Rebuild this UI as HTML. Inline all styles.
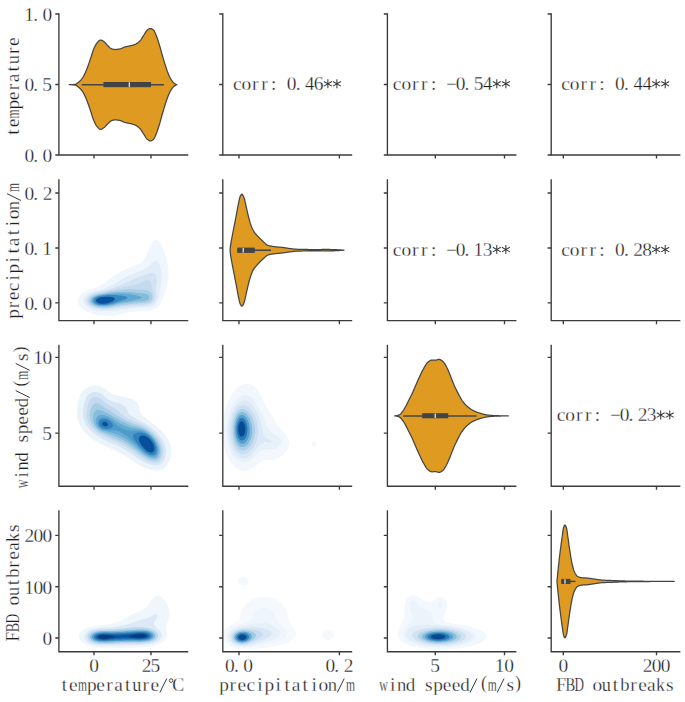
<!DOCTYPE html>
<html><head><meta charset="utf-8"><style>
html,body{margin:0;padding:0;background:#fff;width:685px;height:702px;overflow:hidden}
svg{display:block}
text{font-family:"Liberation Serif",serif;font-size:18.0px;fill:#1e1e1e;stroke:#fff;stroke-width:0.25px}
</style></head><body>
<svg width="685" height="702" viewBox="0 0 685 702">
<rect width="685" height="702" fill="#fff"/>
<defs><clipPath id="clip00"><rect x="58.9" y="14.0" width="128.7" height="141.0"/></clipPath><clipPath id="clip01"><rect x="222.8" y="14.0" width="128.7" height="141.0"/></clipPath><clipPath id="clip02"><rect x="387.4" y="14.0" width="128.30000000000007" height="141.0"/></clipPath><clipPath id="clip03"><rect x="551.2" y="14.0" width="128.5" height="141.0"/></clipPath><clipPath id="clip10"><rect x="58.9" y="180.0" width="128.7" height="140.60000000000002"/></clipPath><clipPath id="clip11"><rect x="222.8" y="180.0" width="128.7" height="140.60000000000002"/></clipPath><clipPath id="clip12"><rect x="387.4" y="180.0" width="128.30000000000007" height="140.60000000000002"/></clipPath><clipPath id="clip13"><rect x="551.2" y="180.0" width="128.5" height="140.60000000000002"/></clipPath><clipPath id="clip20"><rect x="58.9" y="345.4" width="128.7" height="140.8"/></clipPath><clipPath id="clip21"><rect x="222.8" y="345.4" width="128.7" height="140.8"/></clipPath><clipPath id="clip22"><rect x="387.4" y="345.4" width="128.30000000000007" height="140.8"/></clipPath><clipPath id="clip23"><rect x="551.2" y="345.4" width="128.5" height="140.8"/></clipPath><clipPath id="clip30"><rect x="58.9" y="510.9" width="128.7" height="140.80000000000007"/></clipPath><clipPath id="clip31"><rect x="222.8" y="510.9" width="128.7" height="140.80000000000007"/></clipPath><clipPath id="clip32"><rect x="387.4" y="510.9" width="128.30000000000007" height="140.80000000000007"/></clipPath><clipPath id="clip33"><rect x="551.2" y="510.9" width="128.5" height="140.80000000000007"/></clipPath></defs>
<g clip-path="url(#clip10)">
<path d="M154.9 240.5 155.4 240.4 155.9 240.3 156.4 240.4 156.9 240.4 157.1 240.5 157.4 240.6 157.9 240.8 158.2 241.0 158.4 241.1 158.9 241.5 158.9 241.5 159.4 242.0 159.4 242.0 159.9 242.5 159.9 242.5 160.3 243.0 160.4 243.1 160.7 243.5 160.9 243.8 161.0 244.0 161.3 244.5 161.4 244.7 161.6 245.0 161.9 245.5 161.9 245.6 162.1 246.0 162.3 246.5 162.4 246.6 162.6 247.0 162.8 247.5 162.9 247.8 163.0 248.0 163.2 248.5 163.4 249.0 163.4 249.1 163.5 249.5 163.7 250.0 163.9 250.5 163.9 250.6 164.0 251.0 164.2 251.5 164.4 252.0 164.4 252.1 164.5 252.5 164.7 253.0 164.8 253.5 164.9 253.8 165.0 254.0 165.1 254.5 165.2 255.0 165.4 255.5 165.4 255.6 165.5 256.0 165.6 256.5 165.8 257.0 165.9 257.5 165.9 257.5 166.0 258.0 166.2 258.5 166.3 259.0 166.4 259.5 166.4 259.5 166.5 260.0 166.7 260.5 166.8 261.0 166.9 261.5 166.9 261.5 167.0 262.0 167.1 262.5 167.2 263.0 167.3 263.5 167.4 263.8 167.5 264.0 167.6 264.5 167.7 265.0 167.7 265.5 167.8 266.0 167.9 266.4 167.9 266.5 168.0 267.0 168.1 267.5 168.1 268.0 168.2 268.5 168.3 269.0 168.3 269.5 168.4 270.0 168.4 270.5 168.4 270.5 168.4 271.0 168.5 271.5 168.5 272.0 168.5 272.5 168.5 273.0 168.5 273.5 168.5 274.0 168.5 274.5 168.5 275.0 168.4 275.5 168.4 276.0 168.4 276.2 168.4 276.5 168.3 277.0 168.3 277.5 168.2 278.0 168.2 278.5 168.1 279.0 168.1 279.5 168.0 280.0 167.9 280.5 167.9 280.6 167.8 281.0 167.8 281.5 167.7 282.0 167.6 282.5 167.5 283.0 167.4 283.3 167.4 283.5 167.3 284.0 167.2 284.5 167.0 285.0 166.9 285.5 166.9 285.6 166.8 286.0 166.7 286.5 166.5 287.0 166.4 287.5 166.4 287.5 166.3 288.0 166.1 288.5 166.0 289.0 165.9 289.3 165.8 289.5 165.7 290.0 165.5 290.5 165.4 290.9 165.4 291.0 165.2 291.5 165.1 292.0 164.9 292.5 164.9 292.5 164.7 293.0 164.6 293.5 164.4 294.0 164.4 294.0 164.2 294.5 164.1 295.0 163.9 295.5 163.9 295.5 163.8 296.0 163.6 296.5 163.4 297.0 163.4 297.1 163.3 297.5 163.1 298.0 162.9 298.5 162.9 298.5 162.7 299.0 162.5 299.5 162.4 299.9 162.3 300.0 162.1 300.5 161.9 301.0 161.9 301.0 161.7 301.5 161.4 302.0 161.4 302.0 161.2 302.5 160.9 302.9 160.9 303.0 160.6 303.5 160.4 303.7 160.2 304.0 159.9 304.4 159.8 304.5 159.5 305.0 159.4 305.1 159.0 305.5 158.9 305.6 158.5 306.0 158.4 306.1 158.0 306.5 157.9 306.6 157.4 307.0 157.4 307.0 156.9 307.4 156.8 307.5 156.4 307.8 156.1 308.0 155.9 308.1 155.4 308.4 155.2 308.5 154.9 308.7 154.4 308.9 154.2 309.0 153.9 309.1 153.4 309.3 152.9 309.5 152.9 309.5 152.4 309.7 151.9 309.8 151.4 310.0 151.3 310.0 150.9 310.1 150.4 310.2 149.9 310.3 149.4 310.4 148.9 310.5 148.5 310.5 148.4 310.5 147.9 310.6 147.4 310.6 146.9 310.7 146.4 310.7 145.9 310.7 145.4 310.8 144.9 310.8 144.4 310.8 143.9 310.8 143.4 310.9 142.9 310.9 142.4 310.9 141.9 310.9 141.4 311.0 140.9 311.0 140.8 311.0 140.4 311.0 139.9 311.1 139.4 311.1 138.9 311.1 138.4 311.2 137.9 311.2 137.4 311.3 136.9 311.3 136.4 311.4 135.9 311.4 135.4 311.5 135.3 311.5 134.9 311.6 134.4 311.6 133.9 311.7 133.4 311.8 132.9 311.8 132.4 311.9 131.9 312.0 131.8 312.0 131.4 312.1 130.9 312.2 130.4 312.2 129.9 312.3 129.4 312.4 128.9 312.5 128.9 312.5 128.4 312.6 127.9 312.7 127.4 312.8 126.9 312.9 126.4 313.0 126.3 313.0 125.9 313.1 125.4 313.2 124.9 313.3 124.4 313.4 123.9 313.5 123.8 313.5 123.4 313.6 122.9 313.7 122.4 313.8 121.9 313.9 121.4 314.0 121.3 314.0 120.9 314.1 120.4 314.2 119.9 314.3 119.4 314.4 118.9 314.5 118.7 314.5 118.4 314.6 117.9 314.7 117.4 314.8 116.9 314.8 116.4 314.9 115.9 315.0 115.9 315.0 115.4 315.1 114.9 315.2 114.4 315.2 113.9 315.3 113.4 315.4 112.9 315.4 112.4 315.5 112.1 315.5 111.9 315.5 111.4 315.6 110.9 315.6 110.4 315.7 109.9 315.7 109.4 315.7 108.9 315.8 108.4 315.8 107.9 315.8 107.4 315.8 106.9 315.8 106.4 315.8 105.9 315.8 105.4 315.8 104.9 315.8 104.4 315.8 103.9 315.7 103.4 315.7 102.9 315.7 102.4 315.7 101.9 315.6 101.4 315.6 100.9 315.5 100.8 315.5 100.4 315.5 99.9 315.4 99.4 315.3 98.9 315.3 98.4 315.2 97.9 315.1 97.5 315.0 97.4 315.0 96.9 314.9 96.4 314.8 95.9 314.7 95.4 314.6 95.1 314.5 94.9 314.5 94.4 314.3 93.9 314.2 93.4 314.1 93.2 314.0 92.9 313.9 92.4 313.8 91.9 313.6 91.6 313.5 91.4 313.4 90.9 313.3 90.4 313.1 90.2 313.0 89.9 312.9 89.4 312.7 89.0 312.5 88.9 312.5 88.4 312.3 87.9 312.0 87.8 312.0 87.4 311.8 86.9 311.6 86.8 311.5 86.4 311.3 85.9 311.0 85.8 311.0 85.4 310.8 85.0 310.5 84.9 310.5 84.4 310.2 84.2 310.0 83.9 309.8 83.4 309.5 83.4 309.5 82.9 309.1 82.7 309.0 82.4 308.7 82.1 308.5 81.9 308.3 81.5 308.0 81.4 307.9 81.0 307.5 80.9 307.4 80.5 307.0 80.4 306.8 80.1 306.5 79.9 306.2 79.7 306.0 79.4 305.5 79.4 305.5 79.1 305.0 78.9 304.7 78.8 304.5 78.5 304.0 78.4 303.6 78.4 303.5 78.2 303.0 78.1 302.5 78.0 302.0 77.9 301.5 77.9 301.0 77.9 300.5 78.0 300.0 78.1 299.5 78.2 299.0 78.4 298.5 78.4 298.4 78.6 298.0 78.8 297.5 78.9 297.4 79.1 297.0 79.4 296.5 79.4 296.5 79.8 296.0 79.9 295.9 80.2 295.5 80.4 295.3 80.7 295.0 80.9 294.8 81.2 294.5 81.4 294.3 81.8 294.0 81.9 293.9 82.4 293.5 82.4 293.5 82.9 293.1 83.1 293.0 83.4 292.8 83.8 292.5 83.9 292.5 84.4 292.1 84.6 292.0 84.9 291.9 85.4 291.6 85.6 291.5 85.9 291.3 86.4 291.1 86.6 291.0 86.9 290.8 87.4 290.6 87.6 290.5 87.9 290.4 88.4 290.2 88.9 290.0 88.9 290.0 89.4 289.8 89.9 289.6 90.2 289.5 90.4 289.4 90.9 289.2 91.4 289.1 91.6 289.0 91.9 288.9 92.4 288.7 92.9 288.6 93.1 288.5 93.4 288.4 93.9 288.2 94.4 288.1 94.6 288.0 94.9 287.9 95.4 287.7 95.9 287.5 96.0 287.5 96.4 287.4 96.9 287.2 97.4 287.0 97.4 287.0 97.9 286.8 98.4 286.6 98.5 286.5 98.9 286.3 99.4 286.1 99.6 286.0 99.9 285.8 100.4 285.6 100.5 285.5 100.9 285.3 101.3 285.0 101.4 285.0 101.9 284.6 102.1 284.5 102.4 284.3 102.9 284.0 102.9 284.0 103.4 283.6 103.6 283.5 103.9 283.3 104.3 283.0 104.4 282.9 104.9 282.6 105.0 282.5 105.4 282.2 105.7 282.0 105.9 281.8 106.3 281.5 106.4 281.5 106.9 281.1 107.0 281.0 107.4 280.7 107.7 280.5 107.9 280.3 108.3 280.0 108.4 279.9 108.9 279.6 109.0 279.5 109.4 279.2 109.6 279.0 109.9 278.8 110.3 278.5 110.4 278.4 110.9 278.1 111.0 278.0 111.4 277.7 111.7 277.5 111.9 277.3 112.4 277.0 112.4 277.0 112.9 276.6 113.1 276.5 113.4 276.3 113.8 276.0 113.9 275.9 114.4 275.6 114.6 275.5 114.9 275.3 115.3 275.0 115.4 274.9 115.9 274.6 116.1 274.5 116.4 274.3 116.9 274.0 116.9 274.0 117.4 273.7 117.7 273.5 117.9 273.4 118.4 273.1 118.5 273.0 118.9 272.8 119.4 272.5 119.4 272.5 119.9 272.2 120.3 272.0 120.4 271.9 120.9 271.7 121.2 271.5 121.4 271.4 121.9 271.1 122.2 271.0 122.4 270.9 122.9 270.6 123.1 270.5 123.4 270.4 123.9 270.1 124.1 270.0 124.4 269.9 124.9 269.6 125.2 269.5 125.4 269.4 125.9 269.2 126.2 269.0 126.4 268.9 126.9 268.7 127.3 268.5 127.4 268.5 127.9 268.3 128.4 268.0 128.5 268.0 128.9 267.8 129.4 267.6 129.7 267.5 129.9 267.4 130.4 267.2 130.9 267.0 130.9 267.0 131.4 266.8 131.9 266.6 132.1 266.5 132.4 266.4 132.9 266.2 133.4 266.0 133.4 266.0 133.9 265.8 134.4 265.6 134.7 265.5 134.9 265.4 135.4 265.2 135.9 265.0 136.0 265.0 136.4 264.8 136.9 264.6 137.2 264.5 137.4 264.4 137.9 264.2 138.4 264.0 138.4 264.0 138.9 263.7 139.4 263.5 139.4 263.5 139.9 263.2 140.3 263.0 140.4 263.0 140.9 262.7 141.1 262.5 141.4 262.3 141.8 262.0 141.9 262.0 142.4 261.6 142.5 261.5 142.9 261.1 143.0 261.0 143.4 260.6 143.5 260.5 143.9 260.0 143.9 260.0 144.3 259.5 144.4 259.3 144.6 259.0 144.9 258.6 144.9 258.5 145.2 258.0 145.4 257.7 145.5 257.5 145.7 257.0 145.9 256.7 146.0 256.5 146.2 256.0 146.4 255.5 146.4 255.5 146.6 255.0 146.8 254.5 146.9 254.2 147.0 254.0 147.1 253.5 147.3 253.0 147.4 252.7 147.5 252.5 147.7 252.0 147.8 251.5 147.9 251.3 148.0 251.0 148.2 250.5 148.3 250.0 148.4 249.8 148.5 249.5 148.7 249.0 148.9 248.5 148.9 248.5 149.1 248.0 149.3 247.5 149.4 247.2 149.5 247.0 149.7 246.5 149.9 246.1 149.9 246.0 150.2 245.5 150.4 245.1 150.5 245.0 150.7 244.5 150.9 244.2 151.0 244.0 151.4 243.5 151.4 243.4 151.7 243.0 151.9 242.8 152.1 242.5 152.4 242.2 152.6 242.0 152.9 241.7 153.1 241.5 153.4 241.3 153.8 241.0 153.9 241.0 154.4 240.7 154.9 240.5 154.9 240.5Z" fill="#f0f6fd" fill-rule="evenodd"/>
<path d="M154.4 261.0 154.4 261.0 154.9 260.7 155.4 260.6 155.9 260.6 156.4 260.8 156.9 261.0 156.9 261.0 157.4 261.4 157.5 261.5 157.9 262.0 157.9 262.0 158.2 262.5 158.4 262.7 158.6 263.0 158.8 263.5 158.9 263.6 159.1 264.0 159.3 264.5 159.4 264.7 159.5 265.0 159.7 265.5 159.9 266.0 159.9 266.1 160.0 266.5 160.2 267.0 160.3 267.5 160.4 267.7 160.5 268.0 160.6 268.5 160.7 269.0 160.8 269.5 160.9 269.8 160.9 270.0 161.0 270.5 161.1 271.0 161.2 271.5 161.3 272.0 161.3 272.5 161.4 272.9 161.4 273.0 161.5 273.5 161.5 274.0 161.5 274.5 161.6 275.0 161.6 275.5 161.6 276.0 161.6 276.5 161.6 277.0 161.6 277.5 161.6 278.0 161.6 278.5 161.6 279.0 161.6 279.5 161.5 280.0 161.5 280.5 161.4 281.0 161.4 281.4 161.4 281.5 161.3 282.0 161.3 282.5 161.2 283.0 161.1 283.5 161.0 284.0 160.9 284.5 160.9 284.6 160.8 285.0 160.7 285.5 160.6 286.0 160.5 286.5 160.4 286.9 160.4 287.0 160.3 287.5 160.1 288.0 160.0 288.5 159.9 289.0 159.9 289.0 159.8 289.5 159.7 290.0 159.6 290.5 159.5 291.0 159.4 291.5 159.4 291.8 159.4 292.0 159.3 292.5 159.3 293.0 159.2 293.5 159.2 294.0 159.1 294.5 159.0 295.0 159.0 295.5 158.9 296.0 158.9 296.2 158.9 296.5 158.8 297.0 158.7 297.5 158.6 298.0 158.4 298.5 158.4 298.6 158.3 299.0 158.1 299.5 157.9 300.0 157.9 300.1 157.7 300.5 157.5 301.0 157.4 301.2 157.2 301.5 156.9 302.0 156.9 302.0 156.6 302.5 156.4 302.7 156.2 303.0 155.9 303.3 155.8 303.5 155.4 303.9 155.3 304.0 154.9 304.3 154.7 304.5 154.4 304.7 154.0 305.0 153.9 305.1 153.4 305.4 153.2 305.5 152.9 305.7 152.4 305.9 152.2 306.0 151.9 306.1 151.4 306.3 150.9 306.5 150.9 306.5 150.4 306.7 149.9 306.8 149.4 306.9 149.0 307.0 148.9 307.0 148.4 307.1 147.9 307.2 147.4 307.3 146.9 307.3 146.4 307.4 145.9 307.4 145.4 307.4 144.9 307.5 144.5 307.5 144.4 307.5 143.9 307.5 143.4 307.6 142.9 307.6 142.4 307.6 141.9 307.6 141.4 307.7 140.9 307.7 140.4 307.7 139.9 307.7 139.4 307.8 138.9 307.8 138.4 307.8 137.9 307.9 137.4 307.9 136.9 307.9 136.4 308.0 136.0 308.0 135.9 308.0 135.4 308.0 134.9 308.1 134.4 308.1 133.9 308.2 133.4 308.2 132.9 308.3 132.4 308.3 131.9 308.4 131.4 308.4 130.9 308.5 130.9 308.5 130.4 308.6 129.9 308.6 129.4 308.7 128.9 308.7 128.4 308.8 127.9 308.8 127.4 308.9 126.9 309.0 126.6 309.0 126.4 309.0 125.9 309.1 125.4 309.2 124.9 309.2 124.4 309.3 123.9 309.4 123.4 309.4 122.9 309.5 122.7 309.5 122.4 309.5 121.9 309.6 121.4 309.7 120.9 309.7 120.4 309.8 119.9 309.9 119.4 309.9 119.0 310.0 118.9 310.0 118.4 310.1 117.9 310.2 117.4 310.2 116.9 310.3 116.4 310.4 115.9 310.4 115.4 310.5 115.3 310.5 114.9 310.5 114.4 310.6 113.9 310.7 113.4 310.7 112.9 310.8 112.4 310.8 111.9 310.9 111.4 310.9 110.9 311.0 110.4 311.0 110.3 311.0 109.9 311.0 109.4 311.1 108.9 311.1 108.4 311.1 107.9 311.1 107.4 311.1 106.9 311.2 106.4 311.2 105.9 311.2 105.4 311.2 104.9 311.2 104.4 311.1 103.9 311.1 103.4 311.1 102.9 311.1 102.4 311.1 101.9 311.1 101.4 311.0 101.2 311.0 100.9 311.0 100.4 310.9 99.9 310.9 99.4 310.9 98.9 310.8 98.4 310.7 97.9 310.7 97.4 310.6 97.0 310.5 96.9 310.5 96.4 310.4 95.9 310.3 95.4 310.2 94.9 310.1 94.6 310.0 94.4 310.0 93.9 309.8 93.4 309.7 92.9 309.5 92.9 309.5 92.4 309.4 91.9 309.2 91.4 309.0 91.4 309.0 90.9 308.8 90.4 308.6 90.3 308.5 89.9 308.3 89.4 308.1 89.2 308.0 88.9 307.8 88.4 307.5 88.4 307.5 87.9 307.2 87.6 307.0 87.4 306.9 86.9 306.5 86.9 306.5 86.4 306.1 86.3 306.0 85.9 305.6 85.8 305.5 85.4 305.1 85.3 305.0 84.9 304.5 84.9 304.5 84.5 304.0 84.4 303.7 84.3 303.5 84.0 303.0 83.9 302.7 83.8 302.5 83.7 302.0 83.6 301.5 83.5 301.0 83.5 300.5 83.6 300.0 83.7 299.5 83.8 299.0 83.9 298.8 84.0 298.5 84.3 298.0 84.4 297.8 84.5 297.5 84.9 297.0 84.9 297.0 85.3 296.5 85.4 296.4 85.8 296.0 85.9 295.9 86.3 295.5 86.4 295.4 86.9 295.0 86.9 295.0 87.4 294.6 87.6 294.5 87.9 294.3 88.4 294.0 88.4 294.0 88.9 293.7 89.3 293.5 89.4 293.4 89.9 293.2 90.3 293.0 90.4 292.9 90.9 292.7 91.4 292.5 91.5 292.5 91.9 292.3 92.4 292.1 92.8 292.0 92.9 292.0 93.4 291.8 93.9 291.6 94.4 291.5 94.4 291.5 94.9 291.4 95.4 291.2 95.9 291.1 96.3 291.0 96.4 291.0 96.9 290.8 97.4 290.7 97.9 290.6 98.4 290.5 98.4 290.5 98.9 290.4 99.4 290.2 99.9 290.1 100.4 290.0 100.4 290.0 100.9 289.8 101.4 289.7 101.9 289.5 102.0 289.5 102.4 289.4 102.9 289.2 103.4 289.0 103.5 289.0 103.9 288.8 104.4 288.6 104.7 288.5 104.9 288.4 105.4 288.2 105.9 288.0 105.9 288.0 106.4 287.8 106.9 287.5 107.0 287.5 107.4 287.3 107.9 287.1 108.1 287.0 108.4 286.8 108.9 286.6 109.1 286.5 109.4 286.4 109.9 286.1 110.2 286.0 110.4 285.9 110.9 285.7 111.2 285.5 111.4 285.4 111.9 285.2 112.2 285.0 112.4 284.9 112.9 284.7 113.2 284.5 113.4 284.4 113.9 284.1 114.1 284.0 114.4 283.8 114.9 283.5 115.0 283.5 115.4 283.2 115.8 283.0 115.9 282.9 116.4 282.6 116.6 282.5 116.9 282.3 117.4 282.0 117.4 282.0 117.9 281.7 118.2 281.5 118.4 281.4 118.9 281.1 119.0 281.0 119.4 280.7 119.8 280.5 119.9 280.4 120.4 280.1 120.6 280.0 120.9 279.8 121.4 279.5 121.4 279.5 121.9 279.2 122.3 279.0 122.4 278.9 122.9 278.6 123.1 278.5 123.4 278.3 123.9 278.1 124.0 278.0 124.4 277.8 124.9 277.5 125.0 277.5 125.4 277.3 125.9 277.0 125.9 277.0 126.4 276.8 126.9 276.5 127.0 276.5 127.4 276.3 127.9 276.1 128.0 276.0 128.4 275.8 128.9 275.6 129.1 275.5 129.4 275.4 129.9 275.2 130.3 275.0 130.4 275.0 130.9 274.7 131.4 274.5 131.5 274.5 131.9 274.3 132.4 274.1 132.7 274.0 132.9 273.9 133.4 273.7 133.9 273.5 134.0 273.5 134.4 273.3 134.9 273.1 135.3 273.0 135.4 273.0 135.9 272.8 136.4 272.6 136.6 272.5 136.9 272.4 137.4 272.2 137.9 272.0 137.9 272.0 138.4 271.8 138.9 271.6 139.2 271.5 139.4 271.4 139.9 271.2 140.4 271.1 140.5 271.0 140.9 270.8 141.4 270.6 141.7 270.5 141.9 270.4 142.4 270.2 142.9 270.0 142.9 270.0 143.4 269.8 143.9 269.5 143.9 269.5 144.4 269.3 144.9 269.0 144.9 269.0 145.4 268.7 145.8 268.5 145.9 268.4 146.4 268.1 146.6 268.0 146.9 267.8 147.3 267.5 147.4 267.4 147.9 267.0 147.9 267.0 148.4 266.6 148.5 266.5 148.9 266.2 149.1 266.0 149.4 265.7 149.7 265.5 149.9 265.3 150.2 265.0 150.4 264.8 150.7 264.5 150.9 264.2 151.1 264.0 151.4 263.7 151.6 263.5 151.9 263.2 152.1 263.0 152.4 262.6 152.5 262.5 152.9 262.1 153.1 262.0 153.4 261.7 153.6 261.5 153.9 261.3 154.4 261.0Z" fill="#e1edf8" fill-rule="evenodd"/>
<path d="M150.1 273.0 150.4 272.9 150.9 272.8 151.4 272.8 151.9 272.7 152.4 272.7 152.9 272.8 153.4 272.9 153.6 273.0 153.9 273.1 154.4 273.4 154.5 273.5 154.9 273.9 155.0 274.0 155.4 274.5 155.4 274.6 155.6 275.0 155.9 275.5 155.9 275.5 156.1 276.0 156.3 276.5 156.4 277.0 156.4 277.0 156.5 277.5 156.6 278.0 156.7 278.5 156.7 279.0 156.8 279.5 156.8 280.0 156.8 280.5 156.8 281.0 156.8 281.5 156.8 282.0 156.7 282.5 156.7 283.0 156.6 283.5 156.6 284.0 156.5 284.5 156.4 285.0 156.4 285.1 156.3 285.5 156.2 286.0 156.2 286.5 156.1 287.0 156.0 287.5 156.0 288.0 155.9 288.5 155.9 289.0 155.9 289.5 155.9 290.0 155.9 290.5 156.0 291.0 156.0 291.5 156.1 292.0 156.1 292.5 156.2 293.0 156.2 293.5 156.3 294.0 156.3 294.5 156.3 295.0 156.3 295.5 156.3 296.0 156.3 296.5 156.3 297.0 156.2 297.5 156.1 298.0 156.0 298.5 155.9 298.8 155.8 299.0 155.7 299.5 155.5 300.0 155.4 300.1 155.2 300.5 154.9 301.0 154.9 301.0 154.6 301.5 154.4 301.7 154.2 302.0 153.9 302.3 153.7 302.5 153.4 302.8 153.2 303.0 152.9 303.2 152.5 303.5 152.4 303.6 151.9 303.9 151.7 304.0 151.4 304.1 150.9 304.4 150.6 304.5 150.4 304.6 149.9 304.8 149.4 304.9 149.0 305.0 148.9 305.0 148.4 305.2 147.9 305.3 147.4 305.3 146.9 305.4 146.4 305.5 146.1 305.5 145.9 305.5 145.4 305.6 144.9 305.6 144.4 305.6 143.9 305.7 143.4 305.7 142.9 305.7 142.4 305.8 141.9 305.8 141.4 305.8 140.9 305.8 140.4 305.9 139.9 305.9 139.4 305.9 138.9 305.9 138.4 306.0 138.0 306.0 137.9 306.0 137.4 306.0 136.9 306.1 136.4 306.1 135.9 306.2 135.4 306.2 134.9 306.2 134.4 306.3 133.9 306.3 133.4 306.4 132.9 306.4 132.4 306.5 132.1 306.5 131.9 306.5 131.4 306.6 130.9 306.6 130.4 306.7 129.9 306.7 129.4 306.8 128.9 306.8 128.4 306.9 127.9 306.9 127.4 307.0 127.2 307.0 126.9 307.0 126.4 307.1 125.9 307.2 125.4 307.2 124.9 307.3 124.4 307.3 123.9 307.4 123.4 307.4 122.9 307.5 122.8 307.5 122.4 307.6 121.9 307.6 121.4 307.7 120.9 307.7 120.4 307.8 119.9 307.9 119.4 307.9 119.0 308.0 118.9 308.0 118.4 308.1 117.9 308.2 117.4 308.2 116.9 308.3 116.4 308.4 115.9 308.4 115.5 308.5 115.4 308.5 114.9 308.6 114.4 308.7 113.9 308.7 113.4 308.8 112.9 308.9 112.4 308.9 111.9 309.0 111.7 309.0 111.4 309.0 110.9 309.1 110.4 309.1 109.9 309.2 109.4 309.2 108.9 309.3 108.4 309.3 107.9 309.3 107.4 309.4 106.9 309.4 106.4 309.4 105.9 309.4 105.4 309.4 104.9 309.4 104.4 309.4 103.9 309.4 103.4 309.4 102.9 309.4 102.4 309.4 101.9 309.4 101.4 309.4 100.9 309.3 100.4 309.3 99.9 309.2 99.4 309.2 98.9 309.1 98.4 309.1 98.0 309.0 97.9 309.0 97.4 308.9 96.9 308.8 96.4 308.7 95.9 308.6 95.5 308.5 95.4 308.5 94.9 308.4 94.4 308.2 93.9 308.1 93.7 308.0 93.4 307.9 92.9 307.7 92.4 307.5 92.4 307.5 91.9 307.3 91.4 307.1 91.3 307.0 90.9 306.8 90.4 306.5 90.3 306.5 89.9 306.2 89.5 306.0 89.4 305.9 88.9 305.5 88.9 305.5 88.4 305.1 88.3 305.0 87.9 304.6 87.8 304.5 87.4 304.0 87.4 304.0 87.0 303.5 86.9 303.3 86.7 303.0 86.5 302.5 86.4 302.3 86.3 302.0 86.2 301.5 86.1 301.0 86.1 300.5 86.2 300.0 86.3 299.5 86.4 299.1 86.4 299.0 86.6 298.5 86.9 298.0 86.9 298.0 87.2 297.5 87.4 297.3 87.6 297.0 87.9 296.7 88.1 296.5 88.4 296.2 88.7 296.0 88.9 295.8 89.3 295.5 89.4 295.4 89.9 295.1 90.1 295.0 90.4 294.8 90.9 294.5 90.9 294.5 91.4 294.3 91.9 294.0 92.0 294.0 92.4 293.8 92.9 293.6 93.2 293.5 93.4 293.4 93.9 293.2 94.4 293.1 94.6 293.0 94.9 292.9 95.4 292.8 95.9 292.6 96.4 292.5 96.5 292.5 96.9 292.4 97.4 292.3 97.9 292.2 98.4 292.1 98.7 292.0 98.9 292.0 99.4 291.8 99.9 291.7 100.4 291.6 100.9 291.5 101.1 291.5 101.4 291.4 101.9 291.3 102.4 291.2 102.9 291.1 103.1 291.0 103.4 290.9 103.9 290.8 104.4 290.6 104.9 290.5 104.9 290.5 105.4 290.3 105.9 290.2 106.4 290.0 106.4 290.0 106.9 289.8 107.4 289.7 107.9 289.5 107.9 289.5 108.4 289.3 108.9 289.2 109.4 289.0 109.4 289.0 109.9 288.8 110.4 288.7 110.9 288.5 111.0 288.5 111.4 288.4 111.9 288.2 112.4 288.0 112.5 288.0 112.9 287.9 113.4 287.7 113.9 287.6 114.1 287.5 114.4 287.4 114.9 287.3 115.4 287.1 115.7 287.0 115.9 286.9 116.4 286.8 116.9 286.6 117.1 286.5 117.4 286.4 117.9 286.2 118.4 286.0 118.5 286.0 118.9 285.8 119.4 285.6 119.7 285.5 119.9 285.4 120.4 285.2 120.9 285.0 120.9 285.0 121.4 284.8 121.9 284.5 122.0 284.5 122.4 284.3 122.9 284.1 123.1 284.0 123.4 283.8 123.9 283.6 124.1 283.5 124.4 283.4 124.9 283.1 125.2 283.0 125.4 282.9 125.9 282.6 126.2 282.5 126.4 282.4 126.9 282.2 127.3 282.0 127.4 281.9 127.9 281.7 128.4 281.5 128.4 281.5 128.9 281.3 129.4 281.0 129.5 281.0 129.9 280.8 130.4 280.6 130.7 280.5 130.9 280.4 131.4 280.2 131.9 280.0 131.9 280.0 132.4 279.8 132.9 279.6 133.1 279.5 133.4 279.4 133.9 279.2 134.3 279.0 134.4 279.0 134.9 278.8 135.4 278.6 135.6 278.5 135.9 278.4 136.4 278.2 136.8 278.0 136.9 278.0 137.4 277.8 137.9 277.6 138.0 277.5 138.4 277.4 138.9 277.2 139.3 277.0 139.4 277.0 139.9 276.8 140.4 276.5 140.5 276.5 140.9 276.4 141.4 276.2 141.8 276.0 141.9 276.0 142.4 275.8 142.9 275.6 143.1 275.5 143.4 275.4 143.9 275.2 144.4 275.0 144.4 275.0 144.9 274.8 145.4 274.6 145.7 274.5 145.9 274.4 146.4 274.2 146.9 274.0 147.0 274.0 147.4 273.9 147.9 273.7 148.4 273.5 148.4 273.5 148.9 273.3 149.4 273.2 149.9 273.1 150.1 273.0Z" fill="#d3e3f3" fill-rule="evenodd"/>
<path d="M146.1 280.5 146.4 280.4 146.9 280.3 147.4 280.3 147.9 280.2 148.4 280.3 148.9 280.4 149.4 280.5 149.4 280.5 149.9 280.8 150.1 281.0 150.4 281.3 150.6 281.5 150.9 282.0 150.9 282.1 151.1 282.5 151.2 283.0 151.3 283.5 151.3 284.0 151.4 284.5 151.4 284.6 151.4 285.0 151.5 285.5 151.5 286.0 151.6 286.5 151.7 287.0 151.8 287.5 151.9 288.0 151.9 288.0 152.0 288.5 152.2 289.0 152.4 289.5 152.4 289.5 152.6 290.0 152.8 290.5 152.9 290.7 153.0 291.0 153.2 291.5 153.4 291.9 153.4 292.0 153.6 292.5 153.8 293.0 153.9 293.4 153.9 293.5 154.1 294.0 154.2 294.5 154.3 295.0 154.4 295.5 154.4 296.0 154.4 296.2 154.4 296.5 154.4 296.8 154.4 297.0 154.3 297.5 154.3 298.0 154.2 298.5 154.0 299.0 153.9 299.2 153.8 299.5 153.5 300.0 153.4 300.2 153.2 300.5 152.9 301.0 152.9 301.0 152.4 301.5 152.4 301.5 151.9 302.0 151.9 302.0 151.4 302.3 151.2 302.5 150.9 302.7 150.4 302.9 150.2 303.0 149.9 303.2 149.4 303.4 149.0 303.5 148.9 303.5 148.4 303.7 147.9 303.8 147.4 303.9 146.9 304.0 146.8 304.0 146.4 304.1 145.9 304.1 145.4 304.2 144.9 304.2 144.4 304.3 143.9 304.3 143.4 304.3 142.9 304.4 142.4 304.4 141.9 304.4 141.4 304.5 140.9 304.5 140.6 304.5 140.4 304.5 139.9 304.5 139.4 304.6 138.9 304.6 138.4 304.6 137.9 304.7 137.4 304.7 136.9 304.8 136.4 304.8 135.9 304.8 135.4 304.9 134.9 304.9 134.4 305.0 134.0 305.0 133.9 305.0 133.4 305.1 132.9 305.1 132.4 305.2 131.9 305.2 131.4 305.3 130.9 305.3 130.4 305.4 129.9 305.4 129.4 305.5 129.0 305.5 128.9 305.5 128.4 305.6 127.9 305.6 127.4 305.7 126.9 305.7 126.4 305.8 125.9 305.8 125.4 305.9 124.9 305.9 124.4 306.0 124.4 306.0 123.9 306.1 123.4 306.1 122.9 306.2 122.4 306.2 121.9 306.3 121.4 306.4 120.9 306.4 120.4 306.5 120.4 306.5 119.9 306.6 119.4 306.6 118.9 306.7 118.4 306.8 117.9 306.9 117.4 307.0 117.1 307.0 116.9 307.0 116.4 307.1 115.9 307.2 115.4 307.3 114.9 307.4 114.4 307.4 114.0 307.5 113.9 307.5 113.4 307.6 112.9 307.7 112.4 307.8 111.9 307.8 111.4 307.9 110.9 308.0 110.5 308.0 110.4 308.0 109.9 308.1 109.4 308.1 108.9 308.2 108.4 308.2 107.9 308.3 107.4 308.3 106.9 308.3 106.4 308.3 105.9 308.4 105.4 308.4 104.9 308.4 104.4 308.4 103.9 308.4 103.4 308.4 102.9 308.4 102.4 308.4 101.9 308.4 101.4 308.4 100.9 308.3 100.4 308.3 99.9 308.2 99.4 308.2 98.9 308.1 98.4 308.1 98.1 308.0 97.9 308.0 97.4 307.9 96.9 307.8 96.4 307.7 95.9 307.6 95.7 307.5 95.4 307.4 94.9 307.3 94.4 307.1 94.1 307.0 93.9 306.9 93.4 306.7 92.9 306.5 92.8 306.5 92.4 306.3 91.9 306.0 91.8 306.0 91.4 305.8 91.0 305.5 90.9 305.4 90.4 305.1 90.3 305.0 89.9 304.7 89.7 304.5 89.4 304.2 89.2 304.0 88.9 303.6 88.8 303.5 88.5 303.0 88.4 302.9 88.2 302.5 88.0 302.0 87.9 301.7 87.9 301.5 87.8 301.0 87.8 300.5 87.8 300.0 87.9 299.6 87.9 299.5 88.1 299.0 88.3 298.5 88.4 298.4 88.6 298.0 88.9 297.6 89.0 297.5 89.4 297.1 89.5 297.0 89.9 296.6 90.0 296.5 90.4 296.2 90.6 296.0 90.9 295.8 91.4 295.5 91.4 295.5 91.9 295.2 92.3 295.0 92.4 295.0 92.9 294.7 93.4 294.5 93.4 294.5 93.9 294.3 94.4 294.1 94.7 294.0 94.9 293.9 95.4 293.8 95.9 293.6 96.4 293.5 96.4 293.5 96.9 293.4 97.4 293.2 97.9 293.1 98.4 293.0 98.6 293.0 98.9 292.9 99.4 292.8 99.9 292.7 100.4 292.6 100.9 292.5 101.1 292.5 101.4 292.4 101.9 292.3 102.4 292.2 102.9 292.1 103.4 292.0 103.6 292.0 103.9 291.9 104.4 291.8 104.9 291.7 105.4 291.6 105.6 291.5 105.9 291.4 106.4 291.3 106.9 291.1 107.4 291.0 107.5 291.0 107.9 290.9 108.4 290.7 108.9 290.6 109.3 290.5 109.4 290.5 109.9 290.3 110.4 290.2 110.9 290.1 111.2 290.0 111.4 290.0 111.9 289.8 112.4 289.7 112.9 289.6 113.4 289.5 113.4 289.5 113.9 289.4 114.4 289.3 114.9 289.2 115.4 289.1 115.7 289.0 115.9 289.0 116.4 288.9 116.9 288.7 117.4 288.6 117.9 288.5 118.1 288.5 118.4 288.4 118.9 288.3 119.4 288.2 119.9 288.1 120.3 288.0 120.4 288.0 120.9 287.9 121.4 287.7 121.9 287.6 122.4 287.5 122.4 287.5 122.9 287.4 123.4 287.3 123.9 287.2 124.4 287.0 124.6 287.0 124.9 286.9 125.4 286.8 125.9 286.7 126.4 286.6 126.8 286.5 126.9 286.5 127.4 286.4 127.9 286.3 128.4 286.2 128.9 286.1 129.2 286.0 129.4 286.0 129.9 285.9 130.4 285.8 130.9 285.7 131.4 285.6 131.9 285.5 132.0 285.5 132.4 285.4 132.9 285.3 133.4 285.2 133.9 285.2 134.4 285.1 134.7 285.0 134.9 285.0 135.4 284.9 135.9 284.7 136.4 284.6 136.8 284.5 136.9 284.5 137.4 284.3 137.9 284.1 138.3 284.0 138.4 284.0 138.9 283.7 139.4 283.5 139.5 283.5 139.9 283.3 140.4 283.0 140.5 283.0 140.9 282.8 141.4 282.5 141.4 282.5 141.9 282.3 142.4 282.0 142.4 282.0 142.9 281.8 143.4 281.5 143.4 281.5 143.9 281.3 144.4 281.1 144.6 281.0 144.9 280.9 145.4 280.7 145.9 280.5 146.1 280.5Z" fill="#c4daee" fill-rule="evenodd"/>
<path d="M125.0 289.5 125.4 289.5 125.9 289.4 126.4 289.4 126.9 289.4 127.4 289.3 127.9 289.3 128.4 289.3 128.9 289.3 129.4 289.3 129.9 289.3 130.4 289.3 130.9 289.3 131.4 289.3 131.9 289.4 132.4 289.4 132.9 289.4 133.4 289.4 133.9 289.5 134.2 289.5 134.4 289.5 134.9 289.5 135.4 289.6 135.9 289.6 136.4 289.6 136.9 289.7 137.4 289.7 137.9 289.7 138.4 289.7 138.9 289.8 139.4 289.8 139.9 289.8 140.4 289.8 140.9 289.8 141.4 289.8 141.9 289.8 142.4 289.8 142.9 289.8 143.4 289.9 143.9 289.9 144.4 289.9 144.9 290.0 145.3 290.0 145.4 290.0 145.9 290.1 146.4 290.2 146.9 290.3 147.4 290.5 147.4 290.5 147.9 290.7 148.4 290.9 148.5 291.0 148.9 291.2 149.3 291.5 149.4 291.5 149.9 291.9 150.0 292.0 150.4 292.4 150.5 292.5 150.9 293.0 150.9 293.0 151.3 293.5 151.4 293.7 151.6 294.0 151.9 294.5 151.9 294.6 152.1 295.0 152.2 295.5 152.3 296.0 152.4 296.5 152.4 296.8 152.4 297.0 152.4 297.1 152.4 297.5 152.3 298.0 152.2 298.5 152.0 299.0 151.9 299.2 151.7 299.5 151.4 300.0 151.4 300.0 150.9 300.5 150.9 300.5 150.4 301.0 150.4 301.0 149.9 301.3 149.6 301.5 149.4 301.6 148.9 301.9 148.6 302.0 148.4 302.1 147.9 302.2 147.4 302.4 146.9 302.5 146.9 302.5 146.4 302.6 145.9 302.7 145.4 302.7 144.9 302.8 144.4 302.9 143.9 302.9 143.4 302.9 142.9 303.0 142.6 303.0 142.4 303.0 141.9 303.0 141.4 303.1 140.9 303.1 140.4 303.1 139.9 303.2 139.4 303.2 138.9 303.3 138.4 303.3 137.9 303.3 137.4 303.4 136.9 303.4 136.4 303.5 136.1 303.5 135.9 303.5 135.4 303.6 134.9 303.6 134.4 303.7 133.9 303.7 133.4 303.8 132.9 303.8 132.4 303.9 131.9 303.9 131.4 304.0 131.1 304.0 130.9 304.0 130.4 304.1 129.9 304.1 129.4 304.2 128.9 304.2 128.4 304.3 127.9 304.4 127.4 304.4 126.9 304.5 126.6 304.5 126.4 304.5 125.9 304.6 125.4 304.6 124.9 304.7 124.4 304.8 123.9 304.8 123.4 304.9 122.9 304.9 122.4 305.0 122.4 305.0 121.9 305.1 121.4 305.1 120.9 305.2 120.4 305.3 119.9 305.4 119.4 305.4 119.0 305.5 118.9 305.5 118.4 305.6 117.9 305.7 117.4 305.8 116.9 305.9 116.4 306.0 116.2 306.0 115.9 306.1 115.4 306.2 114.9 306.3 114.4 306.4 113.9 306.4 113.6 306.5 113.4 306.5 112.9 306.6 112.4 306.7 111.9 306.8 111.4 306.9 110.9 307.0 110.6 307.0 110.4 307.0 109.9 307.1 109.4 307.2 108.9 307.2 108.4 307.3 107.9 307.3 107.4 307.4 106.9 307.4 106.4 307.4 105.9 307.5 105.4 307.5 105.0 307.5 104.9 307.5 104.4 307.5 103.9 307.5 103.4 307.5 102.9 307.5 102.4 307.5 101.9 307.5 101.9 307.5 101.4 307.5 100.9 307.4 100.4 307.4 99.9 307.4 99.4 307.3 98.9 307.2 98.4 307.2 97.9 307.1 97.5 307.0 97.4 307.0 96.9 306.9 96.4 306.8 95.9 306.6 95.5 306.5 95.4 306.5 94.9 306.3 94.4 306.1 94.1 306.0 93.9 305.9 93.4 305.7 93.1 305.5 92.9 305.4 92.4 305.1 92.2 305.0 91.9 304.8 91.5 304.5 91.4 304.4 90.9 304.0 90.9 304.0 90.4 303.5 90.4 303.5 90.0 303.0 89.9 302.8 89.7 302.5 89.5 302.0 89.4 301.7 89.3 301.5 89.3 301.0 89.2 300.5 89.3 300.0 89.4 299.5 89.4 299.5 89.6 299.0 89.8 298.5 89.9 298.4 90.2 298.0 90.4 297.7 90.6 297.5 90.9 297.2 91.1 297.0 91.4 296.8 91.8 296.5 91.9 296.4 92.4 296.1 92.5 296.0 92.9 295.8 93.4 295.5 93.5 295.5 93.9 295.3 94.4 295.1 94.6 295.0 94.9 294.9 95.4 294.7 95.9 294.5 96.0 294.5 96.4 294.4 96.9 294.3 97.4 294.1 97.9 294.0 97.9 294.0 98.4 293.9 98.9 293.8 99.4 293.7 99.9 293.6 100.4 293.5 100.5 293.5 100.9 293.4 101.4 293.3 101.9 293.2 102.4 293.2 102.9 293.1 103.3 293.0 103.4 293.0 103.9 292.9 104.4 292.8 104.9 292.7 105.4 292.6 105.8 292.5 105.9 292.5 106.4 292.4 106.9 292.2 107.4 292.1 107.9 292.0 108.0 292.0 108.4 291.9 108.9 291.8 109.4 291.7 109.9 291.6 110.3 291.5 110.4 291.5 110.9 291.4 111.4 291.3 111.9 291.2 112.4 291.1 112.9 291.0 113.0 291.0 113.4 290.9 113.9 290.8 114.4 290.8 114.9 290.7 115.4 290.6 115.9 290.6 116.4 290.5 116.4 290.5 116.9 290.4 117.4 290.4 117.9 290.3 118.4 290.2 118.9 290.2 119.4 290.1 119.9 290.0 120.3 290.0 120.4 290.0 120.9 289.9 121.4 289.9 121.9 289.8 122.4 289.7 122.9 289.7 123.4 289.6 123.9 289.6 124.4 289.5 124.9 289.5 125.0 289.5Z" fill="#a8cee4" fill-rule="evenodd"/>
<path d="M120.4 292.0 120.9 292.0 121.4 292.0 121.9 291.9 122.4 291.9 122.9 291.9 123.4 291.9 123.9 291.9 124.4 291.9 124.9 291.9 125.4 291.9 125.9 291.9 126.4 291.9 126.9 291.9 127.4 291.9 127.9 291.9 128.4 292.0 128.8 292.0 128.9 292.0 129.4 292.0 129.9 292.1 130.4 292.1 130.9 292.2 131.4 292.2 131.9 292.3 132.4 292.3 132.9 292.4 133.4 292.4 133.9 292.5 133.9 292.5 134.4 292.6 134.9 292.6 135.4 292.7 135.9 292.8 136.4 292.8 136.9 292.9 137.4 292.9 137.9 293.0 138.0 293.0 138.4 293.0 138.9 293.1 139.4 293.1 139.9 293.2 140.4 293.2 140.9 293.3 141.4 293.3 141.9 293.4 142.4 293.4 142.9 293.5 143.4 293.5 143.4 293.5 143.9 293.6 144.4 293.6 144.9 293.7 145.4 293.8 145.9 293.9 146.1 294.0 146.4 294.1 146.9 294.3 147.3 294.5 147.4 294.6 147.9 294.9 148.0 295.0 148.4 295.3 148.6 295.5 148.9 296.0 148.9 296.0 149.1 296.5 149.2 297.0 149.2 297.5 149.1 298.0 148.9 298.5 148.9 298.6 148.6 299.0 148.4 299.2 148.0 299.5 147.9 299.6 147.4 299.9 147.2 300.0 146.9 300.1 146.4 300.3 145.9 300.5 145.8 300.5 145.4 300.6 144.9 300.7 144.4 300.8 143.9 300.9 143.4 300.9 142.9 301.0 142.7 301.0 142.4 301.0 141.9 301.1 141.4 301.1 140.9 301.2 140.4 301.2 139.9 301.3 139.4 301.3 138.9 301.4 138.4 301.4 137.9 301.5 137.9 301.5 137.4 301.6 136.9 301.6 136.4 301.7 135.9 301.7 135.4 301.8 134.9 301.9 134.4 301.9 133.9 302.0 133.9 302.0 133.4 302.1 132.9 302.1 132.4 302.2 131.9 302.3 131.4 302.3 130.9 302.4 130.4 302.4 130.0 302.5 129.9 302.5 129.4 302.6 128.9 302.6 128.4 302.7 127.9 302.8 127.4 302.8 126.9 302.9 126.4 303.0 126.1 303.0 125.9 303.0 125.4 303.1 124.9 303.1 124.4 303.2 123.9 303.3 123.4 303.4 122.9 303.4 122.4 303.5 122.4 303.5 121.9 303.6 121.4 303.7 120.9 303.7 120.4 303.8 119.9 303.9 119.4 304.0 119.4 304.0 118.9 304.1 118.4 304.2 117.9 304.3 117.4 304.4 117.0 304.5 116.9 304.5 116.4 304.6 115.9 304.8 115.4 304.9 114.9 305.0 114.9 305.0 114.4 305.1 113.9 305.2 113.4 305.3 112.9 305.4 112.6 305.5 112.4 305.5 111.9 305.7 111.4 305.7 110.9 305.8 110.4 305.9 110.0 306.0 109.9 306.0 109.4 306.1 108.9 306.2 108.4 306.2 107.9 306.3 107.4 306.3 106.9 306.4 106.4 306.4 105.9 306.5 105.5 306.5 105.4 306.5 104.9 306.5 104.4 306.6 103.9 306.6 103.4 306.6 102.9 306.6 102.4 306.6 101.9 306.5 101.4 306.5 101.0 306.5 100.9 306.5 100.4 306.5 99.9 306.4 99.4 306.3 98.9 306.3 98.4 306.2 97.9 306.1 97.5 306.0 97.4 306.0 96.9 305.8 96.4 305.7 95.9 305.5 95.8 305.5 95.4 305.3 94.9 305.1 94.6 305.0 94.4 304.9 93.9 304.6 93.7 304.5 93.4 304.3 92.9 304.0 92.9 304.0 92.4 303.6 92.3 303.5 91.9 303.1 91.8 303.0 91.5 302.5 91.4 302.4 91.2 302.0 91.0 301.5 90.9 301.0 90.9 300.7 90.9 300.5 90.9 300.4 90.9 300.0 91.1 299.5 91.3 299.0 91.4 298.8 91.6 298.5 91.9 298.1 92.0 298.0 92.4 297.6 92.5 297.5 92.9 297.2 93.1 297.0 93.4 296.8 93.9 296.5 93.9 296.5 94.4 296.2 94.9 296.0 94.9 296.0 95.4 295.8 95.9 295.6 96.2 295.5 96.4 295.4 96.9 295.3 97.4 295.1 97.9 295.0 97.9 295.0 98.4 294.9 98.9 294.8 99.4 294.7 99.9 294.6 100.2 294.5 100.4 294.5 100.9 294.4 101.4 294.3 101.9 294.2 102.4 294.1 102.9 294.1 103.4 294.0 103.4 294.0 103.9 293.9 104.4 293.8 104.9 293.7 105.4 293.7 105.9 293.6 106.4 293.5 106.4 293.5 106.9 293.4 107.4 293.3 107.9 293.2 108.4 293.1 108.9 293.1 109.2 293.0 109.4 293.0 109.9 292.9 110.4 292.8 110.9 292.7 111.4 292.7 111.9 292.6 112.4 292.6 112.9 292.5 112.9 292.5 113.4 292.4 113.9 292.4 114.4 292.4 114.9 292.3 115.4 292.3 115.9 292.2 116.4 292.2 116.9 292.2 117.4 292.2 117.9 292.1 118.4 292.1 118.9 292.1 119.4 292.0 119.9 292.0 120.4 292.0 120.4 292.0Z" fill="#84bcdb" fill-rule="evenodd"/>
<path d="M108.8 294.0 108.9 294.0 109.4 293.9 109.9 293.9 110.4 293.8 110.9 293.8 111.4 293.7 111.9 293.7 112.4 293.7 112.9 293.6 113.4 293.6 113.9 293.6 114.4 293.6 114.9 293.6 115.4 293.5 115.9 293.5 116.4 293.5 116.9 293.5 117.4 293.5 117.9 293.5 118.4 293.5 118.9 293.5 119.4 293.5 119.9 293.5 120.4 293.5 120.9 293.6 121.4 293.6 121.9 293.6 122.4 293.6 122.9 293.6 123.4 293.6 123.9 293.6 124.4 293.6 124.9 293.7 125.4 293.7 125.9 293.7 126.4 293.8 126.9 293.8 127.4 293.9 127.9 293.9 128.4 294.0 128.7 294.0 128.9 294.0 129.4 294.1 129.9 294.2 130.4 294.2 130.9 294.3 131.4 294.4 131.9 294.5 132.0 294.5 132.4 294.6 132.9 294.7 133.4 294.8 133.9 294.9 134.4 295.0 134.5 295.0 134.9 295.1 135.4 295.2 135.9 295.3 136.4 295.4 136.7 295.5 136.9 295.6 137.4 295.7 137.9 295.8 138.4 296.0 138.6 296.0 138.9 296.1 139.4 296.3 139.9 296.4 140.2 296.5 140.4 296.6 140.9 296.8 141.3 297.0 141.4 297.2 141.6 297.5 141.4 297.9 141.3 298.0 140.9 298.2 140.4 298.4 140.3 298.5 139.9 298.6 139.4 298.8 138.9 298.9 138.7 299.0 138.4 299.1 137.9 299.2 137.4 299.3 136.9 299.5 136.8 299.5 136.4 299.6 135.9 299.7 135.4 299.8 134.9 299.9 134.7 300.0 134.4 300.1 133.9 300.2 133.4 300.3 132.9 300.4 132.4 300.5 132.3 300.5 131.9 300.6 131.4 300.7 130.9 300.8 130.4 300.8 129.9 300.9 129.6 301.0 129.4 301.0 128.9 301.1 128.4 301.2 127.9 301.3 127.4 301.4 126.9 301.4 126.5 301.5 126.4 301.5 125.9 301.6 125.4 301.7 124.9 301.8 124.4 301.8 123.9 301.9 123.4 302.0 123.4 302.0 122.9 302.1 122.4 302.2 121.9 302.3 121.4 302.4 120.9 302.5 120.7 302.5 120.4 302.6 119.9 302.7 119.4 302.8 118.9 302.9 118.5 303.0 118.4 303.0 117.9 303.1 117.4 303.3 116.9 303.4 116.6 303.5 116.4 303.5 115.9 303.7 115.4 303.8 114.9 304.0 114.8 304.0 114.4 304.1 113.9 304.2 113.4 304.4 112.9 304.5 112.9 304.5 112.4 304.6 111.9 304.7 111.4 304.9 110.9 305.0 110.8 305.0 110.4 305.1 109.9 305.2 109.4 305.3 108.9 305.4 108.4 305.4 107.9 305.5 107.9 305.5 107.4 305.6 106.9 305.6 106.4 305.7 105.9 305.7 105.4 305.8 104.9 305.8 104.4 305.8 103.9 305.8 103.4 305.8 102.9 305.9 102.4 305.8 101.9 305.8 101.4 305.8 100.9 305.8 100.4 305.7 99.9 305.7 99.4 305.6 98.9 305.5 98.8 305.5 98.4 305.4 97.9 305.3 97.4 305.2 96.9 305.0 96.8 305.0 96.4 304.9 95.9 304.7 95.5 304.5 95.4 304.4 94.9 304.2 94.6 304.0 94.4 303.9 93.9 303.5 93.9 303.5 93.4 303.1 93.3 303.0 92.9 302.5 92.9 302.5 92.5 302.0 92.4 301.7 92.3 301.5 92.2 301.0 92.2 300.5 92.2 300.0 92.4 299.5 92.4 299.5 92.6 299.0 92.9 298.6 93.0 298.5 93.4 298.0 93.4 298.0 93.9 297.6 94.0 297.5 94.4 297.2 94.8 297.0 94.9 296.9 95.4 296.7 95.8 296.5 95.9 296.4 96.4 296.2 96.9 296.1 97.1 296.0 97.4 295.9 97.9 295.8 98.4 295.6 98.9 295.5 98.9 295.5 99.4 295.4 99.9 295.3 100.4 295.2 100.9 295.1 101.4 295.0 101.7 295.0 101.9 295.0 102.4 294.9 102.9 294.8 103.4 294.7 103.9 294.7 104.4 294.6 104.9 294.5 105.2 294.5 105.4 294.5 105.9 294.4 106.4 294.3 106.9 294.3 107.4 294.2 107.9 294.1 108.4 294.1 108.8 294.0Z" fill="#60a7d2" fill-rule="evenodd"/>
<path d="M109.2 295.0 109.4 295.0 109.9 295.0 110.4 294.9 110.9 294.9 111.4 294.9 111.9 294.9 112.4 294.9 112.9 294.9 113.4 294.9 113.9 294.9 114.4 295.0 114.9 295.0 115.1 295.0 115.4 295.0 115.9 295.1 116.4 295.1 116.9 295.2 117.4 295.2 117.9 295.3 118.4 295.3 118.9 295.4 119.4 295.4 119.9 295.5 120.0 295.5 120.4 295.6 120.9 295.6 121.4 295.7 121.9 295.8 122.4 295.8 122.9 295.9 123.4 296.0 123.4 296.0 123.9 296.1 124.4 296.2 124.9 296.3 125.4 296.5 125.5 296.5 125.9 296.6 126.4 296.8 126.8 297.0 126.9 297.1 127.4 297.5 127.4 298.0 126.9 298.5 126.9 298.5 126.4 298.8 126.0 299.0 125.9 299.0 125.4 299.2 124.9 299.4 124.6 299.5 124.4 299.6 123.9 299.7 123.4 299.9 123.0 300.0 122.9 300.0 122.4 300.2 121.9 300.3 121.4 300.5 121.3 300.5 120.9 300.6 120.4 300.8 119.9 300.9 119.8 301.0 119.4 301.1 118.9 301.3 118.4 301.5 118.3 301.5 117.9 301.6 117.4 301.8 116.9 302.0 116.9 302.0 116.4 302.2 115.9 302.3 115.5 302.5 115.4 302.5 114.9 302.7 114.4 302.9 114.1 303.0 113.9 303.1 113.4 303.2 112.9 303.4 112.6 303.5 112.4 303.5 111.9 303.7 111.4 303.8 110.9 304.0 110.8 304.0 110.4 304.1 109.9 304.2 109.4 304.3 108.9 304.4 108.6 304.5 108.4 304.5 107.9 304.6 107.4 304.7 106.9 304.8 106.4 304.8 105.9 304.9 105.4 304.9 104.9 305.0 104.6 305.0 104.4 305.0 103.9 305.0 103.4 305.0 102.9 305.1 102.4 305.0 101.9 305.0 101.4 305.0 101.3 305.0 100.9 305.0 100.4 304.9 99.9 304.8 99.4 304.8 98.9 304.7 98.4 304.6 98.2 304.5 97.9 304.4 97.4 304.3 96.9 304.1 96.7 304.0 96.4 303.9 95.9 303.6 95.7 303.5 95.4 303.3 95.0 303.0 94.9 302.9 94.5 302.5 94.4 302.4 94.1 302.0 93.9 301.7 93.8 301.5 93.7 301.0 93.6 300.5 93.7 300.0 93.9 299.5 93.9 299.4 94.1 299.0 94.4 298.7 94.6 298.5 94.9 298.2 95.1 298.0 95.4 297.8 95.9 297.5 95.9 297.5 96.4 297.2 96.9 297.0 96.9 297.0 97.4 296.8 97.9 296.6 98.3 296.5 98.4 296.5 98.9 296.3 99.4 296.2 99.9 296.1 100.4 296.0 100.5 296.0 100.9 295.9 101.4 295.8 101.9 295.8 102.4 295.7 102.9 295.6 103.4 295.6 103.9 295.5 104.1 295.5 104.4 295.5 104.9 295.4 105.4 295.4 105.9 295.3 106.4 295.2 106.9 295.2 107.4 295.1 107.9 295.1 108.4 295.1 108.9 295.0 109.2 295.0Z" fill="#3787c0" fill-rule="evenodd"/>
<path d="M102.4 297.0 102.4 297.0 102.9 296.9 103.4 296.9 103.9 296.8 104.4 296.8 104.9 296.8 105.4 296.7 105.9 296.7 106.4 296.7 106.9 296.7 107.4 296.7 107.9 296.7 108.4 296.7 108.9 296.7 109.4 296.7 109.9 296.8 110.4 296.8 110.9 296.9 111.4 296.9 111.7 297.0 111.9 297.0 112.4 297.2 112.9 297.3 113.4 297.5 113.4 297.5 113.9 297.8 114.3 298.0 114.4 298.2 114.7 298.5 114.8 299.0 114.7 299.5 114.4 299.9 114.3 300.0 113.9 300.4 113.8 300.5 113.4 300.8 113.2 301.0 112.9 301.2 112.4 301.5 112.4 301.5 111.9 301.7 111.4 302.0 111.4 302.0 110.9 302.2 110.4 302.4 110.1 302.5 109.9 302.6 109.4 302.8 108.9 302.9 108.6 303.0 108.4 303.0 107.9 303.2 107.4 303.3 106.9 303.4 106.4 303.5 106.3 303.5 105.9 303.6 105.4 303.6 104.9 303.7 104.4 303.7 103.9 303.8 103.4 303.8 102.9 303.8 102.4 303.8 101.9 303.8 101.4 303.7 100.9 303.7 100.4 303.6 99.9 303.5 99.9 303.5 99.4 303.4 98.9 303.2 98.4 303.1 98.2 303.0 97.9 302.8 97.4 302.6 97.3 302.5 96.9 302.2 96.7 302.0 96.4 301.7 96.3 301.5 96.1 301.0 96.0 300.5 96.1 300.0 96.3 299.5 96.4 299.4 96.7 299.0 96.9 298.9 97.4 298.5 97.4 298.5 97.9 298.2 98.3 298.0 98.4 298.0 98.9 297.8 99.4 297.6 99.7 297.5 99.9 297.5 100.4 297.3 100.9 297.2 101.4 297.1 101.9 297.1 102.4 297.0Z" fill="#08509b" fill-rule="evenodd"/>
</g>
<g clip-path="url(#clip20)">
<path d="M92.1 385.9 92.4 385.8 92.9 385.8 93.4 385.7 93.9 385.7 94.4 385.6 94.9 385.6 95.4 385.6 95.9 385.7 96.4 385.7 96.9 385.8 97.4 385.8 97.9 385.9 97.9 385.9 98.4 386.0 98.9 386.1 99.4 386.2 99.9 386.4 99.9 386.4 100.4 386.5 100.9 386.7 101.4 386.9 101.4 386.9 101.9 387.1 102.4 387.4 102.5 387.4 102.9 387.6 103.4 387.9 103.5 387.9 103.9 388.2 104.3 388.4 104.4 388.5 104.9 388.8 105.1 388.9 105.4 389.1 105.8 389.4 105.9 389.5 106.4 389.8 106.5 389.9 106.9 390.2 107.2 390.4 107.4 390.6 107.8 390.9 107.9 391.0 108.4 391.4 108.5 391.4 108.9 391.7 109.1 391.9 109.4 392.1 109.8 392.4 109.9 392.5 110.4 392.8 110.5 392.9 110.9 393.2 111.2 393.4 111.4 393.5 111.9 393.8 112.1 393.9 112.4 394.1 112.9 394.3 113.1 394.4 113.4 394.6 113.9 394.8 114.2 394.9 114.4 395.0 114.9 395.1 115.4 395.3 115.8 395.4 115.9 395.4 116.4 395.6 116.9 395.7 117.4 395.8 117.9 395.9 117.9 395.9 118.4 396.0 118.9 396.1 119.4 396.2 119.9 396.3 120.4 396.3 120.9 396.4 120.9 396.4 121.4 396.5 121.9 396.6 122.4 396.6 122.9 396.7 123.4 396.8 123.9 396.9 124.0 396.9 124.4 397.0 124.9 397.1 125.4 397.1 125.9 397.2 126.4 397.4 126.6 397.4 126.9 397.5 127.4 397.6 127.9 397.7 128.4 397.9 128.6 397.9 128.9 398.0 129.4 398.1 129.9 398.3 130.2 398.4 130.4 398.5 130.9 398.7 131.4 398.9 131.5 398.9 131.9 399.1 132.4 399.3 132.6 399.4 132.9 399.5 133.4 399.8 133.6 399.9 133.9 400.1 134.4 400.4 134.5 400.4 134.9 400.7 135.2 400.9 135.4 401.0 135.9 401.4 135.9 401.4 136.4 401.9 136.4 401.9 136.9 402.3 137.0 402.4 137.4 402.9 137.4 402.9 137.8 403.4 137.9 403.6 138.1 403.9 138.4 404.4 138.4 404.4 138.7 404.9 138.9 405.4 138.9 405.5 139.1 405.9 139.2 406.4 139.3 406.9 139.4 407.4 139.4 407.4 139.5 407.9 139.5 408.4 139.6 408.9 139.6 409.4 139.7 409.9 139.8 410.4 139.9 410.9 139.9 411.1 140.0 411.4 140.1 411.9 140.3 412.4 140.4 412.7 140.5 412.9 140.8 413.4 140.9 413.6 141.1 413.9 141.4 414.3 141.5 414.4 141.9 414.9 141.9 414.9 142.3 415.4 142.4 415.5 142.8 415.9 142.9 415.9 143.4 416.4 143.4 416.4 143.9 416.8 144.0 416.9 144.4 417.2 144.6 417.4 144.9 417.6 145.3 417.9 145.4 418.0 145.9 418.4 145.9 418.4 146.4 418.7 146.6 418.9 146.9 419.1 147.3 419.4 147.4 419.5 147.9 419.8 148.0 419.9 148.4 420.2 148.7 420.4 148.9 420.5 149.4 420.9 149.4 420.9 149.9 421.2 150.1 421.4 150.4 421.6 150.8 421.9 150.9 422.0 151.4 422.3 151.5 422.4 151.9 422.7 152.2 422.9 152.4 423.1 152.8 423.4 152.9 423.4 153.4 423.8 153.5 423.9 153.9 424.2 154.2 424.4 154.4 424.6 154.8 424.9 154.9 425.0 155.4 425.4 155.4 425.4 155.9 425.8 156.1 425.9 156.4 426.2 156.7 426.4 156.9 426.6 157.3 426.9 157.4 427.0 157.9 427.4 157.9 427.4 158.4 427.9 158.4 427.9 158.9 428.3 159.0 428.4 159.4 428.7 159.6 428.9 159.9 429.2 160.1 429.4 160.4 429.7 160.6 429.9 160.9 430.2 161.2 430.4 161.4 430.6 161.7 430.9 161.9 431.2 162.1 431.4 162.4 431.7 162.6 431.9 162.9 432.2 163.1 432.4 163.4 432.8 163.5 432.9 163.9 433.3 164.0 433.4 164.4 433.9 164.4 433.9 164.8 434.4 164.9 434.5 165.2 434.9 165.4 435.2 165.6 435.4 165.9 435.9 165.9 435.9 166.3 436.4 166.4 436.6 166.6 436.9 166.9 437.3 167.0 437.4 167.3 437.9 167.4 438.1 167.6 438.4 167.9 438.9 167.9 439.0 168.1 439.4 168.4 439.9 168.4 439.9 168.7 440.4 168.9 440.9 168.9 440.9 169.1 441.4 169.3 441.9 169.4 442.1 169.5 442.4 169.7 442.9 169.9 443.4 169.9 443.4 170.1 443.9 170.2 444.4 170.4 444.9 170.4 445.0 170.5 445.4 170.6 445.9 170.7 446.4 170.8 446.9 170.9 447.2 170.9 447.4 171.0 447.9 171.1 448.4 171.1 448.9 171.2 449.4 171.2 449.9 171.2 450.4 171.3 450.9 171.3 451.4 171.2 451.9 171.2 452.4 171.2 452.9 171.2 453.4 171.1 453.9 171.0 454.4 171.0 454.9 170.9 455.2 170.9 455.4 170.8 455.9 170.7 456.4 170.6 456.9 170.4 457.4 170.4 457.5 170.3 457.9 170.1 458.4 170.0 458.9 169.9 459.1 169.8 459.4 169.6 459.9 169.4 460.4 169.4 460.5 169.2 460.9 169.0 461.4 168.9 461.6 168.8 461.9 168.5 462.4 168.4 462.6 168.3 462.9 168.0 463.4 167.9 463.5 167.7 463.9 167.4 464.4 167.4 464.4 167.0 464.9 166.9 465.1 166.7 465.4 166.4 465.8 166.3 465.9 165.9 466.4 165.9 466.4 165.4 466.9 165.4 466.9 164.9 467.4 164.9 467.4 164.4 467.8 164.3 467.9 163.9 468.2 163.7 468.4 163.4 468.6 162.9 468.9 162.9 468.9 162.4 469.2 161.9 469.4 161.9 469.4 161.4 469.6 160.9 469.8 160.6 469.9 160.4 470.0 159.9 470.1 159.4 470.2 158.9 470.3 158.4 470.4 158.2 470.4 157.9 470.4 157.4 470.5 156.9 470.5 156.4 470.5 155.9 470.5 155.4 470.5 154.9 470.4 154.4 470.4 154.4 470.4 153.9 470.3 153.4 470.3 152.9 470.2 152.4 470.1 151.9 470.0 151.4 469.9 151.3 469.9 150.9 469.8 150.4 469.7 149.9 469.6 149.4 469.4 149.3 469.4 148.9 469.3 148.4 469.1 147.9 469.0 147.7 468.9 147.4 468.8 146.9 468.6 146.4 468.5 146.3 468.4 145.9 468.3 145.4 468.1 145.0 467.9 144.9 467.9 144.4 467.7 143.9 467.4 143.8 467.4 143.4 467.2 142.9 467.0 142.8 466.9 142.4 466.7 141.9 466.5 141.8 466.4 141.4 466.2 140.9 466.0 140.8 465.9 140.4 465.7 139.9 465.4 139.9 465.4 139.4 465.1 139.0 464.9 138.9 464.8 138.4 464.5 138.2 464.4 137.9 464.2 137.4 463.9 137.3 463.9 136.9 463.6 136.5 463.4 136.4 463.3 135.9 463.0 135.8 462.9 135.4 462.7 135.0 462.4 134.9 462.3 134.4 462.0 134.2 461.9 133.9 461.7 133.5 461.4 133.4 461.3 132.9 461.0 132.7 460.9 132.4 460.7 132.0 460.4 131.9 460.3 131.4 460.0 131.3 459.9 130.9 459.7 130.5 459.4 130.4 459.3 129.9 459.0 129.8 458.9 129.4 458.6 129.1 458.4 128.9 458.3 128.4 458.0 128.3 457.9 127.9 457.6 127.6 457.4 127.4 457.3 126.9 457.0 126.8 456.9 126.4 456.6 126.0 456.4 125.9 456.3 125.4 456.0 125.2 455.9 124.9 455.7 124.5 455.4 124.4 455.4 123.9 455.1 123.6 454.9 123.4 454.8 122.9 454.5 122.8 454.4 122.4 454.2 121.9 453.9 121.9 453.9 121.4 453.6 121.1 453.4 120.9 453.3 120.4 453.0 120.2 452.9 119.9 452.8 119.4 452.5 119.2 452.4 118.9 452.2 118.4 452.0 118.2 451.9 117.9 451.7 117.4 451.5 117.2 451.4 116.9 451.2 116.4 451.0 116.2 450.9 115.9 450.8 115.4 450.5 115.1 450.4 114.9 450.3 114.4 450.1 114.0 449.9 113.9 449.9 113.4 449.6 112.9 449.4 112.9 449.4 112.4 449.2 111.9 449.0 111.7 448.9 111.4 448.8 110.9 448.5 110.6 448.4 110.4 448.3 109.9 448.1 109.4 447.9 109.4 447.9 108.9 447.7 108.4 447.5 108.2 447.4 107.9 447.3 107.4 447.1 107.1 446.9 106.9 446.8 106.4 446.6 105.9 446.4 105.9 446.4 105.4 446.2 104.9 445.9 104.8 445.9 104.4 445.7 103.9 445.5 103.7 445.4 103.4 445.3 102.9 445.0 102.7 444.9 102.4 444.8 101.9 444.5 101.7 444.4 101.4 444.3 100.9 444.0 100.7 443.9 100.4 443.8 99.9 443.5 99.7 443.4 99.4 443.2 98.9 442.9 98.8 442.9 98.4 442.7 97.9 442.4 97.9 442.4 97.4 442.1 97.1 441.9 96.9 441.8 96.4 441.5 96.2 441.4 95.9 441.2 95.4 440.9 95.4 440.9 94.9 440.6 94.7 440.4 94.4 440.2 93.9 439.9 93.9 439.9 93.4 439.5 93.2 439.4 92.9 439.2 92.5 438.9 92.4 438.8 91.9 438.5 91.8 438.4 91.4 438.1 91.1 437.9 90.9 437.7 90.5 437.4 90.4 437.3 89.9 436.9 89.9 436.9 89.4 436.5 89.3 436.4 88.9 436.1 88.7 435.9 88.4 435.7 88.1 435.4 87.9 435.2 87.5 434.9 87.4 434.8 87.0 434.4 86.9 434.3 86.5 433.9 86.4 433.8 86.0 433.4 85.9 433.3 85.5 432.9 85.4 432.8 85.0 432.4 84.9 432.3 84.6 431.9 84.4 431.7 84.1 431.4 83.9 431.1 83.7 430.9 83.4 430.5 83.3 430.4 82.9 429.9 82.9 429.9 82.5 429.4 82.4 429.2 82.2 428.9 81.9 428.5 81.8 428.4 81.5 427.9 81.4 427.8 81.2 427.4 80.9 427.0 80.9 426.9 80.6 426.4 80.4 426.1 80.3 425.9 80.0 425.4 79.9 425.1 79.8 424.9 79.5 424.4 79.4 424.1 79.3 423.9 79.1 423.4 78.9 422.9 78.9 422.9 78.7 422.4 78.5 421.9 78.4 421.5 78.4 421.4 78.2 420.9 78.1 420.4 77.9 419.9 77.9 419.8 77.8 419.4 77.7 418.9 77.6 418.4 77.5 417.9 77.4 417.4 77.4 417.3 77.3 416.9 77.3 416.4 77.2 415.9 77.2 415.4 77.1 414.9 77.1 414.4 77.1 413.9 77.1 413.4 77.1 412.9 77.1 412.4 77.1 411.9 77.1 411.4 77.1 410.9 77.1 410.4 77.2 409.9 77.2 409.4 77.2 408.9 77.3 408.4 77.3 407.9 77.4 407.4 77.4 407.1 77.4 406.9 77.5 406.4 77.5 405.9 77.6 405.4 77.7 404.9 77.7 404.4 77.8 403.9 77.9 403.4 77.9 403.4 78.0 402.9 78.1 402.4 78.2 401.9 78.3 401.4 78.4 400.9 78.4 400.7 78.5 400.4 78.6 399.9 78.7 399.4 78.8 398.9 78.9 398.7 79.0 398.4 79.1 397.9 79.3 397.4 79.4 397.1 79.5 396.9 79.7 396.4 79.9 395.9 79.9 395.8 80.1 395.4 80.3 394.9 80.4 394.8 80.6 394.4 80.9 393.9 80.9 393.8 81.1 393.4 81.4 393.0 81.5 392.9 81.8 392.4 81.9 392.3 82.2 391.9 82.4 391.6 82.6 391.4 82.9 391.0 83.0 390.9 83.4 390.5 83.5 390.4 83.9 390.0 84.0 389.9 84.4 389.5 84.6 389.4 84.9 389.1 85.2 388.9 85.4 388.7 85.9 388.4 85.9 388.4 86.4 388.1 86.7 387.9 86.9 387.8 87.4 387.5 87.6 387.4 87.9 387.2 88.4 387.0 88.7 386.9 88.9 386.8 89.4 386.6 89.9 386.4 90.0 386.4 90.4 386.3 90.9 386.1 91.4 386.0 91.9 385.9 92.1 385.9Z" fill="#ecf4fb" fill-rule="evenodd"/>
<path d="M92.2 392.4 92.4 392.3 92.9 392.2 93.4 392.1 93.9 392.0 94.4 392.0 94.9 392.0 95.4 392.0 95.9 392.0 96.4 392.0 96.9 392.1 97.4 392.2 97.9 392.3 98.1 392.4 98.4 392.5 98.9 392.7 99.4 392.9 99.5 392.9 99.9 393.1 100.4 393.4 100.5 393.4 100.9 393.6 101.4 393.9 101.4 393.9 101.9 394.3 102.1 394.4 102.4 394.6 102.8 394.9 102.9 395.0 103.4 395.4 103.4 395.4 103.9 395.8 104.1 395.9 104.4 396.2 104.7 396.4 104.9 396.6 105.3 396.9 105.4 397.0 105.9 397.4 105.9 397.4 106.4 397.8 106.5 397.9 106.9 398.2 107.1 398.4 107.4 398.6 107.8 398.9 107.9 399.0 108.4 399.3 108.5 399.4 108.9 399.7 109.3 399.9 109.4 400.0 109.9 400.2 110.2 400.4 110.4 400.5 110.9 400.8 111.2 400.9 111.4 401.0 111.9 401.2 112.4 401.4 112.4 401.4 112.9 401.6 113.4 401.8 113.8 401.9 113.9 401.9 114.4 402.1 114.9 402.2 115.4 402.4 115.4 402.4 115.9 402.5 116.4 402.7 116.9 402.8 117.3 402.9 117.4 402.9 117.9 403.1 118.4 403.2 118.9 403.3 119.1 403.4 119.4 403.5 119.9 403.7 120.4 403.8 120.6 403.9 120.9 404.0 121.4 404.2 121.9 404.4 121.9 404.4 122.4 404.6 122.9 404.9 122.9 404.9 123.4 405.2 123.7 405.4 123.9 405.5 124.4 405.9 124.4 405.9 124.9 406.4 124.9 406.4 125.4 406.9 125.4 406.9 125.8 407.4 125.9 407.6 126.1 407.9 126.4 408.4 126.4 408.5 126.6 408.9 126.8 409.4 126.9 409.5 127.1 409.9 127.3 410.4 127.4 410.7 127.5 410.9 127.7 411.4 127.9 411.7 128.0 411.9 128.3 412.4 128.4 412.6 128.6 412.9 128.9 413.3 129.0 413.4 129.4 413.9 129.4 413.9 129.9 414.4 129.9 414.4 130.4 414.9 130.4 414.9 130.9 415.4 130.9 415.4 131.4 415.8 131.5 415.9 131.9 416.2 132.2 416.4 132.4 416.5 132.9 416.9 132.9 416.9 133.4 417.2 133.7 417.4 133.9 417.5 134.4 417.8 134.6 417.9 134.9 418.1 135.4 418.4 135.5 418.4 135.9 418.6 136.4 418.9 136.4 418.9 136.9 419.1 137.4 419.4 137.4 419.4 137.9 419.7 138.4 419.9 138.4 419.9 138.9 420.2 139.4 420.4 139.4 420.4 139.9 420.7 140.4 420.9 140.4 420.9 140.9 421.2 141.3 421.4 141.4 421.4 141.9 421.7 142.3 421.9 142.4 422.0 142.9 422.2 143.2 422.4 143.4 422.5 143.9 422.8 144.1 422.9 144.4 423.1 144.9 423.4 144.9 423.4 145.4 423.7 145.7 423.9 145.9 424.0 146.4 424.3 146.5 424.4 146.9 424.6 147.3 424.9 147.4 425.0 147.9 425.3 148.0 425.4 148.4 425.7 148.7 425.9 148.9 426.0 149.4 426.4 149.4 426.4 149.9 426.7 150.1 426.9 150.4 427.1 150.8 427.4 150.9 427.5 151.4 427.9 151.4 427.9 151.9 428.3 152.0 428.4 152.4 428.7 152.6 428.9 152.9 429.1 153.2 429.4 153.4 429.6 153.8 429.9 153.9 430.0 154.4 430.4 154.4 430.4 154.9 430.9 154.9 430.9 155.4 431.3 155.5 431.4 155.9 431.8 156.0 431.9 156.4 432.3 156.5 432.4 156.9 432.8 157.0 432.9 157.4 433.3 157.5 433.4 157.9 433.8 158.0 433.9 158.4 434.4 158.4 434.4 158.9 434.9 158.9 434.9 159.3 435.4 159.4 435.5 159.7 435.9 159.9 436.1 160.1 436.4 160.4 436.8 160.5 436.9 160.9 437.4 160.9 437.4 161.3 437.9 161.4 438.1 161.6 438.4 161.9 438.8 161.9 438.9 162.3 439.4 162.4 439.6 162.6 439.9 162.9 440.4 162.9 440.5 163.2 440.9 163.4 441.4 163.4 441.4 163.7 441.9 163.9 442.4 163.9 442.4 164.1 442.9 164.4 443.4 164.4 443.5 164.6 443.9 164.7 444.4 164.9 444.9 164.9 444.9 165.1 445.4 165.2 445.9 165.3 446.4 165.4 446.6 165.5 446.9 165.6 447.4 165.7 447.9 165.8 448.4 165.8 448.9 165.9 449.4 165.9 449.7 165.9 449.9 166.0 450.4 166.0 450.9 166.0 451.4 166.0 451.9 166.0 452.4 165.9 452.9 165.9 453.2 165.9 453.4 165.8 453.9 165.8 454.4 165.7 454.9 165.6 455.4 165.5 455.9 165.4 456.2 165.4 456.4 165.2 456.9 165.1 457.4 164.9 457.9 164.9 457.9 164.7 458.4 164.5 458.9 164.4 459.2 164.3 459.4 164.1 459.9 163.9 460.2 163.8 460.4 163.5 460.9 163.4 461.1 163.2 461.4 162.9 461.8 162.8 461.9 162.4 462.4 162.4 462.4 162.0 462.9 161.9 463.0 161.4 463.4 161.4 463.4 160.9 463.8 160.8 463.9 160.4 464.1 160.0 464.4 159.9 464.4 159.4 464.7 158.9 464.9 158.8 464.9 158.4 465.0 157.9 465.2 157.4 465.3 156.9 465.4 156.4 465.4 156.4 465.4 155.9 465.4 155.4 465.4 154.9 465.4 154.5 465.4 154.4 465.4 153.9 465.3 153.4 465.3 152.9 465.2 152.4 465.1 151.9 465.0 151.5 464.9 151.4 464.9 150.9 464.7 150.4 464.6 149.9 464.4 149.8 464.4 149.4 464.3 148.9 464.1 148.4 463.9 148.4 463.9 147.9 463.7 147.4 463.5 147.2 463.4 146.9 463.3 146.4 463.1 146.0 462.9 145.9 462.8 145.4 462.6 145.0 462.4 144.9 462.4 144.4 462.1 144.0 461.9 143.9 461.9 143.4 461.6 143.1 461.4 142.9 461.3 142.4 461.0 142.2 460.9 141.9 460.8 141.4 460.5 141.3 460.4 140.9 460.2 140.4 459.9 140.4 459.9 139.9 459.6 139.6 459.4 139.4 459.3 138.9 458.9 138.8 458.9 138.4 458.6 138.1 458.4 137.9 458.3 137.4 458.0 137.3 457.9 136.9 457.6 136.5 457.4 136.4 457.3 135.9 457.0 135.8 456.9 135.4 456.6 135.1 456.4 134.9 456.3 134.4 456.0 134.3 455.9 133.9 455.6 133.6 455.4 133.4 455.3 132.9 454.9 132.9 454.9 132.4 454.6 132.1 454.4 131.9 454.2 131.4 453.9 131.4 453.9 130.9 453.5 130.7 453.4 130.4 453.2 130.0 452.9 129.9 452.9 129.4 452.5 129.2 452.4 128.9 452.2 128.5 451.9 128.4 451.9 127.9 451.5 127.7 451.4 127.4 451.2 126.9 450.9 126.9 450.9 126.4 450.6 126.1 450.4 125.9 450.3 125.4 449.9 125.3 449.9 124.9 449.6 124.5 449.4 124.4 449.3 123.9 449.0 123.7 448.9 123.4 448.8 122.9 448.5 122.8 448.4 122.4 448.2 121.9 447.9 121.9 447.9 121.4 447.6 120.9 447.4 120.9 447.4 120.4 447.1 120.0 446.9 119.9 446.9 119.4 446.6 119.0 446.4 118.9 446.4 118.4 446.1 117.9 445.9 117.9 445.9 117.4 445.7 116.9 445.4 116.9 445.4 116.4 445.2 115.9 445.0 115.8 444.9 115.4 444.7 114.9 444.5 114.6 444.4 114.4 444.3 113.9 444.1 113.5 443.9 113.4 443.9 112.9 443.7 112.4 443.4 112.3 443.4 111.9 443.2 111.4 443.0 111.1 442.9 110.9 442.8 110.4 442.6 109.9 442.4 109.9 442.4 109.4 442.2 108.9 442.0 108.8 441.9 108.4 441.7 107.9 441.5 107.6 441.4 107.4 441.3 106.9 441.1 106.5 440.9 106.4 440.8 105.9 440.6 105.5 440.4 105.4 440.4 104.9 440.1 104.4 439.9 104.4 439.9 103.9 439.6 103.4 439.4 103.4 439.4 102.9 439.1 102.5 438.9 102.4 438.9 101.9 438.6 101.5 438.4 101.4 438.3 100.9 438.1 100.6 437.9 100.4 437.8 99.9 437.5 99.7 437.4 99.4 437.2 98.9 436.9 98.9 436.9 98.4 436.6 98.1 436.4 97.9 436.3 97.4 436.0 97.3 435.9 96.9 435.6 96.6 435.4 96.4 435.3 95.9 434.9 95.8 434.9 95.4 434.6 95.1 434.4 94.9 434.2 94.5 433.9 94.4 433.8 93.9 433.5 93.8 433.4 93.4 433.0 93.2 432.9 92.9 432.6 92.6 432.4 92.4 432.2 92.1 431.9 91.9 431.8 91.5 431.4 91.4 431.3 91.0 430.9 90.9 430.8 90.5 430.4 90.4 430.3 90.0 429.9 89.9 429.8 89.6 429.4 89.4 429.2 89.1 428.9 88.9 428.7 88.7 428.4 88.4 428.1 88.3 427.9 87.9 427.4 87.9 427.4 87.5 426.9 87.4 426.7 87.2 426.4 86.9 426.0 86.8 425.9 86.5 425.4 86.4 425.3 86.2 424.9 85.9 424.4 85.9 424.4 85.6 423.9 85.4 423.5 85.4 423.4 85.1 422.9 84.9 422.5 84.9 422.4 84.7 421.9 84.5 421.4 84.4 421.3 84.3 420.9 84.1 420.4 83.9 419.9 83.9 419.8 83.8 419.4 83.6 418.9 83.5 418.4 83.4 417.9 83.4 417.8 83.3 417.4 83.2 416.9 83.2 416.4 83.1 415.9 83.1 415.4 83.0 414.9 83.0 414.4 83.0 413.9 83.0 413.4 83.0 412.9 83.0 412.4 83.0 411.9 83.0 411.4 83.1 410.9 83.1 410.4 83.1 409.9 83.2 409.4 83.2 408.9 83.3 408.4 83.4 407.9 83.4 407.7 83.4 407.4 83.5 406.9 83.6 406.4 83.7 405.9 83.7 405.4 83.8 404.9 83.9 404.6 83.9 404.4 84.0 403.9 84.1 403.4 84.2 402.9 84.4 402.4 84.4 402.2 84.5 401.9 84.6 401.4 84.8 400.9 84.9 400.5 84.9 400.4 85.1 399.9 85.3 399.4 85.4 399.1 85.5 398.9 85.7 398.4 85.9 398.0 85.9 397.9 86.2 397.4 86.4 397.1 86.5 396.9 86.8 396.4 86.9 396.3 87.2 395.9 87.4 395.7 87.6 395.4 87.9 395.1 88.1 394.9 88.4 394.6 88.6 394.4 88.9 394.2 89.2 393.9 89.4 393.8 89.9 393.4 90.0 393.4 90.4 393.2 90.9 392.9 90.9 392.9 91.4 392.7 91.9 392.5 92.2 392.4Z" fill="#d7e6f5" fill-rule="evenodd"/>
<path d="M94.5 396.9 94.9 396.8 95.4 396.8 95.9 396.8 96.4 396.9 96.4 396.9 96.9 397.0 97.4 397.1 97.9 397.3 98.1 397.4 98.4 397.5 98.9 397.8 99.2 397.9 99.4 398.0 99.9 398.3 100.0 398.4 100.4 398.7 100.7 398.9 100.9 399.0 101.4 399.4 101.4 399.4 101.9 399.8 102.0 399.9 102.4 400.3 102.6 400.4 102.9 400.7 103.2 400.9 103.4 401.1 103.7 401.4 103.9 401.5 104.3 401.9 104.4 402.0 104.9 402.4 105.0 402.4 105.4 402.8 105.6 402.9 105.9 403.1 106.3 403.4 106.4 403.5 106.9 403.9 107.0 403.9 107.4 404.2 107.7 404.4 107.9 404.5 108.4 404.9 108.5 404.9 108.9 405.2 109.3 405.4 109.4 405.5 109.9 405.7 110.2 405.9 110.4 406.0 110.9 406.3 111.1 406.4 111.4 406.6 111.9 406.9 112.0 406.9 112.4 407.1 112.9 407.4 112.9 407.4 113.4 407.7 113.8 407.9 113.9 408.0 114.4 408.3 114.6 408.4 114.9 408.6 115.4 408.9 115.4 408.9 115.9 409.3 116.1 409.4 116.4 409.6 116.8 409.9 116.9 410.0 117.4 410.4 117.4 410.4 117.9 410.8 118.0 410.9 118.4 411.2 118.6 411.4 118.9 411.7 119.2 411.9 119.4 412.1 119.7 412.4 119.9 412.5 120.3 412.9 120.4 413.0 120.9 413.4 120.9 413.4 121.4 413.9 121.4 413.9 121.9 414.3 122.0 414.4 122.4 414.7 122.7 414.9 122.9 415.1 123.3 415.4 123.4 415.5 123.9 415.8 124.0 415.9 124.4 416.2 124.7 416.4 124.9 416.5 125.4 416.9 125.4 416.9 125.9 417.2 126.2 417.4 126.4 417.5 126.9 417.8 127.0 417.9 127.4 418.1 127.9 418.4 127.9 418.4 128.4 418.7 128.8 418.9 128.9 418.9 129.4 419.2 129.8 419.4 129.9 419.5 130.4 419.7 130.8 419.9 130.9 419.9 131.4 420.2 131.9 420.4 131.9 420.4 132.4 420.6 132.9 420.8 133.0 420.9 133.4 421.0 133.9 421.2 134.3 421.4 134.4 421.5 134.9 421.6 135.4 421.8 135.5 421.9 135.9 422.0 136.4 422.2 136.8 422.4 136.9 422.4 137.4 422.6 137.9 422.8 138.1 422.9 138.4 423.0 138.9 423.2 139.4 423.4 139.4 423.4 139.9 423.6 140.4 423.8 140.6 423.9 140.9 424.0 141.4 424.3 141.7 424.4 141.9 424.5 142.4 424.7 142.7 424.9 142.9 425.0 143.4 425.3 143.7 425.4 143.9 425.5 144.4 425.8 144.6 425.9 144.9 426.1 145.4 426.4 145.4 426.4 145.9 426.7 146.3 426.9 146.4 427.0 146.9 427.3 147.0 427.4 147.4 427.6 147.8 427.9 147.9 428.0 148.4 428.3 148.5 428.4 148.9 428.7 149.1 428.9 149.4 429.1 149.8 429.4 149.9 429.5 150.4 429.9 150.4 429.9 150.9 430.3 151.0 430.4 151.4 430.7 151.6 430.9 151.9 431.1 152.2 431.4 152.4 431.6 152.8 431.9 152.9 432.0 153.3 432.4 153.4 432.5 153.8 432.9 153.9 433.0 154.3 433.4 154.4 433.5 154.8 433.9 154.9 434.0 155.3 434.4 155.4 434.5 155.8 434.9 155.9 435.0 156.2 435.4 156.4 435.6 156.7 435.9 156.9 436.2 157.1 436.4 157.4 436.8 157.5 436.9 157.9 437.4 157.9 437.4 158.3 437.9 158.4 438.1 158.6 438.4 158.9 438.8 159.0 438.9 159.3 439.4 159.4 439.5 159.7 439.9 159.9 440.3 160.0 440.4 160.3 440.9 160.4 441.1 160.6 441.4 160.8 441.9 160.9 442.1 161.1 442.4 161.3 442.9 161.4 443.1 161.5 443.4 161.8 443.9 161.9 444.2 162.0 444.4 162.2 444.9 162.3 445.4 162.4 445.6 162.5 445.9 162.6 446.4 162.8 446.9 162.9 447.4 162.9 447.5 163.0 447.9 163.1 448.4 163.2 448.9 163.2 449.4 163.3 449.9 163.3 450.4 163.3 450.9 163.3 451.4 163.3 451.9 163.3 452.4 163.3 452.9 163.2 453.4 163.2 453.9 163.1 454.4 163.0 454.9 162.9 455.4 162.9 455.4 162.8 455.9 162.6 456.4 162.5 456.9 162.4 457.1 162.3 457.4 162.1 457.9 161.9 458.2 161.8 458.4 161.5 458.9 161.4 459.1 161.2 459.4 160.9 459.9 160.9 459.9 160.4 460.4 160.4 460.5 159.9 460.9 159.9 460.9 159.4 461.3 159.3 461.4 158.9 461.7 158.5 461.9 158.4 462.0 157.9 462.2 157.4 462.4 157.3 462.4 156.9 462.5 156.4 462.6 155.9 462.7 155.4 462.7 154.9 462.8 154.4 462.8 153.9 462.7 153.4 462.7 152.9 462.6 152.4 462.5 151.9 462.4 151.9 462.4 151.4 462.3 150.9 462.1 150.4 462.0 150.2 461.9 149.9 461.8 149.4 461.6 148.9 461.4 148.8 461.4 148.4 461.2 147.9 461.0 147.7 460.9 147.4 460.8 146.9 460.5 146.6 460.4 146.4 460.3 145.9 460.0 145.6 459.9 145.4 459.8 144.9 459.5 144.7 459.4 144.4 459.2 143.9 458.9 143.8 458.9 143.4 458.6 143.0 458.4 142.9 458.3 142.4 458.0 142.2 457.9 141.9 457.7 141.4 457.4 141.4 457.4 140.9 457.1 140.6 456.9 140.4 456.8 139.9 456.4 139.9 456.4 139.4 456.1 139.1 455.9 138.9 455.8 138.4 455.4 138.4 455.4 137.9 455.1 137.7 454.9 137.4 454.7 136.9 454.4 136.9 454.4 136.4 454.0 136.2 453.9 135.9 453.7 135.5 453.4 135.4 453.3 134.9 453.0 134.8 452.9 134.4 452.6 134.1 452.4 133.9 452.3 133.4 451.9 133.4 451.9 132.9 451.5 132.7 451.4 132.4 451.2 132.0 450.9 131.9 450.8 131.4 450.5 131.3 450.4 130.9 450.2 130.5 449.9 130.4 449.8 129.9 449.5 129.8 449.4 129.4 449.1 129.1 448.9 128.9 448.8 128.4 448.5 128.3 448.4 127.9 448.1 127.5 447.9 127.4 447.8 126.9 447.5 126.7 447.4 126.4 447.2 125.9 446.9 125.9 446.9 125.4 446.6 125.1 446.4 124.9 446.3 124.4 446.0 124.3 445.9 123.9 445.7 123.4 445.4 123.4 445.4 122.9 445.1 122.5 444.9 122.4 444.9 121.9 444.6 121.5 444.4 121.4 444.3 120.9 444.1 120.6 443.9 120.4 443.8 119.9 443.6 119.6 443.4 119.4 443.3 118.9 443.1 118.5 442.9 118.4 442.8 117.9 442.6 117.4 442.4 117.4 442.4 116.9 442.2 116.4 441.9 116.3 441.9 115.9 441.7 115.4 441.5 115.2 441.4 114.9 441.3 114.4 441.1 114.0 440.9 113.9 440.9 113.4 440.6 112.9 440.4 112.8 440.4 112.4 440.2 111.9 440.0 111.7 439.9 111.4 439.8 110.9 439.6 110.5 439.4 110.4 439.4 109.9 439.2 109.4 438.9 109.3 438.9 108.9 438.7 108.4 438.5 108.2 438.4 107.9 438.3 107.4 438.0 107.1 437.9 106.9 437.8 106.4 437.6 106.0 437.4 105.9 437.4 105.4 437.1 104.9 436.9 104.9 436.9 104.4 436.6 103.9 436.4 103.9 436.4 103.4 436.1 102.9 435.9 102.9 435.9 102.4 435.6 101.9 435.4 101.9 435.4 101.4 435.1 101.0 434.9 100.9 434.8 100.4 434.6 100.1 434.4 99.9 434.3 99.4 434.0 99.3 433.9 98.9 433.7 98.5 433.4 98.4 433.4 97.9 433.0 97.7 432.9 97.4 432.7 97.0 432.4 96.9 432.4 96.4 432.0 96.3 431.9 95.9 431.6 95.6 431.4 95.4 431.2 95.0 430.9 94.9 430.8 94.5 430.4 94.4 430.3 93.9 429.9 93.9 429.9 93.4 429.4 93.4 429.4 93.0 428.9 92.9 428.8 92.5 428.4 92.4 428.3 92.1 427.9 91.9 427.7 91.7 427.4 91.4 427.1 91.3 426.9 90.9 426.4 90.9 426.4 90.5 425.9 90.4 425.7 90.2 425.4 89.9 424.9 89.9 424.9 89.6 424.4 89.4 424.1 89.3 423.9 89.0 423.4 88.9 423.2 88.8 422.9 88.5 422.4 88.4 422.2 88.3 421.9 88.1 421.4 87.9 421.0 87.9 420.9 87.7 420.4 87.5 419.9 87.4 419.5 87.4 419.4 87.2 418.9 87.1 418.4 87.0 417.9 86.9 417.5 86.9 417.4 86.8 416.9 86.7 416.4 86.7 415.9 86.6 415.4 86.6 414.9 86.6 414.4 86.6 413.9 86.6 413.4 86.6 412.9 86.7 412.4 86.7 411.9 86.7 411.4 86.8 410.9 86.9 410.4 86.9 410.2 86.9 409.9 87.0 409.4 87.1 408.9 87.2 408.4 87.3 407.9 87.4 407.4 87.4 407.4 87.5 406.9 87.6 406.4 87.7 405.9 87.9 405.4 87.9 405.3 88.0 404.9 88.1 404.4 88.3 403.9 88.4 403.5 88.4 403.4 88.6 402.9 88.8 402.4 88.9 402.2 89.0 401.9 89.2 401.4 89.4 401.1 89.5 400.9 89.8 400.4 89.9 400.2 90.1 399.9 90.4 399.4 90.4 399.4 90.9 398.9 90.9 398.9 91.4 398.4 91.4 398.4 91.9 398.0 92.0 397.9 92.4 397.6 92.9 397.4 92.9 397.4 93.4 397.2 93.9 397.0 94.4 396.9 94.5 396.9Z" fill="#c4daee" fill-rule="evenodd"/>
<path d="M94.7 403.4 94.9 403.3 95.4 403.1 95.9 403.1 96.4 403.0 96.9 403.1 97.4 403.2 97.9 403.3 98.1 403.4 98.4 403.5 98.9 403.7 99.2 403.9 99.4 404.0 99.9 404.3 100.1 404.4 100.4 404.6 100.9 404.9 100.9 404.9 101.4 405.2 101.7 405.4 101.9 405.6 102.4 405.9 102.4 405.9 102.9 406.2 103.1 406.4 103.4 406.6 103.9 406.9 103.9 406.9 104.4 407.2 104.6 407.4 104.9 407.6 105.4 407.9 105.4 407.9 105.9 408.2 106.2 408.4 106.4 408.5 106.9 408.9 107.0 408.9 107.4 409.2 107.8 409.4 107.9 409.5 108.4 409.8 108.6 409.9 108.9 410.1 109.4 410.4 109.4 410.4 109.9 410.7 110.1 410.9 110.4 411.1 110.9 411.4 110.9 411.4 111.4 411.7 111.7 411.9 111.9 412.0 112.4 412.3 112.5 412.4 112.9 412.7 113.3 412.9 113.4 413.0 113.9 413.3 114.0 413.4 114.4 413.7 114.8 413.9 114.9 414.0 115.4 414.3 115.5 414.4 115.9 414.6 116.3 414.9 116.4 415.0 116.9 415.3 117.0 415.4 117.4 415.6 117.8 415.9 117.9 416.0 118.4 416.3 118.6 416.4 118.9 416.6 119.4 416.9 119.4 416.9 119.9 417.2 120.2 417.4 120.4 417.5 120.9 417.8 121.0 417.9 121.4 418.1 121.9 418.4 121.9 418.4 122.4 418.7 122.8 418.9 122.9 419.0 123.4 419.2 123.7 419.4 123.9 419.5 124.4 419.8 124.6 419.9 124.9 420.0 125.4 420.3 125.6 420.4 125.9 420.5 126.4 420.8 126.6 420.9 126.9 421.0 127.4 421.3 127.7 421.4 127.9 421.5 128.4 421.7 128.8 421.9 128.9 421.9 129.4 422.1 129.9 422.4 130.0 422.4 130.4 422.6 130.9 422.8 131.3 422.9 131.4 423.0 131.9 423.1 132.4 423.3 132.6 423.4 132.9 423.5 133.4 423.7 133.9 423.8 134.1 423.9 134.4 424.0 134.9 424.2 135.4 424.3 135.7 424.4 135.9 424.5 136.4 424.6 136.9 424.8 137.3 424.9 137.4 424.9 137.9 425.1 138.4 425.2 138.9 425.4 138.9 425.4 139.4 425.6 139.9 425.8 140.3 425.9 140.4 425.9 140.9 426.1 141.4 426.3 141.6 426.4 141.9 426.5 142.4 426.8 142.7 426.9 142.9 427.0 143.4 427.2 143.7 427.4 143.9 427.5 144.4 427.7 144.7 427.9 144.9 428.0 145.4 428.3 145.6 428.4 145.9 428.6 146.4 428.9 146.4 428.9 146.9 429.2 147.1 429.4 147.4 429.6 147.9 429.9 147.9 429.9 148.4 430.3 148.6 430.4 148.9 430.7 149.2 430.9 149.4 431.0 149.8 431.4 149.9 431.4 150.4 431.9 150.4 431.9 150.9 432.3 151.0 432.4 151.4 432.7 151.6 432.9 151.9 433.2 152.1 433.4 152.4 433.7 152.6 433.9 152.9 434.2 153.1 434.4 153.4 434.7 153.6 434.9 153.9 435.2 154.1 435.4 154.4 435.7 154.6 435.9 154.9 436.3 155.0 436.4 155.4 436.9 155.4 436.9 155.8 437.4 155.9 437.5 156.2 437.9 156.4 438.1 156.6 438.4 156.9 438.8 157.0 438.9 157.3 439.4 157.4 439.5 157.7 439.9 157.9 440.3 158.0 440.4 158.3 440.9 158.4 441.1 158.6 441.4 158.9 441.9 158.9 442.0 159.1 442.4 159.4 442.9 159.4 443.0 159.6 443.4 159.8 443.9 159.9 444.1 160.0 444.4 160.2 444.9 160.4 445.3 160.4 445.4 160.6 445.9 160.7 446.4 160.9 446.9 160.9 447.0 161.0 447.4 161.1 447.9 161.2 448.4 161.3 448.9 161.4 449.4 161.4 449.8 161.4 449.9 161.4 450.4 161.5 450.9 161.5 451.4 161.5 451.9 161.4 452.4 161.4 452.9 161.4 452.9 161.3 453.4 161.3 453.9 161.2 454.4 161.1 454.9 160.9 455.4 160.9 455.5 160.8 455.9 160.6 456.4 160.4 456.8 160.3 456.9 160.1 457.4 159.9 457.7 159.8 457.9 159.4 458.4 159.4 458.4 158.9 458.9 158.9 458.9 158.4 459.4 158.4 459.4 157.9 459.8 157.7 459.9 157.4 460.0 156.9 460.3 156.6 460.4 156.4 460.5 155.9 460.6 155.4 460.7 154.9 460.7 154.4 460.8 153.9 460.8 153.4 460.7 152.9 460.7 152.4 460.6 151.9 460.5 151.5 460.4 151.4 460.4 150.9 460.2 150.4 460.1 149.9 459.9 149.9 459.9 149.4 459.7 148.9 459.5 148.7 459.4 148.4 459.3 147.9 459.1 147.6 458.9 147.4 458.8 146.9 458.5 146.6 458.4 146.4 458.3 145.9 458.0 145.7 457.9 145.4 457.7 144.9 457.4 144.9 457.4 144.4 457.1 144.1 456.9 143.9 456.8 143.4 456.5 143.3 456.4 142.9 456.1 142.5 455.9 142.4 455.8 141.9 455.5 141.8 455.4 141.4 455.1 141.1 454.9 140.9 454.8 140.4 454.4 140.4 454.4 139.9 454.1 139.7 453.9 139.4 453.7 139.0 453.4 138.9 453.3 138.4 453.0 138.3 452.9 137.9 452.6 137.6 452.4 137.4 452.2 137.0 451.9 136.9 451.9 136.4 451.5 136.3 451.4 135.9 451.1 135.6 450.9 135.4 450.7 134.9 450.4 134.9 450.4 134.4 450.0 134.3 449.9 133.9 449.6 133.6 449.4 133.4 449.3 132.9 448.9 132.9 448.9 132.4 448.5 132.2 448.4 131.9 448.2 131.5 447.9 131.4 447.8 130.9 447.5 130.8 447.4 130.4 447.1 130.1 446.9 129.9 446.8 129.4 446.4 129.4 446.4 128.9 446.1 128.6 445.9 128.4 445.8 127.9 445.4 127.8 445.4 127.4 445.1 127.1 444.9 126.9 444.8 126.4 444.5 126.3 444.4 125.9 444.2 125.4 443.9 125.4 443.9 124.9 443.6 124.6 443.4 124.4 443.3 123.9 443.0 123.7 442.9 123.4 442.7 122.9 442.5 122.8 442.4 122.4 442.2 121.9 441.9 121.9 441.9 121.4 441.7 120.9 441.4 120.9 441.4 120.4 441.2 119.9 440.9 119.9 440.9 119.4 440.7 118.9 440.4 118.8 440.4 118.4 440.2 117.9 440.0 117.7 439.9 117.4 439.8 116.9 439.5 116.6 439.4 116.4 439.3 115.9 439.1 115.4 438.9 115.4 438.9 114.9 438.7 114.4 438.5 114.2 438.4 113.9 438.3 113.4 438.0 113.0 437.9 112.9 437.8 112.4 437.6 111.9 437.4 111.9 437.4 111.4 437.2 110.9 437.0 110.7 436.9 110.4 436.8 109.9 436.6 109.5 436.4 109.4 436.4 108.9 436.2 108.4 435.9 108.3 435.9 107.9 435.7 107.4 435.5 107.1 435.4 106.9 435.3 106.4 435.1 105.9 434.9 105.9 434.9 105.4 434.7 104.9 434.5 104.7 434.4 104.4 434.3 103.9 434.0 103.6 433.9 103.4 433.8 102.9 433.6 102.5 433.4 102.4 433.4 101.9 433.1 101.5 432.9 101.4 432.9 100.9 432.6 100.5 432.4 100.4 432.4 99.9 432.1 99.6 431.9 99.4 431.8 98.9 431.5 98.8 431.4 98.4 431.1 98.1 430.9 97.9 430.8 97.4 430.4 97.4 430.4 96.9 430.0 96.8 429.9 96.4 429.6 96.2 429.4 95.9 429.1 95.7 428.9 95.4 428.6 95.2 428.4 94.9 428.1 94.7 427.9 94.4 427.5 94.3 427.4 93.9 426.9 93.9 426.8 93.6 426.4 93.4 426.1 93.2 425.9 92.9 425.4 92.9 425.4 92.6 424.9 92.4 424.5 92.3 424.4 92.1 423.9 91.9 423.5 91.8 423.4 91.6 422.9 91.4 422.4 91.4 422.4 91.2 421.9 91.0 421.4 90.9 421.2 90.8 420.9 90.6 420.4 90.5 419.9 90.4 419.6 90.3 419.4 90.2 418.9 90.1 418.4 90.0 417.9 89.9 417.4 89.9 417.1 89.9 416.9 89.8 416.4 89.8 415.9 89.8 415.4 89.8 414.9 89.8 414.4 89.8 413.9 89.9 413.4 89.9 413.2 89.9 412.9 90.0 412.4 90.1 411.9 90.2 411.4 90.3 410.9 90.4 410.6 90.5 410.4 90.6 409.9 90.8 409.4 90.9 409.0 90.9 408.9 91.1 408.4 91.3 407.9 91.4 407.7 91.5 407.4 91.8 406.9 91.9 406.6 92.0 406.4 92.3 405.9 92.4 405.7 92.6 405.4 92.9 405.0 93.0 404.9 93.4 404.4 93.4 404.4 93.9 403.9 94.0 403.9 94.4 403.6 94.7 403.4Z" fill="#a8cee4" fill-rule="evenodd"/>
<path d="M97.4 409.9 97.4 409.9 97.9 409.8 98.4 409.8 98.9 409.8 99.4 409.9 99.4 409.9 99.9 410.0 100.4 410.1 100.9 410.3 101.3 410.4 101.4 410.4 101.9 410.6 102.4 410.8 102.6 410.9 102.9 411.0 103.4 411.3 103.7 411.4 103.9 411.5 104.4 411.7 104.8 411.9 104.9 412.0 105.4 412.2 105.8 412.4 105.9 412.4 106.4 412.7 106.8 412.9 106.9 412.9 107.4 413.2 107.8 413.4 107.9 413.5 108.4 413.7 108.7 413.9 108.9 414.0 109.4 414.2 109.7 414.4 109.9 414.5 110.4 414.8 110.6 414.9 110.9 415.1 111.4 415.4 111.5 415.4 111.9 415.7 112.3 415.9 112.4 415.9 112.9 416.2 113.2 416.4 113.4 416.5 113.9 416.8 114.0 416.9 114.4 417.1 114.8 417.4 114.9 417.4 115.4 417.7 115.7 417.9 115.9 418.0 116.4 418.3 116.5 418.4 116.9 418.6 117.3 418.9 117.4 418.9 117.9 419.2 118.2 419.4 118.4 419.5 118.9 419.8 119.1 419.9 119.4 420.1 119.9 420.3 120.0 420.4 120.4 420.6 120.9 420.9 121.0 420.9 121.4 421.1 121.9 421.4 122.0 421.4 122.4 421.6 122.9 421.9 123.0 421.9 123.4 422.1 123.9 422.3 124.0 422.4 124.4 422.6 124.9 422.8 125.1 422.9 125.4 423.0 125.9 423.3 126.2 423.4 126.4 423.5 126.9 423.7 127.4 423.9 127.4 423.9 127.9 424.1 128.4 424.3 128.6 424.4 128.9 424.5 129.4 424.7 129.9 424.9 129.9 424.9 130.4 425.1 130.9 425.2 131.4 425.4 131.4 425.4 131.9 425.6 132.4 425.7 132.9 425.9 133.1 425.9 133.4 426.0 133.9 426.1 134.4 426.2 134.9 426.4 135.0 426.4 135.4 426.5 135.9 426.6 136.4 426.7 136.9 426.8 137.2 426.9 137.4 426.9 137.9 427.1 138.4 427.2 138.9 427.3 139.2 427.4 139.4 427.5 139.9 427.6 140.4 427.7 140.9 427.9 140.9 427.9 141.4 428.1 141.9 428.3 142.2 428.4 142.4 428.5 142.9 428.7 143.4 428.9 143.4 428.9 143.9 429.1 144.4 429.4 144.4 429.4 144.9 429.6 145.3 429.9 145.4 429.9 145.9 430.2 146.2 430.4 146.4 430.5 146.9 430.8 147.0 430.9 147.4 431.2 147.7 431.4 147.9 431.5 148.4 431.9 148.4 431.9 148.9 432.3 149.0 432.4 149.4 432.7 149.7 432.9 149.9 433.1 150.3 433.4 150.4 433.5 150.8 433.9 150.9 434.0 151.4 434.4 151.4 434.4 151.9 434.9 151.9 434.9 152.4 435.4 152.4 435.4 152.8 435.9 152.9 436.0 153.3 436.4 153.4 436.5 153.7 436.9 153.9 437.1 154.2 437.4 154.4 437.7 154.6 437.9 154.9 438.3 155.0 438.4 155.4 438.9 155.4 439.0 155.7 439.4 155.9 439.7 156.1 439.9 156.4 440.4 156.4 440.4 156.7 440.9 156.9 441.2 157.0 441.4 157.3 441.9 157.4 442.1 157.6 442.4 157.8 442.9 157.9 443.0 158.1 443.4 158.3 443.9 158.4 444.1 158.5 444.4 158.7 444.9 158.9 445.4 158.9 445.4 159.1 445.9 159.2 446.4 159.4 446.9 159.4 447.0 159.5 447.4 159.6 447.9 159.7 448.4 159.8 448.9 159.9 449.4 159.9 449.9 159.9 449.9 159.9 450.4 160.0 450.9 159.9 451.4 159.9 451.9 159.9 452.2 159.9 452.4 159.8 452.9 159.7 453.4 159.6 453.9 159.5 454.4 159.4 454.7 159.3 454.9 159.1 455.4 158.9 455.9 158.9 455.9 158.6 456.4 158.4 456.7 158.3 456.9 157.9 457.3 157.8 457.4 157.4 457.8 157.3 457.9 156.9 458.2 156.5 458.4 156.4 458.5 155.9 458.7 155.4 458.8 155.2 458.9 154.9 459.0 154.4 459.0 153.9 459.1 153.4 459.1 152.9 459.0 152.4 459.0 152.0 458.9 151.9 458.9 151.4 458.8 150.9 458.6 150.4 458.5 150.2 458.4 149.9 458.3 149.4 458.1 148.9 457.9 148.9 457.9 148.4 457.7 147.9 457.4 147.9 457.4 147.4 457.2 146.9 456.9 146.9 456.9 146.4 456.6 146.1 456.4 145.9 456.3 145.4 456.0 145.3 455.9 144.9 455.7 144.5 455.4 144.4 455.3 143.9 455.0 143.8 454.9 143.4 454.6 143.1 454.4 142.9 454.3 142.4 453.9 142.4 453.9 141.9 453.5 141.7 453.4 141.4 453.2 141.1 452.9 140.9 452.8 140.4 452.4 140.4 452.4 139.9 452.0 139.8 451.9 139.4 451.6 139.1 451.4 138.9 451.2 138.5 450.9 138.4 450.8 137.9 450.4 137.9 450.4 137.4 450.0 137.3 449.9 136.9 449.6 136.6 449.4 136.4 449.2 136.0 448.9 135.9 448.8 135.4 448.4 135.4 448.4 134.9 448.0 134.8 447.9 134.4 447.6 134.1 447.4 133.9 447.2 133.5 446.9 133.4 446.8 132.9 446.5 132.8 446.4 132.4 446.1 132.2 445.9 131.9 445.7 131.5 445.4 131.4 445.3 130.9 445.0 130.8 444.9 130.4 444.6 130.1 444.4 129.9 444.3 129.4 443.9 129.4 443.9 128.9 443.6 128.6 443.4 128.4 443.2 127.9 442.9 127.9 442.9 127.4 442.6 127.1 442.4 126.9 442.3 126.4 441.9 126.3 441.9 125.9 441.6 125.5 441.4 125.4 441.3 124.9 441.0 124.7 440.9 124.4 440.7 123.9 440.5 123.8 440.4 123.4 440.2 122.9 439.9 122.9 439.9 122.4 439.7 121.9 439.4 121.9 439.4 121.4 439.1 120.9 438.9 120.9 438.9 120.4 438.6 119.9 438.4 119.9 438.4 119.4 438.2 118.9 437.9 118.8 437.9 118.4 437.7 117.9 437.5 117.7 437.4 117.4 437.3 116.9 437.1 116.5 436.9 116.4 436.8 115.9 436.6 115.4 436.4 115.3 436.4 114.9 436.2 114.4 436.0 114.1 435.9 113.9 435.8 113.4 435.6 112.9 435.4 112.9 435.4 112.4 435.2 111.9 435.0 111.6 434.9 111.4 434.8 110.9 434.6 110.4 434.4 110.3 434.4 109.9 434.3 109.4 434.1 108.9 433.9 108.9 433.9 108.4 433.7 107.9 433.6 107.4 433.4 107.4 433.4 106.9 433.2 106.4 433.1 105.9 432.9 105.9 432.9 105.4 432.7 104.9 432.6 104.4 432.4 104.4 432.4 103.9 432.2 103.4 432.0 103.1 431.9 102.9 431.8 102.4 431.6 101.9 431.4 101.9 431.4 101.4 431.2 100.9 430.9 100.9 430.9 100.4 430.6 100.0 430.4 99.9 430.3 99.4 430.0 99.2 429.9 98.9 429.7 98.5 429.4 98.4 429.3 97.9 428.9 97.9 428.9 97.4 428.4 97.3 428.4 96.9 427.9 96.9 427.9 96.4 427.4 96.4 427.4 96.0 426.9 95.9 426.7 95.7 426.4 95.4 426.0 95.3 425.9 95.0 425.4 94.9 425.1 94.8 424.9 94.5 424.4 94.4 424.1 94.3 423.9 94.1 423.4 94.0 422.9 93.9 422.7 93.8 422.4 93.6 421.9 93.5 421.4 93.4 420.9 93.4 420.8 93.3 420.4 93.2 419.9 93.2 419.4 93.1 418.9 93.1 418.4 93.0 417.9 93.0 417.4 93.0 416.9 93.1 416.4 93.1 415.9 93.2 415.4 93.3 414.9 93.4 414.4 93.4 414.4 93.5 413.9 93.7 413.4 93.9 413.0 93.9 412.9 94.2 412.4 94.4 412.1 94.5 411.9 94.9 411.4 94.9 411.4 95.4 410.9 95.4 410.9 95.9 410.5 96.1 410.4 96.4 410.2 96.9 410.0 97.4 409.9Z" fill="#87bddc" fill-rule="evenodd"/>
<path d="M99.7 414.9 99.9 414.8 100.4 414.8 100.9 414.7 101.4 414.7 101.9 414.7 102.4 414.8 102.9 414.9 103.1 414.9 103.4 414.9 103.9 415.0 104.4 415.2 104.9 415.3 105.2 415.4 105.4 415.4 105.9 415.6 106.4 415.8 106.7 415.9 106.9 416.0 107.4 416.2 107.9 416.4 108.0 416.4 108.4 416.6 108.9 416.8 109.1 416.9 109.4 417.0 109.9 417.3 110.1 417.4 110.4 417.6 110.9 417.8 111.0 417.9 111.4 418.1 111.8 418.4 111.9 418.4 112.4 418.7 112.6 418.9 112.9 419.1 113.4 419.4 113.4 419.4 113.9 419.7 114.2 419.9 114.4 420.1 114.9 420.4 114.9 420.4 115.4 420.7 115.7 420.9 115.9 421.1 116.4 421.4 116.4 421.4 116.9 421.7 117.2 421.9 117.4 422.0 117.9 422.3 118.1 422.4 118.4 422.6 118.9 422.9 119.0 422.9 119.4 423.1 119.9 423.4 119.9 423.4 120.4 423.7 120.9 423.9 120.9 423.9 121.4 424.2 121.9 424.4 121.9 424.4 122.4 424.6 122.9 424.9 123.0 424.9 123.4 425.1 123.9 425.3 124.1 425.4 124.4 425.5 124.9 425.7 125.3 425.9 125.4 425.9 125.9 426.1 126.4 426.3 126.6 426.4 126.9 426.5 127.4 426.7 127.9 426.9 127.9 426.9 128.4 427.1 128.9 427.2 129.4 427.4 129.4 427.4 129.9 427.6 130.4 427.7 130.9 427.8 131.1 427.9 131.4 428.0 131.9 428.1 132.4 428.2 132.9 428.3 133.4 428.4 133.5 428.4 133.9 428.5 134.4 428.5 134.9 428.6 135.4 428.7 135.9 428.7 136.4 428.8 136.9 428.9 137.1 428.9 137.4 428.9 137.9 429.0 138.4 429.1 138.9 429.2 139.4 429.3 139.9 429.4 140.1 429.4 140.4 429.5 140.9 429.6 141.4 429.7 141.9 429.9 141.9 429.9 142.4 430.1 142.9 430.2 143.3 430.4 143.4 430.5 143.9 430.7 144.4 430.9 144.4 430.9 144.9 431.1 145.4 431.4 145.4 431.4 145.9 431.7 146.2 431.9 146.4 432.0 146.9 432.3 147.0 432.4 147.4 432.7 147.7 432.9 147.9 433.0 148.4 433.4 148.4 433.4 148.9 433.8 149.1 433.9 149.4 434.2 149.7 434.4 149.9 434.6 150.2 434.9 150.4 435.1 150.8 435.4 150.9 435.5 151.3 435.9 151.4 436.0 151.8 436.4 151.9 436.5 152.2 436.9 152.4 437.1 152.7 437.4 152.9 437.6 153.1 437.9 153.4 438.2 153.5 438.4 153.9 438.9 153.9 438.9 154.3 439.4 154.4 439.5 154.7 439.9 154.9 440.2 155.0 440.4 155.3 440.9 155.4 441.0 155.6 441.4 155.9 441.8 155.9 441.9 156.2 442.4 156.4 442.7 156.5 442.9 156.7 443.4 156.9 443.7 157.0 443.9 157.2 444.4 157.4 444.9 157.4 444.9 157.6 445.4 157.8 445.9 157.9 446.4 157.9 446.4 158.1 446.9 158.2 447.4 158.3 447.9 158.4 448.4 158.4 448.6 158.5 448.9 158.5 449.4 158.5 449.9 158.6 450.4 158.6 450.9 158.5 451.4 158.5 451.9 158.4 452.4 158.4 452.6 158.3 452.9 158.2 453.4 158.0 453.9 157.9 454.3 157.8 454.4 157.6 454.9 157.4 455.2 157.3 455.4 156.9 455.9 156.9 455.9 156.4 456.4 156.4 456.4 155.9 456.7 155.6 456.9 155.4 457.0 154.9 457.2 154.4 457.3 154.1 457.4 153.9 457.4 153.4 457.5 152.9 457.5 152.4 457.4 152.2 457.4 151.9 457.4 151.4 457.3 150.9 457.1 150.4 457.0 150.1 456.9 149.9 456.8 149.4 456.6 148.9 456.4 148.9 456.4 148.4 456.2 147.9 455.9 147.9 455.9 147.4 455.6 147.0 455.4 146.9 455.3 146.4 455.0 146.2 454.9 145.9 454.7 145.4 454.4 145.4 454.4 144.9 454.0 144.7 453.9 144.4 453.7 144.0 453.4 143.9 453.3 143.4 452.9 143.4 452.9 142.9 452.5 142.7 452.4 142.4 452.1 142.1 451.9 141.9 451.7 141.5 451.4 141.4 451.3 140.9 450.9 140.9 450.9 140.4 450.5 140.3 450.4 139.9 450.0 139.8 449.9 139.4 449.6 139.2 449.4 138.9 449.1 138.6 448.9 138.4 448.7 138.1 448.4 137.9 448.3 137.5 447.9 137.4 447.8 136.9 447.4 136.9 447.4 136.4 446.9 136.4 446.9 135.9 446.5 135.8 446.4 135.4 446.0 135.2 445.9 134.9 445.6 134.7 445.4 134.4 445.2 134.1 444.9 133.9 444.7 133.5 444.4 133.4 444.3 132.9 443.9 132.9 443.9 132.4 443.5 132.3 443.4 131.9 443.1 131.7 442.9 131.4 442.7 131.0 442.4 130.9 442.3 130.4 441.9 130.4 441.9 129.9 441.5 129.7 441.4 129.4 441.2 129.0 440.9 128.9 440.8 128.4 440.5 128.3 440.4 127.9 440.1 127.6 439.9 127.4 439.8 126.9 439.4 126.8 439.4 126.4 439.1 126.0 438.9 125.9 438.8 125.4 438.5 125.2 438.4 124.9 438.2 124.4 437.9 124.4 437.9 123.9 437.6 123.5 437.4 123.4 437.3 122.9 437.1 122.6 436.9 122.4 436.8 121.9 436.6 121.6 436.4 121.4 436.3 120.9 436.1 120.6 435.9 120.4 435.8 119.9 435.6 119.5 435.4 119.4 435.4 118.9 435.1 118.4 434.9 118.4 434.9 117.9 434.7 117.4 434.5 117.2 434.4 116.9 434.3 116.4 434.1 116.0 433.9 115.9 433.9 115.4 433.7 114.9 433.5 114.6 433.4 114.4 433.3 113.9 433.1 113.4 433.0 113.2 432.9 112.9 432.8 112.4 432.7 111.9 432.5 111.5 432.4 111.4 432.4 110.9 432.3 110.4 432.1 109.9 432.0 109.4 431.9 109.2 431.9 108.9 431.8 108.4 431.7 107.9 431.6 107.4 431.5 106.9 431.4 106.7 431.4 106.4 431.3 105.9 431.2 105.4 431.1 104.9 431.0 104.6 430.9 104.4 430.9 103.9 430.7 103.4 430.5 103.0 430.4 102.9 430.4 102.4 430.2 101.9 429.9 101.8 429.9 101.4 429.7 100.9 429.4 100.8 429.4 100.4 429.1 100.0 428.9 99.9 428.8 99.4 428.4 99.4 428.4 98.9 428.0 98.8 427.9 98.4 427.5 98.3 427.4 97.9 427.0 97.8 426.9 97.5 426.4 97.4 426.3 97.1 425.9 96.9 425.5 96.8 425.4 96.6 424.9 96.4 424.4 96.4 424.4 96.2 423.9 96.1 423.4 96.0 422.9 95.9 422.5 95.9 422.4 95.8 421.9 95.8 421.4 95.8 420.9 95.8 420.4 95.9 419.9 95.9 419.7 96.0 419.4 96.1 418.9 96.2 418.4 96.4 417.9 96.4 417.9 96.6 417.4 96.9 416.9 96.9 416.9 97.3 416.4 97.4 416.2 97.7 415.9 97.9 415.8 98.4 415.4 98.4 415.4 98.9 415.1 99.4 415.0 99.7 414.9Z" fill="#66abd4" fill-rule="evenodd"/>
<path d="M101.5 417.4 101.9 417.3 102.4 417.3 102.9 417.2 103.4 417.2 103.9 417.3 104.4 417.3 104.9 417.4 104.9 417.4 105.4 417.5 105.9 417.6 106.4 417.7 106.9 417.9 106.9 417.9 107.4 418.1 107.9 418.3 108.2 418.4 108.4 418.5 108.9 418.7 109.2 418.9 109.4 419.0 109.9 419.3 110.1 419.4 110.4 419.6 110.9 419.9 110.9 419.9 111.4 420.3 111.6 420.4 111.9 420.7 112.2 420.9 112.4 421.1 112.8 421.4 112.9 421.5 113.4 421.9 113.4 421.9 113.9 422.4 113.9 422.4 114.4 422.9 114.4 422.9 114.9 423.4 114.9 423.4 115.4 423.8 115.5 423.9 115.9 424.3 116.0 424.4 116.4 424.8 116.5 424.9 116.9 425.2 117.1 425.4 117.4 425.6 117.8 425.9 117.9 426.0 118.4 426.4 118.4 426.4 118.9 426.7 119.2 426.9 119.4 427.0 119.9 427.3 120.1 427.4 120.4 427.6 120.9 427.8 121.1 427.9 121.4 428.1 121.9 428.3 122.2 428.4 122.4 428.5 122.9 428.7 123.4 428.9 123.5 428.9 123.9 429.1 124.4 429.2 124.9 429.4 124.9 429.4 125.4 429.6 125.9 429.7 126.4 429.8 126.6 429.9 126.9 430.0 127.4 430.1 127.9 430.2 128.4 430.3 128.9 430.4 128.9 430.4 129.4 430.5 129.9 430.6 130.4 430.6 130.9 430.7 131.4 430.8 131.9 430.8 132.4 430.8 132.9 430.8 133.4 430.8 133.9 430.8 134.4 430.8 134.9 430.8 135.4 430.8 135.9 430.8 136.4 430.8 136.9 430.8 137.4 430.8 137.9 430.8 138.4 430.8 138.9 430.8 139.4 430.9 139.9 430.9 139.9 430.9 140.4 431.0 140.9 431.1 141.4 431.2 141.9 431.3 142.3 431.4 142.4 431.4 142.9 431.6 143.4 431.8 143.8 431.9 143.9 432.0 144.4 432.2 144.9 432.4 144.9 432.4 145.4 432.7 145.8 432.9 145.9 432.9 146.4 433.2 146.7 433.4 146.9 433.5 147.4 433.9 147.4 433.9 147.9 434.2 148.1 434.4 148.4 434.6 148.8 434.9 148.9 435.0 149.4 435.4 149.4 435.4 149.9 435.9 149.9 435.9 150.4 436.3 150.5 436.4 150.9 436.8 151.0 436.9 151.4 437.3 151.5 437.4 151.9 437.9 151.9 437.9 152.4 438.4 152.4 438.5 152.8 438.9 152.9 439.1 153.2 439.4 153.4 439.7 153.5 439.9 153.9 440.4 153.9 440.4 154.2 440.9 154.4 441.2 154.6 441.4 154.9 441.9 154.9 442.0 155.1 442.4 155.4 442.9 155.4 442.9 155.7 443.4 155.9 443.9 155.9 443.9 156.1 444.4 156.3 444.9 156.4 445.1 156.5 445.4 156.7 445.9 156.8 446.4 156.9 446.6 157.0 446.9 157.1 447.4 157.2 447.9 157.3 448.4 157.4 448.9 157.4 449.4 157.4 449.4 157.4 449.9 157.4 450.4 157.4 450.9 157.4 451.0 157.4 451.4 157.3 451.9 157.2 452.4 157.0 452.9 156.9 453.2 156.8 453.4 156.6 453.9 156.4 454.2 156.3 454.4 155.9 454.8 155.8 454.9 155.4 455.3 155.2 455.4 154.9 455.6 154.4 455.8 154.2 455.9 153.9 456.0 153.4 456.1 152.9 456.1 152.4 456.1 151.9 456.1 151.4 456.0 150.9 455.9 150.9 455.9 150.4 455.8 149.9 455.6 149.4 455.4 149.4 455.4 148.9 455.2 148.4 454.9 148.3 454.9 147.9 454.7 147.4 454.4 147.4 454.4 146.9 454.1 146.6 453.9 146.4 453.8 145.9 453.4 145.9 453.4 145.4 453.1 145.2 452.9 144.9 452.7 144.5 452.4 144.4 452.3 143.9 451.9 143.9 451.9 143.4 451.5 143.3 451.4 142.9 451.1 142.7 450.9 142.4 450.6 142.1 450.4 141.9 450.2 141.6 449.9 141.4 449.7 141.0 449.4 140.9 449.3 140.5 448.9 140.4 448.8 140.0 448.4 139.9 448.3 139.5 447.9 139.4 447.8 139.0 447.4 138.9 447.3 138.5 446.9 138.4 446.8 138.0 446.4 137.9 446.3 137.5 445.9 137.4 445.8 137.0 445.4 136.9 445.3 136.5 444.9 136.4 444.8 136.0 444.4 135.9 444.3 135.5 443.9 135.4 443.8 135.0 443.4 134.9 443.3 134.5 442.9 134.4 442.8 134.0 442.4 133.9 442.3 133.5 441.9 133.4 441.8 133.0 441.4 132.9 441.3 132.5 440.9 132.4 440.8 132.0 440.4 131.9 440.3 131.4 439.9 131.4 439.9 130.9 439.4 130.9 439.4 130.4 438.9 130.4 438.9 129.9 438.5 129.8 438.4 129.4 438.0 129.2 437.9 128.9 437.6 128.6 437.4 128.4 437.2 128.0 436.9 127.9 436.8 127.4 436.4 127.4 436.4 126.9 436.0 126.8 435.9 126.4 435.6 126.1 435.4 125.9 435.2 125.4 434.9 125.4 434.9 124.9 434.5 124.7 434.4 124.4 434.2 123.9 433.9 123.9 433.9 123.4 433.6 123.1 433.4 122.9 433.3 122.4 433.0 122.2 432.9 121.9 432.7 121.4 432.5 121.2 432.4 120.9 432.2 120.4 432.0 120.2 431.9 119.9 431.8 119.4 431.6 119.0 431.4 118.9 431.4 118.4 431.2 117.9 431.0 117.5 430.9 117.4 430.9 116.9 430.7 116.4 430.6 115.9 430.5 115.4 430.4 115.3 430.4 114.9 430.3 114.4 430.3 113.9 430.2 113.4 430.2 112.9 430.2 112.4 430.2 111.9 430.2 111.4 430.2 110.9 430.2 110.4 430.2 109.9 430.2 109.4 430.2 108.9 430.2 108.4 430.2 107.9 430.1 107.4 430.1 106.9 430.1 106.4 430.0 105.9 429.9 105.6 429.9 105.4 429.9 104.9 429.8 104.4 429.7 103.9 429.5 103.5 429.4 103.4 429.4 102.9 429.2 102.4 429.0 102.2 428.9 101.9 428.8 101.4 428.5 101.2 428.4 100.9 428.2 100.5 427.9 100.4 427.8 99.9 427.4 99.9 427.4 99.4 427.0 99.3 426.9 98.9 426.4 98.9 426.4 98.6 425.9 98.4 425.6 98.3 425.4 98.0 424.9 97.9 424.6 97.8 424.4 97.7 423.9 97.6 423.4 97.5 422.9 97.5 422.4 97.5 421.9 97.6 421.4 97.7 420.9 97.9 420.4 97.9 420.4 98.1 419.9 98.4 419.5 98.4 419.4 98.8 418.9 98.9 418.8 99.4 418.4 99.4 418.4 99.9 418.0 100.1 417.9 100.4 417.8 100.9 417.6 101.4 417.4 101.5 417.4Z" fill="#4e9acb" fill-rule="evenodd"/>
<path d="M103.2 418.9 103.4 418.9 103.9 418.9 104.4 418.9 104.6 418.9 104.9 418.9 105.4 419.0 105.9 419.1 106.4 419.2 106.9 419.4 106.9 419.4 107.4 419.6 107.9 419.8 108.1 419.9 108.4 420.1 108.9 420.4 109.0 420.4 109.4 420.7 109.7 420.9 109.9 421.1 110.3 421.4 110.4 421.5 110.8 421.9 110.9 422.0 111.3 422.4 111.4 422.5 111.7 422.9 111.9 423.2 112.0 423.4 112.3 423.9 112.4 424.2 112.5 424.4 112.7 424.9 112.7 425.4 112.7 425.9 112.6 426.4 112.4 426.8 112.3 426.9 111.9 427.4 111.9 427.4 111.4 427.7 111.1 427.9 110.9 428.0 110.4 428.2 109.9 428.4 109.9 428.4 109.4 428.5 108.9 428.6 108.4 428.7 107.9 428.8 107.4 428.8 106.9 428.9 106.4 428.8 105.9 428.8 105.4 428.8 104.9 428.7 104.4 428.6 103.9 428.5 103.6 428.4 103.4 428.3 102.9 428.1 102.4 427.9 102.4 427.9 101.9 427.6 101.5 427.4 101.4 427.3 100.9 427.0 100.8 426.9 100.4 426.5 100.3 426.4 99.9 425.9 99.9 425.9 99.6 425.4 99.4 425.1 99.3 424.9 99.1 424.4 99.0 423.9 98.9 423.4 98.9 422.9 99.0 422.4 99.1 421.9 99.3 421.4 99.4 421.2 99.6 420.9 99.9 420.5 100.0 420.4 100.4 420.0 100.5 419.9 100.9 419.6 101.3 419.4 101.4 419.4 101.9 419.2 102.4 419.0 102.9 418.9 103.2 418.9ZM136.7 432.9 136.9 432.8 137.4 432.7 137.9 432.6 138.4 432.5 138.9 432.5 139.4 432.4 139.9 432.4 140.4 432.4 140.9 432.5 141.4 432.5 141.9 432.6 142.4 432.7 142.9 432.8 143.2 432.9 143.4 433.0 143.9 433.1 144.4 433.3 144.6 433.4 144.9 433.5 145.4 433.8 145.6 433.9 145.9 434.0 146.4 434.3 146.5 434.4 146.9 434.6 147.3 434.9 147.4 435.0 147.9 435.3 148.0 435.4 148.4 435.7 148.7 435.9 148.9 436.1 149.2 436.4 149.4 436.5 149.8 436.9 149.9 437.0 150.3 437.4 150.4 437.5 150.8 437.9 150.9 438.0 151.3 438.4 151.4 438.5 151.7 438.9 151.9 439.1 152.1 439.4 152.4 439.7 152.5 439.9 152.9 440.4 152.9 440.4 153.3 440.9 153.4 441.1 153.6 441.4 153.9 441.9 153.9 441.9 154.2 442.4 154.4 442.8 154.5 442.9 154.7 443.4 154.9 443.8 155.0 443.9 155.2 444.4 155.4 444.9 155.4 444.9 155.6 445.4 155.8 445.9 155.9 446.4 155.9 446.4 156.0 446.9 156.2 447.4 156.2 447.9 156.3 448.4 156.4 448.9 156.4 449.4 156.4 449.4 156.4 449.9 156.4 450.0 156.4 450.4 156.3 450.9 156.2 451.4 156.1 451.9 155.9 452.4 155.9 452.5 155.7 452.9 155.4 453.4 155.4 453.4 154.9 453.9 154.9 453.9 154.4 454.3 154.3 454.4 153.9 454.6 153.4 454.8 152.9 454.9 152.5 454.9 152.4 454.9 152.0 454.9 151.9 454.9 151.4 454.8 150.9 454.8 150.4 454.6 149.9 454.5 149.7 454.4 149.4 454.3 148.9 454.1 148.6 453.9 148.4 453.8 147.9 453.6 147.6 453.4 147.4 453.3 146.9 453.0 146.8 452.9 146.4 452.6 146.1 452.4 145.9 452.3 145.4 451.9 145.4 451.9 144.9 451.5 144.8 451.4 144.4 451.1 144.2 450.9 143.9 450.7 143.6 450.4 143.4 450.2 143.1 449.9 142.9 449.7 142.5 449.4 142.4 449.3 142.0 448.9 141.9 448.8 141.5 448.4 141.4 448.3 141.0 447.9 140.9 447.7 140.6 447.4 140.4 447.2 140.1 446.9 139.9 446.7 139.7 446.4 139.4 446.1 139.2 445.9 138.9 445.5 138.8 445.4 138.4 444.9 138.4 444.9 137.9 444.4 137.9 444.3 137.5 443.9 137.4 443.7 137.1 443.4 136.9 443.1 136.7 442.9 136.4 442.5 136.4 442.4 136.0 441.9 135.9 441.8 135.6 441.4 135.4 441.1 135.2 440.9 134.9 440.4 134.9 440.4 134.6 439.9 134.4 439.6 134.2 439.4 133.9 438.9 133.9 438.8 133.7 438.4 133.4 437.9 133.4 437.9 133.2 437.4 133.0 436.9 132.9 436.4 132.9 435.9 133.0 435.4 133.2 434.9 133.4 434.7 133.6 434.4 133.9 434.2 134.3 433.9 134.4 433.9 134.9 433.6 135.3 433.4 135.4 433.4 135.9 433.2 136.4 433.0 136.7 432.9Z" fill="#3080bd" fill-rule="evenodd"/>
<path d="M103.5 421.9 103.9 421.8 104.4 421.7 104.9 421.8 105.4 421.8 105.6 421.9 105.9 422.0 106.4 422.2 106.7 422.4 106.9 422.5 107.3 422.9 107.4 423.0 107.7 423.4 107.9 423.8 107.9 423.9 108.0 424.4 107.9 424.9 107.9 425.0 107.7 425.4 107.4 425.7 107.1 425.9 106.9 426.0 106.4 426.2 105.9 426.3 105.4 426.4 104.9 426.3 104.4 426.2 103.9 426.1 103.4 425.9 103.4 425.9 102.9 425.5 102.7 425.4 102.4 425.0 102.3 424.9 102.1 424.4 102.0 423.9 102.0 423.4 102.2 422.9 102.4 422.6 102.6 422.4 102.9 422.2 103.4 421.9 103.5 421.9ZM140.5 435.9 140.9 435.7 141.4 435.5 141.9 435.4 142.4 435.4 142.9 435.4 143.4 435.5 143.9 435.6 144.4 435.7 144.9 435.8 145.1 435.9 145.4 436.0 145.9 436.3 146.2 436.4 146.4 436.5 146.9 436.8 147.0 436.9 147.4 437.1 147.8 437.4 147.9 437.5 148.4 437.9 148.4 437.9 148.9 438.3 149.0 438.4 149.4 438.8 149.5 438.9 149.9 439.2 150.0 439.4 150.4 439.8 150.5 439.9 150.9 440.4 150.9 440.4 151.3 440.9 151.4 441.0 151.7 441.4 151.9 441.7 152.0 441.9 152.3 442.4 152.4 442.5 152.6 442.9 152.9 443.4 152.9 443.4 153.2 443.9 153.4 444.4 153.4 444.4 153.6 444.9 153.8 445.4 153.9 445.8 153.9 445.9 154.1 446.4 154.2 446.9 154.3 447.4 154.3 447.9 154.4 448.4 154.4 448.9 154.3 449.4 154.2 449.9 154.1 450.4 153.9 450.9 153.9 450.9 153.6 451.4 153.4 451.6 153.0 451.9 152.9 452.0 152.4 452.2 151.9 452.4 151.8 452.4 151.4 452.4 150.9 452.4 150.7 452.4 150.4 452.4 149.9 452.2 149.4 452.1 149.0 451.9 148.9 451.9 148.4 451.6 148.0 451.4 147.9 451.4 147.4 451.0 147.2 450.9 146.9 450.7 146.5 450.4 146.4 450.3 145.9 450.0 145.8 449.9 145.4 449.5 145.3 449.4 144.9 449.1 144.7 448.9 144.4 448.6 144.2 448.4 143.9 448.1 143.7 447.9 143.4 447.5 143.3 447.4 142.9 447.0 142.8 446.9 142.4 446.4 142.4 446.4 142.0 445.9 141.9 445.7 141.7 445.4 141.4 445.0 141.3 444.9 141.0 444.4 140.9 444.3 140.7 443.9 140.4 443.4 140.4 443.4 140.1 442.9 139.9 442.5 139.8 442.4 139.6 441.9 139.4 441.4 139.4 441.4 139.2 440.9 139.1 440.4 139.0 439.9 138.9 439.6 138.9 439.4 138.8 438.9 138.9 438.4 138.9 438.2 139.0 437.9 139.1 437.4 139.4 436.9 139.4 436.9 139.8 436.4 139.9 436.3 140.4 436.0 140.5 435.9Z" fill="#084f99" fill-rule="evenodd"/>
</g>
<g clip-path="url(#clip30)">
<path d="M155.7 596.4 155.9 596.3 156.4 596.1 156.9 596.0 157.4 595.9 157.9 595.9 158.4 595.9 158.9 596.0 159.4 596.1 159.9 596.2 160.4 596.4 160.4 596.4 160.9 596.6 161.4 596.9 161.4 596.9 161.9 597.2 162.1 597.4 162.4 597.6 162.7 597.9 162.9 598.1 163.2 598.4 163.4 598.6 163.7 598.9 163.9 599.1 164.2 599.4 164.4 599.7 164.5 599.9 164.9 600.4 164.9 600.4 165.3 600.9 165.4 601.1 165.6 601.4 165.9 601.9 165.9 601.9 166.2 602.4 166.4 602.8 166.5 602.9 166.7 603.4 166.9 603.7 167.0 603.9 167.2 604.4 167.4 604.8 167.5 604.9 167.7 605.4 167.9 605.9 167.9 605.9 168.1 606.4 168.3 606.9 168.4 607.2 168.5 607.4 168.6 607.9 168.8 608.4 168.9 608.9 168.9 608.9 169.0 609.4 169.2 609.9 169.3 610.4 169.3 610.9 169.4 611.3 169.4 611.4 169.5 611.9 169.5 612.4 169.5 612.9 169.6 613.4 169.6 613.9 169.5 614.4 169.5 614.9 169.5 615.4 169.4 615.8 169.4 615.9 169.3 616.4 169.2 616.9 169.1 617.4 169.0 617.9 168.9 618.2 168.9 618.4 168.7 618.9 168.5 619.4 168.4 619.8 168.4 619.9 168.2 620.4 168.0 620.9 167.9 621.1 167.8 621.4 167.6 621.9 167.4 622.3 167.4 622.4 167.1 622.9 166.9 623.4 166.9 623.5 166.7 623.9 166.5 624.4 166.4 624.8 166.4 624.9 166.2 625.4 166.1 625.9 165.9 626.4 165.9 626.7 165.9 626.9 165.8 627.4 165.8 627.9 165.9 628.4 165.9 628.4 166.0 628.9 166.1 629.4 166.2 629.9 166.4 630.4 166.4 630.5 166.5 630.9 166.7 631.4 166.9 631.9 166.9 632.1 167.0 632.4 167.1 632.9 167.2 633.4 167.3 633.9 167.3 634.4 167.3 634.9 167.3 635.4 167.2 635.9 167.1 636.4 167.0 636.9 166.9 637.1 166.8 637.4 166.5 637.9 166.4 638.1 166.3 638.4 165.9 638.9 165.9 638.9 165.5 639.4 165.4 639.6 165.1 639.9 164.9 640.1 164.6 640.4 164.4 640.6 164.1 640.9 163.9 641.1 163.5 641.4 163.4 641.5 162.9 641.9 162.8 641.9 162.4 642.2 162.1 642.4 161.9 642.5 161.4 642.8 161.3 642.9 160.9 643.1 160.4 643.4 160.4 643.4 159.9 643.7 159.4 643.9 159.4 643.9 158.9 644.1 158.4 644.3 158.2 644.4 157.9 644.5 157.4 644.7 156.9 644.9 156.8 644.9 156.4 645.1 155.9 645.2 155.4 645.4 155.2 645.4 154.9 645.5 154.4 645.6 153.9 645.8 153.4 645.9 153.3 645.9 152.9 646.0 152.4 646.1 151.9 646.2 151.4 646.3 150.9 646.4 150.7 646.4 150.4 646.4 149.9 646.5 149.4 646.6 148.9 646.7 148.4 646.7 147.9 646.8 147.4 646.8 146.9 646.9 146.9 646.9 146.4 647.0 145.9 647.0 145.4 647.1 144.9 647.1 144.4 647.1 143.9 647.2 143.4 647.2 142.9 647.3 142.4 647.3 141.9 647.3 141.4 647.4 140.9 647.4 140.6 647.4 140.4 647.4 139.9 647.4 139.4 647.5 138.9 647.5 138.4 647.5 137.9 647.6 137.4 647.6 136.9 647.6 136.4 647.6 135.9 647.7 135.4 647.7 134.9 647.7 134.4 647.7 133.9 647.8 133.4 647.8 132.9 647.8 132.4 647.8 131.9 647.8 131.4 647.9 130.9 647.9 130.5 647.9 130.4 647.9 129.9 647.9 129.4 647.9 128.9 648.0 128.4 648.0 127.9 648.0 127.4 648.0 126.9 648.0 126.4 648.1 125.9 648.1 125.4 648.1 124.9 648.1 124.4 648.1 123.9 648.1 123.4 648.1 122.9 648.1 122.4 648.2 121.9 648.2 121.4 648.2 120.9 648.2 120.4 648.2 119.9 648.2 119.4 648.2 118.9 648.2 118.4 648.2 117.9 648.2 117.4 648.2 116.9 648.2 116.4 648.2 115.9 648.2 115.4 648.2 114.9 648.2 114.4 648.2 113.9 648.2 113.4 648.2 112.9 648.2 112.4 648.2 111.9 648.2 111.4 648.2 110.9 648.2 110.4 648.2 109.9 648.2 109.4 648.2 108.9 648.2 108.4 648.2 107.9 648.1 107.4 648.1 106.9 648.1 106.4 648.1 105.9 648.1 105.4 648.1 104.9 648.1 104.4 648.1 103.9 648.0 103.4 648.0 102.9 648.0 102.4 648.0 101.9 648.0 101.4 647.9 100.9 647.9 100.9 647.9 100.4 647.9 99.9 647.8 99.4 647.8 98.9 647.8 98.4 647.7 97.9 647.7 97.4 647.6 96.9 647.6 96.4 647.5 95.9 647.5 95.6 647.4 95.4 647.4 94.9 647.3 94.4 647.2 93.9 647.1 93.4 647.0 92.9 646.9 92.7 646.9 92.4 646.8 91.9 646.7 91.4 646.6 90.9 646.5 90.7 646.4 90.4 646.3 89.9 646.2 89.4 646.0 89.1 645.9 88.9 645.8 88.4 645.6 87.9 645.4 87.8 645.4 87.4 645.2 86.9 645.0 86.7 644.9 86.4 644.8 85.9 644.5 85.7 644.4 85.4 644.2 84.9 644.0 84.8 643.9 84.4 643.7 84.0 643.4 83.9 643.3 83.4 643.0 83.3 642.9 82.9 642.6 82.6 642.4 82.4 642.2 82.0 641.9 81.9 641.8 81.5 641.4 81.4 641.3 81.0 640.9 80.9 640.8 80.6 640.4 80.4 640.2 80.2 639.9 79.9 639.5 79.8 639.4 79.5 638.9 79.4 638.7 79.2 638.4 79.0 637.9 78.9 637.5 78.9 637.4 78.7 636.9 78.7 636.4 78.7 635.9 78.7 635.4 78.8 634.9 78.9 634.6 79.0 634.4 79.2 633.9 79.4 633.5 79.4 633.4 79.8 632.9 79.9 632.7 80.2 632.4 80.4 632.1 80.6 631.9 80.9 631.6 81.2 631.4 81.4 631.2 81.7 630.9 81.9 630.8 82.4 630.4 82.4 630.4 82.9 630.1 83.2 629.9 83.4 629.8 83.9 629.5 84.0 629.4 84.4 629.2 84.9 628.9 84.9 628.9 85.4 628.7 85.9 628.4 86.0 628.4 86.4 628.2 86.9 628.0 87.2 627.9 87.4 627.8 87.9 627.6 88.4 627.4 88.5 627.4 88.9 627.3 89.4 627.1 89.9 627.0 90.2 626.9 90.4 626.8 90.9 626.7 91.4 626.6 91.9 626.5 92.2 626.4 92.4 626.3 92.9 626.2 93.4 626.1 93.9 626.0 94.4 626.0 94.8 625.9 94.9 625.9 95.4 625.8 95.9 625.7 96.4 625.6 96.9 625.6 97.4 625.5 97.9 625.5 98.4 625.4 98.5 625.4 98.9 625.3 99.4 625.3 99.9 625.2 100.4 625.2 100.9 625.1 101.4 625.1 101.9 625.0 102.4 625.0 102.9 624.9 103.4 624.9 103.4 624.9 103.9 624.8 104.4 624.8 104.9 624.7 105.4 624.7 105.9 624.6 106.4 624.6 106.9 624.5 107.4 624.4 107.6 624.4 107.9 624.4 108.4 624.3 108.9 624.2 109.4 624.1 109.9 624.0 110.4 623.9 110.7 623.9 110.9 623.9 111.4 623.7 111.9 623.6 112.4 623.5 112.9 623.4 113.0 623.4 113.4 623.3 113.9 623.2 114.4 623.0 114.8 622.9 114.9 622.9 115.4 622.7 115.9 622.6 116.4 622.4 116.4 622.4 116.9 622.2 117.4 622.0 117.7 621.9 117.9 621.8 118.4 621.6 118.9 621.4 118.9 621.4 119.4 621.2 119.9 621.0 120.0 620.9 120.4 620.7 120.9 620.5 121.1 620.4 121.4 620.2 121.9 620.0 122.0 619.9 122.4 619.7 122.9 619.4 123.0 619.4 123.4 619.2 123.9 618.9 123.9 618.9 124.4 618.6 124.8 618.4 124.9 618.3 125.4 618.0 125.7 617.9 125.9 617.8 126.4 617.5 126.5 617.4 126.9 617.2 127.4 616.9 127.4 616.9 127.9 616.6 128.3 616.4 128.4 616.4 128.9 616.1 129.3 615.9 129.4 615.8 129.9 615.6 130.2 615.4 130.4 615.3 130.9 615.1 131.2 614.9 131.4 614.8 131.9 614.6 132.2 614.4 132.4 614.3 132.9 614.1 133.3 613.9 133.4 613.9 133.9 613.6 134.4 613.4 134.4 613.4 134.9 613.2 135.4 613.0 135.6 612.9 135.9 612.8 136.4 612.5 136.7 612.4 136.9 612.3 137.4 612.1 137.9 611.9 137.9 611.9 138.4 611.7 138.9 611.5 139.1 611.4 139.4 611.3 139.9 611.1 140.3 610.9 140.4 610.8 140.9 610.6 141.3 610.4 141.4 610.4 141.9 610.1 142.3 609.9 142.4 609.8 142.9 609.6 143.2 609.4 143.4 609.3 143.9 608.9 144.0 608.9 144.4 608.6 144.6 608.4 144.9 608.2 145.3 607.9 145.4 607.8 145.8 607.4 145.9 607.3 146.4 606.9 146.4 606.9 146.8 606.4 146.9 606.3 147.3 605.9 147.4 605.7 147.7 605.4 147.9 605.1 148.1 604.9 148.4 604.4 148.4 604.4 148.8 603.9 148.9 603.7 149.1 603.4 149.4 603.0 149.5 602.9 149.8 602.4 149.9 602.3 150.2 601.9 150.4 601.6 150.5 601.4 150.9 600.9 150.9 600.8 151.2 600.4 151.4 600.2 151.6 599.9 151.9 599.5 152.0 599.4 152.4 598.9 152.4 598.9 152.9 598.4 152.9 598.4 153.4 597.9 153.4 597.9 153.9 597.5 154.0 597.4 154.4 597.1 154.8 596.9 154.9 596.8 155.4 596.5 155.7 596.4Z" fill="#eff6fc" fill-rule="evenodd"/>
<path d="M154.5 614.4 154.9 614.2 155.4 614.1 155.9 614.0 156.4 614.1 156.9 614.4 156.9 614.4 157.2 614.9 157.4 615.4 157.4 615.6 157.4 615.9 157.4 616.4 157.4 616.4 157.3 616.9 157.2 617.4 157.0 617.9 156.9 618.1 156.7 618.4 156.5 618.9 156.4 619.0 156.2 619.4 155.9 619.8 155.8 619.9 155.5 620.4 155.4 620.5 155.1 620.9 154.9 621.3 154.8 621.4 154.5 621.9 154.4 622.1 154.3 622.4 154.1 622.9 154.0 623.4 153.9 623.9 154.0 624.4 154.2 624.9 154.4 625.3 154.4 625.4 154.8 625.9 154.9 626.0 155.2 626.4 155.4 626.6 155.7 626.9 155.9 627.1 156.2 627.4 156.4 627.5 156.8 627.9 156.9 628.0 157.3 628.4 157.4 628.4 157.9 628.9 157.9 628.9 158.4 629.4 158.4 629.4 158.9 629.9 158.9 629.9 159.4 630.4 159.4 630.5 159.8 630.9 159.9 631.1 160.2 631.4 160.4 631.8 160.5 631.9 160.8 632.4 160.9 632.6 161.1 632.9 161.3 633.4 161.4 633.8 161.4 633.9 161.6 634.4 161.6 634.9 161.7 635.4 161.7 635.9 161.6 636.4 161.5 636.9 161.4 637.1 161.3 637.4 161.1 637.9 160.9 638.2 160.8 638.4 160.5 638.9 160.4 639.0 160.1 639.4 159.9 639.6 159.6 639.9 159.4 640.1 159.1 640.4 158.9 640.5 158.4 640.9 158.4 640.9 157.9 641.3 157.7 641.4 157.4 641.6 156.9 641.8 156.8 641.9 156.4 642.1 155.9 642.3 155.8 642.4 155.4 642.6 154.9 642.8 154.5 642.9 154.4 643.0 153.9 643.1 153.4 643.3 153.0 643.4 152.9 643.4 152.4 643.6 151.9 643.7 151.4 643.8 151.0 643.9 150.9 643.9 150.4 644.0 149.9 644.1 149.4 644.2 148.9 644.3 148.4 644.4 148.2 644.4 147.9 644.4 147.4 644.5 146.9 644.6 146.4 644.6 145.9 644.7 145.4 644.7 144.9 644.8 144.4 644.8 143.9 644.8 143.4 644.9 143.0 644.9 142.9 644.9 142.4 644.9 141.9 645.0 141.4 645.0 140.9 645.0 140.4 645.0 139.9 645.1 139.4 645.1 138.9 645.1 138.4 645.1 137.9 645.1 137.4 645.2 136.9 645.2 136.4 645.2 135.9 645.2 135.4 645.2 134.9 645.2 134.4 645.3 133.9 645.3 133.4 645.3 132.9 645.3 132.4 645.3 131.9 645.3 131.4 645.3 130.9 645.3 130.4 645.3 129.9 645.4 129.4 645.4 128.9 645.4 128.4 645.4 128.0 645.4 127.9 645.4 127.4 645.4 126.9 645.4 126.4 645.4 125.9 645.4 125.4 645.5 124.9 645.5 124.4 645.5 123.9 645.5 123.4 645.5 122.9 645.5 122.4 645.5 121.9 645.5 121.4 645.5 120.9 645.6 120.4 645.6 119.9 645.6 119.4 645.6 118.9 645.6 118.4 645.6 117.9 645.6 117.4 645.6 116.9 645.6 116.4 645.6 115.9 645.6 115.4 645.7 114.9 645.7 114.4 645.7 113.9 645.7 113.4 645.7 112.9 645.7 112.4 645.7 111.9 645.7 111.4 645.7 110.9 645.7 110.4 645.7 109.9 645.7 109.4 645.7 108.9 645.8 108.4 645.8 107.9 645.8 107.4 645.8 106.9 645.8 106.4 645.8 105.9 645.8 105.4 645.8 104.9 645.8 104.4 645.8 103.9 645.8 103.4 645.7 102.9 645.7 102.4 645.7 101.9 645.7 101.4 645.7 100.9 645.7 100.4 645.6 99.9 645.6 99.4 645.6 98.9 645.5 98.4 645.5 97.9 645.4 97.7 645.4 97.4 645.4 96.9 645.3 96.4 645.2 95.9 645.2 95.4 645.1 94.9 645.0 94.5 644.9 94.4 644.9 93.9 644.8 93.4 644.7 92.9 644.5 92.5 644.4 92.4 644.4 91.9 644.2 91.4 644.0 91.0 643.9 90.9 643.9 90.4 643.7 89.9 643.4 89.8 643.4 89.4 643.2 88.9 642.9 88.8 642.9 88.4 642.6 88.0 642.4 87.9 642.3 87.4 642.0 87.3 641.9 86.9 641.6 86.7 641.4 86.4 641.1 86.2 640.9 85.9 640.6 85.7 640.4 85.4 640.0 85.3 639.9 85.0 639.4 84.9 639.2 84.7 638.9 84.5 638.4 84.4 637.9 84.4 637.9 84.3 637.4 84.2 636.9 84.2 636.4 84.3 635.9 84.4 635.4 84.4 635.4 84.6 634.9 84.8 634.4 84.9 634.2 85.1 633.9 85.4 633.4 85.4 633.4 85.8 632.9 85.9 632.8 86.3 632.4 86.4 632.3 86.9 631.9 86.9 631.9 87.4 631.5 87.6 631.4 87.9 631.2 88.3 630.9 88.4 630.9 88.9 630.6 89.3 630.4 89.4 630.3 89.9 630.1 90.4 629.9 90.4 629.9 90.9 629.7 91.4 629.5 91.7 629.4 91.9 629.3 92.4 629.2 92.9 629.0 93.4 628.9 93.5 628.9 93.9 628.8 94.4 628.7 94.9 628.6 95.4 628.5 95.9 628.4 95.9 628.4 96.4 628.3 96.9 628.2 97.4 628.2 97.9 628.1 98.4 628.1 98.9 628.0 99.4 628.0 99.9 627.9 100.1 627.9 100.4 627.9 100.9 627.8 101.4 627.8 101.9 627.8 102.4 627.7 102.9 627.7 103.4 627.7 103.9 627.6 104.4 627.6 104.9 627.6 105.4 627.6 105.9 627.6 106.4 627.5 106.9 627.5 107.4 627.5 107.9 627.5 108.4 627.4 108.8 627.4 108.9 627.4 109.4 627.4 109.9 627.3 110.4 627.3 110.9 627.2 111.4 627.2 111.9 627.2 112.4 627.1 112.9 627.1 113.4 627.0 113.9 627.0 114.4 626.9 114.6 626.9 114.9 626.9 115.4 626.8 115.9 626.7 116.4 626.7 116.9 626.6 117.4 626.5 117.9 626.4 118.2 626.4 118.4 626.4 118.9 626.3 119.4 626.2 119.9 626.1 120.4 626.0 120.9 625.9 121.0 625.9 121.4 625.8 121.9 625.7 122.4 625.6 122.9 625.5 123.4 625.4 123.4 625.4 123.9 625.3 124.4 625.1 124.9 625.0 125.4 624.9 125.4 624.9 125.9 624.8 126.4 624.6 126.9 624.5 127.2 624.4 127.4 624.3 127.9 624.2 128.4 624.0 128.8 623.9 128.9 623.9 129.4 623.7 129.9 623.5 130.3 623.4 130.4 623.4 130.9 623.2 131.4 623.0 131.7 622.9 131.9 622.8 132.4 622.7 132.9 622.5 133.1 622.4 133.4 622.3 133.9 622.1 134.4 621.9 134.5 621.9 134.9 621.7 135.4 621.6 135.9 621.4 135.9 621.4 136.4 621.2 136.9 621.1 137.4 620.9 137.4 620.9 137.9 620.7 138.4 620.6 138.9 620.4 138.9 620.4 139.4 620.3 139.9 620.1 140.4 620.0 140.7 619.9 140.9 619.8 141.4 619.7 141.9 619.6 142.4 619.5 142.6 619.4 142.9 619.3 143.4 619.2 143.9 619.1 144.4 619.0 144.6 618.9 144.9 618.8 145.4 618.7 145.9 618.6 146.4 618.4 146.5 618.4 146.9 618.3 147.4 618.1 147.9 617.9 148.0 617.9 148.4 617.8 148.9 617.5 149.2 617.4 149.4 617.3 149.9 617.1 150.3 616.9 150.4 616.8 150.9 616.6 151.2 616.4 151.4 616.3 151.9 616.0 152.0 615.9 152.4 615.7 152.8 615.4 152.9 615.3 153.4 615.0 153.6 614.9 153.9 614.7 154.4 614.5 154.5 614.4Z" fill="#dce9f6" fill-rule="evenodd"/>
<path d="M133.9 627.4 133.9 627.4 134.4 627.4 134.9 627.3 135.4 627.3 135.9 627.3 136.4 627.2 136.9 627.2 137.4 627.2 137.9 627.2 138.4 627.2 138.9 627.2 139.4 627.2 139.9 627.2 140.4 627.2 140.9 627.2 141.4 627.2 141.9 627.2 142.4 627.3 142.9 627.3 143.4 627.4 143.9 627.4 143.9 627.4 144.4 627.5 144.9 627.5 145.4 627.6 145.9 627.6 146.4 627.7 146.9 627.8 147.3 627.9 147.4 627.9 147.9 628.0 148.4 628.1 148.9 628.3 149.4 628.4 149.4 628.4 149.9 628.5 150.4 628.7 150.9 628.8 151.1 628.9 151.4 629.0 151.9 629.2 152.4 629.4 152.4 629.4 152.9 629.6 153.4 629.9 153.4 629.9 153.9 630.1 154.4 630.4 154.4 630.4 154.9 630.7 155.1 630.9 155.4 631.1 155.8 631.4 155.9 631.5 156.4 631.9 156.4 631.9 156.9 632.4 156.9 632.5 157.3 632.9 157.4 633.1 157.6 633.4 157.8 633.9 157.9 634.0 158.0 634.4 158.2 634.9 158.2 635.4 158.2 635.9 158.2 636.4 158.1 636.9 157.9 637.3 157.9 637.4 157.6 637.9 157.4 638.2 157.3 638.4 156.9 638.8 156.9 638.9 156.4 639.3 156.3 639.4 155.9 639.8 155.7 639.9 155.4 640.1 155.0 640.4 154.9 640.4 154.4 640.7 154.0 640.9 153.9 641.0 153.4 641.2 152.9 641.4 152.9 641.4 152.4 641.6 151.9 641.8 151.4 641.9 151.4 641.9 150.9 642.1 150.4 642.2 149.9 642.3 149.5 642.4 149.4 642.4 148.9 642.5 148.4 642.6 147.9 642.7 147.4 642.8 146.9 642.8 146.4 642.9 146.4 642.9 145.9 643.0 145.4 643.0 144.9 643.1 144.4 643.1 143.9 643.1 143.4 643.2 142.9 643.2 142.4 643.2 141.9 643.3 141.4 643.3 140.9 643.3 140.4 643.3 139.9 643.3 139.4 643.4 138.9 643.4 138.4 643.4 137.9 643.4 137.8 643.4 137.4 643.4 136.9 643.4 136.4 643.4 135.9 643.4 135.4 643.5 134.9 643.5 134.4 643.5 133.9 643.5 133.4 643.5 132.9 643.5 132.4 643.5 131.9 643.5 131.4 643.5 130.9 643.5 130.4 643.5 129.9 643.5 129.4 643.5 128.9 643.6 128.4 643.6 127.9 643.6 127.4 643.6 126.9 643.6 126.4 643.6 125.9 643.6 125.4 643.6 124.9 643.6 124.4 643.6 123.9 643.6 123.4 643.6 122.9 643.7 122.4 643.7 121.9 643.7 121.4 643.7 120.9 643.7 120.4 643.7 119.9 643.7 119.4 643.7 118.9 643.7 118.4 643.8 117.9 643.8 117.4 643.8 116.9 643.8 116.4 643.8 115.9 643.8 115.4 643.8 114.9 643.8 114.4 643.9 113.9 643.9 113.4 643.9 113.0 643.9 112.9 643.9 112.4 643.9 111.9 643.9 111.4 644.0 110.9 644.0 110.4 644.0 109.9 644.0 109.4 644.0 108.9 644.0 108.4 644.0 107.9 644.1 107.4 644.1 106.9 644.1 106.4 644.1 105.9 644.1 105.4 644.1 104.9 644.1 104.4 644.1 103.9 644.1 103.4 644.1 102.9 644.1 102.4 644.1 101.9 644.0 101.4 644.0 100.9 644.0 100.4 644.0 99.9 643.9 99.5 643.9 99.4 643.9 98.9 643.9 98.4 643.8 97.9 643.7 97.4 643.7 96.9 643.6 96.4 643.5 95.9 643.4 95.8 643.4 95.4 643.3 94.9 643.2 94.4 643.1 93.9 642.9 93.8 642.9 93.4 642.8 92.9 642.6 92.4 642.4 92.4 642.4 91.9 642.2 91.4 641.9 91.4 641.9 90.9 641.7 90.5 641.4 90.4 641.3 89.9 641.0 89.8 640.9 89.4 640.6 89.2 640.4 88.9 640.1 88.7 639.9 88.4 639.5 88.3 639.4 88.0 638.9 87.9 638.7 87.7 638.4 87.6 637.9 87.5 637.4 87.4 636.9 87.4 636.4 87.5 635.9 87.7 635.4 87.9 634.9 87.9 634.9 88.2 634.4 88.4 634.1 88.6 633.9 88.9 633.6 89.1 633.4 89.4 633.1 89.6 632.9 89.9 632.7 90.3 632.4 90.4 632.3 90.9 632.0 91.2 631.9 91.4 631.8 91.9 631.5 92.2 631.4 92.4 631.3 92.9 631.1 93.4 631.0 93.6 630.9 93.9 630.8 94.4 630.6 94.9 630.5 95.4 630.4 95.4 630.4 95.9 630.3 96.4 630.2 96.9 630.1 97.4 630.0 97.9 630.0 98.4 629.9 98.4 629.9 98.9 629.8 99.4 629.8 99.9 629.7 100.4 629.7 100.9 629.7 101.4 629.6 101.9 629.6 102.4 629.6 102.9 629.6 103.4 629.5 103.9 629.5 104.4 629.5 104.9 629.5 105.4 629.5 105.9 629.5 106.4 629.5 106.9 629.4 107.4 629.4 107.9 629.4 108.4 629.4 108.9 629.4 109.1 629.4 109.4 629.4 109.9 629.4 110.4 629.4 110.9 629.3 111.4 629.3 111.9 629.3 112.4 629.3 112.9 629.3 113.4 629.2 113.9 629.2 114.4 629.2 114.9 629.1 115.4 629.1 115.9 629.1 116.4 629.1 116.9 629.0 117.4 629.0 117.9 628.9 118.4 628.9 118.4 628.9 118.9 628.9 119.4 628.8 119.9 628.8 120.4 628.7 120.9 628.7 121.4 628.6 121.9 628.6 122.4 628.5 122.9 628.5 123.4 628.4 123.7 628.4 123.9 628.4 124.4 628.3 124.9 628.3 125.4 628.2 125.9 628.2 126.4 628.1 126.9 628.1 127.4 628.0 127.9 628.0 128.4 627.9 128.6 627.9 128.9 627.9 129.4 627.8 129.9 627.8 130.4 627.7 130.9 627.7 131.4 627.6 131.9 627.6 132.4 627.5 132.9 627.5 133.4 627.4 133.9 627.4Z" fill="#bcd7eb" fill-rule="evenodd"/>
<path d="M131.4 629.9 131.4 629.9 131.9 629.9 132.4 629.8 132.9 629.8 133.4 629.8 133.9 629.7 134.4 629.7 134.9 629.7 135.4 629.7 135.9 629.6 136.4 629.6 136.9 629.6 137.4 629.6 137.9 629.6 138.4 629.5 138.9 629.5 139.4 629.5 139.9 629.5 140.4 629.5 140.9 629.5 141.4 629.5 141.9 629.5 142.4 629.6 142.9 629.6 143.4 629.6 143.9 629.7 144.4 629.7 144.9 629.7 145.4 629.8 145.9 629.9 146.1 629.9 146.4 629.9 146.9 630.0 147.4 630.1 147.9 630.2 148.4 630.3 148.7 630.4 148.9 630.5 149.4 630.6 149.9 630.7 150.3 630.9 150.4 630.9 150.9 631.1 151.4 631.3 151.6 631.4 151.9 631.6 152.4 631.8 152.5 631.9 152.9 632.1 153.3 632.4 153.4 632.5 153.9 632.9 153.9 632.9 154.4 633.4 154.4 633.4 154.8 633.9 154.9 634.1 155.0 634.4 155.2 634.9 155.3 635.4 155.4 635.9 155.3 636.4 155.2 636.9 154.9 637.4 154.9 637.4 154.6 637.9 154.4 638.1 154.1 638.4 153.9 638.6 153.6 638.9 153.4 639.0 152.9 639.4 152.8 639.4 152.4 639.6 151.9 639.9 151.9 639.9 151.4 640.1 150.9 640.3 150.7 640.4 150.4 640.5 149.9 640.7 149.4 640.8 149.0 640.9 148.9 640.9 148.4 641.1 147.9 641.2 147.4 641.3 146.9 641.3 146.5 641.4 146.4 641.4 145.9 641.5 145.4 641.5 144.9 641.6 144.4 641.6 143.9 641.7 143.4 641.7 142.9 641.8 142.4 641.8 141.9 641.8 141.4 641.8 140.9 641.9 140.4 641.9 139.9 641.9 139.5 641.9 139.4 641.9 138.9 641.9 138.4 641.9 137.9 641.9 137.4 641.9 136.9 641.9 136.4 641.9 135.9 642.0 135.4 642.0 134.9 642.0 134.4 642.0 133.9 642.0 133.4 642.0 132.9 642.0 132.4 642.0 131.9 642.0 131.4 642.0 130.9 642.0 130.4 642.0 129.9 642.0 129.4 642.0 128.9 642.0 128.4 642.0 127.9 642.0 127.4 642.0 126.9 642.0 126.4 642.0 125.9 642.0 125.4 642.0 124.9 642.0 124.4 642.1 123.9 642.1 123.4 642.1 122.9 642.1 122.4 642.1 121.9 642.1 121.4 642.1 120.9 642.1 120.4 642.1 119.9 642.1 119.4 642.2 118.9 642.2 118.4 642.2 117.9 642.2 117.4 642.2 116.9 642.2 116.4 642.3 115.9 642.3 115.4 642.3 114.9 642.3 114.4 642.3 113.9 642.3 113.4 642.4 112.9 642.4 112.7 642.4 112.4 642.4 111.9 642.4 111.4 642.5 110.9 642.5 110.4 642.5 109.9 642.5 109.4 642.5 108.9 642.6 108.4 642.6 107.9 642.6 107.4 642.6 106.9 642.6 106.4 642.6 105.9 642.7 105.4 642.7 104.9 642.7 104.4 642.7 103.9 642.7 103.4 642.7 102.9 642.7 102.4 642.7 101.9 642.6 101.4 642.6 100.9 642.6 100.4 642.6 99.9 642.5 99.4 642.5 98.9 642.4 98.9 642.4 98.4 642.3 97.9 642.3 97.4 642.2 96.9 642.1 96.4 642.0 96.1 641.9 95.9 641.9 95.4 641.7 94.9 641.6 94.5 641.4 94.4 641.4 93.9 641.2 93.4 641.0 93.3 640.9 92.9 640.7 92.4 640.4 92.4 640.4 91.9 640.0 91.7 639.9 91.4 639.6 91.2 639.4 90.9 639.0 90.8 638.9 90.5 638.4 90.4 638.2 90.3 637.9 90.1 637.4 90.1 636.9 90.1 636.4 90.2 635.9 90.4 635.5 90.5 635.4 90.8 634.9 90.9 634.7 91.2 634.4 91.4 634.2 91.7 633.9 91.9 633.8 92.4 633.4 92.4 633.4 92.9 633.1 93.3 632.9 93.4 632.8 93.9 632.6 94.4 632.4 94.4 632.4 94.9 632.2 95.4 632.1 95.9 631.9 96.0 631.9 96.4 631.8 96.9 631.7 97.4 631.6 97.9 631.5 98.4 631.4 98.6 631.4 98.9 631.4 99.4 631.3 99.9 631.2 100.4 631.2 100.9 631.2 101.4 631.1 101.9 631.1 102.4 631.1 102.9 631.1 103.4 631.0 103.9 631.0 104.4 631.0 104.9 631.0 105.4 631.0 105.9 631.0 106.4 631.0 106.9 631.0 107.4 631.0 107.9 631.0 108.4 631.0 108.9 631.0 109.4 631.0 109.9 631.0 110.4 631.0 110.9 631.0 111.4 631.0 111.9 631.0 112.4 631.0 112.9 631.0 113.4 630.9 113.9 630.9 114.4 630.9 114.9 630.9 115.1 630.9 115.4 630.9 115.9 630.9 116.4 630.8 116.9 630.8 117.4 630.8 117.9 630.8 118.4 630.7 118.9 630.7 119.4 630.7 119.9 630.7 120.4 630.6 120.9 630.6 121.4 630.6 121.9 630.5 122.4 630.5 122.9 630.5 123.4 630.4 123.9 630.4 124.0 630.4 124.4 630.4 124.9 630.3 125.4 630.3 125.9 630.3 126.4 630.2 126.9 630.2 127.4 630.2 127.9 630.1 128.4 630.1 128.9 630.1 129.4 630.0 129.9 630.0 130.4 630.0 130.9 629.9 131.4 629.9Z" fill="#85bcdc" fill-rule="evenodd"/>
<path d="M139.7 630.9 139.9 630.9 140.4 630.9 140.9 630.9 141.4 630.9 141.5 630.9 141.9 630.9 142.4 630.9 142.9 630.9 143.4 631.0 143.9 631.0 144.4 631.0 144.9 631.1 145.4 631.2 145.9 631.2 146.4 631.3 146.9 631.4 146.9 631.4 147.4 631.5 147.9 631.6 148.4 631.8 148.8 631.9 148.9 631.9 149.4 632.1 149.9 632.3 150.1 632.4 150.4 632.5 150.9 632.8 151.0 632.9 151.4 633.1 151.8 633.4 151.9 633.5 152.3 633.9 152.4 634.0 152.7 634.4 152.9 634.8 152.9 634.9 153.1 635.4 153.1 635.9 153.1 636.4 152.9 636.8 152.9 636.9 152.6 637.4 152.4 637.6 152.1 637.9 151.9 638.1 151.5 638.4 151.4 638.5 150.9 638.8 150.7 638.9 150.4 639.1 149.9 639.3 149.6 639.4 149.4 639.5 148.9 639.7 148.4 639.8 148.1 639.9 147.9 639.9 147.4 640.1 146.9 640.2 146.4 640.3 145.9 640.3 145.5 640.4 145.4 640.4 144.9 640.5 144.4 640.5 143.9 640.6 143.4 640.6 142.9 640.7 142.4 640.7 141.9 640.7 141.4 640.8 140.9 640.8 140.4 640.8 139.9 640.8 139.4 640.8 138.9 640.8 138.4 640.8 137.9 640.8 137.4 640.8 136.9 640.8 136.4 640.8 135.9 640.8 135.4 640.8 134.9 640.8 134.4 640.8 133.9 640.8 133.4 640.8 132.9 640.8 132.4 640.8 131.9 640.8 131.4 640.8 130.9 640.8 130.4 640.8 129.9 640.8 129.4 640.8 128.9 640.8 128.4 640.8 127.9 640.8 127.4 640.8 126.9 640.8 126.4 640.8 125.9 640.8 125.4 640.8 124.9 640.8 124.4 640.8 123.9 640.9 123.4 640.9 122.9 640.9 122.4 640.9 121.9 640.9 121.6 640.9 121.4 640.9 120.9 640.9 120.4 640.9 119.9 640.9 119.4 641.0 118.9 641.0 118.4 641.0 117.9 641.0 117.4 641.0 116.9 641.0 116.4 641.1 115.9 641.1 115.4 641.1 114.9 641.1 114.4 641.2 113.9 641.2 113.4 641.2 112.9 641.2 112.4 641.3 111.9 641.3 111.4 641.3 110.9 641.4 110.4 641.4 110.1 641.4 109.9 641.4 109.4 641.4 108.9 641.5 108.4 641.5 107.9 641.5 107.4 641.5 106.9 641.6 106.4 641.6 105.9 641.6 105.4 641.6 104.9 641.6 104.4 641.6 103.9 641.6 103.4 641.6 102.9 641.6 102.4 641.6 101.9 641.6 101.4 641.5 100.9 641.5 100.4 641.5 99.9 641.4 99.7 641.4 99.4 641.4 98.9 641.3 98.4 641.2 97.9 641.1 97.4 641.0 96.9 640.9 96.9 640.9 96.4 640.8 95.9 640.6 95.4 640.4 95.4 640.4 94.9 640.2 94.4 639.9 94.4 639.9 93.9 639.6 93.6 639.4 93.4 639.2 93.0 638.9 92.9 638.7 92.6 638.4 92.4 638.0 92.4 637.9 92.2 637.4 92.1 636.9 92.2 636.4 92.4 635.9 92.4 635.8 92.6 635.4 92.9 635.1 93.1 634.9 93.4 634.6 93.6 634.4 93.9 634.2 94.4 633.9 94.4 633.9 94.9 633.6 95.4 633.4 95.5 633.4 95.9 633.2 96.4 633.1 96.9 632.9 97.0 632.9 97.4 632.8 97.9 632.7 98.4 632.6 98.9 632.5 99.4 632.4 99.7 632.4 99.9 632.4 100.4 632.3 100.9 632.3 101.4 632.2 101.9 632.2 102.4 632.2 102.9 632.2 103.4 632.1 103.9 632.1 104.4 632.1 104.9 632.1 105.4 632.1 105.9 632.1 106.4 632.1 106.9 632.1 107.4 632.1 107.9 632.1 108.4 632.2 108.9 632.2 109.4 632.2 109.9 632.2 110.4 632.2 110.9 632.2 111.4 632.2 111.9 632.2 112.4 632.2 112.9 632.2 113.4 632.2 113.9 632.2 114.4 632.2 114.9 632.2 115.4 632.2 115.9 632.1 116.4 632.1 116.9 632.1 117.4 632.1 117.9 632.1 118.4 632.1 118.9 632.0 119.4 632.0 119.9 632.0 120.4 632.0 120.9 632.0 121.4 631.9 121.9 631.9 121.9 631.9 122.4 631.9 122.9 631.8 123.4 631.8 123.9 631.8 124.4 631.8 124.9 631.7 125.4 631.7 125.9 631.7 126.4 631.6 126.9 631.6 127.4 631.6 127.9 631.5 128.4 631.5 128.9 631.5 129.4 631.5 129.9 631.4 130.3 631.4 130.4 631.4 130.9 631.4 131.4 631.3 131.9 631.3 132.4 631.3 132.9 631.2 133.4 631.2 133.9 631.2 134.4 631.1 134.9 631.1 135.4 631.1 135.9 631.0 136.4 631.0 136.9 631.0 137.4 631.0 137.9 630.9 138.4 630.9 138.9 630.9 139.4 630.9 139.7 630.9Z" fill="#529dcc" fill-rule="evenodd"/>
<path d="M132.2 632.4 132.4 632.4 132.9 632.3 133.4 632.3 133.9 632.3 134.4 632.2 134.9 632.2 135.4 632.2 135.9 632.1 136.4 632.1 136.9 632.1 137.4 632.0 137.9 632.0 138.4 632.0 138.9 632.0 139.4 632.0 139.9 631.9 140.4 631.9 140.9 631.9 141.4 631.9 141.9 631.9 142.4 632.0 142.9 632.0 143.4 632.0 143.9 632.1 144.4 632.1 144.9 632.2 145.4 632.2 145.9 632.3 146.3 632.4 146.4 632.4 146.9 632.5 147.4 632.7 147.9 632.8 148.1 632.9 148.4 633.0 148.9 633.2 149.2 633.4 149.4 633.5 149.9 633.8 150.0 633.9 150.4 634.3 150.6 634.4 150.9 634.9 150.9 634.9 151.1 635.4 151.2 635.9 151.1 636.4 150.9 636.8 150.9 636.9 150.5 637.4 150.4 637.5 149.9 637.9 149.9 637.9 149.4 638.2 149.0 638.4 148.9 638.4 148.4 638.7 147.9 638.8 147.7 638.9 147.4 639.0 146.9 639.1 146.4 639.3 145.9 639.4 145.7 639.4 145.4 639.5 144.9 639.5 144.4 639.6 143.9 639.7 143.4 639.7 142.9 639.8 142.4 639.8 141.9 639.8 141.4 639.8 140.9 639.9 140.4 639.9 139.9 639.9 139.5 639.9 139.4 639.9 138.9 639.9 138.4 639.9 137.9 639.9 137.4 639.9 136.9 639.9 136.4 639.9 136.4 639.9 135.9 639.9 135.4 639.9 134.9 639.9 134.4 639.9 133.9 639.9 133.4 639.9 132.9 639.8 132.4 639.8 131.9 639.8 131.4 639.8 130.9 639.8 130.4 639.8 129.9 639.8 129.4 639.8 128.9 639.8 128.4 639.8 127.9 639.8 127.4 639.8 126.9 639.8 126.4 639.8 125.9 639.8 125.4 639.8 124.9 639.8 124.4 639.8 123.9 639.8 123.4 639.8 122.9 639.8 122.4 639.8 121.9 639.8 121.4 639.9 120.9 639.9 120.4 639.9 119.9 639.9 119.8 639.9 119.4 639.9 118.9 639.9 118.4 639.9 117.9 640.0 117.4 640.0 116.9 640.0 116.4 640.0 115.9 640.1 115.4 640.1 114.9 640.1 114.4 640.2 113.9 640.2 113.4 640.2 112.9 640.3 112.4 640.3 111.9 640.3 111.4 640.4 110.9 640.4 110.8 640.4 110.4 640.4 109.9 640.5 109.4 640.5 108.9 640.5 108.4 640.6 107.9 640.6 107.4 640.6 106.9 640.6 106.4 640.7 105.9 640.7 105.4 640.7 104.9 640.7 104.4 640.7 103.9 640.7 103.4 640.7 102.9 640.7 102.4 640.7 101.9 640.7 101.4 640.6 100.9 640.6 100.4 640.6 99.9 640.5 99.4 640.4 99.2 640.4 98.9 640.3 98.4 640.2 97.9 640.1 97.4 640.0 97.2 639.9 96.9 639.8 96.4 639.6 95.9 639.4 95.9 639.4 95.4 639.1 95.1 638.9 94.9 638.7 94.6 638.4 94.4 638.2 94.2 637.9 94.0 637.4 93.9 636.9 94.0 636.4 94.2 635.9 94.4 635.7 94.6 635.4 94.9 635.1 95.2 634.9 95.4 634.8 95.9 634.5 96.0 634.4 96.4 634.2 96.9 634.0 97.3 633.9 97.4 633.9 97.9 633.7 98.4 633.6 98.9 633.5 99.4 633.4 99.4 633.4 99.9 633.3 100.4 633.3 100.9 633.2 101.4 633.2 101.9 633.1 102.4 633.1 102.9 633.1 103.4 633.1 103.9 633.1 104.4 633.1 104.9 633.0 105.4 633.1 105.9 633.1 106.4 633.1 106.9 633.1 107.4 633.1 107.9 633.1 108.4 633.1 108.9 633.1 109.4 633.1 109.9 633.2 110.4 633.2 110.9 633.2 111.4 633.2 111.9 633.2 112.4 633.2 112.9 633.2 113.4 633.2 113.9 633.2 114.4 633.2 114.9 633.2 115.4 633.2 115.9 633.2 116.4 633.2 116.9 633.2 117.4 633.2 117.9 633.2 118.4 633.2 118.9 633.2 119.4 633.1 119.9 633.1 120.4 633.1 120.9 633.1 121.4 633.1 121.9 633.0 122.4 633.0 122.9 633.0 123.4 633.0 123.9 632.9 124.4 632.9 124.5 632.9 124.9 632.9 125.4 632.8 125.9 632.8 126.4 632.8 126.9 632.8 127.4 632.7 127.9 632.7 128.4 632.7 128.9 632.6 129.4 632.6 129.9 632.6 130.4 632.5 130.9 632.5 131.4 632.5 131.9 632.4 132.2 632.4Z" fill="#2e7ebc" fill-rule="evenodd"/>
<path d="M138.7 632.9 138.9 632.9 139.4 632.9 139.9 632.9 140.4 632.8 140.9 632.8 141.4 632.8 141.9 632.9 142.4 632.9 142.9 632.9 142.9 632.9 143.4 632.9 143.9 633.0 144.4 633.1 144.9 633.1 145.4 633.2 145.9 633.3 146.1 633.4 146.4 633.5 146.9 633.6 147.4 633.8 147.5 633.9 147.9 634.1 148.4 634.4 148.4 634.4 148.9 634.9 148.9 634.9 149.2 635.4 149.3 635.9 149.2 636.4 148.9 636.8 148.9 636.9 148.4 637.3 148.3 637.4 147.9 637.6 147.4 637.9 147.4 637.9 146.9 638.1 146.4 638.3 146.0 638.4 145.9 638.4 145.4 638.5 144.9 638.6 144.4 638.7 143.9 638.8 143.4 638.9 143.0 638.9 142.9 638.9 142.4 639.0 141.9 639.0 141.4 639.0 140.9 639.0 140.4 639.0 139.9 639.1 139.4 639.1 138.9 639.1 138.4 639.1 137.9 639.1 137.4 639.1 136.9 639.0 136.4 639.0 135.9 639.0 135.4 639.0 134.9 639.0 134.4 639.0 133.9 639.0 133.4 638.9 132.9 638.9 132.4 638.9 132.4 638.9 131.9 638.9 131.4 638.9 130.9 638.8 130.4 638.8 129.9 638.8 129.4 638.8 128.9 638.8 128.4 638.8 127.9 638.8 127.4 638.8 126.9 638.8 126.4 638.8 125.9 638.8 125.4 638.8 124.9 638.8 124.4 638.8 123.9 638.8 123.4 638.8 122.9 638.8 122.4 638.8 121.9 638.8 121.4 638.8 120.9 638.8 120.4 638.8 119.9 638.8 119.4 638.9 118.9 638.9 118.6 638.9 118.4 638.9 117.9 638.9 117.4 639.0 116.9 639.0 116.4 639.0 115.9 639.1 115.4 639.1 114.9 639.1 114.4 639.2 113.9 639.2 113.4 639.3 112.9 639.3 112.4 639.3 111.9 639.4 111.8 639.4 111.4 639.4 110.9 639.5 110.4 639.5 109.9 639.6 109.4 639.6 108.9 639.7 108.4 639.7 107.9 639.7 107.4 639.8 106.9 639.8 106.4 639.8 105.9 639.9 105.4 639.9 105.1 639.9 104.9 639.9 104.4 639.9 103.9 639.9 103.4 639.9 102.9 639.9 102.6 639.9 102.4 639.9 101.9 639.9 101.4 639.8 100.9 639.8 100.4 639.7 99.9 639.6 99.4 639.5 98.9 639.4 98.8 639.4 98.4 639.3 97.9 639.1 97.4 638.9 97.4 638.9 96.9 638.6 96.6 638.4 96.4 638.2 96.1 637.9 95.9 637.6 95.8 637.4 95.7 636.9 95.8 636.4 95.9 636.2 96.1 635.9 96.4 635.6 96.6 635.4 96.9 635.2 97.4 635.0 97.5 634.9 97.9 634.7 98.4 634.6 98.9 634.4 99.0 634.4 99.4 634.3 99.9 634.2 100.4 634.1 100.9 634.1 101.4 634.0 101.9 634.0 102.4 633.9 102.9 633.9 103.0 633.9 103.4 633.9 103.9 633.9 104.4 633.9 104.9 633.9 105.4 633.9 105.9 633.9 106.0 633.9 106.4 633.9 106.9 633.9 107.4 634.0 107.9 634.0 108.4 634.0 108.9 634.0 109.4 634.1 109.9 634.1 110.4 634.1 110.9 634.1 111.4 634.2 111.9 634.2 112.4 634.2 112.9 634.2 113.4 634.2 113.9 634.3 114.4 634.3 114.9 634.3 115.4 634.3 115.9 634.3 116.4 634.3 116.9 634.3 117.4 634.3 117.9 634.3 118.4 634.3 118.9 634.3 119.4 634.2 119.9 634.2 120.4 634.2 120.9 634.2 121.4 634.2 121.9 634.1 122.4 634.1 122.9 634.1 123.4 634.1 123.9 634.0 124.4 634.0 124.9 634.0 125.4 633.9 125.9 633.9 126.1 633.9 126.4 633.9 126.9 633.8 127.4 633.8 127.9 633.8 128.4 633.7 128.9 633.7 129.4 633.7 129.9 633.6 130.4 633.6 130.9 633.5 131.4 633.5 131.9 633.4 132.4 633.4 132.4 633.4 132.9 633.4 133.4 633.3 133.9 633.3 134.4 633.2 134.9 633.2 135.4 633.1 135.9 633.1 136.4 633.1 136.9 633.0 137.4 633.0 137.9 632.9 138.4 632.9 138.7 632.9Z" fill="#1663aa" fill-rule="evenodd"/>
<path d="M136.0 633.9 136.4 633.9 136.9 633.8 137.4 633.8 137.9 633.7 138.4 633.7 138.9 633.7 139.4 633.6 139.9 633.6 140.4 633.6 140.9 633.6 141.4 633.6 141.9 633.6 142.4 633.6 142.9 633.7 143.4 633.7 143.9 633.8 144.4 633.9 144.5 633.9 144.9 634.0 145.4 634.1 145.9 634.3 146.2 634.4 146.4 634.5 146.9 634.8 147.0 634.9 147.4 635.4 147.4 635.4 147.6 635.9 147.4 636.4 147.4 636.4 147.0 636.9 146.9 637.0 146.4 637.3 146.1 637.4 145.9 637.5 145.4 637.7 144.9 637.8 144.6 637.9 144.4 637.9 143.9 638.0 143.4 638.1 142.9 638.2 142.4 638.2 141.9 638.3 141.4 638.3 140.9 638.3 140.4 638.3 139.9 638.3 139.4 638.3 138.9 638.3 138.4 638.3 137.9 638.3 137.4 638.3 136.9 638.3 136.4 638.3 135.9 638.2 135.4 638.2 134.9 638.2 134.4 638.1 133.9 638.1 133.4 638.1 132.9 638.1 132.4 638.0 131.9 638.0 131.4 638.0 130.9 637.9 130.4 637.9 130.4 637.9 129.9 637.9 129.4 637.8 128.9 637.8 128.4 637.8 127.9 637.7 127.4 637.7 126.9 637.7 126.4 637.7 125.9 637.7 125.4 637.7 124.9 637.6 124.4 637.6 123.9 637.6 123.4 637.6 122.9 637.6 122.4 637.6 121.9 637.6 121.4 637.6 120.9 637.7 120.4 637.7 119.9 637.7 119.4 637.7 118.9 637.7 118.4 637.8 117.9 637.8 117.4 637.9 117.1 637.9 116.9 637.9 116.4 638.0 115.9 638.0 115.4 638.1 114.9 638.1 114.4 638.2 113.9 638.2 113.4 638.3 112.9 638.4 112.8 638.4 112.4 638.4 111.9 638.5 111.4 638.6 110.9 638.6 110.4 638.7 109.9 638.8 109.4 638.8 108.9 638.9 108.8 638.9 108.4 638.9 107.9 639.0 107.4 639.0 106.9 639.1 106.4 639.1 105.9 639.2 105.4 639.2 104.9 639.2 104.4 639.2 103.9 639.2 103.4 639.2 102.9 639.2 102.4 639.2 101.9 639.2 101.4 639.1 100.9 639.0 100.4 639.0 100.1 638.9 99.9 638.9 99.4 638.7 98.9 638.5 98.6 638.4 98.4 638.3 97.9 638.0 97.8 637.9 97.4 637.4 97.4 637.4 97.3 636.9 97.4 636.4 97.4 636.4 97.8 635.9 97.9 635.9 98.4 635.6 98.7 635.4 98.9 635.3 99.4 635.1 99.9 635.0 100.3 634.9 100.4 634.9 100.9 634.8 101.4 634.7 101.9 634.7 102.4 634.6 102.9 634.6 103.4 634.6 103.9 634.6 104.4 634.6 104.9 634.6 105.4 634.6 105.9 634.6 106.4 634.6 106.9 634.7 107.4 634.7 107.9 634.7 108.4 634.8 108.9 634.8 109.4 634.9 109.9 634.9 110.0 634.9 110.4 634.9 110.9 635.0 111.4 635.0 111.9 635.1 112.4 635.1 112.9 635.2 113.4 635.2 113.9 635.2 114.4 635.3 114.9 635.3 115.4 635.3 115.9 635.4 116.4 635.4 116.9 635.4 117.4 635.4 117.8 635.4 117.9 635.4 118.4 635.4 118.9 635.4 119.1 635.4 119.4 635.4 119.9 635.4 120.4 635.4 120.9 635.4 121.4 635.3 121.9 635.3 122.4 635.3 122.9 635.3 123.4 635.2 123.9 635.2 124.4 635.2 124.9 635.1 125.4 635.1 125.9 635.0 126.4 635.0 126.9 634.9 127.2 634.9 127.4 634.9 127.9 634.8 128.4 634.8 128.9 634.7 129.4 634.7 129.9 634.6 130.4 634.6 130.9 634.5 131.4 634.4 131.7 634.4 131.9 634.4 132.4 634.3 132.9 634.3 133.4 634.2 133.9 634.1 134.4 634.1 134.9 634.0 135.4 634.0 135.9 633.9 136.0 633.9Z" fill="#08509b" fill-rule="evenodd"/>
<path d="M137.4 634.4 137.4 634.4 137.9 634.4 138.4 634.3 138.9 634.3 139.4 634.2 139.9 634.2 140.4 634.2 140.9 634.2 141.4 634.2 141.9 634.2 142.4 634.3 142.9 634.3 143.4 634.4 143.6 634.4 143.9 634.5 144.4 634.6 144.9 634.8 145.2 634.9 145.4 635.0 145.9 635.4 145.9 635.4 146.1 635.9 145.9 636.4 145.9 636.4 145.4 636.8 145.3 636.9 144.9 637.1 144.4 637.2 143.9 637.4 143.9 637.4 143.4 637.5 142.9 637.6 142.4 637.6 141.9 637.7 141.4 637.7 140.9 637.8 140.4 637.8 139.9 637.8 139.4 637.8 138.9 637.8 138.4 637.7 137.9 637.7 137.4 637.7 136.9 637.7 136.4 637.6 135.9 637.6 135.4 637.5 134.9 637.5 134.4 637.4 134.0 637.4 133.9 637.4 133.4 637.3 132.9 637.2 132.4 637.2 131.9 637.1 131.4 637.0 130.9 636.9 130.8 636.9 130.4 636.8 129.9 636.6 129.4 636.4 129.3 636.4 129.4 636.2 129.7 635.9 129.9 635.8 130.4 635.7 130.9 635.6 131.4 635.4 131.4 635.4 131.9 635.3 132.4 635.2 132.9 635.1 133.4 635.0 133.9 634.9 133.9 634.9 134.4 634.8 134.9 634.8 135.4 634.7 135.9 634.6 136.4 634.5 136.9 634.5 137.4 634.4ZM100.9 635.4 100.9 635.4 101.4 635.3 101.9 635.2 102.4 635.2 102.9 635.2 103.4 635.1 103.9 635.1 104.4 635.1 104.9 635.1 105.4 635.2 105.9 635.2 106.4 635.2 106.9 635.3 107.4 635.3 107.9 635.4 108.3 635.4 108.4 635.4 108.9 635.5 109.4 635.6 109.9 635.6 110.4 635.7 110.9 635.8 111.4 635.9 111.5 635.9 111.9 636.0 112.4 636.1 112.9 636.3 113.4 636.4 113.4 636.4 113.7 636.9 113.4 637.0 112.9 637.3 112.6 637.4 112.4 637.5 111.9 637.6 111.4 637.7 110.9 637.8 110.7 637.9 110.4 637.9 109.9 638.0 109.4 638.1 108.9 638.2 108.4 638.3 107.9 638.4 107.8 638.4 107.4 638.4 106.9 638.5 106.4 638.6 105.9 638.6 105.4 638.6 104.9 638.7 104.4 638.7 103.9 638.7 103.4 638.7 102.9 638.7 102.4 638.6 101.9 638.6 101.4 638.5 100.9 638.4 100.7 638.4 100.4 638.3 99.9 638.1 99.4 637.9 99.3 637.9 98.9 637.5 98.7 637.4 98.6 636.9 98.8 636.4 98.9 636.3 99.4 635.9 99.4 635.9 99.9 635.7 100.4 635.5 100.9 635.4Z" fill="#083b7c" fill-rule="evenodd"/>
</g>
<g clip-path="url(#clip21)">
<path d="M243.8 383.9 243.8 383.9 244.3 383.8 244.8 383.7 245.3 383.7 245.8 383.6 246.3 383.6 246.8 383.6 247.3 383.7 247.8 383.7 248.3 383.8 248.7 383.9 248.8 383.9 249.3 384.0 249.8 384.2 250.3 384.4 250.4 384.4 250.8 384.5 251.3 384.8 251.6 384.9 251.8 385.0 252.3 385.3 252.5 385.4 252.8 385.6 253.3 385.9 253.3 385.9 253.8 386.3 254.0 386.4 254.3 386.7 254.6 386.9 254.8 387.1 255.1 387.4 255.3 387.6 255.6 387.9 255.8 388.1 256.1 388.4 256.3 388.6 256.6 388.9 256.8 389.2 257.0 389.4 257.3 389.8 257.4 389.9 257.7 390.4 257.8 390.5 258.1 390.9 258.3 391.2 258.4 391.4 258.8 391.9 258.8 392.0 259.1 392.4 259.3 392.8 259.4 392.9 259.7 393.4 259.8 393.7 259.9 393.9 260.2 394.4 260.3 394.6 260.5 394.9 260.7 395.4 260.8 395.5 261.0 395.9 261.3 396.4 261.3 396.5 261.5 396.9 261.8 397.4 261.8 397.5 262.0 397.9 262.3 398.4 262.3 398.5 262.5 398.9 262.8 399.4 262.8 399.5 263.0 399.9 263.3 400.4 263.3 400.5 263.5 400.9 263.8 401.4 263.8 401.4 264.0 401.9 264.3 402.4 264.3 402.4 264.6 402.9 264.8 403.4 264.8 403.4 265.1 403.9 265.3 404.3 265.4 404.4 265.6 404.9 265.8 405.2 265.9 405.4 266.2 405.9 266.3 406.1 266.5 406.4 266.8 406.9 266.8 407.0 267.0 407.4 267.3 407.8 267.3 407.9 267.6 408.4 267.8 408.7 267.9 408.9 268.2 409.4 268.3 409.5 268.5 409.9 268.8 410.4 268.8 410.4 269.1 410.9 269.3 411.2 269.4 411.4 269.7 411.9 269.8 412.0 270.0 412.4 270.3 412.9 270.3 412.9 270.6 413.4 270.8 413.7 270.9 413.9 271.2 414.4 271.3 414.6 271.5 414.9 271.8 415.4 271.8 415.4 272.1 415.9 272.3 416.2 272.4 416.4 272.7 416.9 272.8 417.1 273.0 417.4 273.3 417.9 273.3 418.0 273.6 418.4 273.8 418.8 273.8 418.9 274.1 419.4 274.3 419.7 274.4 419.9 274.7 420.4 274.8 420.6 275.0 420.9 275.3 421.4 275.3 421.5 275.5 421.9 275.8 422.4 275.8 422.4 276.1 422.9 276.3 423.2 276.4 423.4 276.7 423.9 276.8 424.1 277.0 424.4 277.3 424.9 277.3 424.9 277.6 425.4 277.8 425.7 278.0 425.9 278.3 426.4 278.3 426.4 278.7 426.9 278.8 427.1 279.1 427.4 279.3 427.7 279.5 427.9 279.8 428.3 279.9 428.4 280.3 428.9 280.3 428.9 280.8 429.4 280.8 429.4 281.3 429.9 281.3 429.9 281.8 430.4 281.8 430.4 282.3 430.9 282.3 430.9 282.8 431.4 282.8 431.4 283.3 431.9 283.3 431.9 283.8 432.4 283.8 432.4 284.3 432.9 284.3 432.9 284.8 433.4 284.8 433.4 285.3 433.9 285.3 433.9 285.7 434.4 285.8 434.5 286.2 434.9 286.3 435.1 286.6 435.4 286.8 435.7 286.9 435.9 287.3 436.4 287.3 436.4 287.6 436.9 287.8 437.2 287.9 437.4 288.2 437.9 288.3 438.1 288.4 438.4 288.6 438.9 288.8 439.4 288.8 439.4 289.0 439.9 289.1 440.4 289.2 440.9 289.3 441.4 289.3 441.5 289.3 441.9 289.4 442.4 289.4 442.9 289.3 443.4 289.3 443.8 289.3 443.9 289.2 444.4 289.1 444.9 289.0 445.4 288.9 445.9 288.8 446.1 288.7 446.4 288.5 446.9 288.3 447.4 288.3 447.4 288.0 447.9 287.8 448.4 287.8 448.4 287.5 448.9 287.3 449.3 287.2 449.4 286.9 449.9 286.8 450.1 286.6 450.4 286.3 450.8 286.2 450.9 285.8 451.4 285.8 451.5 285.5 451.9 285.3 452.1 285.1 452.4 284.8 452.7 284.6 452.9 284.3 453.3 284.2 453.4 283.8 453.9 283.8 453.9 283.3 454.4 283.3 454.4 282.8 454.9 282.8 454.9 282.3 455.4 282.3 455.4 281.8 455.9 281.8 455.9 281.3 456.3 281.2 456.4 280.8 456.7 280.6 456.9 280.3 457.1 279.9 457.4 279.8 457.5 279.3 457.8 279.1 457.9 278.8 458.1 278.3 458.4 278.3 458.4 277.8 458.6 277.3 458.9 277.2 458.9 276.8 459.1 276.3 459.2 275.8 459.4 275.8 459.4 275.3 459.5 274.8 459.6 274.3 459.7 273.8 459.8 273.3 459.9 273.2 459.9 272.8 459.9 272.3 460.0 271.8 460.0 271.3 460.0 270.8 460.1 270.3 460.1 269.8 460.1 269.3 460.1 268.8 460.1 268.3 460.1 267.8 460.1 267.3 460.1 266.8 460.2 266.3 460.2 265.8 460.3 265.3 460.3 264.8 460.4 264.8 460.4 264.3 460.5 263.8 460.6 263.3 460.8 263.0 460.9 262.8 461.0 262.3 461.2 261.9 461.4 261.8 461.4 261.3 461.7 260.9 461.9 260.8 462.0 260.3 462.3 260.1 462.4 259.8 462.6 259.4 462.9 259.3 463.0 258.8 463.3 258.7 463.4 258.3 463.7 258.1 463.9 257.8 464.1 257.5 464.4 257.3 464.5 256.8 464.9 256.8 464.9 256.3 465.3 256.2 465.4 255.8 465.7 255.6 465.9 255.3 466.1 255.0 466.4 254.8 466.5 254.3 466.9 254.3 466.9 253.8 467.3 253.6 467.4 253.3 467.6 252.9 467.9 252.8 468.0 252.3 468.3 252.1 468.4 251.8 468.6 251.3 468.9 251.3 468.9 250.8 469.2 250.3 469.4 250.3 469.4 249.8 469.6 249.3 469.9 249.2 469.9 248.8 470.0 248.3 470.2 247.8 470.4 247.7 470.4 247.3 470.5 246.8 470.6 246.3 470.7 245.8 470.8 245.3 470.9 244.8 470.9 244.8 470.9 244.3 470.9 243.8 470.9 243.5 470.9 243.3 470.9 242.8 470.8 242.3 470.8 241.8 470.7 241.3 470.6 240.8 470.5 240.6 470.4 240.3 470.3 239.8 470.1 239.3 469.9 239.2 469.9 238.8 469.7 238.3 469.5 238.1 469.4 237.8 469.2 237.3 468.9 237.2 468.9 236.8 468.6 236.5 468.4 236.3 468.3 235.8 467.9 235.8 467.9 235.3 467.5 235.1 467.4 234.8 467.1 234.5 466.9 234.3 466.7 234.0 466.4 233.8 466.2 233.5 465.9 233.3 465.7 233.0 465.4 232.8 465.2 232.6 464.9 232.3 464.6 232.1 464.4 231.8 464.0 231.7 463.9 231.3 463.4 231.3 463.3 231.0 462.9 230.8 462.7 230.6 462.4 230.3 461.9 230.3 461.9 230.0 461.4 229.8 461.2 229.6 460.9 229.3 460.4 229.3 460.3 229.0 459.9 228.8 459.4 228.8 459.4 228.5 458.9 228.3 458.5 228.2 458.4 228.0 457.9 227.8 457.5 227.7 457.4 227.5 456.9 227.3 456.4 227.3 456.4 227.1 455.9 226.8 455.4 226.8 455.3 226.6 454.9 226.4 454.4 226.3 454.0 226.2 453.9 226.1 453.4 225.9 452.9 225.8 452.7 225.7 452.4 225.5 451.9 225.4 451.4 225.3 451.2 225.2 450.9 225.1 450.4 224.9 449.9 224.8 449.5 224.8 449.4 224.6 448.9 224.5 448.4 224.4 447.9 224.3 447.7 224.2 447.4 224.1 446.9 224.0 446.4 223.9 445.9 223.8 445.5 223.8 445.4 223.7 444.9 223.6 444.4 223.5 443.9 223.4 443.4 223.3 442.9 223.3 442.9 223.2 442.4 223.1 441.9 223.1 441.4 223.0 440.9 222.9 440.4 222.9 439.9 222.8 439.4 222.8 439.4 222.7 438.9 222.7 438.4 222.6 437.9 222.6 437.4 222.5 436.9 222.5 436.4 222.5 435.9 222.4 435.4 222.4 434.9 222.4 434.4 222.4 433.9 222.3 433.4 222.3 432.9 222.3 432.4 222.3 431.9 222.3 431.9 222.3 431.4 222.3 430.9 222.3 430.4 222.3 429.9 222.3 429.6 222.3 429.4 222.3 428.9 222.3 428.4 222.3 427.9 222.4 427.4 222.4 426.9 222.4 426.4 222.4 425.9 222.5 425.4 222.5 424.9 222.5 424.4 222.6 423.9 222.6 423.4 222.7 422.9 222.7 422.4 222.8 422.0 222.8 421.9 222.9 421.4 222.9 420.9 223.0 420.4 223.1 419.9 223.1 419.4 223.2 418.9 223.3 418.5 223.3 418.4 223.4 417.9 223.5 417.4 223.6 416.9 223.7 416.4 223.8 415.9 223.8 415.8 223.9 415.4 224.0 414.9 224.1 414.4 224.2 413.9 224.3 413.5 224.3 413.4 224.4 412.9 224.6 412.4 224.7 411.9 224.8 411.5 224.8 411.4 225.0 410.9 225.1 410.4 225.3 409.9 225.3 409.8 225.4 409.4 225.6 408.9 225.7 408.4 225.8 408.2 225.9 407.9 226.0 407.4 226.2 406.9 226.3 406.7 226.4 406.4 226.6 405.9 226.7 405.4 226.8 405.3 226.9 404.9 227.1 404.4 227.3 403.9 227.3 403.9 227.5 403.4 227.7 402.9 227.8 402.7 227.9 402.4 228.1 401.9 228.3 401.5 228.3 401.4 228.5 400.9 228.8 400.4 228.8 400.3 229.0 399.9 229.2 399.4 229.3 399.2 229.4 398.9 229.7 398.4 229.8 398.2 229.9 397.9 230.2 397.4 230.3 397.2 230.4 396.9 230.7 396.4 230.8 396.2 230.9 395.9 231.2 395.4 231.3 395.3 231.5 394.9 231.8 394.4 231.8 394.4 232.1 393.9 232.3 393.5 232.4 393.4 232.7 392.9 232.8 392.7 233.0 392.4 233.3 392.0 233.4 391.9 233.7 391.4 233.8 391.3 234.1 390.9 234.3 390.6 234.5 390.4 234.8 390.0 234.8 389.9 235.3 389.4 235.3 389.4 235.7 388.9 235.8 388.8 236.2 388.4 236.3 388.3 236.7 387.9 236.8 387.8 237.2 387.4 237.3 387.3 237.8 386.9 237.8 386.9 238.3 386.5 238.4 386.4 238.8 386.1 239.2 385.9 239.3 385.8 239.8 385.5 240.0 385.4 240.3 385.2 240.8 384.9 240.9 384.9 241.3 384.7 241.8 384.5 242.1 384.4 242.3 384.3 242.8 384.2 243.3 384.0 243.8 383.9ZM312.8 441.9 313.3 441.7 313.8 441.6 314.3 441.6 314.8 441.7 315.2 441.9 315.3 442.0 315.8 442.4 315.8 442.4 316.1 442.9 316.3 443.3 316.3 443.4 316.4 443.9 316.4 444.4 316.3 444.7 316.2 444.9 316.0 445.4 315.8 445.6 315.5 445.9 315.3 446.0 314.8 446.3 314.3 446.4 313.8 446.4 313.3 446.3 312.8 446.1 312.5 445.9 312.3 445.7 312.0 445.4 311.8 445.0 311.8 444.9 311.6 444.4 311.6 443.9 311.7 443.4 311.8 443.0 311.9 442.9 312.2 442.4 312.3 442.3 312.8 441.9 312.8 441.9Z" fill="#f2f7fd" fill-rule="evenodd"/>
<path d="M244.8 394.9 244.8 394.9 245.3 394.9 245.8 394.9 245.8 394.9 246.3 394.9 246.8 395.0 247.3 395.1 247.8 395.3 248.1 395.4 248.3 395.5 248.8 395.7 249.2 395.9 249.3 396.0 249.8 396.3 250.0 396.4 250.3 396.6 250.7 396.9 250.8 397.0 251.3 397.4 251.3 397.4 251.8 397.9 251.8 397.9 252.3 398.4 252.3 398.4 252.8 398.9 252.8 399.0 253.2 399.4 253.3 399.5 253.6 399.9 253.8 400.2 254.0 400.4 254.3 400.8 254.3 400.9 254.7 401.4 254.8 401.5 255.1 401.9 255.3 402.3 255.4 402.4 255.7 402.9 255.8 403.0 256.0 403.4 256.3 403.8 256.3 403.9 256.7 404.4 256.8 404.6 257.0 404.9 257.3 405.4 257.3 405.5 257.5 405.9 257.8 406.3 257.8 406.4 258.1 406.9 258.3 407.2 258.4 407.4 258.7 407.9 258.8 408.1 258.9 408.4 259.2 408.9 259.3 409.1 259.5 409.4 259.8 409.9 259.8 410.0 260.0 410.4 260.3 410.9 260.3 411.0 260.5 411.4 260.8 411.9 260.8 411.9 261.0 412.4 261.3 412.9 261.3 412.9 261.5 413.4 261.8 413.9 261.8 413.9 262.0 414.4 262.3 414.9 262.3 415.0 262.5 415.4 262.7 415.9 262.8 416.1 263.0 416.4 263.2 416.9 263.3 417.1 263.4 417.4 263.6 417.9 263.8 418.3 263.9 418.4 264.1 418.9 264.3 419.4 264.3 419.4 264.5 419.9 264.7 420.4 264.8 420.6 264.9 420.9 265.1 421.4 265.3 421.8 265.3 421.9 265.6 422.4 265.8 422.9 265.8 423.0 266.0 423.4 266.2 423.9 266.3 424.3 266.4 424.4 266.6 424.9 266.8 425.4 266.8 425.5 267.0 425.9 267.2 426.4 267.3 426.6 267.4 426.9 267.7 427.4 267.8 427.6 267.9 427.9 268.2 428.4 268.3 428.6 268.5 428.9 268.8 429.3 268.8 429.4 269.2 429.9 269.3 430.0 269.6 430.4 269.8 430.6 270.1 430.9 270.3 431.1 270.6 431.4 270.8 431.6 271.2 431.9 271.3 432.0 271.8 432.4 271.9 432.4 272.3 432.7 272.6 432.9 272.8 433.1 273.3 433.4 273.3 433.4 273.8 433.7 274.1 433.9 274.3 434.0 274.8 434.4 274.9 434.4 275.3 434.7 275.6 434.9 275.8 435.0 276.3 435.3 276.4 435.4 276.8 435.7 277.1 435.9 277.3 436.1 277.7 436.4 277.8 436.5 278.3 436.9 278.3 436.9 278.8 437.4 278.8 437.4 279.3 437.9 279.3 437.9 279.7 438.4 279.8 438.5 280.1 438.9 280.3 439.3 280.4 439.4 280.6 439.9 280.8 440.3 280.8 440.4 281.0 440.9 281.1 441.4 281.1 441.9 281.2 442.4 281.1 442.9 281.0 443.4 280.9 443.9 280.8 444.1 280.7 444.4 280.4 444.9 280.3 445.1 280.1 445.4 279.8 445.8 279.7 445.9 279.3 446.4 279.3 446.4 278.8 446.8 278.7 446.9 278.3 447.2 278.1 447.4 277.8 447.6 277.3 447.9 277.3 447.9 276.8 448.2 276.3 448.4 276.3 448.4 275.8 448.6 275.3 448.8 275.1 448.9 274.8 449.0 274.3 449.1 273.8 449.3 273.3 449.4 273.1 449.4 272.8 449.4 272.3 449.5 271.8 449.6 271.3 449.6 270.8 449.6 270.3 449.7 269.8 449.7 269.3 449.7 268.8 449.6 268.3 449.6 267.8 449.6 267.3 449.6 266.8 449.6 266.3 449.5 265.8 449.5 265.3 449.5 264.8 449.5 264.3 449.6 263.8 449.6 263.3 449.7 262.8 449.8 262.5 449.9 262.3 450.0 261.8 450.1 261.3 450.4 261.2 450.4 260.8 450.6 260.4 450.9 260.3 450.9 259.8 451.3 259.7 451.4 259.3 451.7 259.0 451.9 258.8 452.1 258.5 452.4 258.3 452.6 258.0 452.9 257.8 453.1 257.5 453.4 257.3 453.6 257.0 453.9 256.8 454.1 256.5 454.4 256.3 454.6 256.1 454.9 255.8 455.2 255.6 455.4 255.3 455.7 255.1 455.9 254.8 456.3 254.7 456.4 254.3 456.8 254.2 456.9 253.8 457.3 253.7 457.4 253.3 457.8 253.2 457.9 252.8 458.3 252.6 458.4 252.3 458.7 252.1 458.9 251.8 459.1 251.5 459.4 251.3 459.5 250.8 459.9 250.8 459.9 250.3 460.3 250.1 460.4 249.8 460.6 249.3 460.9 249.3 460.9 248.8 461.2 248.3 461.4 248.3 461.4 247.8 461.6 247.3 461.8 247.1 461.9 246.8 462.0 246.3 462.1 245.8 462.3 245.3 462.4 244.9 462.4 244.8 462.4 244.3 462.5 243.8 462.5 243.3 462.5 242.8 462.4 242.5 462.4 242.3 462.4 241.8 462.3 241.3 462.2 240.8 462.0 240.4 461.9 240.3 461.9 239.8 461.7 239.3 461.4 239.3 461.4 238.8 461.2 238.3 460.9 238.3 460.9 237.8 460.6 237.6 460.4 237.3 460.2 236.9 459.9 236.8 459.8 236.3 459.4 236.3 459.4 235.8 458.9 235.8 458.9 235.3 458.4 235.3 458.4 234.8 457.9 234.8 457.9 234.4 457.4 234.3 457.3 234.0 456.9 233.8 456.7 233.6 456.4 233.3 456.0 233.2 455.9 232.9 455.4 232.8 455.2 232.6 454.9 232.3 454.4 232.3 454.4 232.0 453.9 231.8 453.6 231.7 453.4 231.4 452.9 231.3 452.6 231.2 452.4 230.9 451.9 230.8 451.6 230.7 451.4 230.5 450.9 230.3 450.5 230.3 450.4 230.0 449.9 229.8 449.4 229.8 449.3 229.7 448.9 229.5 448.4 229.3 447.9 229.3 447.9 229.1 447.4 229.0 446.9 228.8 446.4 228.8 446.3 228.7 445.9 228.5 445.4 228.4 444.9 228.3 444.6 228.3 444.4 228.1 443.9 228.0 443.4 227.9 442.9 227.8 442.4 227.8 442.4 227.7 441.9 227.6 441.4 227.5 440.9 227.4 440.4 227.3 439.9 227.3 439.7 227.2 439.4 227.2 438.9 227.1 438.4 227.0 437.9 227.0 437.4 226.9 436.9 226.9 436.4 226.8 435.9 226.8 435.5 226.8 435.4 226.8 434.9 226.7 434.4 226.7 433.9 226.7 433.4 226.6 432.9 226.6 432.4 226.6 431.9 226.6 431.4 226.6 430.9 226.6 430.4 226.6 429.9 226.6 429.4 226.6 428.9 226.6 428.4 226.7 427.9 226.7 427.4 226.7 426.9 226.8 426.4 226.8 426.0 226.8 425.9 226.8 425.4 226.9 424.9 226.9 424.4 227.0 423.9 227.1 423.4 227.1 422.9 227.2 422.4 227.3 421.9 227.3 421.7 227.3 421.4 227.4 420.9 227.5 420.4 227.6 419.9 227.7 419.4 227.8 418.9 227.8 418.9 227.9 418.4 228.0 417.9 228.1 417.4 228.3 416.9 228.3 416.7 228.4 416.4 228.5 415.9 228.6 415.4 228.8 414.9 228.8 414.9 228.9 414.4 229.1 413.9 229.3 413.4 229.3 413.3 229.4 412.9 229.6 412.4 229.8 411.9 229.8 411.8 229.9 411.4 230.1 410.9 230.3 410.5 230.3 410.4 230.5 409.9 230.7 409.4 230.8 409.3 231.0 408.9 231.2 408.4 231.3 408.1 231.4 407.9 231.6 407.4 231.8 407.1 231.9 406.9 232.2 406.4 232.3 406.1 232.4 405.9 232.7 405.4 232.8 405.2 233.0 404.9 233.3 404.4 233.3 404.3 233.6 403.9 233.8 403.5 233.9 403.4 234.2 402.9 234.3 402.8 234.5 402.4 234.8 402.0 234.9 401.9 235.3 401.4 235.3 401.3 235.6 400.9 235.8 400.7 236.0 400.4 236.3 400.1 236.5 399.9 236.8 399.5 236.9 399.4 237.3 399.0 237.4 398.9 237.8 398.5 237.9 398.4 238.3 398.0 238.5 397.9 238.8 397.6 239.1 397.4 239.3 397.2 239.7 396.9 239.8 396.8 240.3 396.5 240.5 396.4 240.8 396.2 241.3 395.9 241.3 395.9 241.8 395.7 242.3 395.5 242.5 395.4 242.8 395.3 243.3 395.1 243.8 395.0 244.3 394.9 244.8 394.9Z" fill="#e7f1fa" fill-rule="evenodd"/>
<path d="M242.2 400.9 242.3 400.9 242.8 400.7 243.3 400.7 243.8 400.6 244.3 400.6 244.8 400.6 245.3 400.6 245.8 400.7 246.3 400.8 246.5 400.9 246.8 401.0 247.3 401.2 247.8 401.4 247.8 401.4 248.3 401.7 248.7 401.9 248.8 402.0 249.3 402.3 249.4 402.4 249.8 402.7 250.1 402.9 250.3 403.1 250.6 403.4 250.8 403.5 251.2 403.9 251.3 404.0 251.6 404.4 251.8 404.6 252.1 404.9 252.3 405.1 252.5 405.4 252.8 405.7 252.9 405.9 253.3 406.4 253.3 406.4 253.7 406.9 253.8 407.1 254.0 407.4 254.3 407.8 254.4 407.9 254.7 408.4 254.8 408.6 255.0 408.9 255.3 409.4 255.3 409.4 255.6 409.9 255.8 410.2 255.9 410.4 256.2 410.9 256.3 411.1 256.5 411.4 256.7 411.9 256.8 412.0 257.0 412.4 257.2 412.9 257.3 413.0 257.5 413.4 257.7 413.9 257.8 414.0 258.0 414.4 258.2 414.9 258.3 415.1 258.4 415.4 258.6 415.9 258.8 416.3 258.8 416.4 259.1 416.9 259.3 417.4 259.3 417.5 259.4 417.9 259.6 418.4 259.8 418.9 259.8 418.9 260.0 419.4 260.2 419.9 260.3 420.3 260.3 420.4 260.5 420.9 260.6 421.4 260.8 421.9 260.8 421.9 260.9 422.4 261.1 422.9 261.2 423.4 261.3 423.8 261.3 423.9 261.5 424.4 261.6 424.9 261.7 425.4 261.8 425.9 261.8 425.9 261.9 426.4 262.0 426.9 262.1 427.4 262.2 427.9 262.3 428.4 262.3 428.5 262.4 428.9 262.5 429.4 262.6 429.9 262.7 430.4 262.7 430.9 262.8 431.2 262.8 431.4 263.0 431.9 263.1 432.4 263.2 432.9 263.3 433.3 263.3 433.4 263.5 433.9 263.6 434.4 263.8 434.9 263.8 434.9 264.0 435.4 264.2 435.9 264.3 436.1 264.5 436.4 264.8 436.9 264.8 436.9 265.2 437.4 265.3 437.6 265.6 437.9 265.8 438.1 266.3 438.4 266.3 438.4 266.8 438.7 267.3 438.9 267.4 438.9 267.8 439.0 268.3 439.2 268.8 439.3 269.2 439.4 269.3 439.4 269.8 439.6 270.3 439.8 270.5 439.9 270.8 440.1 271.3 440.4 271.3 440.4 271.8 440.9 271.8 440.9 272.0 441.4 271.9 441.9 271.8 442.1 271.5 442.4 271.3 442.5 270.8 442.7 270.3 442.8 269.8 442.8 269.3 442.7 268.8 442.7 268.3 442.6 267.8 442.5 267.5 442.4 267.3 442.3 266.8 442.2 266.3 442.1 265.8 442.0 265.3 442.0 264.8 442.0 264.3 442.1 263.8 442.2 263.3 442.4 263.3 442.4 262.8 442.6 262.3 442.9 262.3 442.9 261.8 443.2 261.6 443.4 261.3 443.6 260.9 443.9 260.8 444.0 260.3 444.4 260.3 444.4 259.8 444.9 259.8 444.9 259.3 445.4 259.3 445.4 258.8 445.9 258.8 445.9 258.4 446.4 258.3 446.5 258.0 446.9 257.8 447.1 257.6 447.4 257.3 447.7 257.1 447.9 256.8 448.3 256.7 448.4 256.4 448.9 256.3 449.0 256.0 449.4 255.8 449.6 255.6 449.9 255.3 450.2 255.2 450.4 254.8 450.9 254.8 450.9 254.4 451.4 254.3 451.5 254.0 451.9 253.8 452.1 253.6 452.4 253.3 452.7 253.1 452.9 252.8 453.3 252.7 453.4 252.3 453.8 252.2 453.9 251.8 454.3 251.7 454.4 251.3 454.8 251.2 454.9 250.8 455.2 250.6 455.4 250.3 455.7 250.0 455.9 249.8 456.0 249.3 456.4 249.3 456.4 248.8 456.7 248.5 456.9 248.3 457.0 247.8 457.3 247.6 457.4 247.3 457.5 246.8 457.7 246.4 457.9 246.3 457.9 245.8 458.1 245.3 458.2 244.8 458.3 244.3 458.3 243.8 458.4 243.3 458.4 242.8 458.3 242.3 458.3 241.8 458.2 241.3 458.1 240.8 457.9 240.8 457.9 240.3 457.7 239.8 457.5 239.6 457.4 239.3 457.2 238.8 457.0 238.7 456.9 238.3 456.6 238.0 456.4 237.8 456.3 237.4 455.9 237.3 455.8 236.8 455.4 236.8 455.4 236.3 454.9 236.3 454.9 235.8 454.4 235.8 454.4 235.4 453.9 235.3 453.8 235.0 453.4 234.8 453.1 234.6 452.9 234.3 452.4 234.3 452.4 234.0 451.9 233.8 451.6 233.7 451.4 233.4 450.9 233.3 450.8 233.1 450.4 232.8 449.9 232.8 449.8 232.6 449.4 232.3 448.9 232.3 448.8 232.1 448.4 231.9 447.9 231.8 447.7 231.7 447.4 231.5 446.9 231.3 446.4 231.3 446.4 231.1 445.9 231.0 445.4 230.8 444.9 230.8 444.9 230.6 444.4 230.5 443.9 230.4 443.4 230.3 443.2 230.2 442.9 230.1 442.4 230.0 441.9 229.9 441.4 229.8 441.1 229.7 440.9 229.6 440.4 229.5 439.9 229.5 439.4 229.4 438.9 229.3 438.4 229.3 438.4 229.2 437.9 229.2 437.4 229.1 436.9 229.0 436.4 229.0 435.9 228.9 435.4 228.9 434.9 228.8 434.4 228.8 433.9 228.8 433.6 228.8 433.4 228.8 432.9 228.7 432.4 228.7 431.9 228.7 431.4 228.7 430.9 228.7 430.4 228.7 429.9 228.7 429.4 228.7 428.9 228.8 428.4 228.8 427.9 228.8 427.7 228.8 427.4 228.8 426.9 228.9 426.4 228.9 425.9 229.0 425.4 229.0 424.9 229.1 424.4 229.1 423.9 229.2 423.4 229.3 422.9 229.3 422.8 229.4 422.4 229.4 421.9 229.5 421.4 229.6 420.9 229.7 420.4 229.8 420.0 229.8 419.9 229.9 419.4 230.0 418.9 230.2 418.4 230.3 417.9 230.3 417.9 230.4 417.4 230.6 416.9 230.7 416.4 230.8 416.1 230.9 415.9 231.0 415.4 231.2 414.9 231.3 414.6 231.4 414.4 231.5 413.9 231.7 413.4 231.8 413.2 231.9 412.9 232.1 412.4 232.3 412.0 232.3 411.9 232.5 411.4 232.8 410.9 232.8 410.9 233.0 410.4 233.3 409.9 233.3 409.8 233.5 409.4 233.8 408.9 233.8 408.9 234.1 408.4 234.3 408.0 234.4 407.9 234.7 407.4 234.8 407.2 235.0 406.9 235.3 406.5 235.4 406.4 235.7 405.9 235.8 405.8 236.1 405.4 236.3 405.2 236.5 404.9 236.8 404.6 237.0 404.4 237.3 404.1 237.5 403.9 237.8 403.6 238.0 403.4 238.3 403.1 238.6 402.9 238.8 402.7 239.2 402.4 239.3 402.3 239.8 402.0 240.0 401.9 240.3 401.7 240.8 401.4 240.9 401.4 241.3 401.2 241.8 401.0 242.2 400.9Z" fill="#dbe9f6" fill-rule="evenodd"/>
<path d="M242.0 405.4 242.3 405.3 242.8 405.3 243.3 405.3 243.8 405.3 244.3 405.3 244.8 405.4 244.8 405.4 245.3 405.5 245.8 405.7 246.3 405.9 246.3 405.9 246.8 406.1 247.3 406.4 247.3 406.4 247.8 406.7 248.1 406.9 248.3 407.1 248.8 407.4 248.8 407.4 249.3 407.9 249.3 407.9 249.8 408.3 249.9 408.4 250.3 408.8 250.4 408.9 250.8 409.4 250.8 409.4 251.2 409.9 251.3 410.0 251.6 410.4 251.8 410.6 252.0 410.9 252.3 411.3 252.4 411.4 252.7 411.9 252.8 412.0 253.0 412.4 253.3 412.8 253.4 412.9 253.6 413.4 253.8 413.7 253.9 413.9 254.2 414.4 254.3 414.6 254.5 414.9 254.7 415.4 254.8 415.6 254.9 415.9 255.2 416.4 255.3 416.7 255.4 416.9 255.6 417.4 255.8 417.9 255.8 417.9 256.0 418.4 256.2 418.9 256.3 419.3 256.3 419.4 256.5 419.9 256.7 420.4 256.8 420.9 256.8 420.9 257.0 421.4 257.1 421.9 257.2 422.4 257.3 422.7 257.3 422.9 257.5 423.4 257.6 423.9 257.7 424.4 257.7 424.9 257.8 425.2 257.8 425.4 257.9 425.9 258.0 426.4 258.0 426.9 258.1 427.4 258.1 427.9 258.2 428.4 258.2 428.9 258.2 429.4 258.3 429.9 258.3 430.4 258.3 430.9 258.3 431.4 258.3 431.9 258.3 432.4 258.3 432.9 258.2 433.4 258.2 433.9 258.2 434.4 258.1 434.9 258.1 435.4 258.0 435.9 257.9 436.4 257.8 436.9 257.8 437.1 257.7 437.4 257.6 437.9 257.5 438.4 257.4 438.9 257.3 439.1 257.2 439.4 257.1 439.9 256.9 440.4 256.8 440.6 256.7 440.9 256.5 441.4 256.3 441.8 256.3 441.9 256.0 442.4 255.8 442.9 255.8 442.9 255.6 443.4 255.3 443.9 255.3 443.9 255.0 444.4 254.8 444.8 254.7 444.9 254.4 445.4 254.3 445.6 254.1 445.9 253.8 446.4 253.8 446.4 253.5 446.9 253.3 447.2 253.2 447.4 252.8 447.9 252.8 447.9 252.5 448.4 252.3 448.6 252.1 448.9 251.8 449.2 251.7 449.4 251.3 449.8 251.2 449.9 250.8 450.4 250.8 450.4 250.3 450.9 250.3 450.9 249.8 451.4 249.8 451.4 249.3 451.8 249.2 451.9 248.8 452.3 248.6 452.4 248.3 452.6 247.9 452.9 247.8 453.0 247.3 453.3 247.0 453.4 246.8 453.5 246.3 453.7 245.9 453.9 245.8 453.9 245.3 454.1 244.8 454.2 244.3 454.3 243.8 454.3 243.3 454.4 242.8 454.3 242.3 454.3 241.8 454.2 241.3 454.1 240.8 453.9 240.8 453.9 240.3 453.7 239.8 453.5 239.7 453.4 239.3 453.2 238.9 452.9 238.8 452.8 238.3 452.5 238.2 452.4 237.8 452.0 237.7 451.9 237.3 451.5 237.2 451.4 236.8 451.0 236.7 450.9 236.3 450.4 236.3 450.4 235.9 449.9 235.8 449.8 235.6 449.4 235.3 449.0 235.2 448.9 234.9 448.4 234.8 448.2 234.6 447.9 234.4 447.4 234.3 447.3 234.1 446.9 233.9 446.4 233.8 446.2 233.6 445.9 233.4 445.4 233.3 445.1 233.2 444.9 233.0 444.4 232.9 443.9 232.8 443.7 232.7 443.4 232.5 442.9 232.4 442.4 232.3 442.2 232.2 441.9 232.1 441.4 231.9 440.9 231.8 440.4 231.8 440.3 231.7 439.9 231.6 439.4 231.5 438.9 231.4 438.4 231.3 437.9 231.3 437.8 231.2 437.4 231.2 436.9 231.1 436.4 231.0 435.9 231.0 435.4 230.9 434.9 230.9 434.4 230.8 433.9 230.8 433.4 230.8 433.4 230.8 432.9 230.7 432.4 230.7 431.9 230.7 431.4 230.7 430.9 230.7 430.4 230.7 429.9 230.7 429.4 230.7 428.9 230.7 428.4 230.8 427.9 230.8 427.4 230.8 427.4 230.8 426.9 230.9 426.4 230.9 425.9 231.0 425.4 231.0 424.9 231.1 424.4 231.1 423.9 231.2 423.4 231.3 422.9 231.3 422.9 231.4 422.4 231.5 421.9 231.6 421.4 231.7 420.9 231.8 420.4 231.8 420.4 231.9 419.9 232.0 419.4 232.2 418.9 232.3 418.4 232.3 418.4 232.4 417.9 232.6 417.4 232.7 416.9 232.8 416.7 232.9 416.4 233.1 415.9 233.3 415.4 233.3 415.3 233.5 414.9 233.7 414.4 233.8 414.1 233.9 413.9 234.1 413.4 234.3 413.0 234.3 412.9 234.6 412.4 234.8 412.0 234.9 411.9 235.1 411.4 235.3 411.1 235.4 410.9 235.7 410.4 235.8 410.3 236.1 409.9 236.3 409.6 236.4 409.4 236.8 408.9 236.8 408.9 237.3 408.4 237.3 408.4 237.7 407.9 237.8 407.8 238.3 407.4 238.3 407.4 238.8 406.9 238.9 406.9 239.3 406.6 239.6 406.4 239.8 406.3 240.3 406.0 240.5 405.9 240.8 405.8 241.3 405.6 241.8 405.4 242.0 405.4Z" fill="#cbdef1" fill-rule="evenodd"/>
<path d="M240.8 409.4 240.8 409.4 241.3 409.2 241.8 409.1 242.3 409.1 242.8 409.1 243.3 409.1 243.8 409.2 244.3 409.3 244.6 409.4 244.8 409.5 245.3 409.7 245.7 409.9 245.8 410.0 246.3 410.3 246.5 410.4 246.8 410.6 247.2 410.9 247.3 411.0 247.8 411.4 247.8 411.4 248.3 411.9 248.3 411.9 248.8 412.4 248.8 412.4 249.2 412.9 249.3 413.0 249.6 413.4 249.8 413.6 250.0 413.9 250.3 414.3 250.4 414.4 250.7 414.9 250.8 415.1 251.0 415.4 251.3 415.9 251.3 415.9 251.6 416.4 251.8 416.8 251.9 416.9 252.1 417.4 252.3 417.8 252.3 417.9 252.6 418.4 252.8 418.9 252.8 418.9 253.0 419.4 253.2 419.9 253.3 420.2 253.4 420.4 253.5 420.9 253.7 421.4 253.8 421.8 253.8 421.9 254.0 422.4 254.1 422.9 254.2 423.4 254.3 423.8 254.3 423.9 254.4 424.4 254.5 424.9 254.6 425.4 254.7 425.9 254.8 426.4 254.8 426.8 254.8 426.9 254.9 427.4 254.9 427.9 254.9 428.4 255.0 428.9 255.0 429.4 255.0 429.9 255.0 430.4 255.0 430.9 255.0 431.4 255.0 431.9 254.9 432.4 254.9 432.9 254.9 433.4 254.8 433.9 254.8 433.9 254.7 434.4 254.7 434.9 254.6 435.4 254.5 435.9 254.4 436.4 254.3 436.9 254.3 436.9 254.2 437.4 254.0 437.9 253.9 438.4 253.8 438.8 253.8 438.9 253.6 439.4 253.4 439.9 253.3 440.2 253.2 440.4 253.0 440.9 252.8 441.4 252.8 441.5 252.6 441.9 252.4 442.4 252.3 442.5 252.1 442.9 251.8 443.4 251.8 443.5 251.6 443.9 251.3 444.3 251.3 444.4 251.0 444.9 250.8 445.1 250.6 445.4 250.3 445.8 250.3 445.9 249.9 446.4 249.8 446.5 249.5 446.9 249.3 447.1 249.0 447.4 248.8 447.6 248.5 447.9 248.3 448.1 248.0 448.4 247.8 448.5 247.3 448.9 247.3 448.9 246.8 449.3 246.6 449.4 246.3 449.6 245.8 449.8 245.6 449.9 245.3 450.0 244.8 450.2 244.3 450.3 244.0 450.4 243.8 450.4 243.3 450.5 242.8 450.5 242.3 450.5 241.9 450.4 241.8 450.4 241.3 450.3 240.8 450.1 240.4 449.9 240.3 449.9 239.8 449.6 239.5 449.4 239.3 449.3 238.8 448.9 238.8 448.9 238.3 448.4 238.3 448.4 237.8 447.9 237.8 447.9 237.3 447.4 237.3 447.3 237.0 446.9 236.8 446.7 236.6 446.4 236.3 445.9 236.3 445.9 236.0 445.4 235.8 445.1 235.7 444.9 235.4 444.4 235.3 444.1 235.2 443.9 235.0 443.4 234.8 443.0 234.8 442.9 234.6 442.4 234.4 441.9 234.3 441.7 234.2 441.4 234.0 440.9 233.9 440.4 233.8 440.1 233.7 439.9 233.6 439.4 233.5 438.9 233.4 438.4 233.3 438.1 233.3 437.9 233.2 437.4 233.1 436.9 233.0 436.4 232.9 435.9 232.8 435.4 232.8 435.1 232.8 434.9 232.7 434.4 232.7 433.9 232.6 433.4 232.6 432.9 232.5 432.4 232.5 431.9 232.5 431.4 232.5 430.9 232.5 430.4 232.5 429.9 232.5 429.4 232.5 428.9 232.5 428.4 232.5 427.9 232.6 427.4 232.6 426.9 232.6 426.4 232.7 425.9 232.7 425.4 232.8 424.9 232.8 424.9 232.9 424.4 232.9 423.9 233.0 423.4 233.1 422.9 233.2 422.4 233.3 421.9 233.3 421.9 233.4 421.4 233.5 420.9 233.6 420.4 233.8 419.9 233.8 419.8 233.9 419.4 234.0 418.9 234.2 418.4 234.3 418.1 234.4 417.9 234.5 417.4 234.7 416.9 234.8 416.7 234.9 416.4 235.1 415.9 235.3 415.6 235.4 415.4 235.6 414.9 235.8 414.5 235.9 414.4 236.2 413.9 236.3 413.6 236.5 413.4 236.8 412.9 236.8 412.9 237.1 412.4 237.3 412.2 237.5 411.9 237.8 411.6 238.0 411.4 238.3 411.0 238.5 410.9 238.8 410.6 239.0 410.4 239.3 410.2 239.8 409.9 239.8 409.9 240.3 409.6 240.8 409.4Z" fill="#afd1e7" fill-rule="evenodd"/>
<path d="M240.7 412.4 240.8 412.4 241.3 412.2 241.8 412.1 242.3 412.1 242.8 412.1 243.3 412.2 243.8 412.4 243.8 412.4 244.3 412.6 244.8 412.9 244.8 412.9 245.3 413.2 245.6 413.4 245.8 413.6 246.2 413.9 246.3 414.0 246.7 414.4 246.8 414.5 247.1 414.9 247.3 415.1 247.6 415.4 247.8 415.7 247.9 415.9 248.3 416.4 248.3 416.4 248.6 416.9 248.8 417.2 248.9 417.4 249.2 417.9 249.3 418.0 249.5 418.4 249.7 418.9 249.8 419.0 250.0 419.4 250.2 419.9 250.3 420.1 250.4 420.4 250.6 420.9 250.8 421.4 250.8 421.4 251.0 421.9 251.1 422.4 251.3 422.9 251.3 423.0 251.4 423.4 251.5 423.9 251.7 424.4 251.8 424.9 251.8 425.1 251.9 425.4 252.0 425.9 252.0 426.4 252.1 426.9 252.1 427.4 252.2 427.9 252.2 428.4 252.3 428.9 252.3 429.4 252.3 429.9 252.3 430.4 252.3 430.9 252.3 431.4 252.2 431.9 252.2 432.4 252.2 432.9 252.1 433.4 252.0 433.9 252.0 434.4 251.9 434.9 251.8 435.3 251.8 435.4 251.7 435.9 251.6 436.4 251.4 436.9 251.3 437.4 251.3 437.4 251.1 437.9 251.0 438.4 250.8 438.9 250.8 438.9 250.6 439.4 250.4 439.9 250.3 440.1 250.2 440.4 249.9 440.9 249.8 441.2 249.7 441.4 249.4 441.9 249.3 442.1 249.1 442.4 248.8 442.9 248.8 442.9 248.4 443.4 248.3 443.6 248.1 443.9 247.8 444.2 247.6 444.4 247.3 444.8 247.2 444.9 246.8 445.2 246.6 445.4 246.3 445.7 246.0 445.9 245.8 446.0 245.3 446.3 245.2 446.4 244.8 446.6 244.3 446.8 244.0 446.9 243.8 446.9 243.3 447.0 242.8 447.1 242.3 447.1 241.8 447.0 241.3 446.9 241.3 446.9 240.8 446.7 240.3 446.5 240.1 446.4 239.8 446.2 239.4 445.9 239.3 445.8 238.8 445.4 238.8 445.4 238.3 444.9 238.3 444.9 237.9 444.4 237.8 444.3 237.5 443.9 237.3 443.5 237.2 443.4 236.9 442.9 236.8 442.7 236.6 442.4 236.4 441.9 236.3 441.7 236.2 441.4 235.9 440.9 235.8 440.6 235.7 440.4 235.6 439.9 235.4 439.4 235.3 439.1 235.2 438.9 235.1 438.4 234.9 437.9 234.8 437.4 234.8 437.3 234.7 436.9 234.6 436.4 234.5 435.9 234.4 435.4 234.3 434.9 234.3 434.7 234.3 434.4 234.2 433.9 234.1 433.4 234.1 432.9 234.0 432.4 234.0 431.9 234.0 431.4 234.0 430.9 233.9 430.4 233.9 429.9 233.9 429.4 233.9 428.9 234.0 428.4 234.0 427.9 234.0 427.4 234.0 426.9 234.1 426.4 234.1 425.9 234.2 425.4 234.3 424.9 234.3 424.6 234.3 424.4 234.4 423.9 234.5 423.4 234.6 422.9 234.7 422.4 234.8 421.9 234.8 421.9 234.9 421.4 235.0 420.9 235.2 420.4 235.3 420.0 235.3 419.9 235.5 419.4 235.7 418.9 235.8 418.6 235.9 418.4 236.1 417.9 236.3 417.4 236.3 417.4 236.5 416.9 236.8 416.4 236.8 416.4 237.1 415.9 237.3 415.5 237.4 415.4 237.7 414.9 237.8 414.8 238.1 414.4 238.3 414.2 238.6 413.9 238.8 413.6 239.1 413.4 239.3 413.2 239.7 412.9 239.8 412.9 240.3 412.6 240.7 412.4Z" fill="#85bcdc" fill-rule="evenodd"/>
<path d="M240.3 415.4 240.8 415.2 241.3 415.0 241.8 415.0 242.3 415.0 242.8 415.1 243.3 415.2 243.7 415.4 243.8 415.5 244.3 415.8 244.5 415.9 244.8 416.2 245.0 416.4 245.3 416.6 245.5 416.9 245.8 417.2 246.0 417.4 246.3 417.9 246.3 417.9 246.7 418.4 246.8 418.6 247.0 418.9 247.3 419.4 247.3 419.5 247.5 419.9 247.7 420.4 247.8 420.5 248.0 420.9 248.2 421.4 248.3 421.7 248.4 421.9 248.5 422.4 248.7 422.9 248.8 423.2 248.9 423.4 249.0 423.9 249.1 424.4 249.2 424.9 249.3 425.2 249.3 425.4 249.4 425.9 249.5 426.4 249.6 426.9 249.6 427.4 249.7 427.9 249.7 428.4 249.8 428.9 249.8 429.4 249.8 429.9 249.8 430.4 249.8 430.9 249.7 431.4 249.7 431.9 249.7 432.4 249.6 432.9 249.5 433.4 249.5 433.9 249.4 434.4 249.3 434.7 249.3 434.9 249.2 435.4 249.0 435.9 248.9 436.4 248.8 436.6 248.7 436.9 248.6 437.4 248.4 437.9 248.3 438.0 248.2 438.4 247.9 438.9 247.8 439.2 247.7 439.4 247.4 439.9 247.3 440.1 247.1 440.4 246.8 440.9 246.8 440.9 246.4 441.4 246.3 441.5 246.0 441.9 245.8 442.1 245.5 442.4 245.3 442.6 244.9 442.9 244.8 443.0 244.3 443.3 244.0 443.4 243.8 443.5 243.3 443.7 242.8 443.8 242.3 443.8 241.8 443.8 241.3 443.7 240.8 443.5 240.6 443.4 240.3 443.3 239.8 442.9 239.8 442.9 239.3 442.5 239.2 442.4 238.8 442.0 238.7 441.9 238.4 441.4 238.3 441.3 238.0 440.9 237.8 440.5 237.7 440.4 237.5 439.9 237.3 439.6 237.2 439.4 237.0 438.9 236.8 438.4 236.8 438.4 236.6 437.9 236.4 437.4 236.3 436.9 236.3 436.9 236.1 436.4 236.0 435.9 235.9 435.4 235.8 434.9 235.8 434.9 235.7 434.4 235.6 433.9 235.6 433.4 235.5 432.9 235.4 432.4 235.4 431.9 235.4 431.4 235.3 430.9 235.3 430.4 235.3 430.3 235.3 429.9 235.3 429.4 235.3 428.9 235.3 428.4 235.3 428.4 235.3 427.9 235.3 427.4 235.4 426.9 235.4 426.4 235.5 425.9 235.5 425.4 235.6 424.9 235.7 424.4 235.8 423.9 235.8 423.8 235.9 423.4 236.0 422.9 236.1 422.4 236.2 421.9 236.3 421.7 236.4 421.4 236.6 420.9 236.7 420.4 236.8 420.2 236.9 419.9 237.1 419.4 237.3 419.0 237.4 418.9 237.6 418.4 237.8 418.1 237.9 417.9 238.2 417.4 238.3 417.3 238.6 416.9 238.8 416.7 239.0 416.4 239.3 416.1 239.6 415.9 239.8 415.7 240.3 415.4 240.3 415.4Z" fill="#549fcd" fill-rule="evenodd"/>
<path d="M240.3 418.4 240.8 418.1 241.3 418.0 241.8 417.9 242.3 418.0 242.8 418.2 243.3 418.4 243.3 418.4 243.8 418.8 243.9 418.9 244.3 419.3 244.4 419.4 244.8 419.9 244.8 419.9 245.2 420.4 245.3 420.6 245.5 420.9 245.7 421.4 245.8 421.6 246.0 421.9 246.2 422.4 246.3 422.7 246.4 422.9 246.5 423.4 246.7 423.9 246.8 424.3 246.8 424.4 247.0 424.9 247.1 425.4 247.2 425.9 247.2 426.4 247.3 426.8 247.3 426.9 247.4 427.4 247.4 427.9 247.5 428.4 247.5 428.9 247.5 429.4 247.5 429.9 247.5 430.4 247.5 430.9 247.4 431.4 247.4 431.9 247.3 432.4 247.3 432.4 247.2 432.9 247.1 433.4 247.0 433.9 246.9 434.4 246.8 434.8 246.8 434.9 246.6 435.4 246.4 435.9 246.3 436.3 246.3 436.4 246.0 436.9 245.8 437.4 245.8 437.4 245.5 437.9 245.3 438.2 245.2 438.4 244.8 438.9 244.8 438.9 244.3 439.4 244.3 439.4 243.8 439.8 243.7 439.9 243.3 440.1 242.8 440.3 242.4 440.4 242.3 440.4 241.8 440.4 241.6 440.4 241.3 440.4 240.8 440.2 240.3 439.9 240.3 439.9 239.8 439.5 239.7 439.4 239.3 438.9 239.3 438.9 238.9 438.4 238.8 438.2 238.6 437.9 238.3 437.4 238.3 437.3 238.1 436.9 237.9 436.4 237.8 436.2 237.7 435.9 237.5 435.4 237.4 434.9 237.3 434.5 237.3 434.4 237.1 433.9 237.0 433.4 237.0 432.9 236.9 432.4 236.8 431.9 236.8 431.7 236.8 431.4 236.7 430.9 236.7 430.4 236.7 429.9 236.7 429.4 236.7 428.9 236.7 428.4 236.7 427.9 236.7 427.4 236.8 426.9 236.8 426.5 236.8 426.4 236.9 425.9 236.9 425.4 237.0 424.9 237.1 424.4 237.2 423.9 237.3 423.7 237.4 423.4 237.5 422.9 237.7 422.4 237.8 422.1 237.9 421.9 238.1 421.4 238.3 420.9 238.3 420.9 238.6 420.4 238.8 420.0 238.9 419.9 239.2 419.4 239.3 419.3 239.7 418.9 239.8 418.8 240.3 418.4 240.3 418.4Z" fill="#2777b8" fill-rule="evenodd"/>
<path d="M240.4 421.9 240.8 421.6 241.3 421.4 241.8 421.4 242.3 421.5 242.8 421.8 242.9 421.9 243.3 422.3 243.4 422.4 243.8 422.9 243.8 422.9 244.1 423.4 244.3 423.9 244.3 423.9 244.5 424.4 244.7 424.9 244.8 425.2 244.8 425.4 245.0 425.9 245.1 426.4 245.2 426.9 245.2 427.4 245.3 427.9 245.3 428.1 245.3 428.4 245.3 428.9 245.3 429.4 245.3 429.9 245.3 430.3 245.3 430.4 245.2 430.9 245.2 431.4 245.1 431.9 245.0 432.4 244.9 432.9 244.8 433.2 244.7 433.4 244.5 433.9 244.3 434.4 244.3 434.5 244.1 434.9 243.8 435.3 243.7 435.4 243.3 435.9 243.3 435.9 242.8 436.3 242.7 436.4 242.3 436.6 241.8 436.7 241.3 436.6 240.9 436.4 240.8 436.4 240.3 436.0 240.2 435.9 239.8 435.4 239.8 435.4 239.5 434.9 239.3 434.5 239.3 434.4 239.1 433.9 238.9 433.4 238.8 433.2 238.7 432.9 238.6 432.4 238.5 431.9 238.4 431.4 238.3 430.9 238.3 430.6 238.3 430.4 238.2 429.9 238.2 429.4 238.2 428.9 238.2 428.4 238.3 427.9 238.3 427.4 238.3 427.3 238.3 426.9 238.4 426.4 238.5 425.9 238.6 425.4 238.8 424.9 238.8 424.7 238.9 424.4 239.1 423.9 239.3 423.4 239.3 423.4 239.6 422.9 239.8 422.6 239.9 422.4 240.3 422.0 240.4 421.9Z" fill="#084990" fill-rule="evenodd"/>
</g>
<g clip-path="url(#clip31)">
<path d="M243.0 576.4 243.3 576.4 243.7 576.4 243.8 576.4 244.3 576.5 244.8 576.6 245.3 576.7 245.8 576.9 245.8 576.9 246.3 577.1 246.7 577.4 246.8 577.4 247.3 577.8 247.4 577.9 247.8 578.3 247.8 578.4 248.2 578.9 248.3 579.1 248.5 579.4 248.7 579.9 248.8 580.4 248.8 580.5 248.8 580.9 248.8 581.4 248.8 581.6 248.8 581.9 248.6 582.4 248.4 582.9 248.3 583.1 248.1 583.4 247.8 583.8 247.8 583.9 247.3 584.4 247.2 584.4 246.8 584.7 246.6 584.9 246.3 585.0 245.8 585.3 245.5 585.4 245.3 585.5 244.8 585.6 244.3 585.7 243.8 585.7 243.3 585.8 242.8 585.7 242.3 585.7 241.8 585.6 241.3 585.4 241.3 585.4 240.8 585.2 240.3 584.9 240.2 584.9 239.8 584.6 239.5 584.4 239.3 584.2 239.0 583.9 238.8 583.7 238.6 583.4 238.3 582.9 238.3 582.9 238.1 582.4 237.9 581.9 237.8 581.4 237.8 580.9 237.9 580.4 238.0 579.9 238.2 579.4 238.3 579.1 238.4 578.9 238.8 578.4 238.8 578.4 239.3 577.9 239.3 577.9 239.8 577.5 239.9 577.4 240.3 577.1 240.8 576.9 240.8 576.9 241.3 576.7 241.8 576.6 242.3 576.5 242.8 576.4 243.0 576.4ZM260.0 596.9 260.3 596.9 260.8 596.8 261.3 596.7 261.8 596.7 262.3 596.7 262.8 596.6 263.3 596.6 263.8 596.6 264.3 596.6 264.8 596.6 265.3 596.6 265.8 596.7 266.3 596.7 266.8 596.8 267.3 596.8 267.8 596.9 268.0 596.9 268.3 596.9 268.8 597.0 269.3 597.1 269.8 597.2 270.3 597.3 270.5 597.4 270.8 597.5 271.3 597.6 271.8 597.7 272.3 597.9 272.3 597.9 272.8 598.1 273.3 598.2 273.7 598.4 273.8 598.4 274.3 598.6 274.8 598.8 274.9 598.9 275.3 599.1 275.8 599.3 276.0 599.4 276.3 599.5 276.8 599.8 277.0 599.9 277.3 600.1 277.8 600.4 277.8 600.4 278.3 600.7 278.6 600.9 278.8 601.0 279.3 601.4 279.3 601.4 279.8 601.8 280.0 601.9 280.3 602.2 280.6 602.4 280.8 602.6 281.2 602.9 281.3 603.0 281.7 603.4 281.8 603.5 282.2 603.9 282.3 604.0 282.7 604.4 282.8 604.5 283.1 604.9 283.3 605.1 283.6 605.4 283.8 605.7 284.0 605.9 284.3 606.4 284.3 606.4 284.7 606.9 284.8 607.1 285.0 607.4 285.3 607.9 285.3 607.9 285.6 608.4 285.8 608.8 285.8 608.9 286.1 609.4 286.3 609.9 286.3 609.9 286.5 610.4 286.7 610.9 286.8 611.1 286.9 611.4 287.1 611.9 287.2 612.4 287.3 612.7 287.3 612.9 287.5 613.4 287.6 613.9 287.7 614.4 287.8 614.9 287.8 615.0 287.9 615.4 288.0 615.9 288.0 616.4 288.1 616.9 288.2 617.4 288.3 617.9 288.3 618.0 288.4 618.4 288.5 618.9 288.6 619.4 288.7 619.9 288.8 620.1 288.9 620.4 289.1 620.9 289.3 621.4 289.3 621.4 289.5 621.9 289.8 622.4 289.8 622.4 290.1 622.9 290.3 623.3 290.4 623.4 290.7 623.9 290.8 624.0 291.1 624.4 291.3 624.7 291.4 624.9 291.8 625.4 291.8 625.4 292.2 625.9 292.3 626.1 292.6 626.4 292.8 626.7 292.9 626.9 293.3 627.4 293.3 627.4 293.6 627.9 293.8 628.1 294.0 628.4 294.3 628.9 294.3 628.9 294.6 629.4 294.8 629.8 294.8 629.9 295.1 630.4 295.3 630.9 295.3 631.0 295.4 631.4 295.6 631.9 295.7 632.4 295.7 632.9 295.7 633.4 295.7 633.9 295.7 634.4 295.6 634.9 295.4 635.4 295.3 635.7 295.2 635.9 295.0 636.4 294.8 636.7 294.7 636.9 294.4 637.4 294.3 637.5 294.0 637.9 293.8 638.1 293.6 638.4 293.3 638.7 293.1 638.9 292.8 639.2 292.6 639.4 292.3 639.6 292.0 639.9 291.8 640.0 291.3 640.4 291.3 640.4 290.8 640.8 290.6 640.9 290.3 641.1 289.8 641.4 289.8 641.4 289.3 641.7 288.9 641.9 288.8 642.0 288.3 642.2 287.9 642.4 287.8 642.5 287.3 642.7 286.9 642.9 286.8 642.9 286.3 643.1 285.8 643.4 285.7 643.4 285.3 643.6 284.8 643.8 284.4 643.9 284.3 643.9 283.8 644.1 283.3 644.3 282.9 644.4 282.8 644.4 282.3 644.6 281.8 644.8 281.3 644.9 281.3 644.9 280.8 645.1 280.3 645.2 279.8 645.3 279.5 645.4 279.3 645.4 278.8 645.6 278.3 645.7 277.8 645.8 277.3 645.9 277.3 645.9 276.8 646.0 276.3 646.1 275.8 646.2 275.3 646.3 274.8 646.4 274.8 646.4 274.3 646.5 273.8 646.6 273.3 646.7 272.8 646.8 272.3 646.8 271.8 646.9 271.8 646.9 271.3 647.0 270.8 647.1 270.3 647.1 269.8 647.2 269.3 647.3 268.8 647.3 268.3 647.4 268.3 647.4 267.8 647.5 267.3 647.5 266.8 647.6 266.3 647.7 265.8 647.7 265.3 647.8 264.8 647.9 264.4 647.9 264.3 647.9 263.8 648.0 263.3 648.0 262.8 648.1 262.3 648.2 261.8 648.2 261.3 648.3 260.8 648.3 260.3 648.4 260.3 648.4 259.8 648.5 259.3 648.5 258.8 648.6 258.3 648.6 257.8 648.7 257.3 648.8 256.8 648.8 256.3 648.9 255.8 648.9 255.8 648.9 255.3 649.0 254.8 649.0 254.3 649.1 253.8 649.1 253.3 649.1 252.8 649.2 252.3 649.2 251.8 649.3 251.3 649.3 250.8 649.3 250.3 649.4 250.1 649.4 249.8 649.4 249.3 649.5 248.8 649.5 248.3 649.5 247.8 649.6 247.3 649.6 246.8 649.6 246.3 649.6 245.8 649.6 245.3 649.6 244.8 649.7 244.3 649.7 243.8 649.6 243.3 649.6 242.8 649.6 242.3 649.6 241.8 649.6 241.3 649.5 240.8 649.5 240.3 649.4 240.2 649.4 239.8 649.4 239.3 649.3 238.8 649.2 238.3 649.1 237.8 649.1 237.3 648.9 237.1 648.9 236.8 648.8 236.3 648.7 235.8 648.6 235.3 648.4 235.2 648.4 234.8 648.3 234.3 648.1 233.8 647.9 233.7 647.9 233.3 647.8 232.8 647.6 232.4 647.4 232.3 647.3 231.8 647.1 231.4 646.9 231.3 646.9 230.8 646.6 230.4 646.4 230.3 646.3 229.8 646.0 229.6 645.9 229.3 645.7 228.8 645.4 228.8 645.4 228.3 645.0 228.2 644.9 227.8 644.6 227.5 644.4 227.3 644.2 227.0 643.9 226.8 643.7 226.4 643.4 226.3 643.3 226.0 642.9 225.8 642.7 225.5 642.4 225.3 642.1 225.1 641.9 224.8 641.4 224.8 641.4 224.4 640.9 224.3 640.6 224.2 640.4 223.9 639.9 223.8 639.7 223.7 639.4 223.5 638.9 223.3 638.4 223.3 638.4 223.2 637.9 223.1 637.4 223.0 636.9 222.9 636.4 222.9 635.9 222.9 635.4 223.0 634.9 223.0 634.4 223.2 633.9 223.3 633.4 223.3 633.4 223.5 632.9 223.7 632.4 223.8 632.1 223.9 631.9 224.2 631.4 224.3 631.2 224.5 630.9 224.8 630.5 224.8 630.4 225.2 629.9 225.3 629.8 225.6 629.4 225.8 629.2 226.1 628.9 226.3 628.7 226.6 628.4 226.8 628.2 227.2 627.9 227.3 627.8 227.8 627.4 227.8 627.4 228.3 627.0 228.4 626.9 228.8 626.6 229.1 626.4 229.3 626.2 229.8 625.9 229.8 625.9 230.3 625.6 230.5 625.4 230.8 625.2 231.3 624.9 231.3 624.9 231.8 624.6 232.2 624.4 232.3 624.3 232.8 624.0 233.0 623.9 233.3 623.7 233.8 623.4 233.8 623.4 234.3 623.1 234.7 622.9 234.8 622.8 235.3 622.5 235.4 622.4 235.8 622.1 236.2 621.9 236.3 621.8 236.8 621.4 236.8 621.4 237.3 621.0 237.4 620.9 237.8 620.5 237.9 620.4 238.3 619.9 238.3 619.9 238.7 619.4 238.8 619.2 239.0 618.9 239.2 618.4 239.3 618.2 239.4 617.9 239.6 617.4 239.7 616.9 239.8 616.5 239.8 616.4 239.9 615.9 240.1 615.4 240.2 614.9 240.3 614.4 240.3 614.3 240.4 613.9 240.5 613.4 240.6 612.9 240.8 612.4 240.8 612.3 240.9 611.9 241.1 611.4 241.3 610.9 241.3 610.9 241.5 610.4 241.7 609.9 241.8 609.7 241.9 609.4 242.2 608.9 242.3 608.6 242.4 608.4 242.7 607.9 242.8 607.8 243.0 607.4 243.3 607.0 243.3 606.9 243.7 606.4 243.8 606.2 244.0 605.9 244.3 605.6 244.4 605.4 244.8 605.0 244.9 604.9 245.3 604.4 245.3 604.4 245.8 603.9 245.8 603.9 246.3 603.4 246.3 603.4 246.8 602.9 246.8 602.9 247.3 602.5 247.4 602.4 247.8 602.1 248.0 601.9 248.3 601.7 248.7 601.4 248.8 601.3 249.3 601.0 249.4 600.9 249.8 600.6 250.2 600.4 250.3 600.3 250.8 600.0 251.0 599.9 251.3 599.8 251.8 599.5 252.0 599.4 252.3 599.2 252.8 599.0 253.1 598.9 253.3 598.8 253.8 598.6 254.3 598.4 254.3 598.4 254.8 598.2 255.3 598.0 255.7 597.9 255.8 597.9 256.3 597.7 256.8 597.6 257.3 597.4 257.5 597.4 257.8 597.3 258.3 597.2 258.8 597.1 259.3 597.0 259.8 596.9 260.0 596.9ZM325.7 631.4 325.8 631.4 326.3 631.2 326.8 631.1 327.3 631.1 327.8 631.0 328.3 631.0 328.8 631.0 329.3 631.1 329.8 631.1 330.3 631.2 330.8 631.4 330.9 631.4 331.3 631.5 331.8 631.7 332.1 631.9 332.3 632.0 332.8 632.3 332.9 632.4 333.3 632.7 333.5 632.9 333.8 633.2 334.0 633.4 334.3 633.9 334.3 633.9 334.5 634.4 334.7 634.9 334.7 635.4 334.7 635.9 334.6 636.4 334.4 636.9 334.3 637.1 334.1 637.4 333.8 637.8 333.7 637.9 333.3 638.3 333.2 638.4 332.8 638.7 332.5 638.9 332.3 639.0 331.8 639.3 331.5 639.4 331.3 639.5 330.8 639.6 330.3 639.8 329.8 639.9 329.6 639.9 329.3 639.9 328.8 640.0 328.3 640.0 327.8 640.0 327.3 639.9 327.0 639.9 326.8 639.9 326.3 639.8 325.8 639.6 325.3 639.5 325.1 639.4 324.8 639.3 324.3 639.0 324.1 638.9 323.8 638.7 323.4 638.4 323.3 638.3 322.9 637.9 322.8 637.8 322.5 637.4 322.3 637.1 322.2 636.9 322.0 636.4 321.9 635.9 321.9 635.4 321.9 634.9 322.1 634.4 322.3 633.9 322.3 633.9 322.6 633.4 322.8 633.2 323.1 632.9 323.3 632.7 323.6 632.4 323.8 632.3 324.3 632.0 324.5 631.9 324.8 631.7 325.3 631.5 325.7 631.4Z" fill="#f5f9fe" fill-rule="evenodd"/>
<path d="M261.4 607.9 261.8 607.8 262.3 607.7 262.8 607.7 263.3 607.7 263.8 607.6 264.3 607.6 264.8 607.7 265.3 607.7 265.8 607.8 266.3 607.8 266.6 607.9 266.8 607.9 267.3 608.1 267.8 608.2 268.3 608.4 268.3 608.4 268.8 608.6 269.3 608.8 269.5 608.9 269.8 609.1 270.3 609.3 270.4 609.4 270.8 609.7 271.1 609.9 271.3 610.0 271.8 610.4 271.8 610.4 272.3 610.9 272.3 610.9 272.8 611.4 272.8 611.4 273.2 611.9 273.3 612.0 273.6 612.4 273.8 612.7 273.9 612.9 274.2 613.4 274.3 613.6 274.5 613.9 274.7 614.4 274.8 614.7 274.9 614.9 275.1 615.4 275.3 615.9 275.3 616.0 275.4 616.4 275.6 616.9 275.7 617.4 275.8 617.6 275.9 617.9 276.1 618.4 276.2 618.9 276.3 619.0 276.5 619.4 276.7 619.9 276.8 620.1 277.0 620.4 277.3 620.9 277.3 621.0 277.6 621.4 277.8 621.7 278.0 621.9 278.3 622.3 278.4 622.4 278.8 622.9 278.8 622.9 279.3 623.4 279.3 623.4 279.8 623.9 279.8 623.9 280.3 624.4 280.3 624.4 280.8 624.8 280.9 624.9 281.3 625.3 281.4 625.4 281.8 625.7 282.0 625.9 282.3 626.2 282.5 626.4 282.8 626.7 283.1 626.9 283.3 627.1 283.6 627.4 283.8 627.6 284.0 627.9 284.3 628.2 284.5 628.4 284.8 628.8 284.9 628.9 285.3 629.4 285.3 629.4 285.6 629.9 285.8 630.2 286.0 630.4 286.2 630.9 286.3 631.1 286.4 631.4 286.6 631.9 286.7 632.4 286.8 632.9 286.8 633.4 286.8 633.4 286.8 633.4 286.8 633.9 286.7 634.4 286.5 634.9 286.3 635.4 286.3 635.4 286.1 635.9 285.8 636.3 285.7 636.4 285.3 636.9 285.3 636.9 284.9 637.4 284.8 637.5 284.3 637.9 284.3 637.9 283.8 638.3 283.7 638.4 283.3 638.7 283.0 638.9 282.8 639.0 282.3 639.3 282.2 639.4 281.8 639.6 281.3 639.9 281.2 639.9 280.8 640.1 280.3 640.4 280.2 640.4 279.8 640.6 279.3 640.8 279.0 640.9 278.8 641.0 278.3 641.2 277.8 641.3 277.6 641.4 277.3 641.5 276.8 641.7 276.3 641.8 276.1 641.9 275.8 642.0 275.3 642.1 274.8 642.3 274.3 642.4 274.3 642.4 273.8 642.5 273.3 642.7 272.8 642.8 272.3 642.9 272.3 642.9 271.8 643.0 271.3 643.1 270.8 643.2 270.3 643.3 270.0 643.4 269.8 643.4 269.3 643.5 268.8 643.7 268.3 643.8 267.8 643.9 267.6 643.9 267.3 644.0 266.8 644.1 266.3 644.2 265.8 644.3 265.3 644.4 265.1 644.4 264.8 644.5 264.3 644.6 263.8 644.7 263.3 644.8 262.8 644.9 262.6 644.9 262.3 645.0 261.8 645.1 261.3 645.2 260.8 645.3 260.3 645.3 260.0 645.4 259.8 645.4 259.3 645.5 258.8 645.6 258.3 645.7 257.8 645.8 257.3 645.9 257.3 645.9 256.8 646.0 256.3 646.1 255.8 646.2 255.3 646.3 254.8 646.3 254.4 646.4 254.3 646.4 253.8 646.5 253.3 646.6 252.8 646.7 252.3 646.8 251.8 646.8 251.3 646.9 251.3 646.9 250.8 647.0 250.3 647.1 249.8 647.2 249.3 647.2 248.8 647.3 248.3 647.3 247.8 647.4 247.8 647.4 247.3 647.5 246.8 647.5 246.3 647.6 245.8 647.6 245.3 647.6 244.8 647.7 244.3 647.7 243.8 647.7 243.3 647.7 242.8 647.7 242.3 647.7 241.8 647.7 241.3 647.6 240.8 647.6 240.3 647.6 239.8 647.5 239.3 647.4 239.2 647.4 238.8 647.3 238.3 647.3 237.8 647.1 237.3 647.0 236.8 646.9 236.8 646.9 236.3 646.8 235.8 646.6 235.3 646.4 235.2 646.4 234.8 646.2 234.3 646.0 234.0 645.9 233.8 645.8 233.3 645.6 232.9 645.4 232.8 645.3 232.3 645.0 232.1 644.9 231.8 644.7 231.3 644.4 231.3 644.4 230.8 644.1 230.6 643.9 230.3 643.7 230.0 643.4 229.8 643.2 229.5 642.9 229.3 642.7 229.0 642.4 228.8 642.2 228.5 641.9 228.3 641.6 228.2 641.4 227.8 640.9 227.8 640.8 227.5 640.4 227.3 639.9 227.3 639.9 227.1 639.4 226.9 638.9 226.8 638.6 226.7 638.4 226.6 637.9 226.5 637.4 226.5 636.9 226.5 636.4 226.5 635.9 226.6 635.4 226.7 634.9 226.8 634.4 226.8 634.4 227.0 633.9 227.2 633.4 227.3 633.1 227.4 632.9 227.7 632.4 227.8 632.2 228.0 631.9 228.3 631.5 228.4 631.4 228.8 630.9 228.8 630.9 229.3 630.4 229.3 630.4 229.8 629.9 229.8 629.9 230.3 629.5 230.4 629.4 230.8 629.1 231.0 628.9 231.3 628.7 231.7 628.4 231.8 628.3 232.3 628.0 232.5 627.9 232.8 627.7 233.3 627.4 233.4 627.4 233.8 627.2 234.3 626.9 234.4 626.9 234.8 626.7 235.3 626.5 235.4 626.4 235.8 626.2 236.3 626.0 236.6 625.9 236.8 625.8 237.3 625.6 237.8 625.4 237.9 625.4 238.3 625.3 238.8 625.1 239.3 624.9 239.4 624.9 239.8 624.7 240.3 624.6 240.8 624.4 240.9 624.4 241.3 624.3 241.8 624.1 242.3 623.9 242.4 623.9 242.8 623.8 243.3 623.6 243.8 623.4 243.9 623.4 244.3 623.3 244.8 623.1 245.3 622.9 245.3 622.9 245.8 622.7 246.3 622.5 246.6 622.4 246.8 622.3 247.3 622.1 247.6 621.9 247.8 621.8 248.3 621.5 248.6 621.4 248.8 621.2 249.3 620.9 249.3 620.9 249.8 620.5 250.0 620.4 250.3 620.1 250.5 619.9 250.8 619.6 250.9 619.4 251.3 618.9 251.3 618.9 251.6 618.4 251.8 618.0 251.9 617.9 252.1 617.4 252.3 616.9 252.3 616.9 252.5 616.4 252.7 615.9 252.8 615.5 252.9 615.4 253.1 614.9 253.3 614.4 253.3 614.3 253.5 613.9 253.8 613.4 253.8 613.4 254.1 612.9 254.3 612.6 254.4 612.4 254.8 611.9 254.8 611.9 255.2 611.4 255.3 611.3 255.7 610.9 255.8 610.8 256.2 610.4 256.3 610.3 256.8 609.9 256.9 609.9 257.3 609.6 257.6 609.4 257.8 609.3 258.3 609.0 258.5 608.9 258.8 608.8 259.3 608.5 259.7 608.4 259.8 608.4 260.3 608.2 260.8 608.0 261.3 607.9 261.4 607.9Z" fill="#eef5fc" fill-rule="evenodd"/>
<path d="M257.3 623.4 257.8 623.3 258.3 623.2 258.8 623.2 259.3 623.1 259.8 623.1 260.3 623.0 260.8 623.0 261.3 622.9 261.8 622.9 262.3 622.9 262.8 622.9 263.3 622.9 263.8 622.9 264.3 623.0 264.8 623.0 265.3 623.1 265.8 623.2 266.3 623.3 266.8 623.4 266.8 623.4 267.3 623.5 267.8 623.6 268.3 623.8 268.6 623.9 268.8 624.0 269.3 624.1 269.8 624.3 270.0 624.4 270.3 624.5 270.8 624.7 271.3 624.9 271.3 624.9 271.8 625.1 272.3 625.4 272.4 625.4 272.8 625.6 273.3 625.9 273.4 625.9 273.8 626.1 274.3 626.4 274.3 626.4 274.8 626.7 275.2 626.9 275.3 627.0 275.8 627.3 276.0 627.4 276.3 627.6 276.7 627.9 276.8 628.0 277.3 628.3 277.4 628.4 277.8 628.8 278.0 628.9 278.3 629.2 278.5 629.4 278.8 629.7 279.0 629.9 279.3 630.3 279.4 630.4 279.8 630.9 279.8 631.0 280.1 631.4 280.3 631.9 280.3 632.0 280.4 632.4 280.5 632.9 280.5 633.4 280.5 633.9 280.4 634.4 280.3 634.6 280.2 634.9 279.9 635.4 279.8 635.5 279.5 635.9 279.3 636.2 279.1 636.4 278.8 636.7 278.5 636.9 278.3 637.1 277.9 637.4 277.8 637.5 277.3 637.8 277.1 637.9 276.8 638.1 276.3 638.4 276.2 638.4 275.8 638.6 275.3 638.8 275.2 638.9 274.8 639.1 274.3 639.3 274.0 639.4 273.8 639.5 273.3 639.7 272.8 639.8 272.6 639.9 272.3 640.0 271.8 640.2 271.3 640.3 271.1 640.4 270.8 640.5 270.3 640.7 269.8 640.8 269.5 640.9 269.3 640.9 268.8 641.1 268.3 641.2 267.8 641.4 267.7 641.4 267.3 641.5 266.8 641.7 266.3 641.8 265.9 641.9 265.8 641.9 265.3 642.1 264.8 642.2 264.3 642.3 264.1 642.4 263.8 642.5 263.3 642.6 262.8 642.8 262.3 642.9 262.2 642.9 261.8 643.0 261.3 643.2 260.8 643.3 260.3 643.4 260.3 643.4 259.8 643.5 259.3 643.7 258.8 643.8 258.3 643.9 258.3 643.9 257.8 644.0 257.3 644.1 256.8 644.3 256.3 644.4 256.2 644.4 255.8 644.5 255.3 644.6 254.8 644.7 254.3 644.8 254.0 644.9 253.8 645.0 253.3 645.1 252.8 645.2 252.3 645.3 251.8 645.4 251.8 645.4 251.3 645.5 250.8 645.6 250.3 645.7 249.8 645.8 249.5 645.9 249.3 645.9 248.8 646.0 248.3 646.1 247.8 646.2 247.3 646.3 246.8 646.4 246.4 646.4 246.3 646.4 245.8 646.5 245.3 646.5 244.8 646.6 244.3 646.6 243.8 646.6 243.3 646.6 242.8 646.6 242.3 646.6 241.8 646.6 241.3 646.6 240.8 646.6 240.3 646.5 239.8 646.4 239.6 646.4 239.3 646.4 238.8 646.3 238.3 646.2 237.8 646.1 237.3 645.9 237.2 645.9 236.8 645.8 236.3 645.6 235.8 645.4 235.7 645.4 235.3 645.3 234.8 645.0 234.5 644.9 234.3 644.8 233.8 644.6 233.5 644.4 233.3 644.3 232.8 644.0 232.7 643.9 232.3 643.6 232.0 643.4 231.8 643.2 231.4 642.9 231.3 642.8 230.9 642.4 230.8 642.3 230.4 641.9 230.3 641.8 230.0 641.4 229.8 641.2 229.6 640.9 229.3 640.4 229.3 640.4 229.0 639.9 228.8 639.4 228.8 639.4 228.6 638.9 228.5 638.4 228.4 637.9 228.3 637.4 228.3 637.3 228.3 636.9 228.3 636.4 228.3 636.3 228.3 635.9 228.4 635.4 228.5 634.9 228.7 634.4 228.8 634.1 228.9 633.9 229.1 633.4 229.3 633.1 229.4 632.9 229.8 632.4 229.8 632.4 230.2 631.9 230.3 631.7 230.6 631.4 230.8 631.2 231.1 630.9 231.3 630.7 231.7 630.4 231.8 630.3 232.3 629.9 232.3 629.9 232.8 629.6 233.1 629.4 233.3 629.2 233.8 628.9 233.9 628.9 234.3 628.7 234.8 628.4 234.8 628.4 235.3 628.2 235.8 627.9 235.9 627.9 236.3 627.7 236.8 627.5 237.2 627.4 237.3 627.4 237.8 627.2 238.3 627.0 238.7 626.9 238.8 626.9 239.3 626.7 239.8 626.6 240.3 626.4 240.5 626.4 240.8 626.3 241.3 626.2 241.8 626.1 242.3 626.0 242.7 625.9 242.8 625.9 243.3 625.8 243.8 625.7 244.3 625.6 244.8 625.5 245.3 625.4 245.3 625.4 245.8 625.3 246.3 625.2 246.8 625.1 247.3 625.0 247.8 625.0 248.2 624.9 248.3 624.9 248.8 624.8 249.3 624.7 249.8 624.6 250.3 624.5 250.8 624.5 251.2 624.4 251.3 624.4 251.8 624.3 252.3 624.2 252.8 624.1 253.3 624.0 253.8 624.0 254.2 623.9 254.3 623.9 254.8 623.8 255.3 623.7 255.8 623.6 256.3 623.5 256.8 623.5 257.3 623.4 257.3 623.4Z" fill="#e6f0f9" fill-rule="evenodd"/>
<path d="M245.2 627.4 245.3 627.4 245.8 627.3 246.3 627.3 246.8 627.3 247.3 627.2 247.8 627.2 248.3 627.2 248.8 627.2 249.3 627.2 249.8 627.2 250.3 627.1 250.8 627.1 251.3 627.1 251.8 627.1 252.3 627.1 252.8 627.1 253.3 627.2 253.8 627.2 254.3 627.2 254.8 627.2 255.3 627.2 255.8 627.2 256.3 627.3 256.8 627.3 257.3 627.4 257.8 627.4 257.9 627.4 258.3 627.4 258.8 627.5 259.3 627.5 259.8 627.6 260.3 627.7 260.8 627.8 261.3 627.8 261.7 627.9 261.8 627.9 262.3 628.0 262.8 628.1 263.3 628.2 263.8 628.3 264.1 628.4 264.3 628.5 264.8 628.6 265.3 628.7 265.8 628.9 265.8 628.9 266.3 629.1 266.8 629.3 267.2 629.4 267.3 629.5 267.8 629.7 268.3 629.9 268.3 629.9 268.8 630.2 269.2 630.4 269.3 630.5 269.8 630.8 269.9 630.9 270.3 631.3 270.4 631.4 270.8 631.8 270.9 631.9 271.2 632.4 271.3 632.7 271.4 632.9 271.5 633.4 271.4 633.9 271.3 634.3 271.3 634.4 271.0 634.9 270.8 635.2 270.6 635.4 270.3 635.7 270.2 635.9 269.8 636.2 269.6 636.4 269.3 636.6 268.8 636.9 268.8 636.9 268.3 637.2 268.0 637.4 267.8 637.5 267.3 637.8 267.2 637.9 266.8 638.1 266.3 638.3 266.2 638.4 265.8 638.6 265.3 638.8 265.2 638.9 264.8 639.1 264.3 639.3 264.1 639.4 263.8 639.5 263.3 639.7 262.9 639.9 262.8 639.9 262.3 640.1 261.8 640.4 261.7 640.4 261.3 640.6 260.8 640.7 260.4 640.9 260.3 640.9 259.8 641.1 259.3 641.3 259.0 641.4 258.8 641.5 258.3 641.7 257.8 641.8 257.6 641.9 257.3 642.0 256.8 642.2 256.3 642.3 256.1 642.4 255.8 642.5 255.3 642.7 254.8 642.8 254.6 642.9 254.3 643.0 253.8 643.2 253.3 643.3 253.1 643.4 252.8 643.5 252.3 643.7 251.8 643.8 251.5 643.9 251.3 644.0 250.8 644.1 250.3 644.3 249.8 644.4 249.8 644.4 249.3 644.5 248.8 644.7 248.3 644.8 247.8 644.9 247.8 644.9 247.3 645.0 246.8 645.1 246.3 645.2 245.8 645.3 245.3 645.3 244.8 645.4 244.6 645.4 244.3 645.4 243.8 645.5 243.3 645.5 242.8 645.5 242.3 645.5 241.8 645.5 241.3 645.5 240.8 645.4 240.7 645.4 240.3 645.4 239.8 645.3 239.3 645.2 238.8 645.1 238.3 645.0 237.9 644.9 237.8 644.9 237.3 644.7 236.8 644.6 236.4 644.4 236.3 644.4 235.8 644.2 235.3 643.9 235.2 643.9 234.8 643.7 234.3 643.4 234.3 643.4 233.8 643.1 233.5 642.9 233.3 642.7 232.9 642.4 232.8 642.3 232.3 641.9 232.3 641.9 231.9 641.4 231.8 641.3 231.5 640.9 231.3 640.7 231.1 640.4 230.8 639.9 230.8 639.8 230.6 639.4 230.4 638.9 230.3 638.6 230.2 638.4 230.1 637.9 230.1 637.4 230.1 636.9 230.1 636.4 230.2 635.9 230.3 635.4 230.3 635.3 230.4 634.9 230.6 634.4 230.8 634.1 230.9 633.9 231.2 633.4 231.3 633.2 231.5 632.9 231.8 632.6 232.0 632.4 232.3 632.0 232.4 631.9 232.8 631.6 233.0 631.4 233.3 631.2 233.6 630.9 233.8 630.8 234.3 630.5 234.4 630.4 234.8 630.1 235.3 629.9 235.3 629.9 235.8 629.6 236.3 629.4 236.3 629.4 236.8 629.2 237.3 629.0 237.6 628.9 237.8 628.8 238.3 628.6 238.8 628.5 239.2 628.4 239.3 628.4 239.8 628.2 240.3 628.1 240.8 628.0 241.3 627.9 241.4 627.9 241.8 627.8 242.3 627.7 242.8 627.7 243.3 627.6 243.8 627.5 244.3 627.5 244.8 627.4 245.2 627.4Z" fill="#d9e7f5" fill-rule="evenodd"/>
<path d="M245.3 628.9 245.8 628.9 246.3 628.9 246.4 628.9 246.8 628.9 247.3 628.9 247.8 628.9 248.3 629.0 248.8 629.0 249.3 629.0 249.8 629.1 250.3 629.1 250.8 629.2 251.3 629.2 251.8 629.3 252.3 629.4 252.5 629.4 252.8 629.4 253.3 629.5 253.8 629.6 254.3 629.7 254.8 629.8 255.3 629.9 255.3 629.9 255.8 630.0 256.3 630.1 256.8 630.3 257.3 630.4 257.3 630.4 257.8 630.6 258.3 630.7 258.8 630.9 258.8 630.9 259.3 631.1 259.8 631.4 259.9 631.4 260.3 631.6 260.8 631.9 260.8 631.9 261.3 632.3 261.4 632.4 261.8 632.8 261.9 632.9 262.3 633.4 262.3 633.4 262.5 633.9 262.6 634.4 262.5 634.9 262.4 635.4 262.3 635.5 262.1 635.9 261.8 636.3 261.7 636.4 261.3 636.9 261.3 636.9 260.8 637.4 260.7 637.4 260.3 637.8 260.1 637.9 259.8 638.1 259.4 638.4 259.3 638.5 258.8 638.8 258.6 638.9 258.3 639.1 257.8 639.4 257.8 639.4 257.3 639.7 256.8 639.9 256.8 639.9 256.3 640.2 255.9 640.4 255.8 640.4 255.3 640.7 254.8 640.9 254.8 640.9 254.3 641.2 253.8 641.4 253.8 641.4 253.3 641.6 252.8 641.8 252.7 641.9 252.3 642.1 251.8 642.3 251.5 642.4 251.3 642.5 250.8 642.7 250.3 642.9 250.3 642.9 249.8 643.1 249.3 643.3 248.9 643.4 248.8 643.4 248.3 643.6 247.8 643.7 247.3 643.9 247.1 643.9 246.8 644.0 246.3 644.1 245.8 644.2 245.3 644.3 244.8 644.4 244.3 644.4 244.3 644.4 243.8 644.5 243.3 644.5 242.8 644.5 242.3 644.5 241.8 644.5 241.3 644.5 240.8 644.4 240.6 644.4 240.3 644.4 239.8 644.3 239.3 644.2 238.8 644.1 238.3 644.0 238.1 643.9 237.8 643.8 237.3 643.7 236.8 643.5 236.7 643.4 236.3 643.2 235.8 643.0 235.6 642.9 235.3 642.7 234.8 642.4 234.8 642.4 234.3 642.0 234.1 641.9 233.8 641.6 233.6 641.4 233.3 641.1 233.1 640.9 232.8 640.5 232.7 640.4 232.4 639.9 232.3 639.8 232.1 639.4 231.9 638.9 231.8 638.6 231.7 638.4 231.6 637.9 231.6 637.4 231.6 636.9 231.6 636.4 231.7 635.9 231.8 635.5 231.8 635.4 232.0 634.9 232.3 634.4 232.3 634.3 232.6 633.9 232.8 633.6 232.9 633.4 233.3 633.0 233.4 632.9 233.8 632.5 233.9 632.4 234.3 632.0 234.5 631.9 234.8 631.7 235.2 631.4 235.3 631.3 235.8 631.0 236.1 630.9 236.3 630.8 236.8 630.5 237.1 630.4 237.3 630.3 237.8 630.1 238.3 630.0 238.5 629.9 238.8 629.8 239.3 629.7 239.8 629.5 240.3 629.4 240.4 629.4 240.8 629.3 241.3 629.2 241.8 629.1 242.3 629.1 242.8 629.0 243.3 629.0 243.8 629.0 244.3 628.9 244.8 628.9 245.3 628.9 245.3 628.9Z" fill="#c7dcef" fill-rule="evenodd"/>
<path d="M242.2 630.4 242.3 630.4 242.8 630.3 243.3 630.3 243.8 630.3 244.3 630.3 244.8 630.3 245.3 630.3 245.8 630.4 246.1 630.4 246.3 630.4 246.8 630.5 247.3 630.5 247.8 630.6 248.3 630.7 248.8 630.8 249.3 630.9 249.3 630.9 249.8 631.0 250.3 631.2 250.8 631.3 251.1 631.4 251.3 631.5 251.8 631.6 252.3 631.8 252.5 631.9 252.8 632.0 253.3 632.3 253.6 632.4 253.8 632.5 254.3 632.8 254.4 632.9 254.8 633.2 255.1 633.4 255.3 633.7 255.5 633.9 255.8 634.3 255.8 634.4 256.0 634.9 256.1 635.4 256.0 635.9 255.9 636.4 255.8 636.6 255.6 636.9 255.3 637.4 255.3 637.4 254.9 637.9 254.8 638.0 254.4 638.4 254.3 638.5 253.9 638.9 253.8 639.0 253.3 639.4 253.3 639.4 252.8 639.7 252.6 639.9 252.3 640.1 251.9 640.4 251.8 640.4 251.3 640.8 251.1 640.9 250.8 641.1 250.3 641.3 250.2 641.4 249.8 641.6 249.3 641.8 249.2 641.9 248.8 642.1 248.3 642.3 248.0 642.4 247.8 642.5 247.3 642.6 246.8 642.8 246.5 642.9 246.3 642.9 245.8 643.1 245.3 643.2 244.8 643.3 244.3 643.3 243.8 643.4 243.8 643.4 243.3 643.4 242.8 643.5 242.3 643.5 241.8 643.5 241.3 643.4 240.9 643.4 240.8 643.4 240.3 643.3 239.8 643.2 239.3 643.1 238.8 643.0 238.4 642.9 238.3 642.9 237.8 642.7 237.3 642.5 237.1 642.4 236.8 642.2 236.3 642.0 236.2 641.9 235.8 641.7 235.5 641.4 235.3 641.3 234.9 640.9 234.8 640.8 234.4 640.4 234.3 640.3 234.0 639.9 233.8 639.6 233.7 639.4 233.4 638.9 233.3 638.5 233.3 638.4 233.2 637.9 233.1 637.4 233.1 636.9 233.1 636.4 233.3 635.9 233.3 635.8 233.4 635.4 233.7 634.9 233.8 634.7 234.0 634.4 234.3 634.0 234.3 633.9 234.8 633.4 234.8 633.4 235.3 632.9 235.4 632.9 235.8 632.6 236.0 632.4 236.3 632.2 236.8 631.9 236.9 631.9 237.3 631.7 237.8 631.5 238.0 631.4 238.3 631.3 238.8 631.1 239.3 630.9 239.4 630.9 239.8 630.8 240.3 630.7 240.8 630.6 241.3 630.5 241.8 630.4 242.2 630.4Z" fill="#a1cbe2" fill-rule="evenodd"/>
<path d="M240.6 631.9 240.8 631.9 241.3 631.8 241.8 631.7 242.3 631.7 242.8 631.6 243.3 631.6 243.8 631.6 244.3 631.7 244.8 631.7 245.3 631.8 245.8 631.8 246.1 631.9 246.3 631.9 246.8 632.1 247.3 632.2 247.8 632.4 247.9 632.4 248.3 632.5 248.8 632.7 249.1 632.9 249.3 633.0 249.8 633.3 250.0 633.4 250.3 633.6 250.7 633.9 250.8 634.0 251.2 634.4 251.3 634.6 251.5 634.9 251.7 635.4 251.8 635.6 251.9 635.9 251.9 636.4 251.8 636.9 251.8 636.9 251.6 637.4 251.4 637.9 251.3 638.0 251.1 638.4 250.8 638.7 250.7 638.9 250.3 639.3 250.2 639.4 249.8 639.7 249.6 639.9 249.3 640.1 248.9 640.4 248.8 640.5 248.3 640.8 248.1 640.9 247.8 641.0 247.3 641.3 247.0 641.4 246.8 641.5 246.3 641.7 245.8 641.9 245.6 641.9 245.3 642.0 244.8 642.1 244.3 642.2 243.8 642.3 243.3 642.3 242.8 642.4 242.3 642.4 241.8 642.4 241.3 642.4 240.8 642.3 240.3 642.2 239.8 642.1 239.3 642.0 239.0 641.9 238.8 641.8 238.3 641.7 237.8 641.4 237.8 641.4 237.3 641.2 236.9 640.9 236.8 640.8 236.3 640.4 236.3 640.4 235.8 639.9 235.8 639.9 235.4 639.4 235.3 639.3 235.1 638.9 234.9 638.4 234.8 638.1 234.7 637.9 234.7 637.4 234.7 636.9 234.8 636.4 234.8 636.2 234.9 635.9 235.1 635.4 235.3 635.1 235.4 634.9 235.8 634.4 235.8 634.4 236.3 633.9 236.3 633.9 236.8 633.5 236.9 633.4 237.3 633.2 237.7 632.9 237.8 632.9 238.3 632.6 238.8 632.4 238.8 632.4 239.3 632.2 239.8 632.1 240.3 632.0 240.6 631.9Z" fill="#64a9d3" fill-rule="evenodd"/>
<path d="M239.9 633.4 240.3 633.3 240.8 633.1 241.3 633.1 241.8 633.0 242.3 633.0 242.8 632.9 243.3 633.0 243.8 633.0 244.3 633.1 244.8 633.1 245.3 633.3 245.8 633.4 245.8 633.4 246.3 633.6 246.8 633.8 247.0 633.9 247.3 634.1 247.8 634.4 247.8 634.4 248.3 634.9 248.3 634.9 248.7 635.4 248.8 635.6 248.9 635.9 249.0 636.4 249.1 636.9 249.0 637.4 248.8 637.8 248.8 637.9 248.5 638.4 248.3 638.6 248.1 638.9 247.8 639.2 247.6 639.4 247.3 639.6 246.9 639.9 246.8 640.0 246.3 640.2 246.0 640.4 245.8 640.5 245.3 640.7 244.8 640.9 244.6 640.9 244.3 641.0 243.8 641.1 243.3 641.2 242.8 641.2 242.3 641.2 241.8 641.2 241.3 641.2 240.8 641.1 240.3 641.0 239.8 640.9 239.8 640.9 239.3 640.7 238.8 640.5 238.6 640.4 238.3 640.2 237.8 639.9 237.8 639.9 237.3 639.4 237.3 639.4 236.9 638.9 236.8 638.8 236.6 638.4 236.4 637.9 236.3 637.4 236.3 636.9 236.5 636.4 236.6 635.9 236.8 635.6 236.9 635.4 237.3 635.0 237.4 634.9 237.8 634.5 237.9 634.4 238.3 634.1 238.7 633.9 238.8 633.9 239.3 633.6 239.8 633.4 239.9 633.4Z" fill="#2e7ebc" fill-rule="evenodd"/>
<path d="M242.1 634.4 242.3 634.4 242.8 634.4 242.9 634.4 243.3 634.4 243.8 634.5 244.3 634.7 244.8 634.8 244.9 634.9 245.3 635.1 245.7 635.4 245.8 635.5 246.2 635.9 246.3 636.1 246.4 636.4 246.5 636.9 246.5 637.4 246.3 637.9 246.3 637.9 245.9 638.4 245.8 638.5 245.4 638.9 245.3 639.0 244.8 639.3 244.6 639.4 244.3 639.5 243.8 639.7 243.3 639.8 242.8 639.9 242.4 639.9 242.3 639.9 241.8 639.9 241.8 639.9 241.3 639.8 240.8 639.7 240.3 639.6 239.8 639.4 239.8 639.4 239.3 639.1 239.1 638.9 238.8 638.6 238.6 638.4 238.4 637.9 238.3 637.6 238.3 637.4 238.3 636.9 238.3 636.8 238.4 636.4 238.7 635.9 238.8 635.8 239.2 635.4 239.3 635.4 239.8 635.0 240.1 634.9 240.3 634.8 240.8 634.6 241.3 634.5 241.8 634.4 242.1 634.4Z" fill="#084a91" fill-rule="evenodd"/>
</g>
<g clip-path="url(#clip32)">
<path d="M412.2 595.4 412.4 595.4 412.9 595.3 413.4 595.3 413.9 595.3 414.4 595.3 414.8 595.4 414.9 595.4 415.4 595.5 415.9 595.7 416.4 595.8 416.6 595.9 416.9 596.0 417.4 596.3 417.7 596.4 417.9 596.5 418.4 596.8 418.6 596.9 418.9 597.1 419.3 597.4 419.4 597.4 419.9 597.8 420.1 597.9 420.4 598.1 420.8 598.4 420.9 598.5 421.4 598.9 421.5 598.9 421.9 599.2 422.2 599.4 422.4 599.5 422.9 599.9 423.0 599.9 423.4 600.1 423.9 600.4 423.9 600.4 424.4 600.6 424.9 600.8 425.0 600.9 425.4 601.0 425.9 601.2 426.4 601.4 426.6 601.4 426.9 601.5 427.4 601.6 427.9 601.7 428.4 601.8 428.8 601.9 428.9 601.9 429.4 602.0 429.9 602.0 430.4 602.1 430.9 602.0 431.4 602.0 431.7 601.9 431.9 601.8 432.4 601.6 432.8 601.4 432.9 601.3 433.4 601.0 433.5 600.9 433.9 600.6 434.1 600.4 434.4 600.1 434.6 599.9 434.9 599.6 435.1 599.4 435.4 599.2 435.7 598.9 435.9 598.7 436.3 598.4 436.4 598.3 436.9 598.0 437.0 597.9 437.4 597.7 437.9 597.4 437.9 597.4 438.4 597.2 438.9 597.0 439.2 596.9 439.4 596.8 439.9 596.8 440.4 596.7 440.9 596.7 441.4 596.8 441.9 596.9 442.1 596.9 442.4 597.0 442.9 597.2 443.3 597.4 443.4 597.5 443.9 597.8 444.0 597.9 444.4 598.2 444.6 598.4 444.9 598.7 445.1 598.9 445.4 599.3 445.5 599.4 445.8 599.9 445.9 600.1 446.1 600.4 446.3 600.9 446.4 601.2 446.5 601.4 446.7 601.9 446.8 602.4 446.9 602.9 446.9 602.9 447.0 603.4 447.0 603.9 447.1 604.4 447.1 604.9 447.1 605.4 447.1 605.9 447.0 606.4 446.9 606.9 446.9 607.2 446.9 607.4 446.8 607.9 446.6 608.4 446.5 608.9 446.4 609.1 446.3 609.4 446.1 609.9 445.9 610.4 445.9 610.5 445.7 610.9 445.5 611.4 445.4 611.6 445.2 611.9 445.0 612.4 444.9 612.6 444.7 612.9 444.5 613.4 444.4 613.6 444.2 613.9 444.0 614.4 443.9 614.7 443.8 614.9 443.6 615.4 443.5 615.9 443.4 616.3 443.4 616.4 443.3 616.9 443.2 617.4 443.2 617.9 443.2 618.4 443.3 618.9 443.4 619.4 443.4 619.4 443.6 619.9 443.9 620.3 444.0 620.4 444.4 620.8 444.5 620.9 444.9 621.2 445.2 621.4 445.4 621.5 445.9 621.7 446.2 621.9 446.4 622.0 446.9 622.1 447.4 622.3 447.7 622.4 447.9 622.5 448.4 622.6 448.9 622.7 449.4 622.8 449.7 622.9 449.9 622.9 450.4 623.0 450.9 623.1 451.4 623.2 451.9 623.3 452.3 623.4 452.4 623.4 452.9 623.5 453.4 623.6 453.9 623.7 454.4 623.7 454.9 623.8 455.4 623.9 455.4 623.9 455.9 624.0 456.4 624.1 456.9 624.1 457.4 624.2 457.9 624.3 458.4 624.4 458.5 624.4 458.9 624.5 459.4 624.5 459.9 624.6 460.4 624.7 460.9 624.8 461.4 624.9 461.4 624.9 461.9 625.0 462.4 625.1 462.9 625.2 463.4 625.2 463.9 625.3 464.1 625.4 464.4 625.4 464.9 625.5 465.4 625.6 465.9 625.7 466.4 625.9 466.6 625.9 466.9 626.0 467.4 626.1 467.9 626.2 468.4 626.3 468.8 626.4 468.9 626.4 469.4 626.5 469.9 626.7 470.4 626.8 470.8 626.9 470.9 626.9 471.4 627.1 471.9 627.2 472.4 627.3 472.6 627.4 472.9 627.5 473.4 627.6 473.9 627.8 474.3 627.9 474.4 627.9 474.9 628.1 475.4 628.3 475.8 628.4 475.9 628.4 476.4 628.6 476.9 628.8 477.2 628.9 477.4 629.0 477.9 629.2 478.4 629.4 478.4 629.4 478.9 629.6 479.4 629.8 479.6 629.9 479.9 630.0 480.4 630.3 480.6 630.4 480.9 630.5 481.4 630.8 481.6 630.9 481.9 631.1 482.4 631.4 482.4 631.4 482.9 631.7 483.2 631.9 483.4 632.0 483.9 632.4 483.9 632.4 484.4 632.8 484.5 632.9 484.9 633.3 485.0 633.4 485.4 633.9 485.4 633.9 485.8 634.4 485.9 634.7 486.0 634.9 486.2 635.4 486.4 635.9 486.4 636.3 486.4 636.4 486.4 636.6 486.4 636.9 486.3 637.4 486.1 637.9 485.9 638.4 485.9 638.4 485.6 638.9 485.4 639.1 485.2 639.4 484.9 639.7 484.7 639.9 484.4 640.2 484.1 640.4 483.9 640.6 483.5 640.9 483.4 641.0 482.9 641.3 482.8 641.4 482.4 641.6 481.9 641.9 481.9 641.9 481.4 642.2 481.0 642.4 480.9 642.5 480.4 642.7 480.0 642.9 479.9 643.0 479.4 643.2 478.9 643.4 478.9 643.4 478.4 643.6 477.9 643.8 477.7 643.9 477.4 644.0 476.9 644.2 476.4 644.4 476.3 644.4 475.9 644.6 475.4 644.7 474.9 644.9 474.9 644.9 474.4 645.1 473.9 645.2 473.4 645.4 473.3 645.4 472.9 645.5 472.4 645.7 471.9 645.8 471.5 645.9 471.4 645.9 470.9 646.1 470.4 646.2 469.9 646.3 469.6 646.4 469.4 646.4 468.9 646.6 468.4 646.7 467.9 646.8 467.4 646.9 467.4 646.9 466.9 647.0 466.4 647.1 465.9 647.2 465.4 647.3 465.1 647.4 464.9 647.4 464.4 647.5 463.9 647.6 463.4 647.7 462.9 647.8 462.4 647.9 462.4 647.9 461.9 648.0 461.4 648.1 460.9 648.2 460.4 648.2 459.9 648.3 459.4 648.4 459.2 648.4 458.9 648.4 458.4 648.5 457.9 648.6 457.4 648.7 456.9 648.7 456.4 648.8 455.9 648.8 455.4 648.9 455.3 648.9 454.9 648.9 454.4 649.0 453.9 649.1 453.4 649.1 452.9 649.2 452.4 649.2 451.9 649.2 451.4 649.3 450.9 649.3 450.4 649.4 449.9 649.4 449.8 649.4 449.4 649.4 448.9 649.5 448.4 649.5 447.9 649.5 447.4 649.5 446.9 649.6 446.4 649.6 445.9 649.6 445.4 649.6 444.9 649.7 444.4 649.7 443.9 649.7 443.4 649.7 442.9 649.7 442.4 649.7 441.9 649.7 441.4 649.7 440.9 649.7 440.4 649.7 439.9 649.7 439.4 649.7 438.9 649.7 438.4 649.7 437.9 649.7 437.4 649.6 436.9 649.6 436.4 649.6 435.9 649.6 435.4 649.6 434.9 649.5 434.4 649.5 433.9 649.5 433.4 649.4 432.9 649.4 432.9 649.4 432.4 649.4 431.9 649.3 431.4 649.3 430.9 649.2 430.4 649.2 429.9 649.2 429.4 649.1 428.9 649.0 428.4 649.0 427.9 648.9 427.7 648.9 427.4 648.9 426.9 648.8 426.4 648.7 425.9 648.7 425.4 648.6 424.9 648.5 424.4 648.5 424.0 648.4 423.9 648.4 423.4 648.3 422.9 648.2 422.4 648.2 421.9 648.1 421.4 648.0 420.9 647.9 420.9 647.9 420.4 647.8 419.9 647.7 419.4 647.7 418.9 647.6 418.4 647.5 418.0 647.4 417.9 647.4 417.4 647.3 416.9 647.2 416.4 647.1 415.9 647.0 415.4 646.9 415.3 646.9 414.9 646.8 414.4 646.7 413.9 646.6 413.4 646.5 412.9 646.4 412.9 646.4 412.4 646.3 411.9 646.2 411.4 646.1 410.9 645.9 410.7 645.9 410.4 645.8 409.9 645.7 409.4 645.5 409.0 645.4 408.9 645.4 408.4 645.2 407.9 645.0 407.5 644.9 407.4 644.9 406.9 644.7 406.4 644.5 406.3 644.4 405.9 644.2 405.4 644.0 405.2 643.9 404.9 643.8 404.4 643.5 404.3 643.4 403.9 643.2 403.4 642.9 403.4 642.9 402.9 642.5 402.7 642.4 402.4 642.2 402.1 641.9 401.9 641.7 401.5 641.4 401.4 641.3 401.0 640.9 400.9 640.8 400.5 640.4 400.4 640.2 400.1 639.9 399.9 639.6 399.8 639.4 399.5 638.9 399.4 638.8 399.2 638.4 398.9 637.9 398.9 637.8 398.7 637.4 398.6 636.9 398.4 636.4 398.4 636.3 398.3 635.9 398.2 635.4 398.2 634.9 398.1 634.4 398.1 633.9 398.1 633.4 398.2 632.9 398.2 632.4 398.3 631.9 398.4 631.4 398.4 631.4 398.5 630.9 398.6 630.4 398.8 629.9 398.9 629.4 398.9 629.4 399.1 628.9 399.2 628.4 399.4 627.9 399.4 627.9 399.6 627.4 399.8 626.9 399.9 626.6 400.0 626.4 400.2 625.9 400.4 625.4 400.4 625.4 400.6 624.9 400.8 624.4 400.9 624.3 401.1 623.9 401.3 623.4 401.4 623.2 401.5 622.9 401.8 622.4 401.9 622.1 402.0 621.9 402.2 621.4 402.4 621.0 402.4 620.9 402.7 620.4 402.9 619.9 402.9 619.8 403.1 619.4 403.3 618.9 403.4 618.5 403.4 618.4 403.6 617.9 403.7 617.4 403.9 616.9 403.9 616.7 404.0 616.4 404.1 615.9 404.1 615.4 404.2 614.9 404.3 614.4 404.3 613.9 404.3 613.4 404.4 612.9 404.4 612.4 404.4 611.9 404.4 611.4 404.4 610.9 404.4 610.4 404.4 609.9 404.4 609.7 404.4 609.4 404.4 608.9 404.4 608.4 404.4 607.9 404.4 607.4 404.5 606.9 404.5 606.4 404.6 605.9 404.6 605.4 404.7 604.9 404.8 604.4 404.9 603.9 404.9 603.8 405.0 603.4 405.1 602.9 405.3 602.4 405.4 602.0 405.4 601.9 405.6 601.4 405.8 600.9 405.9 600.8 406.1 600.4 406.3 599.9 406.4 599.8 406.6 599.4 406.9 599.0 407.0 598.9 407.3 598.4 407.4 598.3 407.8 597.9 407.9 597.8 408.3 597.4 408.4 597.3 408.9 596.9 408.9 596.9 409.4 596.5 409.6 596.4 409.9 596.2 410.4 596.0 410.5 595.9 410.9 595.7 411.4 595.6 411.9 595.5 412.2 595.4Z" fill="#f3f8fe" fill-rule="evenodd"/>
<path d="M412.3 600.9 412.4 600.8 412.9 600.7 413.4 600.6 413.9 600.7 414.4 600.7 414.9 600.9 414.9 600.9 415.4 601.1 415.9 601.4 415.9 601.4 416.4 601.8 416.6 601.9 416.9 602.2 417.1 602.4 417.4 602.7 417.6 602.9 417.9 603.3 418.0 603.4 418.3 603.9 418.4 604.0 418.7 604.4 418.9 604.7 419.1 604.9 419.4 605.4 419.4 605.4 419.8 605.9 419.9 606.1 420.1 606.4 420.4 606.7 420.6 606.9 420.9 607.2 421.1 607.4 421.4 607.7 421.7 607.9 421.9 608.1 422.4 608.4 422.5 608.4 422.9 608.6 423.4 608.8 423.5 608.9 423.9 609.0 424.4 609.2 424.9 609.4 424.9 609.4 425.4 609.6 425.9 609.7 426.4 609.9 426.4 609.9 426.9 610.1 427.4 610.3 427.7 610.4 427.9 610.5 428.4 610.8 428.7 610.9 428.9 611.0 429.4 611.3 429.5 611.4 429.9 611.7 430.2 611.9 430.4 612.1 430.8 612.4 430.9 612.5 431.3 612.9 431.4 613.1 431.6 613.4 431.9 613.8 431.9 613.9 432.2 614.4 432.4 614.9 432.4 614.9 432.6 615.4 432.7 615.9 432.7 616.4 432.8 616.9 432.8 617.4 432.8 617.9 432.8 618.4 432.8 618.9 432.8 619.4 432.8 619.9 432.9 620.4 432.9 620.4 433.0 620.9 433.3 621.4 433.4 621.6 433.7 621.9 433.9 622.1 434.3 622.4 434.4 622.5 434.9 622.7 435.2 622.9 435.4 623.0 435.9 623.2 436.4 623.3 436.6 623.4 436.9 623.5 437.4 623.6 437.9 623.7 438.4 623.9 438.5 623.9 438.9 624.0 439.4 624.1 439.9 624.2 440.4 624.2 440.9 624.3 441.3 624.4 441.4 624.4 441.9 624.5 442.4 624.6 442.9 624.6 443.4 624.7 443.9 624.8 444.4 624.9 444.7 624.9 444.9 624.9 445.4 625.0 445.9 625.1 446.4 625.1 446.9 625.2 447.4 625.3 447.9 625.3 448.4 625.4 448.5 625.4 448.9 625.5 449.4 625.5 449.9 625.6 450.4 625.7 450.9 625.7 451.4 625.8 451.9 625.9 452.1 625.9 452.4 625.9 452.9 626.0 453.4 626.1 453.9 626.2 454.4 626.2 454.9 626.3 455.3 626.4 455.4 626.4 455.9 626.5 456.4 626.6 456.9 626.7 457.4 626.8 457.9 626.9 458.0 626.9 458.4 627.0 458.9 627.1 459.4 627.2 459.9 627.3 460.4 627.4 460.4 627.4 460.9 627.5 461.4 627.6 461.9 627.7 462.4 627.9 462.5 627.9 462.9 628.0 463.4 628.1 463.9 628.3 464.4 628.4 464.4 628.4 464.9 628.6 465.4 628.7 465.9 628.9 466.0 628.9 466.4 629.0 466.9 629.2 467.4 629.4 467.5 629.4 467.9 629.5 468.4 629.7 468.9 629.9 468.9 629.9 469.4 630.1 469.9 630.3 470.1 630.4 470.4 630.6 470.9 630.8 471.1 630.9 471.4 631.0 471.9 631.3 472.1 631.4 472.4 631.6 472.9 631.9 473.0 631.9 473.4 632.2 473.7 632.4 473.9 632.5 474.4 632.9 474.4 632.9 474.9 633.3 475.0 633.4 475.4 633.9 475.4 633.9 475.8 634.4 475.9 634.5 476.2 634.9 476.4 635.4 476.4 635.5 476.5 635.9 476.6 636.4 476.6 636.9 476.4 637.4 476.4 637.5 476.3 637.9 476.0 638.4 475.9 638.5 475.6 638.9 475.4 639.1 475.2 639.4 474.9 639.7 474.6 639.9 474.4 640.1 474.0 640.4 473.9 640.5 473.4 640.8 473.3 640.9 472.9 641.1 472.5 641.4 472.4 641.4 471.9 641.7 471.5 641.9 471.4 642.0 470.9 642.2 470.5 642.4 470.4 642.4 469.9 642.7 469.4 642.9 469.3 642.9 468.9 643.1 468.4 643.3 468.1 643.4 467.9 643.5 467.4 643.6 466.9 643.8 466.6 643.9 466.4 644.0 465.9 644.1 465.4 644.3 465.0 644.4 464.9 644.4 464.4 644.6 463.9 644.7 463.4 644.9 463.2 644.9 462.9 645.0 462.4 645.1 461.9 645.2 461.4 645.4 461.2 645.4 460.9 645.5 460.4 645.6 459.9 645.7 459.4 645.8 458.9 645.9 458.9 645.9 458.4 646.0 457.9 646.1 457.4 646.2 456.9 646.3 456.4 646.3 456.1 646.4 455.9 646.4 455.4 646.5 454.9 646.6 454.4 646.7 453.9 646.7 453.4 646.8 452.9 646.9 452.5 646.9 452.4 646.9 451.9 647.0 451.4 647.0 450.9 647.1 450.4 647.1 449.9 647.2 449.4 647.2 448.9 647.3 448.4 647.3 447.9 647.4 447.4 647.4 447.1 647.4 446.9 647.4 446.4 647.4 445.9 647.5 445.4 647.5 444.9 647.5 444.4 647.5 443.9 647.6 443.4 647.6 442.9 647.6 442.4 647.6 441.9 647.6 441.4 647.6 440.9 647.6 440.4 647.6 439.9 647.6 439.4 647.6 438.9 647.6 438.4 647.6 437.9 647.6 437.4 647.6 436.9 647.5 436.4 647.5 435.9 647.5 435.4 647.5 434.9 647.4 434.4 647.4 434.3 647.4 433.9 647.4 433.4 647.3 432.9 647.3 432.4 647.3 431.9 647.2 431.4 647.2 430.9 647.1 430.4 647.1 429.9 647.0 429.4 646.9 429.1 646.9 428.9 646.9 428.4 646.8 427.9 646.8 427.4 646.7 426.9 646.6 426.4 646.5 425.9 646.4 425.7 646.4 425.4 646.4 424.9 646.3 424.4 646.2 423.9 646.1 423.4 646.0 423.0 645.9 422.9 645.9 422.4 645.8 421.9 645.7 421.4 645.6 420.9 645.5 420.6 645.4 420.4 645.4 419.9 645.2 419.4 645.1 418.9 645.0 418.5 644.9 418.4 644.9 417.9 644.8 417.4 644.6 416.9 644.5 416.5 644.4 416.4 644.4 415.9 644.2 415.4 644.1 414.9 644.0 414.7 643.9 414.4 643.8 413.9 643.7 413.4 643.5 413.1 643.4 412.9 643.3 412.4 643.2 411.9 643.0 411.6 642.9 411.4 642.8 410.9 642.6 410.4 642.4 410.3 642.4 409.9 642.2 409.4 642.0 409.2 641.9 408.9 641.7 408.4 641.5 408.3 641.4 407.9 641.2 407.4 640.9 407.4 640.9 406.9 640.6 406.7 640.4 406.4 640.2 406.1 639.9 405.9 639.8 405.5 639.4 405.4 639.3 405.0 638.9 404.9 638.7 404.6 638.4 404.4 638.1 404.3 637.9 404.0 637.4 403.9 637.2 403.7 636.9 403.5 636.4 403.4 635.9 403.4 635.9 403.3 635.4 403.2 634.9 403.2 634.4 403.1 633.9 403.2 633.4 403.2 632.9 403.3 632.4 403.4 632.0 403.4 631.9 403.6 631.4 403.7 630.9 403.9 630.5 403.9 630.4 404.1 629.9 404.4 629.4 404.4 629.4 404.7 628.9 404.9 628.5 405.0 628.4 405.3 627.9 405.4 627.8 405.7 627.4 405.9 627.1 406.1 626.9 406.4 626.5 406.5 626.4 406.9 625.9 406.9 625.9 407.4 625.4 407.4 625.4 407.9 624.9 407.9 624.9 408.4 624.4 408.4 624.4 408.9 623.9 408.9 623.9 409.4 623.5 409.5 623.4 409.9 623.0 410.0 622.9 410.4 622.5 410.5 622.4 410.9 621.9 410.9 621.9 411.3 621.4 411.4 621.3 411.6 620.9 411.9 620.4 411.9 620.4 412.1 619.9 412.3 619.4 412.4 619.1 412.5 618.9 412.5 618.4 412.6 617.9 412.6 617.4 412.6 616.9 412.6 616.4 412.5 615.9 412.4 615.5 412.4 615.4 412.3 614.9 412.1 614.4 411.9 613.9 411.9 613.9 411.7 613.4 411.5 612.9 411.4 612.7 411.3 612.4 411.0 611.9 410.9 611.6 410.8 611.4 410.6 610.9 410.4 610.4 410.4 610.4 410.2 609.9 410.0 609.4 409.9 609.0 409.9 608.9 409.7 608.4 409.6 607.9 409.5 607.4 409.5 606.9 409.4 606.4 409.4 605.9 409.5 605.4 409.5 604.9 409.6 604.4 409.7 603.9 409.9 603.4 409.9 603.4 410.1 602.9 410.4 602.5 410.4 602.4 410.8 601.9 410.9 601.8 411.4 601.4 411.4 601.4 411.9 601.1 412.3 600.9ZM439.4 601.9 439.9 601.7 440.4 601.5 440.9 601.5 441.4 601.6 441.9 601.9 441.9 601.9 442.4 602.4 442.4 602.4 442.7 602.9 442.9 603.3 443.0 603.4 443.1 603.9 443.1 604.4 443.1 604.9 443.1 605.4 442.9 605.9 442.9 606.0 442.8 606.4 442.5 606.9 442.4 607.0 442.1 607.4 441.9 607.6 441.5 607.9 441.4 608.0 440.9 608.3 440.4 608.4 440.4 608.4 439.9 608.4 439.6 608.4 439.4 608.4 438.9 608.2 438.5 607.9 438.4 607.8 438.1 607.4 437.9 607.0 437.9 606.9 437.7 606.4 437.7 605.9 437.6 605.4 437.7 604.9 437.8 604.4 437.9 604.0 437.9 603.9 438.1 603.4 438.4 602.9 438.4 602.9 438.8 602.4 438.9 602.3 439.4 601.9 439.4 601.9Z" fill="#ecf4fb" fill-rule="evenodd"/>
<path d="M422.3 624.9 422.4 624.9 422.9 624.8 423.4 624.8 423.9 624.7 424.4 624.7 424.9 624.7 425.4 624.6 425.9 624.6 426.4 624.6 426.9 624.6 427.4 624.6 427.9 624.6 428.4 624.6 428.9 624.7 429.4 624.7 429.9 624.7 430.4 624.7 430.9 624.8 431.4 624.8 431.9 624.9 432.4 624.9 432.4 624.9 432.9 624.9 433.4 625.0 433.9 625.0 434.4 625.1 434.9 625.1 435.4 625.1 435.9 625.2 436.4 625.2 436.9 625.3 437.4 625.3 437.9 625.4 438.2 625.4 438.4 625.4 438.9 625.5 439.4 625.5 439.9 625.5 440.4 625.6 440.9 625.6 441.4 625.7 441.9 625.7 442.4 625.8 442.9 625.8 443.4 625.9 443.4 625.9 443.9 625.9 444.4 626.0 444.9 626.0 445.4 626.1 445.9 626.1 446.4 626.2 446.9 626.3 447.4 626.3 447.9 626.4 448.0 626.4 448.4 626.4 448.9 626.5 449.4 626.6 449.9 626.6 450.4 626.7 450.9 626.8 451.4 626.9 451.7 626.9 451.9 626.9 452.4 627.0 452.9 627.1 453.4 627.2 453.9 627.2 454.4 627.3 454.7 627.4 454.9 627.4 455.4 627.5 455.9 627.6 456.4 627.7 456.9 627.8 457.3 627.9 457.4 627.9 457.9 628.0 458.4 628.1 458.9 628.3 459.4 628.4 459.5 628.4 459.9 628.5 460.4 628.6 460.9 628.8 461.3 628.9 461.4 628.9 461.9 629.1 462.4 629.2 462.9 629.4 463.0 629.4 463.4 629.5 463.9 629.7 464.4 629.9 464.5 629.9 464.9 630.1 465.4 630.2 465.8 630.4 465.9 630.4 466.4 630.7 466.9 630.9 467.0 630.9 467.4 631.1 467.9 631.4 468.0 631.4 468.4 631.6 468.9 631.9 468.9 631.9 469.4 632.2 469.7 632.4 469.9 632.5 470.4 632.9 470.4 632.9 470.9 633.3 471.0 633.4 471.4 633.8 471.5 633.9 471.9 634.4 471.9 634.4 472.3 634.9 472.4 635.2 472.5 635.4 472.6 635.9 472.7 636.4 472.7 636.9 472.6 637.4 472.4 637.8 472.4 637.9 472.1 638.4 471.9 638.6 471.7 638.9 471.4 639.2 471.2 639.4 470.9 639.7 470.7 639.9 470.4 640.1 470.0 640.4 469.9 640.5 469.4 640.8 469.2 640.9 468.9 641.1 468.4 641.4 468.4 641.4 467.9 641.6 467.4 641.9 467.4 641.9 466.9 642.1 466.4 642.3 466.3 642.4 465.9 642.6 465.4 642.8 465.0 642.9 464.9 642.9 464.4 643.1 463.9 643.3 463.6 643.4 463.4 643.5 462.9 643.6 462.4 643.8 462.0 643.9 461.9 643.9 461.4 644.1 460.9 644.2 460.4 644.3 460.2 644.4 459.9 644.5 459.4 644.6 458.9 644.7 458.4 644.8 458.1 644.9 457.9 644.9 457.4 645.1 456.9 645.2 456.4 645.3 455.9 645.3 455.6 645.4 455.4 645.4 454.9 645.5 454.4 645.6 453.9 645.7 453.4 645.8 452.9 645.8 452.4 645.9 452.4 645.9 451.9 646.0 451.4 646.0 450.9 646.1 450.4 646.2 449.9 646.2 449.4 646.3 448.9 646.3 448.4 646.4 447.9 646.4 447.9 646.4 447.4 646.4 446.9 646.5 446.4 646.5 445.9 646.5 445.4 646.6 444.9 646.6 444.4 646.6 443.9 646.7 443.4 646.7 442.9 646.7 442.4 646.7 441.9 646.7 441.4 646.7 440.9 646.7 440.4 646.7 439.9 646.7 439.4 646.7 438.9 646.7 438.4 646.7 437.9 646.7 437.4 646.7 436.9 646.6 436.4 646.6 435.9 646.6 435.4 646.6 434.9 646.5 434.4 646.5 433.9 646.5 433.4 646.4 433.1 646.4 432.9 646.4 432.4 646.3 431.9 646.3 431.4 646.2 430.9 646.2 430.4 646.1 429.9 646.1 429.4 646.0 428.9 645.9 428.7 645.9 428.4 645.9 427.9 645.8 427.4 645.7 426.9 645.6 426.4 645.5 425.9 645.4 425.7 645.4 425.4 645.4 424.9 645.3 424.4 645.2 423.9 645.1 423.4 644.9 423.2 644.9 422.9 644.8 422.4 644.7 421.9 644.6 421.4 644.5 421.1 644.4 420.9 644.4 420.4 644.2 419.9 644.1 419.4 644.0 419.2 643.9 418.9 643.8 418.4 643.7 417.9 643.5 417.5 643.4 417.4 643.4 416.9 643.2 416.4 643.1 415.9 642.9 415.9 642.9 415.4 642.7 414.9 642.5 414.5 642.4 414.4 642.4 413.9 642.2 413.4 642.0 413.2 641.9 412.9 641.8 412.4 641.6 412.0 641.4 411.9 641.3 411.4 641.1 411.0 640.9 410.9 640.8 410.4 640.6 410.1 640.4 409.9 640.3 409.4 640.0 409.3 639.9 408.9 639.6 408.6 639.4 408.4 639.2 408.1 638.9 407.9 638.8 407.6 638.4 407.4 638.2 407.1 637.9 406.9 637.6 406.8 637.4 406.5 636.9 406.4 636.7 406.2 636.4 406.1 635.9 405.9 635.4 405.9 635.2 405.9 634.9 405.8 634.4 405.8 633.9 405.9 633.4 405.9 633.3 406.0 632.9 406.1 632.4 406.3 631.9 406.4 631.6 406.5 631.4 406.8 630.9 406.9 630.7 407.1 630.4 407.4 630.0 407.5 629.9 407.9 629.4 407.9 629.4 408.4 628.9 408.4 628.9 408.9 628.5 409.0 628.4 409.4 628.1 409.7 627.9 409.9 627.8 410.4 627.5 410.5 627.4 410.9 627.2 411.4 627.0 411.5 626.9 411.9 626.7 412.4 626.6 412.9 626.4 412.9 626.4 413.4 626.2 413.9 626.1 414.4 626.0 414.9 625.9 414.9 625.9 415.4 625.8 415.9 625.7 416.4 625.6 416.9 625.6 417.4 625.5 417.9 625.4 418.2 625.4 418.4 625.4 418.9 625.3 419.4 625.2 419.9 625.2 420.4 625.1 420.9 625.1 421.4 625.0 421.9 624.9 422.3 624.9Z" fill="#e2edf8" fill-rule="evenodd"/>
<path d="M429.5 627.9 429.9 627.9 430.4 627.8 430.9 627.8 431.4 627.7 431.9 627.7 432.4 627.6 432.9 627.6 433.4 627.6 433.9 627.6 434.4 627.6 434.9 627.5 435.4 627.5 435.9 627.5 436.4 627.5 436.9 627.5 437.4 627.5 437.9 627.5 438.4 627.5 438.9 627.6 439.4 627.6 439.9 627.6 440.4 627.6 440.9 627.6 441.4 627.7 441.9 627.7 442.4 627.7 442.9 627.8 443.4 627.8 443.9 627.8 444.4 627.9 444.5 627.9 444.9 627.9 445.4 628.0 445.9 628.0 446.4 628.1 446.9 628.1 447.4 628.2 447.9 628.3 448.4 628.3 448.9 628.4 449.0 628.4 449.4 628.5 449.9 628.5 450.4 628.6 450.9 628.7 451.4 628.8 451.9 628.9 452.0 628.9 452.4 629.0 452.9 629.1 453.4 629.2 453.9 629.3 454.4 629.4 454.5 629.4 454.9 629.5 455.4 629.6 455.9 629.7 456.4 629.9 456.5 629.9 456.9 630.0 457.4 630.2 457.9 630.3 458.2 630.4 458.4 630.5 458.9 630.6 459.4 630.8 459.6 630.9 459.9 631.0 460.4 631.2 460.9 631.4 460.9 631.4 461.4 631.6 461.9 631.9 462.0 631.9 462.4 632.1 462.9 632.4 462.9 632.4 463.4 632.7 463.7 632.9 463.9 633.0 464.4 633.4 464.4 633.4 464.9 633.9 465.0 633.9 465.4 634.4 465.4 634.4 465.8 634.9 465.9 635.1 466.0 635.4 466.2 635.9 466.3 636.4 466.2 636.9 466.1 637.4 465.9 637.9 465.9 637.9 465.6 638.4 465.4 638.6 465.2 638.9 464.9 639.2 464.6 639.4 464.4 639.6 464.0 639.9 463.9 640.0 463.4 640.3 463.2 640.4 462.9 640.6 462.4 640.9 462.4 640.9 461.9 641.1 461.4 641.4 461.3 641.4 460.9 641.6 460.4 641.8 460.2 641.9 459.9 642.0 459.4 642.2 458.9 642.4 458.8 642.4 458.4 642.5 457.9 642.7 457.4 642.8 457.2 642.9 456.9 643.0 456.4 643.1 455.9 643.3 455.4 643.4 455.3 643.4 454.9 643.5 454.4 643.6 453.9 643.7 453.4 643.8 453.0 643.9 452.9 643.9 452.4 644.0 451.9 644.1 451.4 644.2 450.9 644.3 450.4 644.3 450.0 644.4 449.9 644.4 449.4 644.5 448.9 644.6 448.4 644.6 447.9 644.7 447.4 644.7 446.9 644.8 446.4 644.8 445.9 644.9 445.4 644.9 445.3 644.9 444.9 644.9 444.4 645.0 443.9 645.0 443.4 645.0 442.9 645.0 442.4 645.1 441.9 645.1 441.4 645.1 440.9 645.1 440.4 645.1 439.9 645.1 439.4 645.1 438.9 645.1 438.4 645.1 437.9 645.1 437.4 645.1 436.9 645.0 436.4 645.0 435.9 645.0 435.4 645.0 434.9 644.9 434.7 644.9 434.4 644.9 433.9 644.8 433.4 644.8 432.9 644.8 432.4 644.7 431.9 644.6 431.4 644.6 430.9 644.5 430.4 644.4 430.1 644.4 429.9 644.4 429.4 644.3 428.9 644.2 428.4 644.1 427.9 644.0 427.4 643.9 427.2 643.9 426.9 643.8 426.4 643.7 425.9 643.6 425.4 643.5 424.9 643.4 424.9 643.4 424.4 643.3 423.9 643.1 423.4 643.0 423.1 642.9 422.9 642.8 422.4 642.7 421.9 642.5 421.5 642.4 421.4 642.4 420.9 642.2 420.4 642.0 420.1 641.9 419.9 641.8 419.4 641.6 418.9 641.4 418.8 641.4 418.4 641.2 417.9 641.0 417.7 640.9 417.4 640.7 416.9 640.5 416.8 640.4 416.4 640.2 415.9 639.9 415.9 639.9 415.4 639.6 415.1 639.4 414.9 639.3 414.4 638.9 414.4 638.9 413.9 638.5 413.8 638.4 413.4 638.0 413.3 637.9 412.9 637.4 412.9 637.3 412.6 636.9 412.4 636.4 412.4 636.4 412.3 635.9 412.2 635.4 412.2 634.9 412.3 634.4 412.4 634.2 412.5 633.9 412.9 633.4 412.9 633.4 413.3 632.9 413.4 632.8 413.9 632.4 413.9 632.4 414.4 632.1 414.7 631.9 414.9 631.8 415.4 631.5 415.6 631.4 415.9 631.3 416.4 631.1 416.8 630.9 416.9 630.9 417.4 630.7 417.9 630.5 418.2 630.4 418.4 630.3 418.9 630.2 419.4 630.0 419.9 629.9 419.9 629.9 420.4 629.7 420.9 629.6 421.4 629.5 421.7 629.4 421.9 629.3 422.4 629.2 422.9 629.1 423.4 629.0 423.7 628.9 423.9 628.9 424.4 628.7 424.9 628.6 425.4 628.5 425.9 628.4 426.1 628.4 426.4 628.4 426.9 628.3 427.4 628.2 427.9 628.1 428.4 628.0 428.9 628.0 429.4 627.9 429.5 627.9Z" fill="#d0e2f2" fill-rule="evenodd"/>
<path d="M433.0 629.4 433.4 629.4 433.9 629.3 434.4 629.3 434.9 629.3 435.4 629.2 435.9 629.2 436.4 629.2 436.9 629.2 437.4 629.2 437.9 629.2 438.4 629.2 438.9 629.2 439.4 629.2 439.9 629.2 440.4 629.2 440.9 629.2 441.4 629.2 441.9 629.3 442.4 629.3 442.9 629.3 443.4 629.4 443.7 629.4 443.9 629.4 444.4 629.5 444.9 629.5 445.4 629.6 445.9 629.6 446.4 629.7 446.9 629.7 447.4 629.8 447.9 629.9 448.0 629.9 448.4 630.0 448.9 630.0 449.4 630.1 449.9 630.2 450.4 630.3 450.8 630.4 450.9 630.4 451.4 630.5 451.9 630.7 452.4 630.8 452.9 630.9 452.9 630.9 453.4 631.0 453.9 631.2 454.4 631.3 454.6 631.4 454.9 631.5 455.4 631.7 455.9 631.9 456.0 631.9 456.4 632.1 456.9 632.3 457.1 632.4 457.4 632.5 457.9 632.8 458.1 632.9 458.4 633.1 458.9 633.4 459.0 633.4 459.4 633.7 459.6 633.9 459.9 634.1 460.2 634.4 460.4 634.7 460.6 634.9 460.9 635.4 460.9 635.4 461.1 635.9 461.2 636.4 461.1 636.9 461.0 637.4 460.9 637.6 460.8 637.9 460.4 638.4 460.4 638.4 459.9 638.9 459.9 638.9 459.4 639.3 459.3 639.4 458.9 639.7 458.6 639.9 458.4 640.0 457.9 640.3 457.7 640.4 457.4 640.5 456.9 640.8 456.6 640.9 456.4 641.0 455.9 641.2 455.4 641.4 455.3 641.4 454.9 641.5 454.4 641.7 453.9 641.9 453.8 641.9 453.4 642.0 452.9 642.1 452.4 642.3 451.9 642.4 451.9 642.4 451.4 642.5 450.9 642.6 450.4 642.7 449.9 642.8 449.5 642.9 449.4 642.9 448.9 643.0 448.4 643.1 447.9 643.2 447.4 643.2 446.9 643.3 446.4 643.3 445.9 643.4 445.9 643.4 445.4 643.5 444.9 643.5 444.4 643.5 443.9 643.6 443.4 643.6 442.9 643.7 442.4 643.7 441.9 643.7 441.4 643.7 440.9 643.7 440.4 643.7 439.9 643.7 439.4 643.7 438.9 643.7 438.4 643.7 437.9 643.7 437.4 643.7 436.9 643.7 436.4 643.7 435.9 643.6 435.4 643.6 434.9 643.6 434.4 643.5 433.9 643.5 433.4 643.4 433.1 643.4 432.9 643.4 432.4 643.3 431.9 643.3 431.4 643.2 430.9 643.1 430.4 643.0 429.9 642.9 429.7 642.9 429.4 642.9 428.9 642.8 428.4 642.7 427.9 642.5 427.4 642.4 427.3 642.4 426.9 642.3 426.4 642.2 425.9 642.0 425.5 641.9 425.4 641.9 424.9 641.7 424.4 641.6 424.0 641.4 423.9 641.4 423.4 641.2 422.9 641.0 422.7 640.9 422.4 640.8 421.9 640.5 421.6 640.4 421.4 640.3 420.9 640.0 420.7 639.9 420.4 639.7 420.0 639.4 419.9 639.4 419.4 639.0 419.3 638.9 418.9 638.5 418.8 638.4 418.4 638.0 418.3 637.9 418.0 637.4 417.9 637.1 417.8 636.9 417.7 636.4 417.7 635.9 417.8 635.4 417.9 635.2 418.1 634.9 418.4 634.4 418.4 634.4 418.9 633.9 418.9 633.9 419.4 633.5 419.5 633.4 419.9 633.1 420.2 632.9 420.4 632.8 420.9 632.5 421.1 632.4 421.4 632.3 421.9 632.0 422.2 631.9 422.4 631.8 422.9 631.6 423.4 631.4 423.5 631.4 423.9 631.3 424.4 631.1 424.9 630.9 425.0 630.9 425.4 630.8 425.9 630.6 426.4 630.5 426.9 630.4 426.9 630.4 427.4 630.3 427.9 630.2 428.4 630.1 428.9 630.0 429.3 629.9 429.4 629.9 429.9 629.8 430.4 629.7 430.9 629.6 431.4 629.6 431.9 629.5 432.4 629.5 432.9 629.4 433.0 629.4Z" fill="#b5d4e9" fill-rule="evenodd"/>
<path d="M432.8 630.9 432.9 630.9 433.4 630.8 433.9 630.8 434.4 630.7 434.9 630.7 435.4 630.6 435.9 630.6 436.4 630.6 436.9 630.6 437.4 630.6 437.9 630.6 438.4 630.5 438.9 630.5 439.4 630.6 439.9 630.6 440.4 630.6 440.9 630.6 441.4 630.6 441.9 630.6 442.4 630.7 442.9 630.7 443.4 630.8 443.9 630.8 444.4 630.9 444.6 630.9 444.9 630.9 445.4 631.0 445.9 631.1 446.4 631.1 446.9 631.2 447.4 631.3 447.9 631.4 447.9 631.4 448.4 631.5 448.9 631.6 449.4 631.7 449.9 631.9 450.0 631.9 450.4 632.0 450.9 632.1 451.4 632.3 451.7 632.4 451.9 632.5 452.4 632.7 452.9 632.9 453.0 632.9 453.4 633.1 453.9 633.3 454.1 633.4 454.4 633.6 454.9 633.9 454.9 633.9 455.4 634.3 455.6 634.4 455.9 634.7 456.1 634.9 456.4 635.3 456.5 635.4 456.7 635.9 456.8 636.4 456.8 636.9 456.6 637.4 456.4 637.8 456.3 637.9 455.9 638.4 455.9 638.4 455.4 638.9 455.4 638.9 454.9 639.2 454.6 639.4 454.4 639.5 453.9 639.8 453.7 639.9 453.4 640.1 452.9 640.3 452.6 640.4 452.4 640.5 451.9 640.7 451.4 640.8 451.2 640.9 450.9 641.0 450.4 641.1 449.9 641.3 449.4 641.4 449.4 641.4 448.9 641.5 448.4 641.6 447.9 641.7 447.4 641.8 447.0 641.9 446.9 641.9 446.4 642.0 445.9 642.1 445.4 642.2 444.9 642.2 444.4 642.3 443.9 642.3 443.4 642.4 443.1 642.4 442.9 642.4 442.4 642.5 441.9 642.5 441.4 642.5 440.9 642.5 440.4 642.5 439.9 642.6 439.4 642.6 438.9 642.6 438.4 642.6 437.9 642.6 437.4 642.5 436.9 642.5 436.4 642.5 435.9 642.5 435.4 642.4 435.0 642.4 434.9 642.4 434.4 642.3 433.9 642.3 433.4 642.2 432.9 642.2 432.4 642.1 431.9 642.0 431.4 641.9 431.1 641.9 430.9 641.9 430.4 641.8 429.9 641.7 429.4 641.6 428.9 641.4 428.8 641.4 428.4 641.3 427.9 641.2 427.4 641.0 427.1 640.9 426.9 640.8 426.4 640.7 425.9 640.5 425.7 640.4 425.4 640.3 424.9 640.0 424.6 639.9 424.4 639.8 423.9 639.5 423.7 639.4 423.4 639.2 423.0 638.9 422.9 638.8 422.5 638.4 422.4 638.3 422.0 637.9 421.9 637.7 421.8 637.4 421.6 636.9 421.5 636.4 421.6 635.9 421.8 635.4 421.9 635.3 422.2 634.9 422.4 634.7 422.7 634.4 422.9 634.2 423.3 633.9 423.4 633.8 423.9 633.5 424.1 633.4 424.4 633.2 424.9 633.0 425.1 632.9 425.4 632.8 425.9 632.6 426.3 632.4 426.4 632.4 426.9 632.2 427.4 632.0 427.8 631.9 427.9 631.9 428.4 631.7 428.9 631.6 429.4 631.5 429.8 631.4 429.9 631.4 430.4 631.3 430.9 631.2 431.4 631.1 431.9 631.0 432.4 631.0 432.8 630.9Z" fill="#89bedc" fill-rule="evenodd"/>
<path d="M435.8 631.9 435.9 631.9 436.4 631.9 436.9 631.8 437.4 631.8 437.9 631.8 438.4 631.8 438.9 631.8 439.4 631.8 439.9 631.8 440.4 631.8 440.9 631.9 441.4 631.9 441.4 631.9 441.9 631.9 442.4 632.0 442.9 632.0 443.4 632.1 443.9 632.2 444.4 632.2 444.9 632.3 445.4 632.4 445.4 632.4 445.9 632.5 446.4 632.6 446.9 632.7 447.4 632.8 447.6 632.9 447.9 633.0 448.4 633.1 448.9 633.3 449.2 633.4 449.4 633.5 449.9 633.7 450.4 633.9 450.4 633.9 450.9 634.2 451.3 634.4 451.4 634.5 451.9 634.9 451.9 634.9 452.4 635.4 452.4 635.4 452.7 635.9 452.9 636.4 452.9 636.9 452.7 637.4 452.4 637.9 452.4 637.9 451.9 638.4 451.9 638.4 451.4 638.8 451.2 638.9 450.9 639.1 450.4 639.3 450.3 639.4 449.9 639.6 449.4 639.8 449.1 639.9 448.9 640.0 448.4 640.1 447.9 640.3 447.5 640.4 447.4 640.4 446.9 640.6 446.4 640.7 445.9 640.8 445.4 640.9 445.3 640.9 444.9 641.0 444.4 641.1 443.9 641.1 443.4 641.2 442.9 641.3 442.4 641.3 441.9 641.3 441.4 641.4 441.1 641.4 440.9 641.4 440.4 641.4 439.9 641.5 439.4 641.5 438.9 641.5 438.4 641.5 437.9 641.5 437.4 641.5 436.9 641.4 436.4 641.4 436.2 641.4 435.9 641.4 435.4 641.3 434.9 641.3 434.4 641.2 433.9 641.2 433.4 641.1 432.9 641.0 432.4 641.0 432.1 640.9 431.9 640.9 431.4 640.8 430.9 640.7 430.4 640.5 429.9 640.4 429.9 640.4 429.4 640.3 428.9 640.1 428.4 639.9 428.4 639.9 427.9 639.7 427.4 639.5 427.2 639.4 426.9 639.2 426.4 638.9 426.4 638.9 425.9 638.6 425.7 638.4 425.4 638.1 425.2 637.9 424.9 637.4 424.9 637.4 424.7 636.9 424.7 636.4 424.9 635.9 424.9 635.9 425.2 635.4 425.4 635.2 425.6 634.9 425.9 634.7 426.3 634.4 426.4 634.3 426.9 634.0 427.2 633.9 427.4 633.8 427.9 633.6 428.3 633.4 428.4 633.4 428.9 633.2 429.4 633.0 429.8 632.9 429.9 632.9 430.4 632.7 430.9 632.6 431.4 632.5 431.9 632.4 431.9 632.4 432.4 632.3 432.9 632.2 433.4 632.1 433.9 632.1 434.4 632.0 434.9 632.0 435.4 631.9 435.8 631.9Z" fill="#549fcd" fill-rule="evenodd"/>
<path d="M433.4 633.4 433.9 633.3 434.4 633.2 434.9 633.2 435.4 633.1 435.9 633.1 436.4 633.0 436.9 633.0 437.4 633.0 437.9 633.0 438.4 633.0 438.9 633.0 439.4 633.0 439.9 633.0 440.4 633.0 440.9 633.1 441.4 633.1 441.9 633.2 442.4 633.2 442.9 633.3 443.4 633.4 443.4 633.4 443.9 633.5 444.4 633.6 444.9 633.7 445.4 633.9 445.6 633.9 445.9 634.0 446.4 634.2 446.9 634.4 447.0 634.4 447.4 634.6 447.9 634.9 447.9 634.9 448.4 635.3 448.6 635.4 448.9 635.8 449.0 635.9 449.2 636.4 449.3 636.9 449.1 637.4 448.9 637.6 448.7 637.9 448.4 638.1 448.1 638.4 447.9 638.5 447.4 638.8 447.1 638.9 446.9 639.0 446.4 639.2 445.9 639.4 445.9 639.4 445.4 639.5 444.9 639.7 444.4 639.8 444.0 639.9 443.9 639.9 443.4 640.0 442.9 640.1 442.4 640.2 441.9 640.2 441.4 640.3 440.9 640.3 440.4 640.4 439.9 640.4 439.8 640.4 439.4 640.4 438.9 640.4 438.4 640.4 437.9 640.4 437.4 640.4 436.9 640.4 436.9 640.4 436.4 640.4 435.9 640.3 435.4 640.3 434.9 640.2 434.4 640.2 433.9 640.1 433.4 640.0 432.9 639.9 432.8 639.9 432.4 639.8 431.9 639.7 431.4 639.5 431.0 639.4 430.9 639.4 430.4 639.2 429.9 639.0 429.7 638.9 429.4 638.7 428.9 638.4 428.8 638.4 428.4 638.0 428.2 637.9 427.9 637.5 427.9 637.4 427.7 636.9 427.7 636.4 427.9 636.0 427.9 635.9 428.4 635.4 428.4 635.4 428.9 635.0 429.0 634.9 429.4 634.7 429.9 634.4 430.0 634.4 430.4 634.2 430.9 634.0 431.3 633.9 431.4 633.9 431.9 633.7 432.4 633.6 432.9 633.5 433.4 633.4 433.4 633.4Z" fill="#2676b8" fill-rule="evenodd"/>
<path d="M435.9 634.4 436.4 634.4 436.9 634.3 437.4 634.3 437.9 634.3 438.4 634.3 438.9 634.3 439.4 634.3 439.9 634.3 440.4 634.4 440.5 634.4 440.9 634.5 441.4 634.5 441.9 634.6 442.4 634.7 442.9 634.9 443.0 634.9 443.4 635.1 443.9 635.3 444.2 635.4 444.4 635.5 444.9 635.9 444.9 635.9 445.3 636.4 445.4 636.9 445.1 637.4 444.9 637.6 444.6 637.9 444.4 638.0 443.9 638.2 443.6 638.4 443.4 638.5 442.9 638.6 442.4 638.8 441.9 638.9 441.8 638.9 441.4 639.0 440.9 639.0 440.4 639.1 439.9 639.2 439.4 639.2 438.9 639.2 438.4 639.2 437.9 639.2 437.4 639.2 436.9 639.2 436.4 639.2 435.9 639.1 435.4 639.0 434.9 639.0 434.5 638.9 434.4 638.9 433.9 638.7 433.4 638.6 432.9 638.4 432.8 638.4 432.4 638.2 431.9 637.9 431.8 637.9 431.4 637.5 431.3 637.4 431.0 636.9 431.1 636.4 431.4 636.0 431.5 635.9 431.9 635.6 432.2 635.4 432.4 635.3 432.9 635.1 433.4 634.9 433.4 634.9 433.9 634.8 434.4 634.7 434.9 634.6 435.4 634.5 435.9 634.4 435.9 634.4Z" fill="#08488e" fill-rule="evenodd"/>
</g>
<path d="M69.20 84.70 L69.56 84.70 L69.92 84.69 L70.28 84.69 L70.64 84.68 L71.00 84.66 L71.36 84.65 L71.72 84.63 L72.08 84.60 L72.44 84.58 L72.80 84.55 L73.16 84.52 L73.52 84.49 L73.88 84.45 L74.24 84.42 L74.60 84.37 L74.96 84.33 L75.32 84.28 L75.68 84.19 L76.04 84.04 L76.40 83.85 L76.76 83.63 L77.12 83.37 L77.48 83.09 L77.84 82.79 L78.20 82.49 L78.56 82.19 L78.92 81.89 L79.28 81.58 L79.64 81.26 L80.00 80.92 L80.36 80.55 L80.72 80.17 L81.08 79.76 L81.44 79.34 L81.80 78.89 L82.16 78.42 L82.52 77.92 L82.87 77.39 L83.23 76.81 L83.59 76.18 L83.95 75.50 L84.31 74.79 L84.67 74.04 L85.03 73.27 L85.39 72.47 L85.75 71.66 L86.11 70.83 L86.47 69.99 L86.83 69.11 L87.19 68.18 L87.55 67.22 L87.91 66.22 L88.27 65.21 L88.63 64.17 L88.99 63.13 L89.35 62.08 L89.71 61.03 L90.07 59.99 L90.43 58.91 L90.79 57.79 L91.15 56.64 L91.51 55.47 L91.87 54.31 L92.23 53.17 L92.59 52.07 L92.95 51.03 L93.31 50.05 L93.67 49.17 L94.03 48.35 L94.39 47.54 L94.75 46.77 L95.11 46.02 L95.47 45.32 L95.83 44.67 L96.19 44.08 L96.55 43.55 L96.91 43.09 L97.27 42.66 L97.63 42.24 L97.99 41.82 L98.35 41.42 L98.71 41.05 L99.07 40.72 L99.43 40.44 L99.79 40.22 L100.15 40.07 L100.51 40.00 L100.87 40.02 L101.23 40.10 L101.59 40.23 L101.95 40.40 L102.31 40.61 L102.67 40.84 L103.03 41.09 L103.39 41.34 L103.75 41.60 L104.11 41.85 L104.47 42.14 L104.83 42.47 L105.19 42.83 L105.55 43.21 L105.91 43.61 L106.27 44.01 L106.63 44.40 L106.99 44.79 L107.35 45.16 L107.71 45.50 L108.07 45.85 L108.43 46.21 L108.79 46.58 L109.15 46.95 L109.51 47.31 L109.86 47.64 L110.22 47.95 L110.58 48.21 L110.94 48.44 L111.30 48.60 L111.66 48.74 L112.02 48.87 L112.38 48.99 L112.74 49.11 L113.10 49.21 L113.46 49.30 L113.82 49.38 L114.18 49.44 L114.54 49.48 L114.90 49.50 L115.26 49.50 L115.62 49.49 L115.98 49.47 L116.34 49.44 L116.70 49.41 L117.06 49.37 L117.42 49.33 L117.78 49.28 L118.14 49.22 L118.50 49.17 L118.86 49.10 L119.22 49.04 L119.58 48.98 L119.94 48.91 L120.30 48.83 L120.66 48.73 L121.02 48.61 L121.38 48.47 L121.74 48.31 L122.10 48.14 L122.46 47.97 L122.82 47.79 L123.18 47.62 L123.54 47.45 L123.90 47.29 L124.26 47.14 L124.62 47.01 L124.98 46.91 L125.34 46.81 L125.70 46.73 L126.06 46.65 L126.42 46.58 L126.78 46.51 L127.14 46.45 L127.50 46.38 L127.86 46.32 L128.22 46.26 L128.58 46.19 L128.94 46.13 L129.30 46.06 L129.66 45.98 L130.02 45.90 L130.38 45.81 L130.74 45.72 L131.10 45.63 L131.46 45.54 L131.82 45.45 L132.18 45.35 L132.54 45.25 L132.90 45.15 L133.26 45.04 L133.62 44.92 L133.98 44.80 L134.34 44.67 L134.70 44.53 L135.06 44.38 L135.42 44.21 L135.78 44.03 L136.14 43.84 L136.49 43.62 L136.85 43.40 L137.21 43.15 L137.57 42.90 L137.93 42.62 L138.29 42.34 L138.65 42.04 L139.01 41.73 L139.37 41.40 L139.73 41.06 L140.09 40.70 L140.45 40.29 L140.81 39.82 L141.17 39.31 L141.53 38.77 L141.89 38.20 L142.25 37.62 L142.61 37.03 L142.97 36.44 L143.33 35.86 L143.69 35.31 L144.05 34.78 L144.41 34.22 L144.77 33.63 L145.13 33.03 L145.49 32.44 L145.85 31.87 L146.21 31.33 L146.57 30.84 L146.93 30.42 L147.29 30.08 L147.65 29.82 L148.01 29.56 L148.37 29.31 L148.73 29.08 L149.09 28.87 L149.45 28.71 L149.81 28.58 L150.17 28.51 L150.53 28.50 L150.89 28.55 L151.25 28.65 L151.61 28.80 L151.97 28.99 L152.33 29.21 L152.69 29.46 L153.05 29.72 L153.41 30.01 L153.77 30.38 L154.13 30.90 L154.49 31.55 L154.85 32.29 L155.21 33.11 L155.57 33.97 L155.93 34.85 L156.29 35.73 L156.65 36.61 L157.01 37.55 L157.37 38.55 L157.73 39.60 L158.09 40.70 L158.45 41.82 L158.81 42.97 L159.17 44.14 L159.53 45.32 L159.89 46.55 L160.25 47.85 L160.61 49.17 L160.97 50.51 L161.33 51.84 L161.69 53.15 L162.05 54.40 L162.41 55.64 L162.77 56.88 L163.13 58.10 L163.48 59.31 L163.84 60.50 L164.20 61.68 L164.56 62.84 L164.92 63.98 L165.28 65.11 L165.64 66.25 L166.00 67.39 L166.36 68.50 L166.72 69.59 L167.08 70.63 L167.44 71.63 L167.80 72.56 L168.16 73.44 L168.52 74.30 L168.88 75.13 L169.24 75.94 L169.60 76.71 L169.96 77.45 L170.32 78.15 L170.68 78.80 L171.04 79.40 L171.40 79.95 L171.76 80.47 L172.12 80.96 L172.48 81.43 L172.84 81.87 L173.20 82.28 L173.56 82.66 L173.92 82.99 L174.28 83.29 L174.64 83.55 L175.00 83.80 L175.36 84.03 L175.72 84.24 L176.08 84.43 L176.44 84.58 L176.80 84.70 L176.80 84.70 L176.44 84.82 L176.08 84.97 L175.72 85.16 L175.36 85.37 L175.00 85.60 L174.64 85.85 L174.28 86.11 L173.92 86.41 L173.56 86.74 L173.20 87.12 L172.84 87.53 L172.48 87.97 L172.12 88.44 L171.76 88.93 L171.40 89.45 L171.04 90.00 L170.68 90.60 L170.32 91.25 L169.96 91.95 L169.60 92.69 L169.24 93.46 L168.88 94.27 L168.52 95.10 L168.16 95.96 L167.80 96.84 L167.44 97.77 L167.08 98.77 L166.72 99.81 L166.36 100.90 L166.00 102.01 L165.64 103.15 L165.28 104.29 L164.92 105.42 L164.56 106.56 L164.20 107.72 L163.84 108.90 L163.48 110.09 L163.13 111.30 L162.77 112.52 L162.41 113.76 L162.05 115.00 L161.69 116.25 L161.33 117.56 L160.97 118.89 L160.61 120.23 L160.25 121.55 L159.89 122.85 L159.53 124.08 L159.17 125.26 L158.81 126.43 L158.45 127.58 L158.09 128.70 L157.73 129.80 L157.37 130.85 L157.01 131.85 L156.65 132.79 L156.29 133.67 L155.93 134.55 L155.57 135.43 L155.21 136.29 L154.85 137.11 L154.49 137.85 L154.13 138.50 L153.77 139.02 L153.41 139.39 L153.05 139.68 L152.69 139.94 L152.33 140.19 L151.97 140.41 L151.61 140.60 L151.25 140.75 L150.89 140.85 L150.53 140.90 L150.17 140.89 L149.81 140.82 L149.45 140.69 L149.09 140.53 L148.73 140.32 L148.37 140.09 L148.01 139.84 L147.65 139.58 L147.29 139.32 L146.93 138.98 L146.57 138.56 L146.21 138.07 L145.85 137.53 L145.49 136.96 L145.13 136.37 L144.77 135.77 L144.41 135.18 L144.05 134.62 L143.69 134.09 L143.33 133.54 L142.97 132.96 L142.61 132.37 L142.25 131.78 L141.89 131.20 L141.53 130.63 L141.17 130.09 L140.81 129.58 L140.45 129.11 L140.09 128.70 L139.73 128.34 L139.37 128.00 L139.01 127.67 L138.65 127.36 L138.29 127.06 L137.93 126.78 L137.57 126.50 L137.21 126.25 L136.85 126.00 L136.49 125.78 L136.14 125.56 L135.78 125.37 L135.42 125.19 L135.06 125.02 L134.70 124.87 L134.34 124.73 L133.98 124.60 L133.62 124.48 L133.26 124.36 L132.90 124.25 L132.54 124.15 L132.18 124.05 L131.82 123.95 L131.46 123.86 L131.10 123.77 L130.74 123.68 L130.38 123.59 L130.02 123.50 L129.66 123.42 L129.30 123.34 L128.94 123.27 L128.58 123.21 L128.22 123.14 L127.86 123.08 L127.50 123.02 L127.14 122.95 L126.78 122.89 L126.42 122.82 L126.06 122.75 L125.70 122.67 L125.34 122.59 L124.98 122.49 L124.62 122.39 L124.26 122.26 L123.90 122.11 L123.54 121.95 L123.18 121.78 L122.82 121.61 L122.46 121.43 L122.10 121.26 L121.74 121.09 L121.38 120.93 L121.02 120.79 L120.66 120.67 L120.30 120.57 L119.94 120.49 L119.58 120.42 L119.22 120.36 L118.86 120.30 L118.50 120.23 L118.14 120.18 L117.78 120.12 L117.42 120.07 L117.06 120.03 L116.70 119.99 L116.34 119.96 L115.98 119.93 L115.62 119.91 L115.26 119.90 L114.90 119.90 L114.54 119.92 L114.18 119.96 L113.82 120.02 L113.46 120.10 L113.10 120.19 L112.74 120.29 L112.38 120.41 L112.02 120.53 L111.66 120.66 L111.30 120.80 L110.94 120.96 L110.58 121.19 L110.22 121.45 L109.86 121.76 L109.51 122.09 L109.15 122.45 L108.79 122.82 L108.43 123.19 L108.07 123.55 L107.71 123.90 L107.35 124.24 L106.99 124.61 L106.63 125.00 L106.27 125.39 L105.91 125.79 L105.55 126.19 L105.19 126.57 L104.83 126.93 L104.47 127.26 L104.11 127.55 L103.75 127.80 L103.39 128.06 L103.03 128.31 L102.67 128.56 L102.31 128.79 L101.95 129.00 L101.59 129.17 L101.23 129.30 L100.87 129.38 L100.51 129.40 L100.15 129.33 L99.79 129.18 L99.43 128.96 L99.07 128.68 L98.71 128.35 L98.35 127.98 L97.99 127.58 L97.63 127.16 L97.27 126.74 L96.91 126.31 L96.55 125.85 L96.19 125.32 L95.83 124.73 L95.47 124.08 L95.11 123.38 L94.75 122.63 L94.39 121.86 L94.03 121.05 L93.67 120.23 L93.31 119.35 L92.95 118.37 L92.59 117.33 L92.23 116.23 L91.87 115.09 L91.51 113.93 L91.15 112.76 L90.79 111.61 L90.43 110.49 L90.07 109.41 L89.71 108.37 L89.35 107.32 L88.99 106.27 L88.63 105.23 L88.27 104.19 L87.91 103.18 L87.55 102.18 L87.19 101.22 L86.83 100.29 L86.47 99.41 L86.11 98.57 L85.75 97.74 L85.39 96.93 L85.03 96.13 L84.67 95.36 L84.31 94.61 L83.95 93.90 L83.59 93.22 L83.23 92.59 L82.87 92.01 L82.52 91.48 L82.16 90.98 L81.80 90.51 L81.44 90.06 L81.08 89.64 L80.72 89.23 L80.36 88.85 L80.00 88.48 L79.64 88.14 L79.28 87.82 L78.92 87.51 L78.56 87.21 L78.20 86.91 L77.84 86.61 L77.48 86.31 L77.12 86.03 L76.76 85.77 L76.40 85.55 L76.04 85.36 L75.68 85.21 L75.32 85.12 L74.96 85.07 L74.60 85.03 L74.24 84.98 L73.88 84.95 L73.52 84.91 L73.16 84.88 L72.80 84.85 L72.44 84.82 L72.08 84.80 L71.72 84.77 L71.36 84.75 L71.00 84.74 L70.64 84.72 L70.28 84.71 L69.92 84.71 L69.56 84.70 L69.20 84.70Z" fill="#df9b21" stroke="#444444" stroke-width="1.25" stroke-linejoin="round"/>
<line x1="81.70" y1="84.70" x2="163.90" y2="84.70" stroke="#444444" stroke-width="1.5"/>
<rect x="103.40" y="82.00" width="47.60" height="5.20" fill="#444444"/>
<line x1="129.30" y1="82.30" x2="129.30" y2="86.90" stroke="#ffffff" stroke-width="1.1"/>
<path d="M230.10 249.90 L230.48 246.17 L230.86 243.56 L231.24 241.28 L231.62 239.18 L232.00 237.15 L232.39 235.10 L232.77 233.12 L233.15 231.18 L233.53 229.28 L233.91 227.37 L234.29 225.44 L234.67 223.51 L235.05 221.58 L235.43 219.65 L235.81 217.70 L236.19 215.73 L236.58 213.67 L236.96 211.54 L237.34 209.41 L237.72 207.32 L238.10 205.36 L238.48 203.54 L238.86 201.69 L239.24 199.87 L239.62 198.23 L240.00 196.91 L240.39 196.04 L240.77 195.35 L241.15 194.76 L241.53 194.35 L241.91 194.20 L242.29 194.37 L242.67 194.82 L243.05 195.47 L243.43 196.26 L243.81 197.11 L244.19 198.10 L244.58 199.48 L244.96 201.11 L245.34 202.87 L245.72 204.61 L246.10 206.25 L246.48 207.93 L246.86 209.65 L247.24 211.36 L247.62 213.03 L248.00 214.62 L248.38 216.15 L248.77 217.67 L249.15 219.16 L249.53 220.59 L249.91 221.94 L250.29 223.17 L250.67 224.29 L251.05 225.34 L251.43 226.35 L251.81 227.31 L252.19 228.21 L252.58 229.06 L252.96 229.84 L253.34 230.55 L253.72 231.19 L254.10 231.78 L254.48 232.33 L254.86 232.84 L255.24 233.33 L255.62 233.79 L256.00 234.23 L256.38 234.66 L256.77 235.08 L257.15 235.49 L257.53 235.91 L257.91 236.33 L258.29 236.75 L258.67 237.16 L259.05 237.56 L259.43 237.96 L259.81 238.35 L260.19 238.74 L260.57 239.11 L260.96 239.49 L261.34 239.85 L261.72 240.21 L262.10 240.56 L262.48 240.91 L262.86 241.25 L263.24 241.60 L263.62 241.96 L264.00 242.33 L264.38 242.70 L264.77 243.06 L265.15 243.41 L265.53 243.76 L265.91 244.08 L266.29 244.38 L266.67 244.66 L267.05 244.90 L267.43 245.11 L267.81 245.27 L268.19 245.40 L268.57 245.52 L268.96 245.63 L269.34 245.73 L269.72 245.83 L270.10 245.92 L270.48 246.01 L270.86 246.09 L271.24 246.16 L271.62 246.23 L272.00 246.30 L272.38 246.36 L272.76 246.42 L273.15 246.48 L273.53 246.53 L273.91 246.59 L274.29 246.64 L274.67 246.69 L275.05 246.73 L275.43 246.77 L275.81 246.81 L276.19 246.85 L276.57 246.89 L276.96 246.92 L277.34 246.96 L277.72 246.99 L278.10 247.02 L278.48 247.05 L278.86 247.08 L279.24 247.11 L279.62 247.15 L280.00 247.18 L280.38 247.21 L280.76 247.25 L281.15 247.29 L281.53 247.33 L281.91 247.37 L282.29 247.41 L282.67 247.46 L283.05 247.51 L283.43 247.56 L283.81 247.61 L284.19 247.67 L284.57 247.72 L284.95 247.78 L285.34 247.84 L285.72 247.90 L286.10 247.96 L286.48 248.02 L286.86 248.08 L287.24 248.14 L287.62 248.20 L288.00 248.26 L288.38 248.32 L288.76 248.38 L289.15 248.43 L289.53 248.49 L289.91 248.54 L290.29 248.59 L290.67 248.63 L291.05 248.68 L291.43 248.73 L291.81 248.78 L292.19 248.83 L292.57 248.88 L292.95 248.92 L293.34 248.97 L293.72 249.01 L294.10 249.05 L294.48 249.09 L294.86 249.12 L295.24 249.15 L295.62 249.18 L296.00 249.20 L296.38 249.22 L296.76 249.23 L297.14 249.25 L297.53 249.26 L297.91 249.28 L298.29 249.29 L298.67 249.31 L299.05 249.32 L299.43 249.33 L299.81 249.34 L300.19 249.35 L300.57 249.36 L300.95 249.37 L301.34 249.38 L301.72 249.39 L302.10 249.40 L302.48 249.41 L302.86 249.41 L303.24 249.42 L303.62 249.43 L304.00 249.43 L304.38 249.44 L304.76 249.45 L305.14 249.45 L305.53 249.46 L305.91 249.46 L306.29 249.47 L306.67 249.47 L307.05 249.48 L307.43 249.49 L307.81 249.49 L308.19 249.50 L308.57 249.50 L308.95 249.51 L309.33 249.51 L309.72 249.52 L310.10 249.52 L310.48 249.52 L310.86 249.53 L311.24 249.53 L311.62 249.53 L312.00 249.54 L312.38 249.54 L312.76 249.54 L313.14 249.55 L313.53 249.55 L313.91 249.55 L314.29 249.55 L314.67 249.55 L315.05 249.55 L315.43 249.55 L315.81 249.55 L316.19 249.55 L316.57 249.55 L316.95 249.54 L317.33 249.54 L317.72 249.54 L318.10 249.53 L318.48 249.53 L318.86 249.53 L319.24 249.52 L319.62 249.52 L320.00 249.51 L320.38 249.51 L320.76 249.50 L321.14 249.50 L321.52 249.49 L321.91 249.49 L322.29 249.48 L322.67 249.48 L323.05 249.48 L323.43 249.47 L323.81 249.47 L324.19 249.46 L324.57 249.46 L324.95 249.46 L325.33 249.46 L325.72 249.45 L326.10 249.45 L326.48 249.45 L326.86 249.45 L327.24 249.45 L327.62 249.45 L328.00 249.45 L328.38 249.46 L328.76 249.46 L329.14 249.47 L329.52 249.48 L329.91 249.49 L330.29 249.50 L330.67 249.51 L331.05 249.52 L331.43 249.53 L331.81 249.54 L332.19 249.55 L332.57 249.57 L332.95 249.58 L333.33 249.60 L333.71 249.61 L334.10 249.63 L334.48 249.64 L334.86 249.66 L335.24 249.67 L335.62 249.69 L336.00 249.70 L336.38 249.72 L336.76 249.73 L337.14 249.75 L337.52 249.77 L337.91 249.79 L338.29 249.81 L338.67 249.83 L339.05 249.85 L339.43 249.87 L339.81 249.90 L340.19 249.92 L340.57 249.95 L340.95 249.97 L341.33 250.00 L341.71 250.03 L342.10 250.05 L342.48 250.08 L342.86 250.11 L343.24 250.14 L343.62 250.17 L344.00 250.20 L344.00 250.20 L343.62 250.23 L343.24 250.26 L342.86 250.29 L342.48 250.32 L342.10 250.35 L341.71 250.37 L341.33 250.40 L340.95 250.43 L340.57 250.45 L340.19 250.48 L339.81 250.50 L339.43 250.53 L339.05 250.55 L338.67 250.57 L338.29 250.59 L337.91 250.61 L337.52 250.63 L337.14 250.65 L336.76 250.67 L336.38 250.68 L336.00 250.70 L335.62 250.71 L335.24 250.73 L334.86 250.74 L334.48 250.76 L334.10 250.77 L333.71 250.79 L333.33 250.80 L332.95 250.82 L332.57 250.83 L332.19 250.85 L331.81 250.86 L331.43 250.87 L331.05 250.88 L330.67 250.89 L330.29 250.90 L329.91 250.91 L329.52 250.92 L329.14 250.93 L328.76 250.94 L328.38 250.94 L328.00 250.95 L327.62 250.95 L327.24 250.95 L326.86 250.95 L326.48 250.95 L326.10 250.95 L325.72 250.95 L325.33 250.94 L324.95 250.94 L324.57 250.94 L324.19 250.94 L323.81 250.93 L323.43 250.93 L323.05 250.92 L322.67 250.92 L322.29 250.92 L321.91 250.91 L321.52 250.91 L321.14 250.90 L320.76 250.90 L320.38 250.89 L320.00 250.89 L319.62 250.88 L319.24 250.88 L318.86 250.87 L318.48 250.87 L318.10 250.87 L317.72 250.86 L317.33 250.86 L316.95 250.86 L316.57 250.85 L316.19 250.85 L315.81 250.85 L315.43 250.85 L315.05 250.85 L314.67 250.85 L314.29 250.85 L313.91 250.85 L313.53 250.85 L313.14 250.85 L312.76 250.86 L312.38 250.86 L312.00 250.86 L311.62 250.87 L311.24 250.87 L310.86 250.87 L310.48 250.88 L310.10 250.88 L309.72 250.88 L309.33 250.89 L308.95 250.89 L308.57 250.90 L308.19 250.90 L307.81 250.91 L307.43 250.91 L307.05 250.92 L306.67 250.93 L306.29 250.93 L305.91 250.94 L305.53 250.94 L305.14 250.95 L304.76 250.95 L304.38 250.96 L304.00 250.97 L303.62 250.97 L303.24 250.98 L302.86 250.99 L302.48 250.99 L302.10 251.00 L301.72 251.01 L301.34 251.02 L300.95 251.03 L300.57 251.04 L300.19 251.05 L299.81 251.06 L299.43 251.07 L299.05 251.08 L298.67 251.09 L298.29 251.11 L297.91 251.12 L297.53 251.14 L297.14 251.15 L296.76 251.17 L296.38 251.18 L296.00 251.20 L295.62 251.22 L295.24 251.25 L294.86 251.28 L294.48 251.31 L294.10 251.35 L293.72 251.39 L293.34 251.43 L292.95 251.48 L292.57 251.52 L292.19 251.57 L291.81 251.62 L291.43 251.67 L291.05 251.72 L290.67 251.77 L290.29 251.81 L289.91 251.86 L289.53 251.91 L289.15 251.97 L288.76 252.02 L288.38 252.08 L288.00 252.14 L287.62 252.20 L287.24 252.26 L286.86 252.32 L286.48 252.38 L286.10 252.44 L285.72 252.50 L285.34 252.56 L284.95 252.62 L284.57 252.68 L284.19 252.73 L283.81 252.79 L283.43 252.84 L283.05 252.89 L282.67 252.94 L282.29 252.99 L281.91 253.03 L281.53 253.07 L281.15 253.11 L280.76 253.15 L280.38 253.19 L280.00 253.22 L279.62 253.25 L279.24 253.29 L278.86 253.32 L278.48 253.35 L278.10 253.38 L277.72 253.41 L277.34 253.44 L276.96 253.48 L276.57 253.51 L276.19 253.55 L275.81 253.59 L275.43 253.63 L275.05 253.67 L274.67 253.71 L274.29 253.76 L273.91 253.81 L273.53 253.87 L273.15 253.92 L272.76 253.98 L272.38 254.04 L272.00 254.10 L271.62 254.17 L271.24 254.24 L270.86 254.31 L270.48 254.39 L270.10 254.48 L269.72 254.57 L269.34 254.67 L268.96 254.77 L268.57 254.88 L268.19 255.00 L267.81 255.13 L267.43 255.29 L267.05 255.50 L266.67 255.74 L266.29 256.02 L265.91 256.32 L265.53 256.64 L265.15 256.99 L264.77 257.34 L264.38 257.70 L264.00 258.07 L263.62 258.44 L263.24 258.80 L262.86 259.15 L262.48 259.49 L262.10 259.84 L261.72 260.19 L261.34 260.55 L260.96 260.91 L260.57 261.29 L260.19 261.66 L259.81 262.05 L259.43 262.44 L259.05 262.84 L258.67 263.24 L258.29 263.65 L257.91 264.07 L257.53 264.49 L257.15 264.91 L256.77 265.32 L256.38 265.74 L256.00 266.17 L255.62 266.61 L255.24 267.07 L254.86 267.56 L254.48 268.07 L254.10 268.62 L253.72 269.21 L253.34 269.85 L252.96 270.56 L252.58 271.34 L252.19 272.19 L251.81 273.09 L251.43 274.05 L251.05 275.06 L250.67 276.11 L250.29 277.23 L249.91 278.46 L249.53 279.81 L249.15 281.24 L248.77 282.73 L248.38 284.25 L248.00 285.78 L247.62 287.37 L247.24 289.04 L246.86 290.75 L246.48 292.47 L246.10 294.15 L245.72 295.79 L245.34 297.53 L244.96 299.29 L244.58 300.92 L244.19 302.30 L243.81 303.29 L243.43 304.14 L243.05 304.93 L242.67 305.58 L242.29 306.03 L241.91 306.20 L241.53 306.05 L241.15 305.64 L240.77 305.05 L240.39 304.36 L240.00 303.49 L239.62 302.17 L239.24 300.53 L238.86 298.71 L238.48 296.86 L238.10 295.04 L237.72 293.08 L237.34 290.99 L236.96 288.86 L236.58 286.73 L236.19 284.67 L235.81 282.70 L235.43 280.75 L235.05 278.82 L234.67 276.89 L234.29 274.96 L233.91 273.03 L233.53 271.12 L233.15 269.22 L232.77 267.28 L232.39 265.30 L232.00 263.25 L231.62 261.22 L231.24 259.12 L230.86 256.84 L230.48 254.23 L230.10 250.50Z" fill="#df9b21" stroke="#444444" stroke-width="1.25" stroke-linejoin="round"/>
<line x1="237.30" y1="250.20" x2="271.00" y2="250.20" stroke="#444444" stroke-width="1.5"/>
<rect x="237.30" y="247.60" width="17.50" height="5.30" fill="#444444"/>
<line x1="243.20" y1="247.90" x2="243.20" y2="252.60" stroke="#ffffff" stroke-width="1.1"/>
<path d="M394.60 415.90 L394.98 415.89 L395.36 415.87 L395.74 415.83 L396.12 415.77 L396.50 415.70 L396.88 415.62 L397.26 415.52 L397.64 415.42 L398.02 415.31 L398.40 415.18 L398.78 415.05 L399.16 414.91 L399.54 414.73 L399.92 414.47 L400.30 414.14 L400.68 413.75 L401.06 413.32 L401.44 412.86 L401.83 412.39 L402.21 411.92 L402.59 411.44 L402.97 410.93 L403.35 410.38 L403.73 409.81 L404.11 409.20 L404.49 408.58 L404.87 407.94 L405.25 407.29 L405.63 406.62 L406.01 405.91 L406.39 405.17 L406.77 404.42 L407.15 403.64 L407.53 402.86 L407.91 402.09 L408.29 401.32 L408.67 400.57 L409.05 399.82 L409.43 399.08 L409.81 398.34 L410.19 397.59 L410.57 396.84 L410.95 396.08 L411.33 395.30 L411.71 394.51 L412.09 393.70 L412.47 392.86 L412.85 392.00 L413.23 391.12 L413.61 390.23 L413.99 389.33 L414.37 388.43 L414.75 387.53 L415.13 386.64 L415.51 385.77 L415.89 384.90 L416.28 384.03 L416.66 383.16 L417.04 382.29 L417.42 381.42 L417.80 380.56 L418.18 379.70 L418.56 378.86 L418.94 378.02 L419.32 377.20 L419.70 376.39 L420.08 375.59 L420.46 374.78 L420.84 373.98 L421.22 373.18 L421.60 372.39 L421.98 371.62 L422.36 370.87 L422.74 370.14 L423.12 369.43 L423.50 368.75 L423.88 368.09 L424.26 367.43 L424.64 366.77 L425.02 366.11 L425.40 365.46 L425.78 364.84 L426.16 364.25 L426.54 363.71 L426.92 363.21 L427.30 362.77 L427.68 362.40 L428.06 362.08 L428.44 361.77 L428.82 361.47 L429.20 361.18 L429.58 360.91 L429.96 360.66 L430.35 360.44 L430.73 360.26 L431.11 360.12 L431.49 360.04 L431.87 360.00 L432.25 360.01 L432.63 360.02 L433.01 360.05 L433.39 360.07 L433.77 360.11 L434.15 360.14 L434.53 360.16 L434.91 360.19 L435.29 360.20 L435.67 360.19 L436.05 360.15 L436.43 360.06 L436.81 359.95 L437.19 359.82 L437.57 359.69 L437.95 359.57 L438.33 359.48 L438.71 359.42 L439.09 359.40 L439.47 359.44 L439.85 359.54 L440.23 359.68 L440.61 359.87 L440.99 360.08 L441.37 360.32 L441.75 360.58 L442.13 360.86 L442.51 361.14 L442.89 361.44 L443.27 361.82 L443.65 362.27 L444.03 362.77 L444.42 363.33 L444.80 363.92 L445.18 364.54 L445.56 365.19 L445.94 365.84 L446.32 366.50 L446.70 367.21 L447.08 367.97 L447.46 368.77 L447.84 369.61 L448.22 370.49 L448.60 371.38 L448.98 372.30 L449.36 373.22 L449.74 374.15 L450.12 375.07 L450.50 375.98 L450.88 376.93 L451.26 377.91 L451.64 378.90 L452.02 379.91 L452.40 380.91 L452.78 381.90 L453.16 382.86 L453.54 383.79 L453.92 384.68 L454.30 385.54 L454.68 386.39 L455.06 387.22 L455.44 388.03 L455.82 388.83 L456.20 389.62 L456.58 390.39 L456.96 391.15 L457.34 391.90 L457.72 392.64 L458.10 393.38 L458.48 394.13 L458.87 394.87 L459.25 395.61 L459.63 396.33 L460.01 397.04 L460.39 397.74 L460.77 398.41 L461.15 399.05 L461.53 399.66 L461.91 400.24 L462.29 400.78 L462.67 401.29 L463.05 401.79 L463.43 402.27 L463.81 402.74 L464.19 403.20 L464.57 403.64 L464.95 404.06 L465.33 404.48 L465.71 404.87 L466.09 405.26 L466.47 405.63 L466.85 405.99 L467.23 406.34 L467.61 406.67 L467.99 406.99 L468.37 407.30 L468.75 407.61 L469.13 407.90 L469.51 408.19 L469.89 408.47 L470.27 408.75 L470.65 409.01 L471.03 409.27 L471.41 409.52 L471.79 409.75 L472.17 409.98 L472.55 410.20 L472.94 410.41 L473.32 410.61 L473.70 410.80 L474.08 410.98 L474.46 411.15 L474.84 411.32 L475.22 411.49 L475.60 411.64 L475.98 411.80 L476.36 411.95 L476.74 412.09 L477.12 412.23 L477.50 412.37 L477.88 412.50 L478.26 412.63 L478.64 412.76 L479.02 412.88 L479.40 413.00 L479.78 413.11 L480.16 413.23 L480.54 413.34 L480.92 413.45 L481.30 413.56 L481.68 413.67 L482.06 413.78 L482.44 413.89 L482.82 413.99 L483.20 414.09 L483.58 414.19 L483.96 414.29 L484.34 414.38 L484.72 414.47 L485.10 414.55 L485.48 414.63 L485.86 414.71 L486.24 414.78 L486.62 414.84 L487.01 414.90 L487.39 414.96 L487.77 415.01 L488.15 415.06 L488.53 415.11 L488.91 415.16 L489.29 415.21 L489.67 415.25 L490.05 415.29 L490.43 415.33 L490.81 415.37 L491.19 415.40 L491.57 415.43 L491.95 415.46 L492.33 415.48 L492.71 415.50 L493.09 415.52 L493.47 415.53 L493.85 415.55 L494.23 415.57 L494.61 415.58 L494.99 415.60 L495.37 415.61 L495.75 415.63 L496.13 415.64 L496.51 415.66 L496.89 415.67 L497.27 415.69 L497.65 415.70 L498.03 415.71 L498.41 415.73 L498.79 415.74 L499.17 415.75 L499.55 415.76 L499.93 415.77 L500.31 415.78 L500.69 415.79 L501.07 415.80 L501.46 415.81 L501.84 415.82 L502.22 415.83 L502.60 415.84 L502.98 415.85 L503.36 415.85 L503.74 415.86 L504.12 415.87 L504.50 415.87 L504.88 415.88 L505.26 415.88 L505.64 415.89 L506.02 415.89 L506.40 415.89 L506.78 415.90 L507.16 415.90 L507.54 415.90 L507.92 415.90 L508.30 415.90 L508.30 415.90 L507.92 415.90 L507.54 415.90 L507.16 415.90 L506.78 415.90 L506.40 415.91 L506.02 415.91 L505.64 415.91 L505.26 415.92 L504.88 415.92 L504.50 415.93 L504.12 415.93 L503.74 415.94 L503.36 415.95 L502.98 415.95 L502.60 415.96 L502.22 415.97 L501.84 415.98 L501.46 415.99 L501.07 416.00 L500.69 416.01 L500.31 416.02 L499.93 416.03 L499.55 416.04 L499.17 416.05 L498.79 416.06 L498.41 416.07 L498.03 416.09 L497.65 416.10 L497.27 416.11 L496.89 416.13 L496.51 416.14 L496.13 416.16 L495.75 416.17 L495.37 416.19 L494.99 416.20 L494.61 416.22 L494.23 416.23 L493.85 416.25 L493.47 416.27 L493.09 416.28 L492.71 416.30 L492.33 416.32 L491.95 416.34 L491.57 416.37 L491.19 416.40 L490.81 416.43 L490.43 416.47 L490.05 416.51 L489.67 416.55 L489.29 416.59 L488.91 416.64 L488.53 416.69 L488.15 416.74 L487.77 416.79 L487.39 416.84 L487.01 416.90 L486.62 416.96 L486.24 417.02 L485.86 417.09 L485.48 417.17 L485.10 417.25 L484.72 417.33 L484.34 417.42 L483.96 417.51 L483.58 417.61 L483.20 417.71 L482.82 417.81 L482.44 417.91 L482.06 418.02 L481.68 418.13 L481.30 418.24 L480.92 418.35 L480.54 418.46 L480.16 418.57 L479.78 418.69 L479.40 418.80 L479.02 418.92 L478.64 419.04 L478.26 419.17 L477.88 419.30 L477.50 419.43 L477.12 419.57 L476.74 419.71 L476.36 419.85 L475.98 420.00 L475.60 420.16 L475.22 420.31 L474.84 420.48 L474.46 420.65 L474.08 420.82 L473.70 421.00 L473.32 421.19 L472.94 421.39 L472.55 421.60 L472.17 421.82 L471.79 422.05 L471.41 422.28 L471.03 422.53 L470.65 422.79 L470.27 423.05 L469.89 423.33 L469.51 423.61 L469.13 423.90 L468.75 424.19 L468.37 424.50 L467.99 424.81 L467.61 425.13 L467.23 425.46 L466.85 425.81 L466.47 426.17 L466.09 426.54 L465.71 426.93 L465.33 427.32 L464.95 427.74 L464.57 428.16 L464.19 428.60 L463.81 429.06 L463.43 429.53 L463.05 430.01 L462.67 430.51 L462.29 431.02 L461.91 431.56 L461.53 432.14 L461.15 432.75 L460.77 433.39 L460.39 434.06 L460.01 434.76 L459.63 435.47 L459.25 436.19 L458.87 436.93 L458.48 437.67 L458.10 438.42 L457.72 439.16 L457.34 439.90 L456.96 440.65 L456.58 441.41 L456.20 442.18 L455.82 442.97 L455.44 443.77 L455.06 444.58 L454.68 445.41 L454.30 446.26 L453.92 447.12 L453.54 448.01 L453.16 448.94 L452.78 449.90 L452.40 450.89 L452.02 451.89 L451.64 452.90 L451.26 453.89 L450.88 454.87 L450.50 455.82 L450.12 456.73 L449.74 457.65 L449.36 458.58 L448.98 459.50 L448.60 460.42 L448.22 461.31 L447.84 462.19 L447.46 463.03 L447.08 463.83 L446.70 464.59 L446.32 465.30 L445.94 465.96 L445.56 466.61 L445.18 467.26 L444.80 467.88 L444.42 468.47 L444.03 469.03 L443.65 469.53 L443.27 469.98 L442.89 470.36 L442.51 470.66 L442.13 470.94 L441.75 471.22 L441.37 471.48 L440.99 471.72 L440.61 471.93 L440.23 472.12 L439.85 472.26 L439.47 472.36 L439.09 472.40 L438.71 472.38 L438.33 472.32 L437.95 472.23 L437.57 472.11 L437.19 471.98 L436.81 471.85 L436.43 471.74 L436.05 471.65 L435.67 471.61 L435.29 471.60 L434.91 471.61 L434.53 471.64 L434.15 471.66 L433.77 471.69 L433.39 471.73 L433.01 471.75 L432.63 471.78 L432.25 471.79 L431.87 471.80 L431.49 471.76 L431.11 471.68 L430.73 471.54 L430.35 471.36 L429.96 471.14 L429.58 470.89 L429.20 470.62 L428.82 470.33 L428.44 470.03 L428.06 469.72 L427.68 469.40 L427.30 469.03 L426.92 468.59 L426.54 468.09 L426.16 467.55 L425.78 466.96 L425.40 466.34 L425.02 465.69 L424.64 465.03 L424.26 464.37 L423.88 463.71 L423.50 463.05 L423.12 462.37 L422.74 461.66 L422.36 460.93 L421.98 460.18 L421.60 459.41 L421.22 458.62 L420.84 457.82 L420.46 457.02 L420.08 456.21 L419.70 455.41 L419.32 454.60 L418.94 453.78 L418.56 452.94 L418.18 452.10 L417.80 451.24 L417.42 450.38 L417.04 449.51 L416.66 448.64 L416.28 447.77 L415.89 446.90 L415.51 446.03 L415.13 445.16 L414.75 444.27 L414.37 443.37 L413.99 442.47 L413.61 441.57 L413.23 440.68 L412.85 439.80 L412.47 438.94 L412.09 438.10 L411.71 437.29 L411.33 436.50 L410.95 435.72 L410.57 434.96 L410.19 434.21 L409.81 433.46 L409.43 432.72 L409.05 431.98 L408.67 431.23 L408.29 430.48 L407.91 429.71 L407.53 428.94 L407.15 428.16 L406.77 427.38 L406.39 426.63 L406.01 425.89 L405.63 425.18 L405.25 424.51 L404.87 423.86 L404.49 423.22 L404.11 422.60 L403.73 421.99 L403.35 421.42 L402.97 420.87 L402.59 420.36 L402.21 419.88 L401.83 419.41 L401.44 418.94 L401.06 418.48 L400.68 418.05 L400.30 417.66 L399.92 417.33 L399.54 417.07 L399.16 416.89 L398.78 416.75 L398.40 416.62 L398.02 416.49 L397.64 416.38 L397.26 416.28 L396.88 416.18 L396.50 416.10 L396.12 416.03 L395.74 415.97 L395.36 415.93 L394.98 415.91 L394.60 415.90Z" fill="#df9b21" stroke="#444444" stroke-width="1.25" stroke-linejoin="round"/>
<line x1="403.30" y1="415.90" x2="476.60" y2="415.90" stroke="#444444" stroke-width="1.5"/>
<rect x="422.20" y="413.20" width="26.00" height="5.10" fill="#444444"/>
<line x1="435.20" y1="413.50" x2="435.20" y2="418.00" stroke="#ffffff" stroke-width="1.1"/>
<path d="M557.00 581.10 L557.39 576.90 L557.78 572.92 L558.18 569.00 L558.57 565.27 L558.96 561.72 L559.35 558.29 L559.74 554.99 L560.14 551.81 L560.53 548.73 L560.92 545.74 L561.31 542.83 L561.70 539.99 L562.10 537.22 L562.49 534.25 L562.88 531.35 L563.27 528.97 L563.66 527.45 L564.06 526.21 L564.45 525.31 L564.84 525.00 L565.23 525.25 L565.62 525.85 L566.02 526.71 L566.41 527.74 L566.80 529.24 L567.19 531.77 L567.58 534.79 L567.98 537.73 L568.37 540.45 L568.76 543.27 L569.15 546.10 L569.54 548.87 L569.94 551.49 L570.33 553.98 L570.72 556.44 L571.11 558.80 L571.50 560.97 L571.89 562.88 L572.29 564.60 L572.68 566.26 L573.07 567.81 L573.46 569.22 L573.85 570.45 L574.25 571.47 L574.64 572.28 L575.03 573.03 L575.42 573.73 L575.81 574.38 L576.21 574.97 L576.60 575.48 L576.99 575.92 L577.38 576.27 L577.77 576.54 L578.17 576.72 L578.56 576.88 L578.95 577.03 L579.34 577.17 L579.73 577.29 L580.13 577.39 L580.52 577.48 L580.91 577.56 L581.30 577.63 L581.69 577.68 L582.09 577.72 L582.48 577.75 L582.87 577.78 L583.26 577.81 L583.65 577.83 L584.05 577.85 L584.44 577.86 L584.83 577.88 L585.22 577.90 L585.61 577.92 L586.01 577.94 L586.40 577.96 L586.79 577.99 L587.18 578.02 L587.57 578.06 L587.97 578.11 L588.36 578.15 L588.75 578.20 L589.14 578.26 L589.53 578.32 L589.93 578.38 L590.32 578.44 L590.71 578.50 L591.10 578.56 L591.49 578.63 L591.89 578.69 L592.28 578.75 L592.67 578.82 L593.06 578.88 L593.45 578.94 L593.85 578.99 L594.24 579.05 L594.63 579.11 L595.02 579.17 L595.41 579.23 L595.81 579.29 L596.20 579.35 L596.59 579.42 L596.98 579.48 L597.37 579.54 L597.77 579.61 L598.16 579.67 L598.55 579.72 L598.94 579.78 L599.33 579.84 L599.73 579.89 L600.12 579.94 L600.51 579.98 L600.90 580.02 L601.29 580.05 L601.68 580.09 L602.08 580.11 L602.47 580.13 L602.86 580.16 L603.25 580.18 L603.64 580.20 L604.04 580.22 L604.43 580.23 L604.82 580.25 L605.21 580.27 L605.60 580.28 L606.00 580.30 L606.39 580.31 L606.78 580.33 L607.17 580.34 L607.56 580.35 L607.96 580.37 L608.35 580.38 L608.74 580.39 L609.13 580.40 L609.52 580.42 L609.92 580.43 L610.31 580.44 L610.70 580.46 L611.09 580.47 L611.48 580.49 L611.88 580.50 L612.27 580.52 L612.66 580.54 L613.05 580.55 L613.44 580.57 L613.84 580.59 L614.23 580.60 L614.62 580.62 L615.01 580.64 L615.40 580.66 L615.80 580.67 L616.19 580.69 L616.58 580.71 L616.97 580.72 L617.36 580.74 L617.76 580.76 L618.15 580.77 L618.54 580.78 L618.93 580.80 L619.32 580.81 L619.72 580.82 L620.11 580.84 L620.50 580.85 L620.89 580.86 L621.28 580.88 L621.68 580.89 L622.07 580.90 L622.46 580.92 L622.85 580.93 L623.24 580.94 L623.64 580.95 L624.03 580.96 L624.42 580.98 L624.81 580.99 L625.20 581.00 L625.60 581.01 L625.99 581.02 L626.38 581.03 L626.77 581.04 L627.16 581.05 L627.56 581.06 L627.95 581.07 L628.34 581.07 L628.73 581.08 L629.12 581.09 L629.52 581.09 L629.91 581.10 L630.30 581.10 L630.69 581.11 L631.08 581.11 L631.47 581.12 L631.87 581.12 L632.26 581.13 L632.65 581.13 L633.04 581.14 L633.43 581.14 L633.83 581.15 L634.22 581.15 L634.61 581.15 L635.00 581.16 L635.39 581.16 L635.79 581.17 L636.18 581.17 L636.57 581.18 L636.96 581.18 L637.35 581.19 L637.75 581.19 L638.14 581.19 L638.53 581.20 L638.92 581.20 L639.31 581.21 L639.71 581.21 L640.10 581.21 L640.49 581.22 L640.88 581.22 L641.27 581.23 L641.67 581.23 L642.06 581.23 L642.45 581.24 L642.84 581.24 L643.23 581.24 L643.63 581.25 L644.02 581.25 L644.41 581.26 L644.80 581.26 L645.19 581.26 L645.59 581.27 L645.98 581.27 L646.37 581.27 L646.76 581.28 L647.15 581.28 L647.55 581.28 L647.94 581.29 L648.33 581.29 L648.72 581.29 L649.11 581.30 L649.51 581.30 L649.90 581.30 L650.29 581.30 L650.68 581.31 L651.07 581.31 L651.47 581.31 L651.86 581.32 L652.25 581.32 L652.64 581.32 L653.03 581.32 L653.43 581.33 L653.82 581.33 L654.21 581.33 L654.60 581.34 L654.99 581.34 L655.39 581.34 L655.78 581.34 L656.17 581.34 L656.56 581.35 L656.95 581.35 L657.35 581.35 L657.74 581.35 L658.13 581.36 L658.52 581.36 L658.91 581.36 L659.31 581.36 L659.70 581.36 L660.09 581.37 L660.48 581.37 L660.87 581.37 L661.26 581.37 L661.66 581.37 L662.05 581.37 L662.44 581.38 L662.83 581.38 L663.22 581.38 L663.62 581.38 L664.01 581.38 L664.40 581.38 L664.79 581.38 L665.18 581.39 L665.58 581.39 L665.97 581.39 L666.36 581.39 L666.75 581.39 L667.14 581.39 L667.54 581.39 L667.93 581.39 L668.32 581.39 L668.71 581.39 L669.10 581.40 L669.50 581.40 L669.89 581.40 L670.28 581.40 L670.67 581.40 L671.06 581.40 L671.46 581.40 L671.85 581.40 L672.24 581.40 L672.63 581.40 L673.02 581.40 L673.42 581.40 L673.81 581.40 L674.20 581.40 L674.20 581.40 L673.81 581.40 L673.42 581.40 L673.02 581.40 L672.63 581.40 L672.24 581.40 L671.85 581.40 L671.46 581.40 L671.06 581.40 L670.67 581.40 L670.28 581.40 L669.89 581.40 L669.50 581.40 L669.10 581.40 L668.71 581.41 L668.32 581.41 L667.93 581.41 L667.54 581.41 L667.14 581.41 L666.75 581.41 L666.36 581.41 L665.97 581.41 L665.58 581.41 L665.18 581.41 L664.79 581.42 L664.40 581.42 L664.01 581.42 L663.62 581.42 L663.22 581.42 L662.83 581.42 L662.44 581.42 L662.05 581.43 L661.66 581.43 L661.26 581.43 L660.87 581.43 L660.48 581.43 L660.09 581.43 L659.70 581.44 L659.31 581.44 L658.91 581.44 L658.52 581.44 L658.13 581.44 L657.74 581.45 L657.35 581.45 L656.95 581.45 L656.56 581.45 L656.17 581.46 L655.78 581.46 L655.39 581.46 L654.99 581.46 L654.60 581.46 L654.21 581.47 L653.82 581.47 L653.43 581.47 L653.03 581.48 L652.64 581.48 L652.25 581.48 L651.86 581.48 L651.47 581.49 L651.07 581.49 L650.68 581.49 L650.29 581.50 L649.90 581.50 L649.51 581.50 L649.11 581.50 L648.72 581.51 L648.33 581.51 L647.94 581.51 L647.55 581.52 L647.15 581.52 L646.76 581.52 L646.37 581.53 L645.98 581.53 L645.59 581.53 L645.19 581.54 L644.80 581.54 L644.41 581.54 L644.02 581.55 L643.63 581.55 L643.23 581.56 L642.84 581.56 L642.45 581.56 L642.06 581.57 L641.67 581.57 L641.27 581.57 L640.88 581.58 L640.49 581.58 L640.10 581.59 L639.71 581.59 L639.31 581.59 L638.92 581.60 L638.53 581.60 L638.14 581.61 L637.75 581.61 L637.35 581.61 L636.96 581.62 L636.57 581.62 L636.18 581.63 L635.79 581.63 L635.39 581.64 L635.00 581.64 L634.61 581.65 L634.22 581.65 L633.83 581.65 L633.43 581.66 L633.04 581.66 L632.65 581.67 L632.26 581.67 L631.87 581.68 L631.47 581.68 L631.08 581.69 L630.69 581.69 L630.30 581.70 L629.91 581.70 L629.52 581.71 L629.12 581.71 L628.73 581.72 L628.34 581.73 L627.95 581.73 L627.56 581.74 L627.16 581.75 L626.77 581.76 L626.38 581.77 L625.99 581.78 L625.60 581.79 L625.20 581.80 L624.81 581.81 L624.42 581.82 L624.03 581.84 L623.64 581.85 L623.24 581.86 L622.85 581.87 L622.46 581.88 L622.07 581.90 L621.68 581.91 L621.28 581.92 L620.89 581.94 L620.50 581.95 L620.11 581.96 L619.72 581.98 L619.32 581.99 L618.93 582.00 L618.54 582.02 L618.15 582.03 L617.76 582.04 L617.36 582.06 L616.97 582.08 L616.58 582.09 L616.19 582.11 L615.80 582.13 L615.40 582.14 L615.01 582.16 L614.62 582.18 L614.23 582.20 L613.84 582.21 L613.44 582.23 L613.05 582.25 L612.66 582.26 L612.27 582.28 L611.88 582.30 L611.48 582.31 L611.09 582.33 L610.70 582.34 L610.31 582.36 L609.92 582.37 L609.52 582.38 L609.13 582.40 L608.74 582.41 L608.35 582.42 L607.96 582.43 L607.56 582.45 L607.17 582.46 L606.78 582.47 L606.39 582.49 L606.00 582.50 L605.60 582.52 L605.21 582.53 L604.82 582.55 L604.43 582.57 L604.04 582.58 L603.64 582.60 L603.25 582.62 L602.86 582.64 L602.47 582.67 L602.08 582.69 L601.68 582.71 L601.29 582.75 L600.90 582.78 L600.51 582.82 L600.12 582.86 L599.73 582.91 L599.33 582.96 L598.94 583.02 L598.55 583.08 L598.16 583.13 L597.77 583.19 L597.37 583.26 L596.98 583.32 L596.59 583.38 L596.20 583.45 L595.81 583.51 L595.41 583.57 L595.02 583.63 L594.63 583.69 L594.24 583.75 L593.85 583.81 L593.45 583.86 L593.06 583.92 L592.67 583.98 L592.28 584.05 L591.89 584.11 L591.49 584.17 L591.10 584.24 L590.71 584.30 L590.32 584.36 L589.93 584.42 L589.53 584.48 L589.14 584.54 L588.75 584.60 L588.36 584.65 L587.97 584.69 L587.57 584.74 L587.18 584.78 L586.79 584.81 L586.40 584.84 L586.01 584.86 L585.61 584.88 L585.22 584.90 L584.83 584.92 L584.44 584.94 L584.05 584.95 L583.65 584.97 L583.26 584.99 L582.87 585.02 L582.48 585.05 L582.09 585.08 L581.69 585.12 L581.30 585.17 L580.91 585.24 L580.52 585.32 L580.13 585.41 L579.73 585.51 L579.34 585.63 L578.95 585.77 L578.56 585.92 L578.17 586.08 L577.77 586.26 L577.38 586.53 L576.99 586.88 L576.60 587.32 L576.21 587.83 L575.81 588.42 L575.42 589.07 L575.03 589.77 L574.64 590.52 L574.25 591.33 L573.85 592.35 L573.46 593.58 L573.07 594.99 L572.68 596.54 L572.29 598.20 L571.89 599.92 L571.50 601.83 L571.11 604.00 L570.72 606.36 L570.33 608.82 L569.94 611.31 L569.54 613.93 L569.15 616.70 L568.76 619.53 L568.37 622.35 L567.98 625.07 L567.58 628.01 L567.19 631.03 L566.80 633.56 L566.41 635.06 L566.02 636.09 L565.62 636.95 L565.23 637.55 L564.84 637.80 L564.45 637.49 L564.06 636.59 L563.66 635.35 L563.27 633.83 L562.88 631.45 L562.49 628.55 L562.10 625.58 L561.70 622.81 L561.31 619.97 L560.92 617.06 L560.53 614.07 L560.14 610.99 L559.74 607.81 L559.35 604.51 L558.96 601.08 L558.57 597.53 L558.18 593.80 L557.78 589.88 L557.39 585.90 L557.00 581.70Z" fill="#df9b21" stroke="#444444" stroke-width="1.25" stroke-linejoin="round"/>
<line x1="561.20" y1="581.40" x2="575.40" y2="581.40" stroke="#444444" stroke-width="1.5"/>
<rect x="561.20" y="578.90" width="9.20" height="5.10" fill="#444444"/>
<line x1="565.00" y1="579.20" x2="565.00" y2="583.70" stroke="#ffffff" stroke-width="1.1"/>
<path d="M58.90 14.00V155.00H187.60" fill="none" stroke="#3b3b3b" stroke-width="1.35" stroke-linecap="square"/>
<path d="M55.30 14.00H58.90M55.30 84.50H58.90M55.30 155.00H58.90M94.00 155.00V158.60M151.00 155.00V158.60" fill="none" stroke="#3b3b3b" stroke-width="1.35"/>
<path d="M222.80 14.00V155.00H351.50" fill="none" stroke="#3b3b3b" stroke-width="1.35" stroke-linecap="square"/>
<path d="M219.20 14.00H222.80M219.20 84.50H222.80M219.20 155.00H222.80M239.00 155.00V158.60M339.40 155.00V158.60" fill="none" stroke="#3b3b3b" stroke-width="1.35"/>
<path d="M387.40 14.00V155.00H515.70" fill="none" stroke="#3b3b3b" stroke-width="1.35" stroke-linecap="square"/>
<path d="M383.80 14.00H387.40M383.80 84.50H387.40M383.80 155.00H387.40M435.30 155.00V158.60M504.50 155.00V158.60" fill="none" stroke="#3b3b3b" stroke-width="1.35"/>
<path d="M551.20 14.00V155.00H679.70" fill="none" stroke="#3b3b3b" stroke-width="1.35" stroke-linecap="square"/>
<path d="M547.60 14.00H551.20M547.60 84.50H551.20M547.60 155.00H551.20M563.30 155.00V158.60M656.50 155.00V158.60" fill="none" stroke="#3b3b3b" stroke-width="1.35"/>
<path d="M58.90 180.00V320.60H187.60" fill="none" stroke="#3b3b3b" stroke-width="1.35" stroke-linecap="square"/>
<path d="M55.30 193.00H58.90M55.30 248.00H58.90M55.30 302.90H58.90M94.00 320.60V324.20M151.00 320.60V324.20" fill="none" stroke="#3b3b3b" stroke-width="1.35"/>
<path d="M222.80 180.00V320.60H351.50" fill="none" stroke="#3b3b3b" stroke-width="1.35" stroke-linecap="square"/>
<path d="M219.20 193.00H222.80M219.20 248.00H222.80M219.20 302.90H222.80M239.00 320.60V324.20M339.40 320.60V324.20" fill="none" stroke="#3b3b3b" stroke-width="1.35"/>
<path d="M387.40 180.00V320.60H515.70" fill="none" stroke="#3b3b3b" stroke-width="1.35" stroke-linecap="square"/>
<path d="M383.80 193.00H387.40M383.80 248.00H387.40M383.80 302.90H387.40M435.30 320.60V324.20M504.50 320.60V324.20" fill="none" stroke="#3b3b3b" stroke-width="1.35"/>
<path d="M551.20 180.00V320.60H679.70" fill="none" stroke="#3b3b3b" stroke-width="1.35" stroke-linecap="square"/>
<path d="M547.60 193.00H551.20M547.60 248.00H551.20M547.60 302.90H551.20M563.30 320.60V324.20M656.50 320.60V324.20" fill="none" stroke="#3b3b3b" stroke-width="1.35"/>
<path d="M58.90 345.40V486.20H187.60" fill="none" stroke="#3b3b3b" stroke-width="1.35" stroke-linecap="square"/>
<path d="M55.30 357.40H58.90M55.30 433.10H58.90M94.00 486.20V489.80M151.00 486.20V489.80" fill="none" stroke="#3b3b3b" stroke-width="1.35"/>
<path d="M222.80 345.40V486.20H351.50" fill="none" stroke="#3b3b3b" stroke-width="1.35" stroke-linecap="square"/>
<path d="M219.20 357.40H222.80M219.20 433.10H222.80M239.00 486.20V489.80M339.40 486.20V489.80" fill="none" stroke="#3b3b3b" stroke-width="1.35"/>
<path d="M387.40 345.40V486.20H515.70" fill="none" stroke="#3b3b3b" stroke-width="1.35" stroke-linecap="square"/>
<path d="M383.80 357.40H387.40M383.80 433.10H387.40M435.30 486.20V489.80M504.50 486.20V489.80" fill="none" stroke="#3b3b3b" stroke-width="1.35"/>
<path d="M551.20 345.40V486.20H679.70" fill="none" stroke="#3b3b3b" stroke-width="1.35" stroke-linecap="square"/>
<path d="M547.60 357.40H551.20M547.60 433.10H551.20M563.30 486.20V489.80M656.50 486.20V489.80" fill="none" stroke="#3b3b3b" stroke-width="1.35"/>
<path d="M58.90 510.90V651.70H187.60" fill="none" stroke="#3b3b3b" stroke-width="1.35" stroke-linecap="square"/>
<path d="M55.30 535.40H58.90M55.30 586.70H58.90M55.30 638.00H58.90M94.00 651.70V655.30M151.00 651.70V655.30" fill="none" stroke="#3b3b3b" stroke-width="1.35"/>
<path d="M222.80 510.90V651.70H351.50" fill="none" stroke="#3b3b3b" stroke-width="1.35" stroke-linecap="square"/>
<path d="M219.20 535.40H222.80M219.20 586.70H222.80M219.20 638.00H222.80M239.00 651.70V655.30M339.40 651.70V655.30" fill="none" stroke="#3b3b3b" stroke-width="1.35"/>
<path d="M387.40 510.90V651.70H515.70" fill="none" stroke="#3b3b3b" stroke-width="1.35" stroke-linecap="square"/>
<path d="M383.80 535.40H387.40M383.80 586.70H387.40M383.80 638.00H387.40M435.30 651.70V655.30M504.50 651.70V655.30" fill="none" stroke="#3b3b3b" stroke-width="1.35"/>
<path d="M551.20 510.90V651.70H679.70" fill="none" stroke="#3b3b3b" stroke-width="1.35" stroke-linecap="square"/>
<path d="M547.60 535.40H551.20M547.60 586.70H551.20M547.60 638.00H551.20M563.30 651.70V655.30M656.50 651.70V655.30" fill="none" stroke="#3b3b3b" stroke-width="1.35"/>
<text transform="scale(1.08 1)" x="22.36 30.81 39.37" y="20.90">1.0</text>
<text transform="scale(1.08 1)" x="22.61 30.81 39.19" y="91.40">0.5</text>
<text transform="scale(1.08 1)" x="22.61 30.81 39.37" y="161.90">0.0</text>
<text transform="scale(1.08 1)" x="22.61 30.81 39.47" y="199.90">0.2</text>
<text transform="scale(1.08 1)" x="22.61 30.81 39.12" y="254.90">0.1</text>
<text transform="scale(1.08 1)" x="22.61 30.81 39.37" y="309.80">0.0</text>
<text transform="scale(1.08 1)" x="30.74 39.37" y="364.30">10</text>
<text transform="scale(1.08 1)" x="39.19" y="440.00">5</text>
<text transform="scale(1.08 1)" x="22.71 30.99 39.37" y="542.30">200</text>
<text transform="scale(1.08 1)" x="22.36 30.99 39.37" y="593.60">100</text>
<text transform="scale(1.08 1)" x="39.37" y="644.90">0</text>
<text transform="scale(1.08 1)" x="82.54" y="672.00">0</text>
<text transform="scale(1.08 1)" x="131.23 139.33" y="672.00">25</text>
<text transform="scale(1.08 1)" x="208.42 216.62 225.18" y="672.00">0.0</text>
<text transform="scale(1.08 1)" x="301.38 309.58 318.24" y="672.00">0.2</text>
<text transform="scale(1.08 1)" x="398.38" y="672.00">5</text>
<text transform="scale(1.08 1)" x="458.19 466.82" y="672.00">10</text>
<text transform="scale(1.08 1)" x="517.07" y="672.00">0</text>
<text transform="scale(1.08 1)" x="595.09 603.37 611.75" y="672.00">200</text>
<text transform="scale(1.08 1)" x="57.12 64.00 89.14 98.45 105.74 115.77 131.97 139.41" y="690.80">teeratre</text><text transform="translate(77.98 690.80) scale(0.645 1)">m</text><text transform="translate(86.96 690.80) scale(1.074 1)">p</text><text transform="translate(132.28 690.80) scale(1.017 1)">u</text><path d="M159.85 692.50L166.75 678.50" stroke="#3a3a3a" stroke-width="1.0" fill="none"/><circle cx="171.10" cy="680.60" r="1.8" fill="none" stroke="#3a3a3a" stroke-width="0.9"/><text transform="translate(172.22 691.40) scale(1.0 1.09)">C</text>
<text transform="scale(1.08 1)" x="212.50 219.95 228.30 238.22 254.98 263.34 270.07 280.10 288.50 294.90" y="690.80">reciitatio</text><text transform="translate(219.19 690.80) scale(1.074 1)">p</text><text transform="translate(264.44 690.80) scale(1.074 1)">p</text><text transform="translate(327.67 690.80) scale(1.034 1)">n</text><path d="M337.33 692.50L344.23 678.50" stroke="#3a3a3a" stroke-width="1.0" fill="none"/><text transform="translate(345.96 690.80) scale(0.645 1)">m</text>
<text transform="scale(1.08 1)" x="361.12 393.61 409.88 418.26 469.02" y="690.80">isees</text><text transform="translate(379.36 690.80) scale(0.667 1)">w</text><text transform="translate(397.05 690.80) scale(1.034 1)">n</text><text transform="translate(405.84 690.80) scale(1.058 1)">d</text><text transform="translate(433.36 690.80) scale(1.074 1)">p</text><text transform="translate(460.14 690.80) scale(1.058 1)">d</text><path d="M470.05 692.50L476.95 678.50" stroke="#3a3a3a" stroke-width="1.0" fill="none"/><text transform="translate(481.12 688.80) scale(1 1.05)">(</text><text transform="translate(487.73 690.80) scale(0.645 1)">m</text><path d="M497.20 692.50L504.10 678.50" stroke="#3a3a3a" stroke-width="1.0" fill="none"/><text transform="translate(515.03 688.80) scale(1 1.05)">)</text>
<text transform="scale(1.08 1)" x="548.60 567.33 583.52 590.97 599.19 616.59" y="690.80">otreas</text><text transform="translate(556.35 690.80) scale(0.973 1)">F</text><text transform="translate(565.48 690.80) scale(0.811 1)">B</text><text transform="translate(574.57 690.80) scale(0.731 1)">D</text><text transform="translate(601.86 690.80) scale(1.017 1)">u</text><text transform="translate(620.20 690.80) scale(1.034 1)">b</text><text transform="translate(656.06 690.80) scale(0.993 1)">k</text>
<g transform="translate(19.30 86.80) rotate(-90)"><text transform="scale(1.08 1)" x="-44.43 -37.55 -12.41 -3.10 4.19 14.22 30.42 37.86" y="0.00">teeratre</text><text transform="translate(-31.69 0.00) scale(0.645 1)">m</text><text transform="translate(-22.71 0.00) scale(1.074 1)">p</text><text transform="translate(22.61 0.00) scale(1.017 1)">u</text></g>
<g transform="translate(19.30 250.70) rotate(-90)"><text transform="scale(1.08 1)" x="-53.38 -45.93 -37.58 -27.66 -10.90 -2.54 4.19 14.22 22.62 29.02" y="0.00">reciitatio</text><text transform="translate(-67.96 0.00) scale(1.074 1)">p</text><text transform="translate(-22.71 0.00) scale(1.074 1)">p</text><text transform="translate(40.52 0.00) scale(1.034 1)">n</text><path d="M50.17 1.70L57.07 -12.30" stroke="#3a3a3a" stroke-width="1.0" fill="none"/><text transform="translate(58.81 0.00) scale(0.645 1)">m</text></g>
<g transform="translate(28.00 416.00) rotate(-90)"><text transform="scale(1.08 1)" x="-56.99 -24.50 -8.22 0.16 50.92" y="0.00">isees</text><text transform="translate(-72.19 0.00) scale(0.667 1)">w</text><text transform="translate(-54.50 0.00) scale(1.034 1)">n</text><text transform="translate(-45.71 0.00) scale(1.058 1)">d</text><text transform="translate(-18.19 0.00) scale(1.074 1)">p</text><text transform="translate(8.59 0.00) scale(1.058 1)">d</text><path d="M18.50 1.70L25.40 -12.30" stroke="#3a3a3a" stroke-width="1.0" fill="none"/><text transform="translate(29.57 -2.00) scale(1 1.05)">(</text><text transform="translate(36.18 0.00) scale(0.645 1)">m</text><path d="M45.65 1.70L52.55 -12.30" stroke="#3a3a3a" stroke-width="1.0" fill="none"/><text transform="translate(63.48 -2.00) scale(1 1.05)">)</text></g>
<g transform="translate(19.30 582.50) rotate(-90)"><text transform="scale(1.08 1)" x="-21.26 -2.54 13.66 21.10 29.33 46.73" y="0.00">otreas</text><text transform="translate(-59.10 0.00) scale(0.973 1)">F</text><text transform="translate(-49.97 0.00) scale(0.811 1)">B</text><text transform="translate(-40.88 0.00) scale(0.731 1)">D</text><text transform="translate(-13.59 0.00) scale(1.017 1)">u</text><text transform="translate(4.75 0.00) scale(1.034 1)">b</text><text transform="translate(40.61 0.00) scale(0.993 1)">k</text></g>
<text transform="scale(1.08 1)" x="215.73 223.67 233.45 241.83 250.99 265.57 273.77 290.59" y="90.00">corr:0.6</text><text transform="translate(305.11 90.00) scale(1.028 1)">4</text><path d="M327.88 79.30L327.88 88.30M323.89 81.50L331.86 86.10M331.86 81.50L323.89 86.10" stroke="#3a3a3a" stroke-width="1.05" fill="none"/><path d="M336.93 79.30L336.93 88.30M332.94 81.50L340.91 86.10M340.91 81.50L332.94 86.10" stroke="#3a3a3a" stroke-width="1.05" fill="none"/>
<text transform="scale(1.08 1)" x="363.76 371.70 381.49 389.86 399.02 421.98 430.18 438.57" y="90.00">corr:0.5</text><text transform="translate(446.33 90.00) scale(1.027 1)">−</text><text transform="translate(483.09 90.00) scale(1.028 1)">4</text><path d="M496.80 79.30L496.80 88.30M492.82 81.50L500.78 86.10M500.78 81.50L492.82 86.10" stroke="#3a3a3a" stroke-width="1.05" fill="none"/><path d="M505.85 79.30L505.85 88.30M501.87 81.50L509.83 86.10M509.83 81.50L501.87 86.10" stroke="#3a3a3a" stroke-width="1.05" fill="none"/>
<text transform="scale(1.08 1)" x="519.71 527.65 537.43 545.81 554.97 569.55 577.75" y="90.00">corr:0.</text><text transform="translate(633.41 90.00) scale(1.028 1)">4</text><text transform="translate(642.46 90.00) scale(1.028 1)">4</text><path d="M656.17 79.30L656.17 88.30M652.19 81.50L660.16 86.10M660.16 81.50L652.19 86.10" stroke="#3a3a3a" stroke-width="1.05" fill="none"/><path d="M665.22 79.30L665.22 88.30M661.24 81.50L669.21 86.10M669.21 81.50L661.24 86.10" stroke="#3a3a3a" stroke-width="1.05" fill="none"/>
<text transform="scale(1.08 1)" x="363.76 371.70 381.49 389.86 399.02 421.98 430.18 438.49 447.04" y="255.80">corr:0.13</text><text transform="translate(446.33 255.80) scale(1.027 1)">−</text><path d="M496.80 245.10L496.80 254.10M492.82 247.30L500.78 251.90M500.78 247.30L492.82 251.90" stroke="#3a3a3a" stroke-width="1.05" fill="none"/><path d="M505.85 245.10L505.85 254.10M501.87 247.30L509.83 251.90M509.83 247.30L501.87 251.90" stroke="#3a3a3a" stroke-width="1.05" fill="none"/>
<text transform="scale(1.08 1)" x="519.71 527.65 537.43 545.81 554.97 569.55 577.75 586.41 594.69" y="255.80">corr:0.28</text><path d="M656.17 245.10L656.17 254.10M652.19 247.30L660.16 251.90M660.16 247.30L652.19 251.90" stroke="#3a3a3a" stroke-width="1.05" fill="none"/><path d="M665.22 245.10L665.22 254.10M661.24 247.30L669.21 251.90M669.21 247.30L661.24 251.90" stroke="#3a3a3a" stroke-width="1.05" fill="none"/>
<text transform="scale(1.08 1)" x="515.52 523.46 533.24 541.62 550.78 573.74 581.94 590.60 598.80" y="421.30">corr:0.23</text><text transform="translate(610.23 421.30) scale(1.027 1)">−</text><path d="M660.70 410.60L660.70 419.60M656.72 412.80L664.68 417.40M664.68 412.80L656.72 417.40" stroke="#3a3a3a" stroke-width="1.05" fill="none"/><path d="M669.75 410.60L669.75 419.60M665.77 412.80L673.73 417.40M673.73 412.80L665.77 417.40" stroke="#3a3a3a" stroke-width="1.05" fill="none"/>
</svg></body></html>
